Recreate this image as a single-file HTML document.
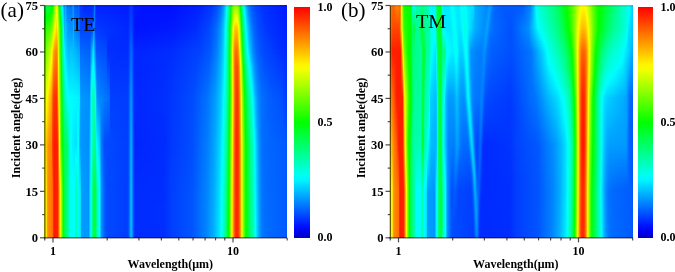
<!DOCTYPE html>
<html><head><meta charset="utf-8"><style>
html,body{margin:0;padding:0;background:#fff;}
body{width:675px;height:272px;position:relative;overflow:hidden;}
.fld{position:absolute;overflow:hidden;}
.fld div{position:absolute;left:0;width:100%;}
.cb{position:absolute;background:linear-gradient(180deg,#ff0000 0.0%,#ff1900 2.5%,#ff3100 5.0%,#ff4a00 7.5%,#ff6200 10.0%,#ff7b00 12.5%,#ff9300 15.0%,#ffac00 17.5%,#ffc400 20.0%,#ffdd00 22.5%,#fff500 25.0%,#efff00 27.5%,#d4ff00 30.0%,#baff00 32.5%,#9fff00 35.0%,#85ff00 37.5%,#6aff00 40.0%,#50ff00 42.5%,#35ff00 45.0%,#1bff00 47.5%,#00ff00 50.0%,#00ff1b 52.5%,#00ff35 55.0%,#00ff50 57.5%,#00ff6a 60.0%,#00ff85 62.5%,#00ff9f 65.0%,#00ffba 67.5%,#00ffd5 70.0%,#00ffef 72.5%,#00f4ff 75.0%,#00d7ff 77.5%,#00bbff 80.0%,#009fff 82.5%,#0082ff 85.0%,#0066ff 87.5%,#004aff 90.0%,#002dff 92.5%,#0011ff 95.0%,#0000ec 97.5%,#0000be 100.0%);}
svg{position:absolute;left:0;top:0;will-change:transform;}
.ax{stroke:#000;stroke-width:1.3;stroke-opacity:0.62;}
.tk{stroke:#000;stroke-width:1.2;stroke-opacity:0.7;}
.tl{font-family:"Liberation Serif",serif;font-weight:bold;font-size:12px;fill:#000;}
.yl{font-size:12.6px;}
.at{font-family:"Liberation Serif",serif;font-weight:bold;font-size:12px;fill:#000;}
.pl{font-family:"Liberation Serif",serif;font-size:21px;fill:#000;}
.tt{font-family:"Liberation Serif",serif;font-size:19px;fill:#000;}
</style></head><body>
<div class="fld" style="left:44.10px;top:5.1px;width:242.90px;height:232.7px"><div style="top:0.0px;height:2.9px;background:linear-gradient(90deg,#00ff46 0.16%,#00ff32 1.71%,#00ff22 3.15%,#00ff01 3.66%,#06ff00 3.77%,#3dff00 3.97%,#5aff00 4.08%,#aeff00 4.69%,#e8ff00 5.00%,#f5ff00 5.31%,#ebff00 5.41%,#d7ff00 5.52%,#1aff00 6.13%,#07ff00 6.24%,#00ff0b 6.34%,#00ff7a 6.96%,#00ffe3 7.37%,#00fdff 7.58%,#00beff 7.99%,#0097ff 8.40%,#0092ff 8.50%,#00b6ff 8.91%,#00b5ff 9.02%,#0083ff 9.32%,#0079ff 9.43%,#006dff 11.38%,#00a3ff 12.00%,#008cff 12.21%,#0062ff 12.52%,#0056ff 13.96%,#0077ff 14.37%,#0043ff 14.68%,#0036ff 15.40%,#0029ff 16.74%,#002cff 20.34%,#0074ff 20.75%,#007eff 20.85%,#0023ff 21.37%,#001bff 34.64%,#0039ff 35.88%,#002eff 36.39%,#0019ff 37.11%,#0012ff 41.23%,#000fff 51.63%,#0021ff 64.08%,#0036ff 69.02%,#0051ff 71.39%,#0076ff 72.93%,#00a1ff 73.96%,#00d1ff 74.68%,#00ffff 75.20%,#00ffb9 75.81%,#00ff51 76.53%,#01ff00 77.05%,#4cff00 77.56%,#77ff00 77.97%,#90ff00 78.39%,#99ff00 78.90%,#95ff00 79.42%,#7fff00 79.83%,#51ff00 80.24%,#00ff03 80.75%,#00ff94 81.58%,#00ffde 82.09%,#00fcff 82.40%,#00c1ff 83.02%,#0094ff 83.74%,#006cff 84.77%,#004eff 86.31%,#0035ff 89.19%,#0021ff 96.71%,#0019ff 100.00%)"></div><div style="top:2.4px;height:2.5px;background:linear-gradient(90deg,#00ff3d 0.16%,#00ff28 1.71%,#00ff18 3.05%,#00ff01 3.46%,#15ff00 3.77%,#65ff00 4.08%,#b6ff00 4.69%,#edff00 5.00%,#f9ff00 5.31%,#efff00 5.41%,#dcff00 5.52%,#23ff00 6.13%,#00ff01 6.34%,#00ff6f 6.96%,#00ffd5 7.37%,#00fff7 7.58%,#00f5ff 7.68%,#00c3ff 7.99%,#009aff 8.40%,#0096ff 8.50%,#00b7ff 8.91%,#00b7ff 9.02%,#0087ff 9.32%,#007dff 9.43%,#0071ff 11.38%,#009bff 11.90%,#00a4ff 12.00%,#009eff 12.10%,#0065ff 12.52%,#0059ff 13.96%,#0076ff 14.37%,#0046ff 14.68%,#003aff 15.19%,#002cff 16.74%,#002eff 20.03%,#0034ff 20.34%,#0067ff 20.65%,#0075ff 20.75%,#007dff 20.85%,#0025ff 21.37%,#001bff 34.54%,#002cff 35.26%,#003bff 35.88%,#002fff 36.39%,#0019ff 37.11%,#0013ff 40.51%,#0010ff 51.73%,#0021ff 63.77%,#0038ff 68.92%,#0054ff 71.39%,#0079ff 72.93%,#00a5ff 73.96%,#00d5ff 74.68%,#00faff 75.09%,#00fff0 75.30%,#00ffa6 75.92%,#00ff39 76.64%,#00ff06 76.95%,#1bff00 77.15%,#65ff00 77.67%,#8dff00 78.08%,#a3ff00 78.49%,#a9ff00 79.11%,#a1ff00 79.52%,#8eff00 79.83%,#6dff00 80.14%,#2eff00 80.55%,#09ff00 80.75%,#00ff0a 80.86%,#00ff8b 81.58%,#00ffd6 82.09%,#00fffa 82.40%,#00eeff 82.61%,#00b8ff 83.22%,#008aff 84.05%,#0065ff 85.18%,#0048ff 86.93%,#0031ff 90.22%,#001aff 100.00%)"></div><div style="top:4.4px;height:2.5px;background:linear-gradient(90deg,#00ff33 0.16%,#00ff1e 1.71%,#00ff10 2.84%,#00ff08 3.15%,#00ff01 3.25%,#25ff00 3.77%,#70ff00 4.08%,#beff00 4.69%,#f1ff00 5.00%,#fdff00 5.31%,#f3ff00 5.41%,#e1ff00 5.52%,#8aff00 5.83%,#2cff00 6.13%,#08ff00 6.34%,#00ff0a 6.44%,#00ff64 6.96%,#00ffc8 7.37%,#00feff 7.68%,#00c9ff 7.99%,#009dff 8.40%,#0099ff 8.50%,#00b9ff 8.91%,#00b8ff 9.02%,#008bff 9.32%,#0082ff 9.43%,#0074ff 11.38%,#0092ff 11.79%,#00a5ff 12.00%,#00a0ff 12.10%,#0068ff 12.52%,#005cff 13.96%,#0075ff 14.37%,#0049ff 14.68%,#003cff 15.09%,#002eff 16.74%,#002eff 19.93%,#003cff 20.34%,#0060ff 20.54%,#0076ff 20.75%,#007bff 20.85%,#0036ff 21.26%,#0027ff 21.37%,#001dff 34.54%,#002dff 35.26%,#003dff 35.88%,#0030ff 36.39%,#0019ff 37.11%,#0013ff 40.00%,#0011ff 51.73%,#0022ff 63.57%,#0039ff 68.81%,#0056ff 71.28%,#007dff 72.93%,#00a9ff 73.96%,#00d9ff 74.68%,#00ffff 75.09%,#00ffbb 75.71%,#00ff63 76.33%,#03ff00 76.95%,#63ff00 77.56%,#92ff00 77.97%,#aeff00 78.39%,#b8ff00 78.90%,#b4ff00 79.42%,#a5ff00 79.72%,#88ff00 80.03%,#4cff00 80.44%,#02ff00 80.86%,#00ff92 81.68%,#00ffdb 82.19%,#00fffe 82.50%,#00bfff 83.22%,#008fff 84.05%,#0068ff 85.18%,#004aff 86.93%,#0033ff 90.12%,#001aff 100.00%)"></div><div style="top:6.4px;height:2.5px;background:linear-gradient(90deg,#00ff2a 0.16%,#00ff13 1.81%,#00ff07 2.74%,#06ff00 3.15%,#34ff00 3.77%,#7bff00 4.08%,#c6ff00 4.69%,#f6ff00 5.00%,#fffd00 5.21%,#fffd00 5.31%,#f7ff00 5.41%,#e6ff00 5.52%,#b1ff00 5.72%,#35ff00 6.13%,#00ff00 6.44%,#00ff59 6.96%,#00ffba 7.37%,#00fff8 7.68%,#00f0ff 7.78%,#00cfff 7.99%,#00a1ff 8.40%,#009dff 8.50%,#00baff 8.91%,#00baff 9.02%,#008fff 9.32%,#0086ff 9.43%,#007eff 10.05%,#0077ff 11.38%,#0089ff 11.69%,#00a7ff 12.00%,#00a3ff 12.10%,#006bff 12.52%,#005eff 13.96%,#0074ff 14.37%,#004cff 14.68%,#003dff 15.09%,#0030ff 16.84%,#0030ff 19.93%,#0044ff 20.34%,#0068ff 20.54%,#0077ff 20.75%,#007aff 20.85%,#0043ff 21.16%,#0029ff 21.37%,#001eff 34.54%,#002fff 35.26%,#003eff 35.78%,#0039ff 36.19%,#001bff 37.01%,#0014ff 38.25%,#0012ff 51.73%,#0023ff 63.36%,#003bff 68.71%,#0057ff 71.18%,#007dff 72.83%,#00a7ff 73.86%,#00deff 74.68%,#00f9ff 74.99%,#00fff1 75.20%,#00ffa9 75.81%,#00ff4c 76.43%,#00ff06 76.84%,#1dff00 77.05%,#6fff00 77.56%,#a0ff00 77.97%,#bcff00 78.39%,#c7ff00 78.90%,#c3ff00 79.42%,#b4ff00 79.72%,#96ff00 80.03%,#59ff00 80.44%,#0eff00 80.86%,#00ff06 80.96%,#00ff89 81.68%,#00ffd3 82.19%,#00fcff 82.61%,#00c5ff 83.22%,#0094ff 84.05%,#006bff 85.18%,#004dff 86.83%,#0036ff 89.71%,#001bff 100.00%)"></div><div style="top:8.4px;height:2.5px;background:linear-gradient(90deg,#00ff21 0.16%,#00ff09 1.81%,#00ff00 2.63%,#1aff00 3.25%,#43ff00 3.77%,#85ff00 4.08%,#dcff00 4.80%,#faff00 5.00%,#fff900 5.21%,#fbff00 5.41%,#ebff00 5.52%,#baff00 5.72%,#3fff00 6.13%,#0aff00 6.44%,#00ff08 6.55%,#00ff4e 6.96%,#00ffef 7.68%,#00f7ff 7.78%,#00d4ff 7.99%,#00a4ff 8.40%,#00a1ff 8.50%,#00bbff 8.91%,#00bbff 9.02%,#0093ff 9.32%,#008aff 9.43%,#0082ff 9.84%,#007aff 11.38%,#0089ff 11.69%,#00a8ff 12.00%,#00a6ff 12.10%,#006eff 12.52%,#0061ff 13.96%,#0074ff 14.37%,#004eff 14.68%,#003eff 14.99%,#0033ff 16.84%,#0033ff 19.93%,#004cff 20.34%,#006fff 20.54%,#0079ff 20.75%,#0079ff 20.85%,#0042ff 21.16%,#002bff 21.37%,#001fff 34.54%,#0030ff 35.26%,#0040ff 35.78%,#003aff 36.19%,#001bff 37.01%,#0014ff 38.25%,#0013ff 51.93%,#0024ff 63.15%,#003cff 68.61%,#005aff 71.18%,#0080ff 72.83%,#00abff 73.86%,#00daff 74.58%,#00feff 74.99%,#00ffca 75.50%,#00ff77 76.12%,#02ff00 76.84%,#7aff00 77.56%,#adff00 77.97%,#cbff00 78.39%,#d6ff00 78.90%,#d2ff00 79.42%,#c2ff00 79.72%,#a4ff00 80.03%,#66ff00 80.44%,#05ff00 80.96%,#00ff23 81.17%,#00ff90 81.78%,#00ffd8 82.30%,#00fffa 82.61%,#00efff 82.81%,#00b6ff 83.53%,#0087ff 84.46%,#0062ff 85.69%,#0045ff 87.65%,#002fff 91.56%,#001cff 100.00%)"></div><div style="top:10.4px;height:2.5px;background:linear-gradient(90deg,#00ff18 0.16%,#00ff01 1.71%,#0fff00 2.74%,#28ff00 3.25%,#52ff00 3.77%,#90ff00 4.08%,#cbff00 4.59%,#ffff00 5.00%,#fff400 5.21%,#fff500 5.31%,#ffff00 5.41%,#f0ff00 5.52%,#c2ff00 5.72%,#48ff00 6.13%,#02ff00 6.55%,#00ff43 6.96%,#00ffce 7.58%,#00feff 7.78%,#00daff 7.99%,#00a7ff 8.40%,#00a5ff 8.50%,#00bdff 8.91%,#00bdff 9.02%,#008eff 9.43%,#0086ff 9.74%,#007dff 11.38%,#008aff 11.69%,#00a9ff 12.00%,#00a9ff 12.10%,#0071ff 12.52%,#0063ff 13.96%,#0073ff 14.37%,#0051ff 14.68%,#003fff 14.99%,#0035ff 17.04%,#0035ff 19.93%,#0054ff 20.34%,#0077ff 20.54%,#0077ff 20.85%,#0040ff 21.16%,#002dff 21.37%,#0020ff 34.54%,#0032ff 35.26%,#0041ff 35.78%,#003bff 36.19%,#001aff 37.01%,#0014ff 38.14%,#0013ff 52.04%,#0025ff 63.05%,#003eff 68.51%,#005bff 71.08%,#0084ff 72.83%,#00afff 73.86%,#00deff 74.58%,#00fffc 74.99%,#00ffb9 75.61%,#00ff60 76.22%,#00ff08 76.74%,#0aff00 76.84%,#86ff00 77.56%,#baff00 77.97%,#d9ff00 78.39%,#e5ff00 78.90%,#e1ff00 79.42%,#d1ff00 79.72%,#b2ff00 80.03%,#74ff00 80.44%,#11ff00 80.96%,#00ff04 81.06%,#00ff77 81.68%,#00ffc3 82.19%,#00fffe 82.71%,#00c3ff 83.43%,#0094ff 84.25%,#006cff 85.38%,#004eff 87.03%,#0036ff 90.02%,#001cff 100.00%)"></div><div style="top:12.4px;height:2.5px;background:linear-gradient(90deg,#00ff0f 0.16%,#02ff00 1.09%,#15ff00 2.63%,#35ff00 3.25%,#61ff00 3.77%,#9bff00 4.08%,#c9ff00 4.49%,#f7ff00 4.90%,#fffb00 5.00%,#fff000 5.21%,#fff200 5.31%,#fffb00 5.41%,#f5ff00 5.52%,#caff00 5.72%,#51ff00 6.13%,#0cff00 6.55%,#00ff05 6.65%,#00ff38 6.96%,#00ffa9 7.47%,#00fffa 7.78%,#00dfff 7.99%,#00abff 8.40%,#00a9ff 8.50%,#00beff 8.91%,#00bfff 9.02%,#0093ff 9.43%,#0089ff 9.74%,#0080ff 11.38%,#008bff 11.69%,#00aaff 12.00%,#00acff 12.10%,#0074ff 12.52%,#0066ff 13.96%,#0072ff 14.37%,#0061ff 14.57%,#004cff 14.78%,#0040ff 14.99%,#0038ff 17.15%,#0038ff 19.93%,#005cff 20.34%,#007eff 20.54%,#0076ff 20.85%,#003fff 21.16%,#002fff 21.37%,#0021ff 34.54%,#0033ff 35.26%,#0043ff 35.78%,#003dff 36.19%,#001dff 36.91%,#0014ff 37.73%,#0014ff 52.14%,#0026ff 62.84%,#003fff 68.40%,#005eff 71.08%,#0087ff 72.83%,#00b2ff 73.86%,#00e2ff 74.58%,#00fdff 74.89%,#00ffcd 75.40%,#00ff7b 76.02%,#00ff00 76.74%,#91ff00 77.56%,#c7ff00 77.97%,#e8ff00 78.39%,#f4ff00 78.80%,#f0ff00 79.42%,#e0ff00 79.72%,#c1ff00 80.03%,#81ff00 80.44%,#07ff00 81.06%,#00ff0e 81.17%,#00ff7f 81.78%,#00ffc9 82.30%,#00fff7 82.71%,#00fdff 82.81%,#00c2ff 83.53%,#0090ff 84.46%,#0068ff 85.69%,#0049ff 87.55%,#0033ff 91.05%,#001dff 100.00%)"></div><div style="top:14.4px;height:2.5px;background:linear-gradient(90deg,#00ff06 0.16%,#07ff00 0.78%,#20ff00 2.63%,#4aff00 3.36%,#70ff00 3.77%,#a6ff00 4.08%,#c9ff00 4.38%,#fcff00 4.90%,#ffeb00 5.21%,#ffee00 5.31%,#faff00 5.52%,#d2ff00 5.72%,#5aff00 6.13%,#06ff00 6.65%,#00ff1c 6.85%,#00ff43 7.06%,#00ff9d 7.47%,#00fff4 7.78%,#00f5ff 7.88%,#00aeff 8.40%,#00b2ff 8.60%,#00c0ff 9.02%,#0097ff 9.43%,#008dff 9.63%,#0085ff 11.49%,#008bff 11.69%,#00abff 12.00%,#00afff 12.10%,#0076ff 12.52%,#0068ff 13.96%,#0071ff 14.37%,#0063ff 14.57%,#004fff 14.78%,#0041ff 14.99%,#003aff 17.56%,#003aff 19.93%,#0064ff 20.34%,#0086ff 20.54%,#0074ff 20.85%,#003eff 21.16%,#0031ff 21.37%,#0022ff 34.54%,#0035ff 35.26%,#0045ff 35.78%,#003eff 36.19%,#001dff 36.91%,#0013ff 37.73%,#0015ff 52.35%,#0027ff 62.74%,#0041ff 68.40%,#005fff 70.98%,#0088ff 72.73%,#00b1ff 73.75%,#00e6ff 74.58%,#00fffd 74.89%,#00ffbc 75.50%,#00ff65 76.12%,#00ff0c 76.64%,#07ff00 76.74%,#8bff00 77.46%,#c8ff00 77.87%,#f0ff00 78.28%,#ffff00 78.59%,#fffb00 79.21%,#fbff00 79.52%,#e6ff00 79.83%,#c1ff00 80.14%,#7aff00 80.55%,#00ff03 81.17%,#00ff76 81.78%,#00ffc1 82.30%,#00fffa 82.81%,#00f0ff 83.02%,#00baff 83.74%,#008cff 84.66%,#0063ff 86.00%,#0047ff 87.86%,#0031ff 91.66%,#001dff 100.00%)"></div><div style="top:16.4px;height:2.5px;background:linear-gradient(90deg,#03ff00 0.16%,#20ff00 1.91%,#2aff00 2.63%,#60ff00 3.46%,#7fff00 3.77%,#bdff00 4.18%,#f7ff00 4.80%,#fffc00 4.90%,#ffe700 5.21%,#fff300 5.41%,#ffff00 5.52%,#daff00 5.72%,#63ff00 6.13%,#00ff01 6.75%,#00ff22 6.96%,#00ff77 7.37%,#00ffb0 7.58%,#00ffee 7.78%,#00faff 7.88%,#00b1ff 8.40%,#00b9ff 8.71%,#00c2ff 9.02%,#009bff 9.43%,#0090ff 9.63%,#0088ff 11.49%,#008cff 11.69%,#00acff 12.00%,#00b2ff 12.10%,#0079ff 12.52%,#006cff 14.06%,#0071ff 14.37%,#0065ff 14.57%,#0049ff 14.88%,#0042ff 14.99%,#003dff 18.48%,#003dff 19.93%,#006cff 20.34%,#008dff 20.54%,#0073ff 20.85%,#003dff 21.16%,#0033ff 21.37%,#0023ff 34.54%,#0036ff 35.26%,#0047ff 35.78%,#003fff 36.19%,#001dff 36.91%,#0013ff 37.73%,#0017ff 52.55%,#0028ff 62.64%,#0043ff 68.30%,#0062ff 70.98%,#008bff 72.73%,#00b4ff 73.75%,#00eaff 74.58%,#00fcff 74.78%,#00ffe6 75.09%,#00ff9d 75.71%,#00ff3d 76.33%,#00ff05 76.64%,#22ff00 76.84%,#a7ff00 77.56%,#e1ff00 77.97%,#feff00 78.28%,#ffef00 78.69%,#ffee00 79.31%,#feff00 79.72%,#ddff00 80.03%,#9bff00 80.44%,#08ff00 81.17%,#00ff0d 81.27%,#00ff6d 81.78%,#00ffb9 82.30%,#00fffd 82.91%,#00c0ff 83.74%,#0090ff 84.66%,#0068ff 85.90%,#004bff 87.65%,#0035ff 91.05%,#001eff 100.00%)"></div><div style="top:18.4px;height:2.5px;background:linear-gradient(90deg,#0dff00 0.16%,#29ff00 1.81%,#34ff00 2.63%,#6dff00 3.46%,#9dff00 3.87%,#d4ff00 4.28%,#feff00 4.80%,#ffe200 5.21%,#fff000 5.41%,#fffa00 5.52%,#f6ff00 5.62%,#e2ff00 5.72%,#6cff00 6.13%,#0aff00 6.75%,#00ff07 6.85%,#00ff40 7.16%,#00ff6a 7.37%,#00ffa6 7.58%,#00ffe8 7.78%,#00fffe 7.88%,#00b4ff 8.40%,#00c3ff 9.02%,#0099ff 9.53%,#0092ff 9.74%,#008bff 11.59%,#008cff 11.69%,#00b5ff 12.10%,#007cff 12.52%,#006fff 14.16%,#0070ff 14.37%,#0068ff 14.57%,#0043ff 14.99%,#003fff 19.93%,#0084ff 20.44%,#0095ff 20.54%,#0072ff 20.85%,#003cff 21.16%,#0034ff 21.47%,#0024ff 34.54%,#0038ff 35.26%,#0048ff 35.78%,#0040ff 36.19%,#001dff 36.91%,#0013ff 37.63%,#0017ff 52.66%,#0029ff 62.54%,#0045ff 68.30%,#0065ff 70.98%,#008eff 72.73%,#00b8ff 73.75%,#00e6ff 74.48%,#00fffe 74.78%,#00ffc0 75.40%,#00ff7b 75.92%,#02ff00 76.64%,#b2ff00 77.56%,#eeff00 77.97%,#faff00 78.08%,#fff300 78.28%,#ffe100 78.69%,#ffe000 79.31%,#fff300 79.72%,#fffb00 79.83%,#f8ff00 79.93%,#ccff00 80.24%,#6aff00 80.75%,#00ff03 81.27%,#00ff64 81.78%,#00ffb2 82.30%,#00fff7 82.91%,#00feff 83.02%,#00c5ff 83.74%,#0094ff 84.66%,#006bff 85.90%,#004cff 87.65%,#0036ff 90.94%,#001fff 100.00%)"></div><div style="top:20.4px;height:2.5px;background:linear-gradient(90deg,#16ff00 0.16%,#30ff00 1.61%,#3fff00 2.63%,#7bff00 3.46%,#b8ff00 3.97%,#deff00 4.28%,#fdff00 4.69%,#ffde00 5.21%,#fff600 5.52%,#fdff00 5.62%,#eaff00 5.72%,#75ff00 6.13%,#04ff00 6.85%,#00ff0c 6.96%,#00ff5c 7.37%,#00ff79 7.47%,#00ffe2 7.78%,#00fff9 7.88%,#00f6ff 7.99%,#00b8ff 8.40%,#00c5ff 9.02%,#0096ff 9.63%,#008dff 11.69%,#00b8ff 12.10%,#007fff 12.52%,#006cff 14.47%,#006aff 14.57%,#0043ff 14.99%,#0042ff 19.93%,#009cff 20.54%,#005eff 20.96%,#003aff 21.16%,#0035ff 22.50%,#0025ff 34.54%,#0039ff 35.26%,#004aff 35.78%,#0042ff 36.19%,#001dff 36.91%,#0013ff 37.63%,#0019ff 52.86%,#002aff 62.43%,#0046ff 68.20%,#0066ff 70.87%,#0092ff 72.73%,#00bbff 73.75%,#00eaff 74.48%,#00fbff 74.68%,#00fff1 74.89%,#00ffaf 75.50%,#00ff66 76.02%,#00ff0b 76.53%,#08ff00 76.64%,#bdff00 77.56%,#fbff00 77.97%,#ffe600 78.28%,#ffd300 78.69%,#ffd200 79.31%,#ffde00 79.62%,#fff800 79.93%,#f9ff00 80.03%,#b5ff00 80.44%,#08ff00 81.27%,#00ff0d 81.37%,#00ff6c 81.89%,#00ffb7 82.40%,#00fffa 83.02%,#00f2ff 83.22%,#00b8ff 84.05%,#0088ff 85.08%,#0062ff 86.41%,#0047ff 88.37%,#0031ff 92.69%,#001fff 100.00%)"></div><div style="top:22.4px;height:2.5px;background:linear-gradient(90deg,#1fff00 0.16%,#38ff00 1.50%,#49ff00 2.63%,#89ff00 3.46%,#e9ff00 4.28%,#feff00 4.59%,#ffd900 5.21%,#fffa00 5.62%,#f3ff00 5.72%,#7fff00 6.13%,#00ff01 6.96%,#00ff4f 7.37%,#00ff6d 7.47%,#00ffdb 7.78%,#00fff3 7.88%,#00fbff 7.99%,#00bbff 8.40%,#00c6ff 9.02%,#0099ff 9.63%,#008eff 11.69%,#00bbff 12.10%,#0082ff 12.52%,#006cff 14.57%,#0044ff 14.99%,#0044ff 19.93%,#00a4ff 20.54%,#0039ff 21.16%,#0026ff 34.54%,#003bff 35.26%,#004cff 35.78%,#0047ff 36.08%,#001dff 36.91%,#0013ff 37.63%,#001aff 53.17%,#002bff 62.33%,#0048ff 68.20%,#0069ff 70.87%,#0095ff 72.73%,#00bfff 73.75%,#00eeff 74.48%,#00ffff 74.68%,#00ffc3 75.30%,#00ff80 75.81%,#00ff2b 76.33%,#00ff05 76.53%,#24ff00 76.74%,#c7ff00 77.56%,#faff00 77.87%,#ffec00 78.08%,#ffcc00 78.49%,#ffc300 78.90%,#ffc700 79.42%,#ffd700 79.72%,#fff700 80.03%,#f9ff00 80.14%,#adff00 80.55%,#12ff00 81.27%,#00ff03 81.37%,#00ff64 81.89%,#00ffb0 82.40%,#00fff3 83.02%,#00fffc 83.12%,#00bdff 84.05%,#008cff 85.08%,#0064ff 86.41%,#0049ff 88.27%,#0033ff 92.28%,#0020ff 100.00%)"></div><div style="top:24.4px;height:2.5px;background:linear-gradient(90deg,#26ff00 0.16%,#55ff00 2.63%,#95ff00 3.46%,#f4ff00 4.28%,#fffc00 4.49%,#ffd200 5.21%,#ffea00 5.52%,#fff400 5.62%,#f9ff00 5.72%,#82ff00 6.13%,#01ff00 6.96%,#00ff4d 7.37%,#00ff6b 7.47%,#00ffd8 7.78%,#00ffef 7.88%,#00fffe 7.99%,#00c0ff 8.40%,#00c7ff 9.02%,#009cff 9.63%,#0092ff 11.69%,#00bbff 12.10%,#0087ff 12.52%,#0070ff 14.57%,#0047ff 14.99%,#0049ff 19.21%,#004fff 19.93%,#00a8ff 20.54%,#003fff 21.16%,#0035ff 24.87%,#0026ff 34.44%,#0034ff 35.06%,#004eff 35.78%,#004aff 36.08%,#001eff 36.91%,#0014ff 37.63%,#001bff 53.17%,#002dff 62.43%,#0049ff 68.20%,#006bff 70.87%,#0097ff 72.73%,#00c1ff 73.75%,#00efff 74.48%,#00fffe 74.68%,#00ffc2 75.30%,#00ff7f 75.81%,#00ff29 76.33%,#00ff03 76.53%,#cdff00 77.56%,#fffe00 77.87%,#ffd200 78.28%,#ffbe00 78.69%,#ffbc00 79.31%,#ffc800 79.62%,#ffe200 79.93%,#fffd00 80.14%,#dfff00 80.34%,#5dff00 80.96%,#04ff00 81.37%,#00ff39 81.68%,#00ff8e 82.19%,#00ffcf 82.71%,#00fdff 83.22%,#00c1ff 84.05%,#008fff 85.08%,#0066ff 86.41%,#004aff 88.27%,#0034ff 92.18%,#0020ff 100.00%)"></div><div style="top:26.4px;height:2.5px;background:linear-gradient(90deg,#2cff00 0.16%,#60ff00 2.63%,#a1ff00 3.46%,#f5ff00 4.18%,#fffe00 4.28%,#ffcb00 5.21%,#ffd700 5.41%,#ffee00 5.62%,#feff00 5.72%,#85ff00 6.13%,#02ff00 6.96%,#00ff4e 7.37%,#00ff8e 7.58%,#00ffd4 7.78%,#00ffeb 7.88%,#00fff9 7.99%,#00f5ff 8.09%,#00c6ff 8.40%,#00c8ff 9.02%,#00a0ff 9.63%,#0096ff 11.69%,#00bcff 12.10%,#008cff 12.52%,#0075ff 14.57%,#004bff 14.99%,#004bff 19.00%,#005aff 19.93%,#00a0ff 20.44%,#00abff 20.54%,#0045ff 21.16%,#003dff 21.78%,#0033ff 25.90%,#0026ff 34.44%,#0035ff 35.06%,#0051ff 35.78%,#004cff 36.08%,#0020ff 36.91%,#0015ff 37.63%,#001dff 53.07%,#002fff 62.64%,#004bff 68.20%,#006cff 70.87%,#0099ff 72.73%,#00c2ff 73.75%,#00f1ff 74.48%,#00fffd 74.68%,#00ffc1 75.30%,#00ff7d 75.81%,#00ff28 76.33%,#00ff01 76.53%,#d1ff00 77.56%,#f5ff00 77.77%,#fff900 77.87%,#ffd500 78.18%,#ffbe00 78.49%,#ffb300 78.90%,#ffb700 79.42%,#ffc700 79.72%,#ffe700 80.03%,#f9ff00 80.24%,#a9ff00 80.65%,#0bff00 81.37%,#00ff0a 81.47%,#00ff68 81.99%,#00ffb2 82.50%,#00fff3 83.12%,#00f9ff 83.33%,#00bfff 84.15%,#008aff 85.28%,#0064ff 86.62%,#0049ff 88.58%,#0033ff 93.00%,#0021ff 100.00%)"></div><div style="top:28.4px;height:2.5px;background:linear-gradient(90deg,#32ff00 0.16%,#6bff00 2.63%,#a3ff00 3.36%,#f6ff00 4.08%,#fffe00 4.18%,#ffe200 4.59%,#ffc300 5.21%,#ffce00 5.41%,#ffe700 5.62%,#fffa00 5.72%,#c6ff00 5.93%,#88ff00 6.13%,#03ff00 6.96%,#00ff4e 7.37%,#00ff8d 7.58%,#00ffd1 7.78%,#00ffe6 7.88%,#00faff 8.09%,#00ccff 8.40%,#00c9ff 9.02%,#00a4ff 9.63%,#009bff 11.69%,#00bcff 12.10%,#0091ff 12.52%,#007aff 14.57%,#004eff 14.99%,#004eff 19.00%,#0066ff 19.93%,#009dff 20.34%,#00afff 20.54%,#004bff 21.16%,#003fff 21.68%,#0036ff 25.79%,#0030ff 26.51%,#0027ff 34.44%,#0036ff 35.06%,#0053ff 35.78%,#004fff 36.08%,#0022ff 36.91%,#0017ff 37.53%,#001eff 52.86%,#0031ff 62.74%,#004cff 68.20%,#006eff 70.87%,#009aff 72.73%,#00c4ff 73.75%,#00f2ff 74.48%,#00fffb 74.68%,#00ffbf 75.30%,#00ff7c 75.81%,#00ff26 76.33%,#01ff00 76.53%,#d6ff00 77.56%,#faff00 77.77%,#ffe600 77.97%,#ffc500 78.28%,#ffb000 78.69%,#ffad00 79.31%,#ffb900 79.62%,#ffd300 79.93%,#fffc00 80.24%,#dcff00 80.44%,#12ff00 81.37%,#00ff03 81.47%,#00ff62 81.99%,#00ffad 82.50%,#00ffee 83.12%,#00feff 83.33%,#00c3ff 84.15%,#008dff 85.28%,#0066ff 86.62%,#004bff 88.47%,#0035ff 92.59%,#0021ff 100.00%)"></div><div style="top:30.4px;height:2.5px;background:linear-gradient(90deg,#39ff00 0.16%,#77ff00 2.63%,#aeff00 3.36%,#f8ff00 3.97%,#fffc00 4.08%,#ffe200 4.38%,#ffbc00 5.21%,#ffc500 5.41%,#ffe100 5.62%,#fff500 5.72%,#ebff00 5.83%,#8aff00 6.13%,#03ff00 6.96%,#00ff4f 7.37%,#00ff8c 7.58%,#00ffce 7.78%,#00fff0 7.99%,#00ffff 8.09%,#00d2ff 8.40%,#00caff 9.02%,#00a8ff 9.63%,#00a3ff 10.97%,#00a0ff 11.69%,#00bcff 12.10%,#0096ff 12.52%,#007fff 14.57%,#0052ff 14.99%,#004eff 18.90%,#0071ff 19.93%,#00a6ff 20.34%,#00b3ff 20.54%,#0052ff 21.16%,#0042ff 21.68%,#0037ff 25.79%,#0030ff 26.31%,#0027ff 34.44%,#0037ff 35.06%,#0053ff 35.67%,#0054ff 35.98%,#0040ff 36.39%,#0024ff 36.91%,#0019ff 37.53%,#0020ff 52.76%,#0033ff 62.84%,#004eff 68.30%,#0071ff 70.98%,#00a2ff 72.93%,#00cbff 73.86%,#00fbff 74.58%,#00ffe9 74.89%,#00ffa5 75.50%,#00ff5b 76.02%,#03ff00 76.53%,#daff00 77.56%,#ffff00 77.77%,#ffc900 78.18%,#ffb100 78.49%,#ffa500 78.90%,#ffa800 79.42%,#ffb800 79.72%,#ffd700 80.03%,#fff500 80.24%,#f8ff00 80.34%,#8cff00 80.86%,#04ff00 81.47%,#00ff5c 81.99%,#00ffa7 82.50%,#00ffea 83.12%,#00fffc 83.33%,#00ceff 84.05%,#0099ff 85.08%,#006dff 86.41%,#0051ff 88.06%,#003aff 91.46%,#0022ff 100.00%)"></div><div style="top:32.4px;height:2.5px;background:linear-gradient(90deg,#3fff00 0.16%,#7eff00 2.53%,#9fff00 3.05%,#b9ff00 3.36%,#fbff00 3.87%,#ffe700 4.18%,#ffcd00 4.59%,#ffb400 5.21%,#ffbc00 5.41%,#ffdb00 5.62%,#fff000 5.72%,#f0ff00 5.83%,#8dff00 6.13%,#04ff00 6.96%,#00ff24 7.16%,#00ff4f 7.37%,#00ffab 7.68%,#00ffcb 7.78%,#00ffec 7.99%,#00fffa 8.09%,#00e7ff 8.30%,#00d8ff 8.40%,#00c6ff 9.12%,#00abff 9.63%,#00a6ff 10.46%,#00a4ff 11.69%,#00bdff 12.10%,#009aff 12.52%,#0084ff 14.57%,#0055ff 14.99%,#0050ff 18.90%,#007dff 19.93%,#00afff 20.34%,#00b6ff 20.54%,#0058ff 21.16%,#0045ff 21.57%,#0039ff 25.79%,#002fff 26.20%,#0028ff 34.44%,#0038ff 35.06%,#0056ff 35.67%,#0057ff 35.98%,#0043ff 36.39%,#0025ff 36.91%,#001aff 37.53%,#0021ff 52.76%,#0035ff 63.05%,#004fff 68.30%,#0073ff 70.98%,#00a4ff 72.93%,#00ccff 73.86%,#00fdff 74.58%,#00ffd4 75.09%,#00ff97 75.61%,#00ff48 76.12%,#00ff10 76.43%,#05ff00 76.53%,#f2ff00 77.67%,#fffa00 77.77%,#ffc300 78.18%,#ffaa00 78.49%,#ff9e00 78.90%,#ffa100 79.42%,#ffb000 79.72%,#ffcf00 80.03%,#fffe00 80.34%,#abff00 80.75%,#0bff00 81.47%,#00ff0a 81.58%,#00ff67 82.09%,#00ffaf 82.61%,#00ffee 83.22%,#00ffff 83.43%,#00c5ff 84.25%,#0090ff 85.38%,#0068ff 86.72%,#004dff 88.58%,#0037ff 92.80%,#0022ff 100.00%)"></div><div style="top:34.4px;height:2.5px;background:linear-gradient(90deg,#46ff00 0.16%,#7dff00 2.22%,#94ff00 2.74%,#b8ff00 3.25%,#faff00 3.77%,#ffee00 3.97%,#ffc700 4.49%,#ffad00 5.21%,#ffb300 5.41%,#ffd500 5.62%,#ffeb00 5.72%,#f5ff00 5.83%,#90ff00 6.13%,#18ff00 6.85%,#05ff00 6.96%,#00ff24 7.16%,#00ff4f 7.37%,#00ffc7 7.78%,#00fff5 8.09%,#00fbff 8.19%,#00deff 8.40%,#00c3ff 9.22%,#00aeff 9.74%,#00aaff 10.46%,#00a9ff 11.69%,#00bdff 12.10%,#009fff 12.52%,#0089ff 14.57%,#0058ff 14.99%,#0053ff 18.90%,#0084ff 19.82%,#0088ff 19.93%,#00b7ff 20.34%,#00baff 20.54%,#005eff 21.16%,#0047ff 21.57%,#003eff 25.69%,#002fff 26.20%,#0028ff 34.44%,#0035ff 34.95%,#0058ff 35.67%,#005aff 35.98%,#0045ff 36.39%,#0027ff 36.91%,#001cff 37.53%,#0023ff 52.66%,#0037ff 63.26%,#0050ff 68.30%,#0074ff 70.98%,#00a5ff 72.93%,#00cdff 73.86%,#00feff 74.58%,#00ffd3 75.09%,#00ff96 75.61%,#00ff47 76.12%,#00ff0e 76.43%,#06ff00 76.53%,#f6ff00 77.67%,#fff600 77.77%,#ffbd00 78.18%,#ffa400 78.49%,#ff9700 78.90%,#ff9900 79.42%,#ffa900 79.72%,#ffc800 80.03%,#fff600 80.34%,#f5ff00 80.44%,#12ff00 81.47%,#00ff04 81.58%,#00ff61 82.09%,#00ffaa 82.61%,#00ffea 83.22%,#00fffb 83.43%,#00e4ff 83.84%,#00a9ff 84.87%,#007aff 86.11%,#005aff 87.55%,#0043ff 90.12%,#002dff 97.12%,#0023ff 100.00%)"></div><div style="top:36.4px;height:2.5px;background:linear-gradient(90deg,#4cff00 0.16%,#70ff00 1.50%,#94ff00 2.53%,#c3ff00 3.25%,#f9ff00 3.66%,#fff800 3.77%,#ffe200 3.97%,#ffbc00 4.49%,#ffa500 5.21%,#ffaa00 5.41%,#ffcf00 5.62%,#faff00 5.83%,#93ff00 6.13%,#19ff00 6.85%,#06ff00 6.96%,#00ff24 7.16%,#00ff50 7.37%,#00ffc4 7.78%,#00fffe 8.19%,#00e3ff 8.40%,#00b1ff 9.74%,#00adff 10.35%,#00aeff 11.59%,#00b1ff 11.79%,#00bdff 12.10%,#00a4ff 12.52%,#008dff 14.57%,#005cff 14.99%,#0055ff 18.90%,#008fff 19.82%,#0094ff 19.93%,#00c0ff 20.34%,#00bdff 20.54%,#0065ff 21.16%,#0049ff 21.57%,#0040ff 25.69%,#002fff 26.10%,#0029ff 34.44%,#0036ff 34.95%,#005aff 35.67%,#005cff 35.98%,#0047ff 36.39%,#0029ff 36.91%,#001dff 37.53%,#0024ff 52.66%,#003aff 63.46%,#0052ff 68.40%,#0076ff 70.98%,#00a7ff 72.93%,#00cfff 73.86%,#00ffff 74.58%,#00ffc7 75.20%,#00ff87 75.71%,#00ff33 76.22%,#00ff0d 76.43%,#08ff00 76.53%,#fbff00 77.67%,#ffd100 77.97%,#ffad00 78.28%,#ff9800 78.59%,#ff8f00 79.00%,#ff9500 79.52%,#ffa900 79.83%,#ffce00 80.14%,#fdff00 80.44%,#03ff00 81.58%,#00ff6c 82.19%,#00ffb1 82.71%,#00ffee 83.33%,#00ffff 83.53%,#00c1ff 84.46%,#008aff 85.69%,#0065ff 87.03%,#004cff 88.99%,#0036ff 93.72%,#0023ff 100.00%)"></div><div style="top:38.4px;height:2.5px;background:linear-gradient(90deg,#52ff00 0.16%,#6bff00 1.09%,#9aff00 2.43%,#c6ff00 3.15%,#cdff00 3.25%,#f7ff00 3.56%,#fff900 3.66%,#ffde00 3.87%,#ffb100 4.49%,#ff9e00 5.21%,#ffa100 5.41%,#ffc800 5.62%,#ffe000 5.72%,#ffff00 5.83%,#95ff00 6.13%,#1bff00 6.85%,#07ff00 6.96%,#00ff0e 7.06%,#00ff50 7.37%,#00ffc1 7.78%,#00fff9 8.19%,#00f8ff 8.30%,#00e9ff 8.40%,#00b5ff 9.74%,#00b0ff 10.25%,#00b3ff 11.59%,#00bbff 12.00%,#00beff 12.10%,#00a9ff 12.52%,#0092ff 14.57%,#005fff 14.99%,#0058ff 18.90%,#009aff 19.82%,#00aaff 20.03%,#00c8ff 20.34%,#00c1ff 20.54%,#006bff 21.16%,#004cff 21.57%,#0042ff 25.69%,#002fff 26.10%,#0029ff 34.44%,#0037ff 34.95%,#005cff 35.67%,#005fff 35.98%,#004aff 36.39%,#002bff 36.91%,#001fff 37.53%,#0026ff 52.55%,#003cff 63.67%,#0053ff 68.40%,#0077ff 70.98%,#00acff 73.03%,#00d6ff 73.96%,#00fffe 74.58%,#00ffc6 75.20%,#00ff86 75.71%,#00ff32 76.22%,#00ff0b 76.43%,#09ff00 76.53%,#ffff00 77.67%,#ffbe00 78.08%,#ff9e00 78.39%,#ff8d00 78.69%,#ff8800 79.21%,#ff9300 79.62%,#ffac00 79.93%,#ffd500 80.24%,#fff900 80.44%,#f0ff00 80.55%,#0aff00 81.58%,#00ff0b 81.68%,#00ff66 82.19%,#00ffac 82.71%,#00ffea 83.33%,#00fcff 83.64%,#00c0ff 84.56%,#0089ff 85.80%,#0065ff 87.13%,#004bff 89.19%,#0036ff 94.24%,#0024ff 100.00%)"></div><div style="top:40.4px;height:2.5px;background:linear-gradient(90deg,#59ff00 0.16%,#6eff00 0.99%,#a5ff00 2.43%,#d8ff00 3.25%,#fffb00 3.56%,#ffd200 3.87%,#ffa600 4.49%,#ff9700 5.31%,#ff9800 5.41%,#ffc200 5.62%,#ffdb00 5.72%,#fffa00 5.83%,#bcff00 6.03%,#98ff00 6.13%,#1cff00 6.85%,#08ff00 6.96%,#00ff0e 7.06%,#00ff6b 7.47%,#00ffbd 7.78%,#00fdff 8.30%,#00efff 8.40%,#00c8ff 9.22%,#00b5ff 9.94%,#00b8ff 11.49%,#00baff 11.90%,#00beff 12.10%,#00adff 12.62%,#0097ff 14.57%,#0063ff 14.99%,#005aff 18.90%,#00a5ff 19.82%,#00c8ff 20.23%,#00d1ff 20.34%,#00c4ff 20.54%,#0071ff 21.16%,#004eff 21.57%,#0044ff 25.69%,#002eff 26.10%,#002aff 34.44%,#0038ff 34.95%,#005fff 35.67%,#0061ff 35.98%,#004cff 36.39%,#002dff 36.91%,#0020ff 37.53%,#0027ff 52.55%,#003eff 63.98%,#0055ff 68.40%,#0079ff 70.98%,#00aeff 73.03%,#00d7ff 73.96%,#00fffd 74.58%,#00ffc5 75.20%,#00ff85 75.71%,#00ff31 76.22%,#00ff0a 76.43%,#0bff00 76.53%,#eeff00 77.56%,#fffb00 77.67%,#ffb900 78.08%,#ff9800 78.39%,#ff8600 78.69%,#ff8000 79.21%,#ff8b00 79.62%,#ffa400 79.93%,#ffcd00 80.24%,#fff100 80.44%,#f9ff00 80.55%,#11ff00 81.58%,#00ff04 81.68%,#00ff60 82.19%,#00ffa7 82.71%,#00ffe5 83.33%,#00fffe 83.64%,#00beff 84.66%,#0088ff 85.90%,#0065ff 87.24%,#004cff 89.30%,#0036ff 94.44%,#0025ff 99.79%,#0025ff 100.00%)"></div><div style="top:42.4px;height:2.5px;background:linear-gradient(90deg,#5fff00 0.16%,#71ff00 0.89%,#aaff00 2.33%,#e2ff00 3.25%,#fffe00 3.46%,#ffc600 3.87%,#ff9c00 4.49%,#ff8f00 5.31%,#ff8f00 5.41%,#ffbc00 5.62%,#fff500 5.83%,#e5ff00 5.93%,#9bff00 6.13%,#1dff00 6.85%,#08ff00 6.96%,#00ff0d 7.06%,#00ff6b 7.47%,#00ffba 7.78%,#00fffc 8.30%,#00e3ff 8.71%,#00cdff 9.12%,#00b6ff 10.05%,#00bdff 11.49%,#00bcff 12.21%,#00afff 12.82%,#009cff 14.57%,#0066ff 14.99%,#005cff 18.90%,#00b0ff 19.82%,#00daff 20.34%,#00c8ff 20.54%,#0078ff 21.16%,#0051ff 21.57%,#0046ff 25.69%,#002eff 26.10%,#002aff 34.44%,#0038ff 34.95%,#0061ff 35.67%,#0064ff 35.98%,#004eff 36.39%,#002eff 36.91%,#0022ff 37.53%,#0029ff 52.55%,#0040ff 64.18%,#0057ff 68.51%,#007cff 71.08%,#00b3ff 73.14%,#00deff 74.06%,#00fffc 74.58%,#00ffc4 75.20%,#00ff84 75.71%,#00ff30 76.22%,#00ff09 76.43%,#0cff00 76.53%,#f2ff00 77.56%,#fff700 77.67%,#ffb300 78.08%,#ff9100 78.39%,#ff7f00 78.69%,#ff7900 79.21%,#ff8400 79.62%,#ff9c00 79.93%,#ffc600 80.24%,#fffd00 80.55%,#8bff00 81.06%,#02ff00 81.68%,#00ff6a 82.30%,#00ffae 82.81%,#00ffea 83.43%,#00fdff 83.74%,#00c1ff 84.66%,#008bff 85.90%,#0066ff 87.24%,#004dff 89.30%,#0037ff 94.44%,#0028ff 99.38%,#0025ff 100.00%)"></div><div style="top:44.4px;height:2.5px;background:linear-gradient(90deg,#66ff00 0.16%,#78ff00 0.89%,#b4ff00 2.33%,#edff00 3.25%,#fcff00 3.36%,#ffb900 3.87%,#ff9100 4.49%,#ff8600 5.41%,#ffb600 5.62%,#fff000 5.83%,#e9ff00 5.93%,#9eff00 6.13%,#34ff00 6.75%,#09ff00 6.96%,#00ff0c 7.06%,#00ff6b 7.47%,#00ffb7 7.78%,#00fff6 8.30%,#00fbff 8.40%,#00d1ff 9.02%,#00baff 10.15%,#00c1ff 11.49%,#00b9ff 12.41%,#00a1ff 14.57%,#0069ff 14.99%,#005fff 18.90%,#00b4ff 19.72%,#00e2ff 20.34%,#0073ff 21.26%,#0053ff 21.57%,#0049ff 25.69%,#002eff 26.10%,#002bff 34.44%,#0039ff 34.95%,#0063ff 35.67%,#0066ff 35.98%,#0051ff 36.39%,#0030ff 36.91%,#0023ff 37.53%,#002bff 52.45%,#0043ff 64.49%,#0058ff 68.51%,#007eff 71.08%,#00b4ff 73.14%,#00e0ff 74.06%,#00fcff 74.48%,#00ffea 74.78%,#00ffab 75.40%,#00ff64 75.92%,#00ff07 76.43%,#0dff00 76.53%,#f6ff00 77.56%,#fff300 77.67%,#ffae00 78.08%,#ff8b00 78.39%,#ff7800 78.69%,#ff7200 79.21%,#ff7c00 79.62%,#ff9400 79.93%,#ffbe00 80.24%,#fff500 80.55%,#f3ff00 80.65%,#1eff00 81.58%,#09ff00 81.68%,#00ff0c 81.78%,#00ff65 82.30%,#00ffa9 82.81%,#00ffe5 83.43%,#00fffd 83.74%,#00baff 84.87%,#0086ff 86.11%,#0064ff 87.44%,#004cff 89.60%,#0036ff 95.27%,#0027ff 99.69%,#0026ff 100.00%)"></div><div style="top:46.4px;height:2.5px;background:linear-gradient(90deg,#6cff00 0.16%,#7eff00 0.89%,#bdff00 2.33%,#f6ff00 3.25%,#fff900 3.36%,#ffaf00 3.87%,#ff8800 4.49%,#ff7f00 5.41%,#ffb000 5.62%,#ffec00 5.83%,#edff00 5.93%,#a0ff00 6.13%,#36ff00 6.75%,#0aff00 6.96%,#00ff0b 7.06%,#00ffb3 7.78%,#00fffe 8.40%,#00d3ff 9.02%,#00bdff 10.15%,#00c6ff 11.38%,#00a5ff 14.57%,#006dff 14.99%,#0061ff 18.90%,#00bdff 19.72%,#00eaff 20.34%,#0084ff 21.16%,#0056ff 21.57%,#004bff 25.69%,#002fff 26.10%,#002cff 34.44%,#003aff 34.95%,#0065ff 35.67%,#0069ff 35.98%,#0053ff 36.39%,#0032ff 36.91%,#0025ff 37.42%,#002bff 52.14%,#0044ff 64.49%,#0059ff 68.51%,#0080ff 71.08%,#00b6ff 73.14%,#00e1ff 74.06%,#00fdff 74.48%,#00ffd7 74.99%,#00ff9e 75.50%,#00ff52 76.02%,#00ff07 76.43%,#0eff00 76.53%,#caff00 77.36%,#f9ff00 77.56%,#fff000 77.67%,#ffaa00 78.08%,#ff8600 78.39%,#ff7200 78.69%,#ff6b00 79.21%,#ff7500 79.62%,#ff8d00 79.93%,#ffb600 80.24%,#fbff00 80.65%,#26ff00 81.58%,#00ff05 81.78%,#00ff5f 82.30%,#00ffa3 82.81%,#00ffe0 83.43%,#00feff 83.84%,#00bfff 84.87%,#0089ff 86.11%,#0066ff 87.44%,#004eff 89.50%,#0039ff 94.85%,#002bff 99.07%,#0026ff 100.00%)"></div><div style="top:48.4px;height:2.5px;background:linear-gradient(90deg,#70ff00 0.16%,#83ff00 0.89%,#c2ff00 2.33%,#fbff00 3.25%,#ffaa00 3.87%,#ff8400 4.49%,#ff7c00 5.41%,#ffae00 5.62%,#ffea00 5.83%,#f0ff00 5.93%,#a4ff00 6.13%,#38ff00 6.75%,#0cff00 6.96%,#00ff09 7.06%,#00ffaf 7.78%,#00fffa 8.40%,#00f5ff 8.60%,#00d7ff 9.02%,#00c0ff 10.15%,#00c9ff 11.38%,#00a9ff 14.57%,#006fff 14.99%,#0063ff 18.90%,#00c2ff 19.72%,#00eeff 20.34%,#0067ff 21.47%,#005bff 21.57%,#004cff 25.69%,#0031ff 26.10%,#002cff 34.44%,#003bff 34.95%,#0067ff 35.67%,#006aff 35.98%,#0054ff 36.39%,#0032ff 36.91%,#0025ff 37.42%,#002bff 51.83%,#0044ff 64.08%,#005aff 68.40%,#0082ff 71.08%,#00b7ff 73.14%,#00e3ff 74.06%,#00feff 74.48%,#00ffcc 75.09%,#00ff90 75.61%,#00ff41 76.12%,#00ff07 76.43%,#0eff00 76.53%,#b1ff00 77.25%,#f8ff00 77.56%,#fff100 77.67%,#ffa900 78.08%,#ff8400 78.39%,#ff6f00 78.69%,#ff6700 79.11%,#ff6c00 79.52%,#ff7e00 79.83%,#ffa000 80.14%,#ffe600 80.55%,#fffb00 80.65%,#d4ff00 80.86%,#2eff00 81.58%,#04ff00 81.78%,#00ff35 82.09%,#00ff82 82.61%,#00ffc6 83.22%,#00feff 83.94%,#00bfff 84.97%,#008aff 86.21%,#0067ff 87.55%,#004fff 89.60%,#0039ff 95.06%,#002cff 98.97%,#0027ff 100.00%)"></div><div style="top:50.4px;height:2.5px;background:linear-gradient(90deg,#75ff00 0.16%,#88ff00 0.89%,#c8ff00 2.33%,#fffd00 3.25%,#ffa500 3.87%,#ff8100 4.49%,#ff7900 5.41%,#ffab00 5.62%,#ffe700 5.83%,#f3ff00 5.93%,#a7ff00 6.13%,#3aff00 6.75%,#0eff00 6.96%,#00ff07 7.06%,#00ffaa 7.78%,#00fff6 8.40%,#00faff 8.60%,#00dbff 9.02%,#00c2ff 10.05%,#00caff 11.49%,#00acff 14.57%,#0072ff 14.99%,#0065ff 18.90%,#00b0ff 19.51%,#00ceff 19.82%,#00f2ff 20.34%,#005fff 21.57%,#0058ff 22.40%,#004eff 25.69%,#0034ff 26.10%,#002eff 29.29%,#002dff 34.44%,#003cff 34.95%,#0069ff 35.67%,#006cff 35.98%,#0055ff 36.39%,#0033ff 36.91%,#0026ff 37.42%,#002cff 51.63%,#0044ff 63.77%,#005cff 68.40%,#0083ff 71.08%,#00b9ff 73.14%,#00e4ff 74.06%,#00fffe 74.48%,#00ffca 75.09%,#00ff8f 75.61%,#00ff41 76.12%,#00ff07 76.43%,#0dff00 76.53%,#b0ff00 77.25%,#f8ff00 77.56%,#fff100 77.67%,#ffa800 78.08%,#ff8100 78.39%,#ff6b00 78.69%,#ff6200 79.11%,#ff6700 79.52%,#ff7800 79.83%,#ff9a00 80.14%,#ffdf00 80.55%,#fff400 80.65%,#f4ff00 80.75%,#37ff00 81.58%,#0dff00 81.78%,#00ff07 81.89%,#00ff5d 82.40%,#00ff9f 82.91%,#00ffe2 83.64%,#00ffff 84.05%,#00bbff 85.18%,#0086ff 86.41%,#0065ff 87.75%,#004eff 89.91%,#0039ff 95.88%,#002aff 99.59%,#0028ff 100.00%)"></div><div style="top:52.4px;height:2.5px;background:linear-gradient(90deg,#79ff00 0.16%,#8dff00 0.89%,#cdff00 2.33%,#fffe00 3.15%,#fff800 3.25%,#ffa000 3.87%,#ff7d00 4.49%,#ff7700 5.41%,#ffa900 5.62%,#ffe500 5.83%,#f6ff00 5.93%,#aaff00 6.13%,#26ff00 6.85%,#00ff05 7.06%,#00ffa6 7.78%,#00fff2 8.40%,#00feff 8.60%,#00dfff 9.02%,#00c5ff 10.05%,#00ccff 11.49%,#00b0ff 14.57%,#0074ff 14.99%,#0067ff 18.90%,#00abff 19.41%,#00d4ff 19.82%,#00f5ff 20.34%,#007dff 21.37%,#0063ff 21.57%,#005cff 21.98%,#0050ff 25.69%,#0037ff 26.10%,#0033ff 27.13%,#002dff 30.94%,#002eff 34.44%,#003eff 34.95%,#006bff 35.67%,#006eff 35.98%,#005eff 36.29%,#0033ff 36.91%,#0026ff 37.42%,#002cff 51.42%,#0044ff 63.46%,#005cff 68.30%,#0083ff 70.98%,#00b7ff 73.03%,#00e0ff 73.96%,#00fffd 74.48%,#00ffc9 75.09%,#00ff8e 75.61%,#00ff41 76.12%,#00ff08 76.43%,#0dff00 76.53%,#97ff00 77.15%,#f7ff00 77.56%,#fff100 77.67%,#ffa700 78.08%,#ff7f00 78.39%,#ff6800 78.69%,#ff5e00 79.11%,#ff6200 79.52%,#ff7200 79.83%,#ff9400 80.14%,#ffd800 80.55%,#fcff00 80.75%,#3fff00 81.58%,#01ff00 81.89%,#00ff55 82.40%,#00ff97 82.91%,#00ffda 83.64%,#00ffff 84.15%,#00b6ff 85.38%,#0083ff 86.62%,#0063ff 88.06%,#004cff 90.53%,#0030ff 98.66%,#0029ff 100.00%)"></div><div style="top:54.4px;height:2.5px;background:linear-gradient(90deg,#7eff00 0.16%,#92ff00 0.89%,#d3ff00 2.33%,#ffff00 3.05%,#fff300 3.25%,#ff9c00 3.87%,#ff7900 4.49%,#ff7400 5.41%,#ffa600 5.62%,#ffe200 5.83%,#f9ff00 5.93%,#adff00 6.13%,#28ff00 6.85%,#00ff03 7.06%,#00ffa1 7.78%,#00ffee 8.40%,#00fffc 8.60%,#00e0ff 9.12%,#00c8ff 10.05%,#00cfff 11.49%,#00b3ff 14.57%,#0077ff 14.99%,#0069ff 18.90%,#00a5ff 19.31%,#00d9ff 19.82%,#00f9ff 20.34%,#00c1ff 20.85%,#0067ff 21.57%,#005fff 21.88%,#0052ff 25.69%,#003aff 26.10%,#0037ff 27.03%,#0030ff 27.54%,#002fff 34.44%,#003fff 34.95%,#006dff 35.67%,#0070ff 35.98%,#0060ff 36.29%,#0034ff 36.91%,#0026ff 37.42%,#002cff 51.21%,#0044ff 63.15%,#005dff 68.20%,#0083ff 70.87%,#00b6ff 72.93%,#00e2ff 73.96%,#00fffb 74.48%,#00ffc8 75.09%,#00ff8e 75.61%,#00ff40 76.12%,#00ff08 76.43%,#0cff00 76.53%,#96ff00 77.15%,#f6ff00 77.56%,#fff200 77.67%,#ffa600 78.08%,#ff7d00 78.39%,#ff6400 78.69%,#ff5900 79.11%,#ff5d00 79.52%,#ff6d00 79.83%,#ff8e00 80.14%,#ffd100 80.55%,#fffa00 80.75%,#d5ff00 80.96%,#32ff00 81.68%,#0aff00 81.89%,#00ff09 81.99%,#00ff5c 82.50%,#00ffa5 83.12%,#00ffe3 83.84%,#00ffff 84.25%,#00b7ff 85.49%,#0083ff 86.72%,#0063ff 88.16%,#004dff 90.63%,#0032ff 98.56%,#002aff 100.00%)"></div><div style="top:56.4px;height:2.5px;background:linear-gradient(90deg,#83ff00 0.16%,#97ff00 0.89%,#d8ff00 2.33%,#feff00 2.94%,#ffee00 3.25%,#ffa300 3.77%,#ff9700 3.87%,#ff7500 4.49%,#ff6f00 5.31%,#ff7100 5.41%,#ffbf00 5.72%,#fbff00 5.93%,#b0ff00 6.13%,#2aff00 6.85%,#00ff01 7.06%,#00ff9c 7.78%,#00ffdf 8.30%,#00fff8 8.60%,#00feff 8.71%,#00e7ff 9.02%,#00cbff 10.05%,#00d1ff 11.49%,#00b7ff 14.57%,#007aff 14.99%,#0074ff 15.91%,#006bff 18.90%,#00aaff 19.31%,#00deff 19.82%,#00fdff 20.34%,#00c7ff 20.85%,#006cff 21.57%,#0062ff 21.78%,#0054ff 25.69%,#003dff 26.10%,#0039ff 27.03%,#0031ff 27.44%,#0030ff 34.44%,#0040ff 34.95%,#006fff 35.67%,#0072ff 35.98%,#0061ff 36.29%,#0034ff 36.91%,#0026ff 37.42%,#002cff 51.11%,#0044ff 62.95%,#005fff 68.20%,#0085ff 70.87%,#00b7ff 72.93%,#00e3ff 73.96%,#00fdff 74.37%,#00ffda 74.89%,#00ff9a 75.50%,#00ff51 76.02%,#00ff08 76.43%,#0cff00 76.53%,#95ff00 77.15%,#f6ff00 77.56%,#fff200 77.67%,#ffa500 78.08%,#ff7b00 78.39%,#ff6100 78.69%,#ff5500 79.11%,#ff5800 79.52%,#ff6700 79.83%,#ff8700 80.14%,#ffb700 80.44%,#fff300 80.75%,#f5ff00 80.86%,#3bff00 81.68%,#00ff01 81.99%,#00ff53 82.50%,#00ff9d 83.12%,#00ffe3 83.94%,#00ffff 84.36%,#00b2ff 85.69%,#0084ff 86.83%,#0064ff 88.27%,#004eff 90.84%,#0034ff 98.46%,#002bff 100.00%)"></div><div style="top:58.4px;height:2.5px;background:linear-gradient(90deg,#87ff00 0.16%,#9dff00 0.89%,#deff00 2.33%,#fdff00 2.84%,#ffe900 3.25%,#ff9d00 3.77%,#ff8c00 3.97%,#ff7100 4.49%,#ff6b00 5.31%,#ff6f00 5.41%,#ffbd00 5.72%,#feff00 5.93%,#b4ff00 6.13%,#2cff00 6.85%,#02ff00 7.06%,#00ff6b 7.58%,#00ff98 7.78%,#00ffdb 8.30%,#00fffc 8.71%,#00e8ff 9.12%,#00ceff 10.05%,#00d4ff 11.49%,#00baff 14.57%,#007cff 14.99%,#0077ff 15.29%,#006dff 18.90%,#00b0ff 19.31%,#00e3ff 19.82%,#00fffd 20.34%,#00dbff 20.75%,#0070ff 21.57%,#0064ff 21.78%,#0056ff 25.69%,#0040ff 26.10%,#003bff 27.03%,#0032ff 27.44%,#0030ff 34.44%,#0041ff 34.95%,#0070ff 35.67%,#0074ff 35.98%,#0063ff 36.29%,#0035ff 36.91%,#0026ff 37.42%,#002cff 50.91%,#0045ff 62.74%,#0060ff 68.09%,#0087ff 70.87%,#00b6ff 72.83%,#00e0ff 73.86%,#00ffff 74.37%,#00ffc6 75.09%,#00ff8c 75.61%,#00ff40 76.12%,#00ff09 76.43%,#0cff00 76.53%,#94ff00 77.15%,#f5ff00 77.56%,#fff300 77.67%,#ffa500 78.08%,#ff7900 78.39%,#ff5e00 78.69%,#ff5100 79.11%,#ff5600 79.62%,#ff6b00 79.93%,#ff9000 80.24%,#ffd700 80.65%,#fdff00 80.86%,#43ff00 81.68%,#07ff00 81.99%,#00ff0b 82.09%,#00ff59 82.61%,#00ff9f 83.22%,#00ffe3 84.05%,#00fffe 84.46%,#00b2ff 85.80%,#0084ff 86.93%,#0064ff 88.37%,#004fff 90.94%,#0036ff 98.35%,#002cff 100.00%)"></div><div style="top:60.4px;height:2.5px;background:linear-gradient(90deg,#8cff00 0.16%,#a2ff00 0.89%,#e3ff00 2.33%,#fdff00 2.74%,#ffe400 3.25%,#ff9800 3.77%,#ff8700 3.97%,#ff6d00 4.49%,#ff6800 5.31%,#ff6c00 5.41%,#ffbb00 5.72%,#fffd00 5.93%,#b7ff00 6.13%,#2dff00 6.85%,#04ff00 7.06%,#00ff25 7.27%,#00ff93 7.78%,#00ffd7 8.30%,#00ffff 8.81%,#00ecff 9.12%,#00d1ff 10.05%,#00d6ff 11.49%,#00bdff 14.57%,#007fff 14.99%,#007aff 15.19%,#006fff 18.90%,#00b5ff 19.31%,#00e8ff 19.82%,#00fffe 20.23%,#00fff9 20.34%,#00fcff 20.44%,#00e1ff 20.75%,#0074ff 21.57%,#0067ff 21.78%,#0057ff 25.69%,#0043ff 26.10%,#003dff 27.03%,#0033ff 27.44%,#0031ff 34.44%,#0042ff 34.95%,#0072ff 35.67%,#0075ff 35.98%,#0064ff 36.29%,#003bff 36.81%,#0028ff 37.32%,#0026ff 41.03%,#002dff 51.21%,#0045ff 62.54%,#0062ff 68.09%,#0089ff 70.87%,#00b8ff 72.83%,#00e1ff 73.86%,#00fffe 74.37%,#00ffc5 75.09%,#00ff7e 75.71%,#00ff2e 76.22%,#00ff09 76.43%,#0bff00 76.53%,#93ff00 77.15%,#f4ff00 77.56%,#fff300 77.67%,#ffa400 78.08%,#ff7700 78.39%,#ff5b00 78.69%,#ff4c00 79.11%,#ff5100 79.62%,#ff6500 79.93%,#ff8900 80.24%,#ffd000 80.65%,#fffa00 80.86%,#d5ff00 81.06%,#4cff00 81.68%,#10ff00 81.99%,#00ff03 82.09%,#00ff51 82.61%,#00ff98 83.22%,#00ffdc 84.05%,#00fffe 84.56%,#00adff 86.00%,#0081ff 87.13%,#0063ff 88.58%,#004eff 91.46%,#0038ff 98.25%,#002dff 100.00%)"></div><div style="top:62.4px;height:2.5px;background:linear-gradient(90deg,#90ff00 0.16%,#abff00 0.99%,#e9ff00 2.33%,#fffc00 2.74%,#ffdf00 3.25%,#ff9300 3.77%,#ff8200 3.97%,#ff6a00 4.49%,#ff6400 5.31%,#ff6900 5.41%,#ffb800 5.72%,#fffa00 5.93%,#baff00 6.13%,#2fff00 6.85%,#06ff00 7.06%,#00ff0e 7.16%,#00ff8f 7.78%,#00ffc9 8.19%,#00ffe5 8.50%,#00fcff 8.91%,#00e8ff 9.32%,#00d3ff 10.05%,#00d8ff 11.59%,#00c1ff 14.57%,#0082ff 14.99%,#007cff 15.19%,#0071ff 18.90%,#00baff 19.31%,#00edff 19.82%,#00ffff 20.13%,#00fff6 20.34%,#00fffe 20.44%,#00e7ff 20.75%,#0087ff 21.47%,#0078ff 21.57%,#0069ff 21.78%,#0059ff 25.69%,#0046ff 26.10%,#0044ff 26.92%,#0033ff 27.34%,#0032ff 34.44%,#0043ff 34.95%,#0074ff 35.67%,#0077ff 35.98%,#0066ff 36.29%,#003cff 36.81%,#002aff 37.22%,#0025ff 38.35%,#002dff 51.01%,#0045ff 62.43%,#0063ff 67.99%,#0089ff 70.77%,#00b6ff 72.73%,#00deff 73.75%,#00fffc 74.37%,#00ffc3 75.09%,#00ff7d 75.71%,#00ff2e 76.22%,#00ff09 76.43%,#0bff00 76.53%,#92ff00 77.15%,#f3ff00 77.56%,#fff400 77.67%,#ffa400 78.08%,#ff7600 78.39%,#ff5900 78.69%,#ff4b00 79.00%,#ff4b00 79.52%,#ff5900 79.83%,#ff7700 80.14%,#ffa500 80.44%,#fff500 80.86%,#f3ff00 80.96%,#52ff00 81.68%,#04ff00 82.09%,#00ff3d 82.50%,#00ff87 83.12%,#00ffce 83.94%,#00fffe 84.66%,#00acff 86.11%,#0084ff 87.13%,#0067ff 88.47%,#0051ff 91.05%,#0039ff 98.15%,#002dff 100.00%)"></div><div style="top:64.4px;height:2.5px;background:linear-gradient(90deg,#95ff00 0.16%,#b0ff00 0.99%,#f4ff00 2.43%,#fffd00 2.63%,#ffda00 3.25%,#ff8d00 3.77%,#ff7e00 3.97%,#ff6600 4.49%,#ff6100 5.31%,#ff6700 5.41%,#ffb600 5.72%,#fff800 5.93%,#e2ff00 6.03%,#bdff00 6.13%,#31ff00 6.85%,#08ff00 7.06%,#00ff0b 7.16%,#00ff8a 7.78%,#00ffc5 8.19%,#00ffe2 8.50%,#00fffe 8.91%,#00e9ff 9.43%,#00d6ff 10.05%,#00daff 11.59%,#00c4ff 14.57%,#0084ff 14.99%,#007eff 15.19%,#0073ff 18.90%,#00c0ff 19.31%,#00f2ff 19.82%,#00ffff 20.03%,#00fff2 20.34%,#00fdff 20.54%,#00edff 20.75%,#009bff 21.37%,#007dff 21.57%,#006cff 21.78%,#005bff 25.69%,#0049ff 26.10%,#0046ff 26.92%,#0034ff 27.34%,#0033ff 34.44%,#0044ff 34.95%,#0076ff 35.67%,#0079ff 35.98%,#0067ff 36.29%,#003cff 36.81%,#002bff 37.22%,#0025ff 38.35%,#002eff 50.91%,#0046ff 62.33%,#0063ff 67.89%,#0089ff 70.67%,#00b7ff 72.73%,#00dfff 73.75%,#00fcff 74.27%,#00ffdd 74.78%,#00ffa2 75.40%,#00ff5f 75.92%,#00ff09 76.43%,#0bff00 76.53%,#91ff00 77.15%,#f3ff00 77.56%,#fff400 77.67%,#ffa400 78.08%,#ff7600 78.39%,#ff5800 78.69%,#ff4a00 79.00%,#ff4a00 79.52%,#ff5700 79.83%,#ff7500 80.14%,#ffa300 80.44%,#fff100 80.86%,#f7ff00 80.96%,#57ff00 81.68%,#09ff00 82.09%,#00ff08 82.19%,#00ff53 82.71%,#00ff95 83.33%,#00ffde 84.25%,#00feff 84.77%,#00b0ff 86.11%,#0086ff 87.13%,#0068ff 88.47%,#0053ff 90.94%,#003bff 98.15%,#002eff 100.00%)"></div><div style="top:66.4px;height:2.5px;background:linear-gradient(90deg,#99ff00 0.16%,#b5ff00 0.99%,#faff00 2.43%,#fff800 2.63%,#ffd500 3.25%,#ff9400 3.66%,#ff7e00 3.87%,#ff6200 4.49%,#ff5d00 5.31%,#ff6400 5.41%,#ffb300 5.72%,#fff500 5.93%,#e5ff00 6.03%,#c0ff00 6.13%,#33ff00 6.85%,#0aff00 7.06%,#00ff09 7.16%,#00ff86 7.78%,#00ffc2 8.19%,#00ffe5 8.60%,#00fcff 9.02%,#00d9ff 10.05%,#00dcff 11.59%,#00c8ff 14.57%,#0087ff 14.99%,#0080ff 15.09%,#0075ff 18.90%,#00c5ff 19.31%,#00f8ff 19.82%,#00fffe 19.93%,#00ffee 20.34%,#00fbff 20.65%,#00f3ff 20.75%,#00afff 21.26%,#0081ff 21.57%,#006eff 21.78%,#005dff 25.69%,#004cff 26.10%,#0049ff 26.92%,#0035ff 27.34%,#0034ff 34.44%,#0040ff 34.85%,#0078ff 35.67%,#007bff 35.98%,#0069ff 36.29%,#003dff 36.81%,#002bff 37.22%,#0025ff 38.35%,#002eff 50.80%,#0046ff 62.23%,#0065ff 67.89%,#008aff 70.67%,#00b6ff 72.62%,#00dbff 73.65%,#00feff 74.27%,#00ffd4 74.89%,#00ff95 75.50%,#00ff4f 76.02%,#00ff09 76.43%,#0bff00 76.53%,#91ff00 77.15%,#f2ff00 77.56%,#fff500 77.67%,#ffa500 78.08%,#ff7600 78.39%,#ff5800 78.69%,#ff4900 79.00%,#ff4800 79.52%,#ff5500 79.83%,#ff7300 80.14%,#ffa000 80.44%,#ffee00 80.86%,#fbff00 80.96%,#5bff00 81.68%,#0eff00 82.09%,#00ff03 82.19%,#00ff4d 82.71%,#00ff90 83.33%,#00ffd8 84.25%,#00fdff 84.87%,#00afff 86.21%,#0086ff 87.24%,#0068ff 88.58%,#0053ff 91.15%,#003dff 98.04%,#002fff 100.00%)"></div><div style="top:68.4px;height:2.5px;background:linear-gradient(90deg,#9eff00 0.16%,#baff00 0.99%,#ffff00 2.43%,#ffd000 3.25%,#ff8f00 3.66%,#ff7900 3.87%,#ff5e00 4.49%,#ff5a00 5.31%,#ff6100 5.41%,#ffb100 5.72%,#fff200 5.93%,#e8ff00 6.03%,#c4ff00 6.13%,#35ff00 6.85%,#0cff00 7.06%,#00ff07 7.16%,#00ff81 7.78%,#00ffbe 8.19%,#00ffe1 8.60%,#00fffe 9.02%,#00dcff 10.05%,#00deff 11.69%,#00cbff 14.57%,#0089ff 14.99%,#0082ff 15.09%,#0077ff 18.90%,#00cbff 19.31%,#00fdff 19.82%,#00ffeb 20.34%,#00fffe 20.65%,#00faff 20.75%,#00b5ff 21.26%,#0085ff 21.57%,#0071ff 21.78%,#005fff 25.69%,#004eff 26.20%,#004cff 26.92%,#0036ff 27.34%,#0035ff 34.44%,#0041ff 34.85%,#007aff 35.67%,#007dff 35.98%,#006aff 36.29%,#003dff 36.81%,#002bff 37.22%,#0025ff 38.25%,#002eff 50.70%,#0047ff 62.12%,#0066ff 67.79%,#008aff 70.56%,#00b7ff 72.62%,#00ddff 73.65%,#00ffff 74.27%,#00ffca 74.99%,#00ff88 75.61%,#00ff3e 76.12%,#00ff08 76.43%,#0bff00 76.53%,#91ff00 77.15%,#f1ff00 77.56%,#fff600 77.67%,#ffa500 78.08%,#ff7600 78.39%,#ff5700 78.69%,#ff4800 79.00%,#ff4700 79.52%,#ff5400 79.83%,#ff7000 80.14%,#ff9d00 80.44%,#feff00 80.96%,#60ff00 81.68%,#02ff00 82.19%,#00ff55 82.81%,#00ff9c 83.53%,#00ffee 84.66%,#00fcff 84.97%,#00aeff 86.31%,#0085ff 87.34%,#0068ff 88.68%,#0054ff 91.35%,#003eff 98.04%,#0030ff 100.00%)"></div><div style="top:70.4px;height:2.5px;background:linear-gradient(90deg,#a3ff00 0.16%,#c4ff00 1.09%,#ffff00 2.33%,#ffca00 3.25%,#ff8900 3.66%,#ff7400 3.87%,#ff5a00 4.49%,#ff5600 5.31%,#ff5f00 5.41%,#ffae00 5.72%,#fff000 5.93%,#ebff00 6.03%,#c7ff00 6.13%,#0eff00 7.06%,#00ff04 7.16%,#00ff7d 7.78%,#00ffbb 8.19%,#00ffdd 8.60%,#00ffff 9.12%,#00dfff 10.05%,#00e1ff 11.69%,#00cfff 14.57%,#008cff 14.99%,#0084ff 15.09%,#0079ff 18.90%,#00d0ff 19.31%,#00f9ff 19.72%,#00fff4 19.93%,#00ffe7 20.34%,#00fffe 20.75%,#00baff 21.26%,#0089ff 21.57%,#0073ff 21.78%,#0061ff 25.69%,#0051ff 26.20%,#004fff 26.92%,#0037ff 27.34%,#0034ff 34.34%,#0042ff 34.85%,#007cff 35.67%,#007fff 35.98%,#006bff 36.29%,#003eff 36.81%,#002bff 37.22%,#0025ff 38.25%,#002eff 50.60%,#0047ff 62.02%,#0066ff 67.68%,#008aff 70.46%,#00b6ff 72.52%,#00deff 73.65%,#00fffe 74.27%,#00ffc9 74.99%,#00ff87 75.61%,#00ff3e 76.12%,#00ff08 76.43%,#0bff00 76.53%,#90ff00 77.15%,#f1ff00 77.56%,#fff600 77.67%,#ffa600 78.08%,#ff7600 78.39%,#ff5700 78.69%,#ff4700 79.00%,#ff4500 79.52%,#ff5200 79.83%,#ff6e00 80.14%,#ff9a00 80.44%,#fffc00 80.96%,#50ff00 81.78%,#06ff00 82.19%,#00ff0a 82.30%,#00ff4f 82.81%,#00ff97 83.53%,#00fff0 84.77%,#00fbff 85.08%,#00acff 86.41%,#0081ff 87.55%,#0066ff 88.99%,#0051ff 92.38%,#0040ff 97.94%,#0031ff 100.00%)"></div><div style="top:72.4px;height:2.5px;background:linear-gradient(90deg,#a7ff00 0.16%,#c9ff00 1.09%,#feff00 2.22%,#ffc500 3.25%,#ff8300 3.66%,#ff6f00 3.87%,#ff5700 4.49%,#ff5300 5.31%,#ff5c00 5.41%,#ffac00 5.72%,#ffed00 5.93%,#eeff00 6.03%,#caff00 6.13%,#11ff00 7.06%,#00ff02 7.16%,#00ff78 7.78%,#00ffb7 8.19%,#00ffe0 8.71%,#00fffb 9.12%,#00f0ff 9.63%,#00e2ff 10.15%,#00e3ff 11.79%,#00d2ff 14.57%,#008fff 14.99%,#0086ff 15.09%,#007bff 18.90%,#00d5ff 19.31%,#00feff 19.72%,#00ffef 19.93%,#00ffe3 20.34%,#00fff9 20.75%,#00f8ff 20.85%,#00c0ff 21.26%,#008eff 21.57%,#0076ff 21.78%,#005fff 25.79%,#0054ff 26.20%,#0051ff 26.92%,#0037ff 27.34%,#0035ff 34.34%,#0043ff 34.85%,#007dff 35.67%,#0081ff 35.98%,#006dff 36.29%,#003eff 36.81%,#002cff 37.22%,#0026ff 38.25%,#002eff 50.49%,#0048ff 61.92%,#0068ff 67.68%,#008cff 70.46%,#00b7ff 72.52%,#00e0ff 73.65%,#00fffc 74.27%,#00ffc7 74.99%,#00ff86 75.61%,#00ff3d 76.12%,#00ff08 76.43%,#0cff00 76.53%,#90ff00 77.15%,#f0ff00 77.56%,#fff700 77.67%,#ffa600 78.08%,#ff7600 78.39%,#ff5600 78.69%,#ff4600 79.00%,#ff4400 79.52%,#ff5000 79.83%,#ff6c00 80.14%,#ff9800 80.44%,#fff900 80.96%,#efff00 81.06%,#55ff00 81.78%,#0bff00 82.19%,#00ff05 82.30%,#00ff4a 82.81%,#00ff91 83.53%,#00ffea 84.77%,#00fffe 85.08%,#00abff 86.52%,#0081ff 87.65%,#0066ff 89.09%,#0051ff 92.69%,#0041ff 97.94%,#0032ff 100.00%)"></div><div style="top:74.4px;height:2.5px;background:linear-gradient(90deg,#acff00 0.16%,#d3ff00 1.19%,#feff00 2.12%,#ffc000 3.25%,#ff7e00 3.66%,#ff6b00 3.87%,#ff5300 4.49%,#ff5000 5.31%,#ff5900 5.41%,#ffa900 5.72%,#ffea00 5.93%,#f1ff00 6.03%,#cdff00 6.13%,#13ff00 7.06%,#01ff00 7.16%,#00ff84 7.88%,#00ffb4 8.19%,#00ffeb 8.91%,#00fffd 9.22%,#00e5ff 10.05%,#00e4ff 11.90%,#00d5ff 14.57%,#0091ff 14.99%,#0088ff 15.09%,#007dff 18.90%,#00dbff 19.31%,#00f9ff 19.62%,#00fff3 19.82%,#00ffe8 20.03%,#00ffe0 20.34%,#00fff3 20.75%,#00feff 20.85%,#00c5ff 21.26%,#0092ff 21.57%,#0078ff 21.78%,#0061ff 25.79%,#0057ff 26.20%,#0054ff 26.92%,#0038ff 27.34%,#0036ff 34.34%,#0044ff 34.85%,#007fff 35.67%,#0082ff 35.98%,#006eff 36.29%,#003fff 36.81%,#002cff 37.22%,#0026ff 38.25%,#002fff 50.49%,#0048ff 61.82%,#0069ff 67.58%,#008cff 70.36%,#00b9ff 72.52%,#00e1ff 73.65%,#00fdff 74.17%,#00ffd8 74.78%,#00ff9d 75.40%,#00ff5c 75.92%,#00ff08 76.43%,#0cff00 76.53%,#8fff00 77.15%,#efff00 77.56%,#fff800 77.67%,#ffa700 78.08%,#ff7600 78.39%,#ff5600 78.69%,#ff4500 79.00%,#ff4200 79.52%,#ff4e00 79.83%,#ff6a00 80.14%,#ff9500 80.44%,#fff500 80.96%,#f3ff00 81.06%,#59ff00 81.78%,#00ff00 82.30%,#00ff45 82.81%,#00ff8c 83.53%,#00ffeb 84.87%,#00ffff 85.18%,#00aeff 86.52%,#0083ff 87.65%,#0068ff 89.09%,#0052ff 92.59%,#0043ff 97.84%,#0032ff 100.00%)"></div><div style="top:76.4px;height:2.5px;background:linear-gradient(90deg,#b0ff00 0.16%,#d8ff00 1.19%,#ffff00 2.02%,#ffbb00 3.25%,#ff7800 3.66%,#ff6600 3.87%,#ff5100 4.38%,#ff4c00 5.31%,#ff5700 5.41%,#ffa700 5.72%,#ffe800 5.93%,#f4ff00 6.03%,#d1ff00 6.13%,#27ff00 6.96%,#03ff00 7.16%,#00ff5a 7.68%,#00ff90 7.99%,#00ffb0 8.19%,#00ffef 9.02%,#00fffd 9.32%,#00e8ff 10.05%,#00e6ff 12.00%,#00d9ff 14.57%,#0094ff 14.99%,#008aff 15.09%,#007fff 18.90%,#00e0ff 19.31%,#00feff 19.62%,#00ffe6 19.93%,#00ffdc 20.34%,#00ffed 20.75%,#00fffa 20.85%,#00e9ff 21.06%,#00b9ff 21.37%,#0088ff 21.68%,#007bff 21.78%,#0063ff 25.79%,#005aff 26.31%,#0057ff 26.92%,#0039ff 27.34%,#0036ff 34.34%,#0045ff 34.85%,#0081ff 35.67%,#0084ff 35.98%,#0070ff 36.29%,#0040ff 36.81%,#002cff 37.22%,#0026ff 38.25%,#002fff 50.39%,#0049ff 61.82%,#006aff 67.58%,#008dff 70.36%,#00baff 72.52%,#00e3ff 73.65%,#00feff 74.17%,#00ffce 74.89%,#00ff91 75.50%,#00ff4c 76.02%,#00ff07 76.43%,#0cff00 76.53%,#77ff00 77.05%,#efff00 77.56%,#fff800 77.67%,#ff9500 78.18%,#ff6900 78.49%,#ff4e00 78.80%,#ff4000 79.21%,#ff4300 79.62%,#ff5400 79.93%,#ff7400 80.24%,#ffb600 80.65%,#fff200 80.96%,#f6ff00 81.06%,#5eff00 81.78%,#05ff00 82.30%,#00ff19 82.50%,#00ff61 83.12%,#00ffa7 83.94%,#00fdff 85.28%,#00adff 86.62%,#0082ff 87.75%,#0068ff 89.19%,#0052ff 93.00%,#0044ff 97.84%,#0033ff 100.00%)"></div><div style="top:78.4px;height:2.5px;background:linear-gradient(90deg,#b5ff00 0.16%,#e1ff00 1.30%,#ffff00 1.91%,#ffb600 3.25%,#ff7300 3.66%,#ff6100 3.87%,#ff4d00 4.38%,#ff4900 5.31%,#ff5400 5.41%,#ffa400 5.72%,#ffe500 5.93%,#f7ff00 6.03%,#d4ff00 6.13%,#28ff00 6.96%,#05ff00 7.16%,#00ff1f 7.37%,#00ff7b 7.88%,#00ffad 8.19%,#00fff1 9.12%,#00fdff 9.53%,#00ebff 10.05%,#00e8ff 12.21%,#00dcff 14.57%,#0096ff 14.99%,#008cff 15.09%,#0081ff 18.90%,#00e5ff 19.31%,#00fffb 19.62%,#00ffe1 19.93%,#00ffd8 20.34%,#00ffe7 20.75%,#00fdff 20.96%,#00e2ff 21.16%,#008cff 21.68%,#007dff 21.78%,#0065ff 25.79%,#005cff 26.31%,#0059ff 26.92%,#003aff 27.34%,#0037ff 34.34%,#0046ff 34.85%,#0083ff 35.67%,#0086ff 35.98%,#0071ff 36.29%,#0040ff 36.81%,#002cff 37.22%,#0026ff 38.14%,#002fff 50.29%,#0049ff 61.71%,#006bff 67.48%,#008fff 70.36%,#00bbff 72.52%,#00e4ff 73.65%,#00ffff 74.17%,#00ffcd 74.89%,#00ff90 75.50%,#00ff4c 76.02%,#00ff07 76.43%,#0cff00 76.53%,#77ff00 77.05%,#eeff00 77.56%,#fff900 77.67%,#ff9600 78.18%,#ff6900 78.49%,#ff4d00 78.80%,#ff3f00 79.21%,#ff4200 79.62%,#ff5200 79.93%,#ff7200 80.24%,#ffb300 80.65%,#ffef00 80.96%,#faff00 81.06%,#62ff00 81.78%,#09ff00 82.30%,#00ff06 82.40%,#00ff47 82.91%,#00ff89 83.64%,#00fffb 85.28%,#00daff 85.90%,#00a2ff 86.93%,#007dff 88.06%,#0065ff 89.60%,#0050ff 94.13%,#0046ff 97.84%,#0034ff 100.00%)"></div><div style="top:80.4px;height:2.5px;background:linear-gradient(90deg,#b9ff00 0.16%,#ebff00 1.40%,#ffff00 1.81%,#ffc900 2.84%,#ffb100 3.25%,#ff6d00 3.66%,#ff5c00 3.87%,#ff4900 4.38%,#ff4500 5.31%,#ff5100 5.41%,#ffa200 5.72%,#ffe200 5.93%,#faff00 6.03%,#d7ff00 6.13%,#2aff00 6.96%,#08ff00 7.16%,#00ff0a 7.27%,#00ff98 8.09%,#00ffa9 8.19%,#00fff3 9.22%,#00fdff 9.63%,#00eeff 10.05%,#00e9ff 12.52%,#00e0ff 14.57%,#0099ff 14.99%,#008eff 15.09%,#0083ff 18.90%,#00ebff 19.31%,#00ffff 19.51%,#00ffdc 19.93%,#00ffd5 20.34%,#00ffe1 20.75%,#00fffb 20.96%,#00e8ff 21.16%,#008fff 21.68%,#0080ff 21.78%,#0067ff 25.79%,#005fff 26.41%,#005cff 26.92%,#003aff 27.34%,#0038ff 34.34%,#0047ff 34.85%,#0085ff 35.67%,#0088ff 35.98%,#0073ff 36.29%,#0041ff 36.81%,#002dff 37.22%,#0026ff 38.14%,#002fff 50.29%,#0049ff 61.61%,#006dff 67.48%,#0091ff 70.36%,#00bdff 72.52%,#00e5ff 73.65%,#00fffd 74.17%,#00ffcc 74.89%,#00ff8f 75.50%,#00ff4b 76.02%,#00ff07 76.43%,#0cff00 76.53%,#77ff00 77.05%,#edff00 77.56%,#fffa00 77.67%,#ff9600 78.18%,#ff6900 78.49%,#ff4c00 78.80%,#ff3f00 79.11%,#ff4000 79.62%,#ff5000 79.93%,#ff7000 80.24%,#ffb000 80.65%,#feff00 81.06%,#66ff00 81.78%,#0eff00 82.30%,#00ff01 82.40%,#00ff42 82.91%,#00ff84 83.64%,#00fffd 85.38%,#00afff 86.72%,#0084ff 87.86%,#006aff 89.30%,#0054ff 93.21%,#0047ff 97.84%,#0035ff 100.00%)"></div><div style="top:82.4px;height:2.5px;background:linear-gradient(90deg,#beff00 0.16%,#f0ff00 1.40%,#fffe00 1.71%,#ffc900 2.74%,#ffac00 3.25%,#ff6700 3.66%,#ff5700 3.87%,#ff4500 4.38%,#ff4200 5.31%,#ff4e00 5.41%,#ff9f00 5.72%,#feff00 6.03%,#daff00 6.13%,#2cff00 6.96%,#0aff00 7.16%,#00ff07 7.27%,#00ffa6 8.19%,#00fff0 9.22%,#00fcff 9.74%,#00f1ff 10.15%,#00e8ff 13.34%,#00e3ff 14.57%,#009cff 14.99%,#0090ff 15.09%,#0084ff 18.90%,#00f0ff 19.31%,#00fffa 19.51%,#00ffd7 19.93%,#00ffd1 20.34%,#00ffdb 20.75%,#00fbff 21.06%,#00dbff 21.26%,#0082ff 21.78%,#0067ff 25.90%,#005fff 26.92%,#003bff 27.34%,#0039ff 34.34%,#0048ff 34.85%,#0087ff 35.67%,#008aff 35.98%,#0074ff 36.29%,#0041ff 36.81%,#002dff 37.22%,#0026ff 38.14%,#002fff 50.29%,#004aff 61.61%,#006dff 67.37%,#0091ff 70.26%,#00beff 72.52%,#00e7ff 73.65%,#00fffc 74.17%,#00ffca 74.89%,#00ff8e 75.50%,#00ff4a 76.02%,#00ff07 76.43%,#0cff00 76.53%,#76ff00 77.05%,#edff00 77.56%,#fffa00 77.67%,#ff9600 78.18%,#ff6900 78.49%,#ff4c00 78.80%,#ff3e00 79.11%,#ff3f00 79.62%,#ff4e00 79.93%,#ff6e00 80.24%,#ffae00 80.65%,#fffd00 81.06%,#57ff00 81.89%,#03ff00 82.40%,#00ff52 83.12%,#00ff96 83.94%,#00ffff 85.49%,#00b2ff 86.72%,#0089ff 87.75%,#006eff 89.09%,#0059ff 92.28%,#0048ff 97.84%,#0036ff 100.00%)"></div><div style="top:84.4px;height:2.5px;background:linear-gradient(90deg,#c3ff00 0.16%,#fffe00 1.61%,#ffca00 2.63%,#ffa700 3.25%,#ff6200 3.66%,#ff5200 3.87%,#ff4100 4.38%,#ff3e00 5.31%,#ff4c00 5.41%,#ff9d00 5.72%,#fffe00 6.03%,#ddff00 6.13%,#2eff00 6.96%,#00ff04 7.27%,#00ffa2 8.19%,#00ffec 9.22%,#00fcff 9.84%,#00f4ff 10.15%,#00e7ff 14.57%,#009eff 14.99%,#0092ff 15.09%,#0086ff 18.90%,#00f6ff 19.31%,#00ffff 19.41%,#00ffd2 19.93%,#00ffcf 20.44%,#00ffd6 20.75%,#00fffd 21.06%,#00f4ff 21.16%,#0084ff 21.78%,#006aff 25.90%,#0062ff 26.92%,#003cff 27.34%,#003aff 34.34%,#0049ff 34.85%,#0089ff 35.67%,#008cff 35.98%,#0076ff 36.29%,#0042ff 36.81%,#002dff 37.22%,#0027ff 38.14%,#002fff 50.19%,#004aff 61.51%,#006fff 67.37%,#0094ff 70.36%,#00c0ff 72.52%,#00e8ff 73.65%,#00feff 74.06%,#00ffd1 74.78%,#00ff99 75.40%,#00ff59 75.92%,#00ff06 76.43%,#0cff00 76.53%,#76ff00 77.05%,#ecff00 77.56%,#fffb00 77.67%,#ff9700 78.18%,#ff6900 78.49%,#ff4b00 78.80%,#ff3d00 79.11%,#ff3d00 79.62%,#ff4d00 79.93%,#ff6b00 80.24%,#ffab00 80.65%,#fffa00 81.06%,#d8ff00 81.27%,#5cff00 81.89%,#08ff00 82.40%,#00ff06 82.50%,#00ff4d 83.12%,#00ff98 84.05%,#00feff 85.59%,#00b6ff 86.72%,#008cff 87.75%,#0071ff 88.99%,#005dff 91.66%,#004aff 97.84%,#0037ff 100.00%)"></div><div style="top:86.4px;height:2.5px;background:linear-gradient(90deg,#c7ff00 0.16%,#fffe00 1.50%,#ffc500 2.63%,#ffa200 3.25%,#ff5c00 3.66%,#ff4d00 3.87%,#ff3d00 4.38%,#ff3b00 5.31%,#ff4900 5.41%,#ff9a00 5.72%,#fffb00 6.03%,#e1ff00 6.13%,#30ff00 6.96%,#00ff02 7.27%,#00ff9f 8.19%,#00ffe9 9.22%,#00ffff 9.84%,#00f7ff 10.15%,#00eaff 14.57%,#00a1ff 14.99%,#0094ff 15.09%,#0088ff 18.90%,#00fbff 19.31%,#00ffe8 19.62%,#00ffcd 19.93%,#00ffcb 20.44%,#00ffd0 20.75%,#00fff7 21.06%,#00faff 21.16%,#0087ff 21.78%,#006bff 26.00%,#0064ff 26.92%,#003dff 27.34%,#003aff 34.34%,#0045ff 34.75%,#0069ff 35.26%,#008aff 35.67%,#008fff 35.88%,#0081ff 36.19%,#0043ff 36.81%,#002eff 37.22%,#0027ff 38.14%,#0030ff 50.19%,#004bff 61.51%,#0070ff 67.37%,#0096ff 70.36%,#00c1ff 72.52%,#00eaff 73.65%,#00ffff 74.06%,#00ffc8 74.89%,#00ff8c 75.50%,#00ff49 76.02%,#00ff06 76.43%,#0dff00 76.53%,#76ff00 77.05%,#ebff00 77.56%,#fffb00 77.67%,#ff9700 78.18%,#ff6900 78.49%,#ff4b00 78.80%,#ff3c00 79.11%,#ff3c00 79.62%,#ff4b00 79.93%,#ff6900 80.24%,#ffa800 80.65%,#fff600 81.06%,#f2ff00 81.17%,#73ff00 81.78%,#1cff00 82.30%,#00ff02 82.50%,#00ff48 83.12%,#00ff92 84.05%,#00fffb 85.59%,#00e0ff 86.11%,#00abff 87.03%,#0085ff 88.06%,#006cff 89.50%,#0057ff 93.62%,#004cff 97.74%,#0038ff 100.00%)"></div><div style="top:88.4px;height:2.5px;background:linear-gradient(90deg,#ccff00 0.16%,#fffe00 1.40%,#ffc000 2.63%,#ff9d00 3.25%,#ff5700 3.66%,#ff4800 3.87%,#ff3900 4.38%,#ff3700 5.31%,#ff4600 5.41%,#ff9800 5.72%,#fff800 6.03%,#e4ff00 6.13%,#32ff00 6.96%,#01ff00 7.27%,#00ff66 7.88%,#00ff9b 8.19%,#00ffe5 9.22%,#00feff 9.94%,#00f9ff 10.35%,#00edff 14.57%,#00a3ff 14.99%,#0096ff 15.09%,#008aff 18.90%,#00fffe 19.31%,#00ffc8 19.93%,#00ffc9 20.65%,#00ffca 20.75%,#00ffff 21.16%,#0089ff 21.78%,#0067ff 26.92%,#003eff 27.34%,#003bff 34.34%,#0046ff 34.75%,#006bff 35.26%,#008cff 35.67%,#0091ff 35.88%,#0082ff 36.19%,#0043ff 36.81%,#002eff 37.22%,#0027ff 38.04%,#0030ff 50.08%,#004bff 61.40%,#0071ff 67.27%,#0096ff 70.26%,#00c2ff 72.52%,#00ebff 73.65%,#00fffe 74.06%,#00ffc7 74.89%,#00ff8b 75.50%,#00ff49 76.02%,#00ff06 76.43%,#0dff00 76.53%,#75ff00 77.05%,#fffc00 77.67%,#ff9800 78.18%,#ff6900 78.49%,#ff4a00 78.80%,#ff3b00 79.11%,#ff3a00 79.62%,#ff4900 79.93%,#ff6700 80.24%,#ffa500 80.65%,#fff300 81.06%,#f6ff00 81.17%,#77ff00 81.78%,#20ff00 82.30%,#03ff00 82.50%,#00ff4c 83.22%,#00ff9b 84.25%,#00fffd 85.69%,#00b3ff 86.93%,#008aff 87.96%,#0070ff 89.30%,#005bff 92.90%,#004dff 97.74%,#0038ff 100.00%)"></div><div style="top:90.4px;height:2.5px;background:linear-gradient(90deg,#d0ff00 0.16%,#fffe00 1.30%,#ffbb00 2.63%,#ff9800 3.25%,#ff5100 3.66%,#ff4300 3.87%,#ff3500 4.38%,#ff3400 5.31%,#ff4400 5.41%,#ff9500 5.72%,#fff500 6.03%,#e7ff00 6.13%,#34ff00 6.96%,#04ff00 7.27%,#00ff2c 7.58%,#00ff98 8.19%,#00ffe2 9.22%,#00fdff 10.05%,#00f1ff 14.57%,#00a6ff 14.99%,#0098ff 15.09%,#008cff 18.90%,#00e7ff 19.21%,#00fff9 19.31%,#00ffc3 19.93%,#00ffc4 20.75%,#00fff9 21.16%,#00f1ff 21.26%,#008cff 21.78%,#006aff 26.92%,#003eff 27.34%,#003cff 34.34%,#0047ff 34.75%,#006cff 35.26%,#008eff 35.67%,#0093ff 35.88%,#0084ff 36.19%,#0044ff 36.81%,#002eff 37.22%,#0027ff 38.04%,#0030ff 50.08%,#004cff 61.40%,#0073ff 67.27%,#0099ff 70.36%,#00c4ff 72.52%,#00edff 73.65%,#00fffc 74.06%,#00ffc6 74.89%,#00ff8a 75.50%,#00ff48 76.02%,#00ff06 76.43%,#0dff00 76.53%,#75ff00 77.05%,#fffd00 77.67%,#ff9800 78.18%,#ff6900 78.49%,#ff4a00 78.80%,#ff3a00 79.11%,#ff3900 79.62%,#ff4700 79.93%,#ff6500 80.24%,#ffa300 80.65%,#fff000 81.06%,#f9ff00 81.17%,#7bff00 81.78%,#24ff00 82.30%,#07ff00 82.50%,#00ff06 82.61%,#00ff47 83.22%,#00ff96 84.25%,#00ffff 85.80%,#00bcff 86.83%,#0090ff 87.86%,#0074ff 89.09%,#0060ff 91.87%,#004eff 97.74%,#0039ff 100.00%)"></div><div style="top:92.4px;height:2.5px;background:linear-gradient(90deg,#d5ff00 0.16%,#fffd00 1.19%,#ffbc00 2.53%,#ff9300 3.25%,#ff4b00 3.66%,#ff3f00 3.87%,#ff3100 4.38%,#ff3100 5.31%,#ff4100 5.41%,#ff9300 5.72%,#fff200 6.03%,#eaff00 6.13%,#36ff00 6.96%,#07ff00 7.27%,#00ff09 7.37%,#00ff4b 7.78%,#00ff94 8.19%,#00ffdf 9.22%,#00fffe 10.05%,#00f4ff 14.57%,#0099ff 15.09%,#008eff 18.90%,#00ecff 19.21%,#00fff4 19.31%,#00ffbf 19.93%,#00ffbf 20.75%,#00fff4 21.16%,#00f6ff 21.26%,#008eff 21.78%,#006cff 26.92%,#003fff 27.34%,#003dff 34.34%,#0048ff 34.75%,#006eff 35.26%,#0090ff 35.67%,#0095ff 35.88%,#008eff 36.08%,#0064ff 36.50%,#003dff 36.91%,#002cff 37.32%,#0028ff 38.86%,#0030ff 50.08%,#004dff 61.40%,#0074ff 67.27%,#009bff 70.36%,#00c5ff 72.52%,#00eeff 73.65%,#00feff 73.96%,#00ffd4 74.68%,#00ff95 75.40%,#00ff56 75.92%,#00ff05 76.43%,#20ff00 76.64%,#a2ff00 77.25%,#fffd00 77.67%,#ff9800 78.18%,#ff6900 78.49%,#ff4900 78.80%,#ff3900 79.11%,#ff3800 79.62%,#ff4600 79.93%,#ff6300 80.24%,#ffa000 80.65%,#fdff00 81.17%,#7fff00 81.78%,#29ff00 82.30%,#00ff01 82.61%,#00ff43 83.22%,#00ff90 84.25%,#00fdff 85.90%,#00baff 86.93%,#008fff 87.96%,#0074ff 89.19%,#0060ff 92.18%,#0050ff 97.74%,#003aff 100.00%)"></div><div style="top:94.4px;height:2.5px;background:linear-gradient(90deg,#d7ff00 0.16%,#ffff00 1.09%,#ffb400 2.63%,#ff9100 3.25%,#ff4a00 3.66%,#ff3e00 3.87%,#ff3000 4.38%,#ff3000 5.31%,#ff4000 5.41%,#ff8f00 5.72%,#ffee00 6.03%,#efff00 6.13%,#37ff00 6.96%,#07ff00 7.27%,#00ff08 7.37%,#00ff5a 7.88%,#00ff90 8.19%,#00ffd9 9.22%,#00fffc 10.15%,#00f2ff 14.57%,#00a8ff 14.99%,#0099ff 15.09%,#0091ff 18.90%,#00ebff 19.21%,#00fff5 19.31%,#00ffbf 19.93%,#00ffbd 20.75%,#00ffef 21.16%,#00fbff 21.26%,#0093ff 21.78%,#006bff 26.82%,#006bff 26.92%,#003fff 27.34%,#003dff 34.34%,#0048ff 34.75%,#006eff 35.26%,#0091ff 35.67%,#0096ff 35.88%,#008eff 36.08%,#0064ff 36.50%,#003dff 36.91%,#002cff 37.32%,#0027ff 38.86%,#0030ff 50.08%,#004cff 61.30%,#0074ff 67.17%,#009aff 70.26%,#00c6ff 72.52%,#00efff 73.65%,#00ffff 73.96%,#00ffcb 74.78%,#00ff93 75.40%,#00ff54 75.92%,#00ff03 76.43%,#22ff00 76.64%,#a4ff00 77.25%,#fffc00 77.67%,#ff9700 78.18%,#ff6800 78.49%,#ff4800 78.80%,#ff3800 79.11%,#ff3700 79.62%,#ff4500 79.93%,#ff6200 80.24%,#ff9f00 80.65%,#feff00 81.17%,#81ff00 81.78%,#2bff00 82.30%,#01ff00 82.61%,#00ff40 83.22%,#00ff8e 84.25%,#00ffff 85.90%,#00bcff 86.93%,#0090ff 87.96%,#0075ff 89.19%,#0061ff 91.97%,#0050ff 97.74%,#003bff 100.00%)"></div><div style="top:96.4px;height:2.5px;background:linear-gradient(90deg,#d9ff00 0.16%,#fffc00 1.09%,#ffad00 2.74%,#ff9000 3.25%,#ff4900 3.66%,#ff3d00 3.87%,#ff2f00 4.38%,#ff2f00 5.31%,#ff3e00 5.41%,#ff8c00 5.72%,#ffea00 6.03%,#f3ff00 6.13%,#39ff00 6.96%,#08ff00 7.27%,#00ff07 7.37%,#00ff57 7.88%,#00ff8c 8.19%,#00ffcd 9.12%,#00fff9 10.15%,#00fbff 11.49%,#00f7ff 13.75%,#00f0ff 14.57%,#00a7ff 14.99%,#0099ff 15.09%,#0091ff 18.69%,#0093ff 18.90%,#00ebff 19.21%,#00fff6 19.31%,#00ffbf 19.93%,#00ffba 20.65%,#00ffba 20.75%,#00ffea 21.16%,#00ffff 21.26%,#0098ff 21.78%,#0074ff 25.17%,#0069ff 26.92%,#0040ff 27.34%,#003dff 34.34%,#0048ff 34.75%,#0065ff 35.16%,#0092ff 35.67%,#0097ff 35.88%,#008fff 36.08%,#0065ff 36.50%,#003dff 36.91%,#002cff 37.32%,#0027ff 38.86%,#0030ff 49.98%,#0041ff 57.39%,#004fff 61.71%,#0076ff 67.37%,#009cff 70.36%,#00c7ff 72.52%,#00f0ff 73.65%,#00fffe 73.96%,#00ffca 74.78%,#00ff92 75.40%,#00ff53 75.92%,#00ff02 76.43%,#4dff00 76.84%,#edff00 77.56%,#fffa00 77.67%,#ff9600 78.18%,#ff6700 78.49%,#ff4800 78.80%,#ff3800 79.11%,#ff3600 79.62%,#ff4400 79.93%,#ff6100 80.24%,#ff9e00 80.65%,#fffe00 81.17%,#70ff00 81.89%,#1eff00 82.40%,#03ff00 82.61%,#00ff50 83.43%,#00fffd 85.90%,#00b8ff 87.03%,#008dff 88.06%,#0073ff 89.30%,#0060ff 92.28%,#0051ff 97.74%,#003cff 100.00%)"></div><div style="top:98.4px;height:2.5px;background:linear-gradient(90deg,#daff00 0.16%,#fffe00 0.99%,#ff9500 3.15%,#ff8e00 3.25%,#ff4700 3.66%,#ff3c00 3.87%,#ff2e00 4.38%,#ff2f00 5.31%,#ff3d00 5.41%,#ff8800 5.72%,#ffe600 6.03%,#f7ff00 6.13%,#3aff00 6.96%,#08ff00 7.27%,#00ff06 7.37%,#00ff54 7.88%,#00ff88 8.19%,#00ffb5 8.81%,#00ffd0 9.32%,#00ffeb 9.94%,#00fff9 10.25%,#00faff 11.79%,#00f6ff 13.65%,#00f5ff 14.37%,#00eeff 14.57%,#00a7ff 14.99%,#0099ff 15.09%,#0091ff 18.59%,#0095ff 18.90%,#00ebff 19.21%,#00fff8 19.31%,#00ffbf 19.93%,#00ffb9 20.34%,#00ffb8 20.75%,#00ffe6 21.16%,#00fffb 21.26%,#00d7ff 21.47%,#009cff 21.78%,#0089ff 23.22%,#0074ff 24.87%,#0068ff 26.92%,#0040ff 27.34%,#003dff 34.34%,#0048ff 34.75%,#0065ff 35.16%,#0092ff 35.67%,#0098ff 35.88%,#0090ff 36.08%,#0065ff 36.50%,#003dff 36.91%,#002cff 37.32%,#0027ff 38.76%,#0030ff 49.98%,#003fff 56.36%,#004eff 61.51%,#0075ff 67.27%,#009dff 70.36%,#00c8ff 72.52%,#00f1ff 73.65%,#00fffd 73.96%,#00ffc9 74.78%,#00ff90 75.40%,#00ff51 75.92%,#00ff00 76.43%,#64ff00 76.95%,#eeff00 77.56%,#fff900 77.67%,#ff9500 78.18%,#ff6600 78.49%,#ff4700 78.80%,#ff3700 79.11%,#ff3600 79.62%,#ff4300 79.93%,#ff6000 80.24%,#ff9d00 80.65%,#fffc00 81.17%,#72ff00 81.89%,#20ff00 82.40%,#05ff00 82.61%,#00ff13 82.81%,#00ff56 83.53%,#00fdff 86.00%,#00baff 87.03%,#008eff 88.06%,#0073ff 89.30%,#0061ff 92.18%,#0051ff 97.84%,#003dff 100.00%)"></div><div style="top:100.4px;height:2.5px;background:linear-gradient(90deg,#dcff00 0.16%,#f7ff00 0.78%,#fffb00 0.99%,#ff9400 3.15%,#ff8c00 3.25%,#ff4600 3.66%,#ff3a00 3.87%,#ff2d00 4.38%,#ff2e00 5.31%,#ff3b00 5.41%,#ff8500 5.72%,#fbff00 6.13%,#3cff00 6.96%,#09ff00 7.27%,#00ff05 7.37%,#00ff51 7.88%,#00ff84 8.19%,#00ffab 8.71%,#00ffca 9.32%,#00ffde 9.84%,#00fff3 10.15%,#00fffb 10.56%,#00f8ff 12.10%,#00f5ff 13.54%,#00f8ff 14.06%,#00f0ff 14.47%,#00ecff 14.57%,#00b6ff 14.88%,#0099ff 15.09%,#0091ff 18.59%,#0097ff 18.90%,#00ebff 19.21%,#00fff9 19.31%,#00ffcb 19.82%,#00ffc0 19.93%,#00ffb7 20.23%,#00ffb6 20.75%,#00ffe1 21.16%,#00fff6 21.26%,#00f1ff 21.37%,#00c4ff 21.57%,#00a1ff 21.78%,#008fff 23.01%,#007dff 23.94%,#006cff 25.90%,#0066ff 26.92%,#0040ff 27.34%,#003dff 34.34%,#0048ff 34.75%,#0065ff 35.16%,#0093ff 35.67%,#0099ff 35.88%,#0091ff 36.08%,#0066ff 36.50%,#003dff 36.91%,#002bff 37.32%,#0027ff 38.76%,#0030ff 49.98%,#003eff 55.74%,#004dff 61.40%,#0076ff 67.27%,#009dff 70.36%,#00c9ff 72.52%,#00f2ff 73.65%,#00fffc 73.96%,#00ffc7 74.78%,#00ff8f 75.40%,#00ff4f 75.92%,#02ff00 76.43%,#66ff00 76.95%,#f0ff00 77.56%,#fff700 77.67%,#ff9400 78.18%,#ff6600 78.49%,#ff4600 78.80%,#ff3600 79.11%,#ff3500 79.62%,#ff4300 79.93%,#ff5f00 80.24%,#ff9b00 80.65%,#fffb00 81.17%,#c3ff00 81.47%,#62ff00 81.99%,#14ff00 82.50%,#00ff05 82.71%,#00ff43 83.33%,#00ffa9 84.77%,#00ffff 86.00%,#00bcff 87.03%,#008fff 88.06%,#0075ff 89.19%,#0063ff 91.66%,#0052ff 97.84%,#003eff 100.00%)"></div><div style="top:102.4px;height:2.5px;background:linear-gradient(90deg,#deff00 0.16%,#f3ff00 0.68%,#fffe00 0.89%,#ffc400 2.12%,#ff9300 3.15%,#ff8b00 3.25%,#ff4500 3.66%,#ff3600 3.97%,#ff2c00 4.38%,#ff2d00 5.31%,#ff3a00 5.41%,#ff6600 5.62%,#ffbe00 5.93%,#fffe00 6.13%,#3dff00 6.96%,#0aff00 7.27%,#00ff04 7.37%,#00ff4e 7.88%,#00ff80 8.19%,#00ffa8 8.71%,#00ffc4 9.32%,#00ffd8 9.84%,#00fff6 10.25%,#00fbff 11.38%,#00f3ff 13.44%,#00f9ff 14.06%,#00efff 14.47%,#00eaff 14.57%,#00c3ff 14.78%,#0099ff 15.09%,#0092ff 18.59%,#009aff 18.90%,#00eaff 19.21%,#00fffa 19.31%,#00ffcc 19.82%,#00ffc0 19.93%,#00ffb5 20.13%,#00ffb4 20.75%,#00ffdd 21.16%,#00fff2 21.26%,#00f5ff 21.37%,#00c7ff 21.57%,#00a5ff 21.78%,#0092ff 23.01%,#007dff 23.84%,#006cff 25.48%,#0064ff 26.92%,#0041ff 27.34%,#003dff 34.34%,#0048ff 34.75%,#0066ff 35.16%,#0094ff 35.67%,#009aff 35.88%,#0092ff 36.08%,#0066ff 36.50%,#003dff 36.91%,#002bff 37.32%,#0027ff 38.76%,#0030ff 49.98%,#003dff 55.23%,#004dff 61.30%,#0076ff 67.27%,#009eff 70.36%,#00c9ff 72.52%,#00f4ff 73.65%,#00fffb 73.96%,#00ffc6 74.78%,#00ff8d 75.40%,#00ff4e 75.92%,#04ff00 76.43%,#68ff00 76.95%,#f1ff00 77.56%,#fff600 77.67%,#ff9300 78.18%,#ff6500 78.49%,#ff4500 78.80%,#ff3600 79.11%,#ff3400 79.62%,#ff4200 79.93%,#ff5f00 80.24%,#ff9a00 80.65%,#fff900 81.17%,#f0ff00 81.27%,#76ff00 81.89%,#25ff00 82.40%,#00ff03 82.71%,#00ff40 83.33%,#00ffa7 84.77%,#00fffc 86.00%,#00b2ff 87.24%,#0089ff 88.27%,#0071ff 89.50%,#0060ff 92.69%,#0052ff 97.84%,#003fff 100.00%)"></div><div style="top:104.4px;height:2.5px;background:linear-gradient(90deg,#e0ff00 0.16%,#f5ff00 0.68%,#fffc00 0.89%,#ffcd00 1.81%,#ff9200 3.15%,#ff8900 3.25%,#ff5200 3.56%,#ff4300 3.66%,#ff3500 3.97%,#ff2b00 4.38%,#ff2c00 5.31%,#ff3900 5.41%,#ff6300 5.62%,#ffba00 5.93%,#fffb00 6.13%,#b8ff00 6.44%,#3fff00 6.96%,#0aff00 7.27%,#00ff03 7.37%,#00ff5b 7.99%,#00ff7c 8.19%,#00ff9f 8.60%,#00ffbe 9.32%,#00ffd2 9.84%,#00fff4 10.25%,#00fbff 11.38%,#00f2ff 13.44%,#00faff 14.06%,#00f5ff 14.37%,#00e8ff 14.57%,#00c1ff 14.78%,#0099ff 15.09%,#008fff 18.48%,#009cff 18.90%,#00eaff 19.21%,#00fffb 19.31%,#00ffda 19.72%,#00ffc0 19.93%,#00ffb4 20.13%,#00ffb2 20.75%,#00ffd8 21.16%,#00f9ff 21.37%,#00cbff 21.57%,#00aaff 21.78%,#0098ff 22.91%,#007eff 23.73%,#006bff 25.28%,#0063ff 26.92%,#0041ff 27.34%,#003dff 34.34%,#0049ff 34.75%,#0066ff 35.16%,#0095ff 35.67%,#009aff 35.88%,#0093ff 36.08%,#0067ff 36.50%,#003dff 36.91%,#002bff 37.32%,#0027ff 38.66%,#002fff 49.98%,#003cff 54.92%,#004dff 61.30%,#0077ff 67.27%,#009dff 70.26%,#00c7ff 72.42%,#00f0ff 73.55%,#00ffff 73.86%,#00ffcc 74.68%,#00ff96 75.30%,#00ff4c 75.92%,#00ff0c 76.33%,#05ff00 76.43%,#69ff00 76.95%,#f3ff00 77.56%,#fff500 77.67%,#ff9200 78.18%,#ff6400 78.49%,#ff4500 78.80%,#ff3500 79.11%,#ff3400 79.62%,#ff4100 79.93%,#ff5e00 80.24%,#ff9900 80.65%,#fff800 81.17%,#f2ff00 81.27%,#78ff00 81.89%,#27ff00 82.40%,#00ff01 82.71%,#00ff3e 83.33%,#00ffa4 84.77%,#00fdff 86.11%,#00baff 87.13%,#008dff 88.16%,#0074ff 89.30%,#0063ff 91.77%,#0052ff 97.94%,#0040ff 100.00%)"></div><div style="top:106.4px;height:2.5px;background:linear-gradient(90deg,#e2ff00 0.16%,#f7ff00 0.68%,#fffa00 0.89%,#ffd800 1.50%,#ff9100 3.15%,#ff8800 3.25%,#ff5000 3.56%,#ff3b00 3.77%,#ff2900 4.28%,#ff2c00 5.31%,#ff3700 5.41%,#ff5f00 5.62%,#ffd600 6.03%,#fff700 6.13%,#eeff00 6.24%,#58ff00 6.85%,#2eff00 7.06%,#0bff00 7.27%,#00ff02 7.37%,#00ff57 7.99%,#00ff78 8.19%,#00ff9c 8.60%,#00ffb8 9.32%,#00ffcc 9.84%,#00fff2 10.25%,#00fbff 11.38%,#00f2ff 13.44%,#00fcff 13.96%,#00f5ff 14.37%,#00e6ff 14.57%,#00beff 14.78%,#0099ff 15.09%,#008fff 18.48%,#009eff 18.90%,#00eaff 19.21%,#00fffc 19.31%,#00ffdb 19.72%,#00ffc0 19.93%,#00ffb2 20.13%,#00ffb0 20.75%,#00ffd4 21.16%,#00fdff 21.37%,#00ceff 21.57%,#00aeff 21.78%,#009aff 22.91%,#007dff 23.73%,#006aff 25.17%,#0061ff 26.92%,#0041ff 27.34%,#003dff 34.34%,#0049ff 34.75%,#0066ff 35.16%,#0096ff 35.67%,#009bff 35.88%,#0094ff 36.08%,#0067ff 36.50%,#003dff 36.91%,#002bff 37.32%,#0027ff 38.66%,#002fff 49.88%,#003bff 54.30%,#004cff 61.20%,#0077ff 67.27%,#009dff 70.26%,#00c8ff 72.42%,#00f1ff 73.55%,#00fffe 73.86%,#00ffcb 74.68%,#00ff95 75.30%,#00ff4a 75.92%,#00ff0b 76.33%,#07ff00 76.43%,#6bff00 76.95%,#f5ff00 77.56%,#fff300 77.67%,#ff9100 78.18%,#ff6300 78.49%,#ff4400 78.80%,#ff3400 79.11%,#ff3300 79.62%,#ff4100 79.93%,#ff5d00 80.24%,#ff9800 80.65%,#fff600 81.17%,#f3ff00 81.27%,#7aff00 81.89%,#29ff00 82.40%,#01ff00 82.71%,#00ff44 83.43%,#00ffff 86.11%,#00bbff 87.13%,#008eff 88.16%,#0074ff 89.30%,#0063ff 91.66%,#0053ff 97.94%,#0041ff 100.00%)"></div><div style="top:108.4px;height:2.5px;background:linear-gradient(90deg,#e3ff00 0.16%,#f9ff00 0.68%,#fffe00 0.78%,#ffde00 1.30%,#ff9000 3.15%,#ff8600 3.25%,#ff4e00 3.56%,#ff3a00 3.77%,#ff2800 4.28%,#ff2b00 5.31%,#ff3600 5.41%,#ff5c00 5.62%,#ffd200 6.03%,#fff300 6.13%,#f1ff00 6.24%,#59ff00 6.85%,#2fff00 7.06%,#0bff00 7.27%,#00ff01 7.37%,#00ff54 7.99%,#00ff75 8.19%,#00ff99 8.60%,#00ffb2 9.32%,#00ffc6 9.84%,#00fff0 10.25%,#00fbff 11.38%,#00f1ff 13.44%,#00fdff 13.96%,#00f4ff 14.37%,#00e4ff 14.57%,#00bcff 14.78%,#0099ff 15.09%,#008fff 18.48%,#00a1ff 18.90%,#00fffe 19.31%,#00ffdd 19.72%,#00ffc1 19.93%,#00ffb0 20.13%,#00ffae 20.75%,#00ffcf 21.16%,#00fffd 21.37%,#00d1ff 21.57%,#00b3ff 21.78%,#009dff 22.91%,#007dff 23.73%,#0068ff 25.17%,#005fff 26.92%,#0042ff 27.34%,#003dff 34.34%,#0049ff 34.75%,#0067ff 35.16%,#0097ff 35.67%,#009cff 35.88%,#0095ff 36.08%,#0068ff 36.50%,#003dff 36.91%,#002bff 37.32%,#0026ff 38.66%,#002fff 49.88%,#003bff 54.10%,#004dff 61.20%,#0077ff 67.27%,#009eff 70.26%,#00c9ff 72.42%,#00f2ff 73.55%,#00fffd 73.86%,#00ffca 74.68%,#00ff93 75.30%,#00ff49 75.92%,#00ff09 76.33%,#09ff00 76.43%,#6dff00 76.95%,#f6ff00 77.56%,#fff200 77.67%,#ff8f00 78.18%,#ff6200 78.49%,#ff4300 78.80%,#ff3400 79.11%,#ff3300 79.62%,#ff4000 79.93%,#ff5c00 80.24%,#ff9700 80.65%,#fff500 81.17%,#f5ff00 81.27%,#7cff00 81.89%,#2bff00 82.40%,#04ff00 82.71%,#00ff3a 83.33%,#00ff99 84.66%,#00fffc 86.11%,#00b2ff 87.34%,#0088ff 88.37%,#0070ff 89.60%,#0061ff 92.59%,#0053ff 98.04%,#0042ff 100.00%)"></div><div style="top:110.4px;height:2.5px;background:linear-gradient(90deg,#e5ff00 0.16%,#f3ff00 0.58%,#fffc00 0.78%,#ffdb00 1.30%,#ffa000 2.74%,#ff8f00 3.15%,#ff8400 3.25%,#ff4c00 3.56%,#ff3900 3.77%,#ff2700 4.28%,#ff2a00 5.31%,#ff3400 5.41%,#ff5800 5.62%,#ffce00 6.03%,#ffef00 6.13%,#f5ff00 6.24%,#5bff00 6.85%,#1eff00 7.16%,#00ff01 7.37%,#00ff50 7.99%,#00ff71 8.19%,#00ff96 8.60%,#00ffac 9.32%,#00ffc0 9.84%,#00ffee 10.25%,#00fdff 11.28%,#00edff 13.34%,#00feff 13.96%,#00f4ff 14.37%,#00e3ff 14.57%,#00baff 14.78%,#0099ff 15.09%,#008fff 18.48%,#00a3ff 18.90%,#00ffff 19.31%,#00ffde 19.72%,#00ffc1 19.93%,#00ffae 20.13%,#00ffac 20.75%,#00ffca 21.16%,#00fff9 21.37%,#00edff 21.47%,#00d4ff 21.57%,#00b7ff 21.78%,#00a0ff 22.91%,#007cff 23.73%,#0067ff 25.07%,#005eff 26.92%,#0042ff 27.34%,#003dff 34.34%,#0049ff 34.75%,#0067ff 35.16%,#0097ff 35.67%,#009dff 35.88%,#0095ff 36.08%,#0075ff 36.39%,#0046ff 36.81%,#002eff 37.22%,#0026ff 37.94%,#002fff 49.88%,#003bff 53.89%,#004dff 61.20%,#0078ff 67.27%,#009eff 70.26%,#00caff 72.42%,#00f3ff 73.55%,#00fffc 73.86%,#00ffc8 74.68%,#00ff92 75.30%,#00ff47 75.92%,#00ff07 76.33%,#0bff00 76.43%,#6fff00 76.95%,#f8ff00 77.56%,#fff000 77.67%,#ff8e00 78.18%,#ff6100 78.49%,#ff4200 78.80%,#ff3300 79.11%,#ff3200 79.62%,#ff3f00 79.93%,#ff5b00 80.24%,#ff9500 80.65%,#fff300 81.17%,#f7ff00 81.27%,#7eff00 81.89%,#2dff00 82.40%,#06ff00 82.71%,#00ff11 82.91%,#00ff50 83.64%,#00fdff 86.21%,#00b9ff 87.24%,#008cff 88.27%,#0073ff 89.40%,#0063ff 91.77%,#0053ff 98.15%,#0044ff 100.00%)"></div><div style="top:112.4px;height:2.5px;background:linear-gradient(90deg,#e7ff00 0.16%,#f5ff00 0.58%,#fffa00 0.78%,#ffd800 1.30%,#ffb500 2.12%,#ff8e00 3.15%,#ff8300 3.25%,#ff4a00 3.56%,#ff3700 3.77%,#ff2600 4.28%,#ff2900 5.31%,#ff3300 5.41%,#ff5500 5.62%,#ffcb00 6.03%,#ffeb00 6.13%,#f9ff00 6.24%,#5dff00 6.85%,#1eff00 7.16%,#00ff00 7.37%,#00ff4d 7.99%,#00ff6d 8.19%,#00ff93 8.60%,#00ffac 9.53%,#00ffba 9.84%,#00ffed 10.25%,#00fdff 11.28%,#00ecff 13.34%,#00ffff 13.96%,#00f4ff 14.37%,#00e1ff 14.57%,#00b8ff 14.78%,#0099ff 15.09%,#008fff 18.48%,#00a5ff 18.90%,#00feff 19.31%,#00ffe0 19.72%,#00ffc1 19.93%,#00ffac 20.13%,#00ffaa 20.75%,#00ffc6 21.16%,#00fff5 21.37%,#00f0ff 21.47%,#00d7ff 21.57%,#00bcff 21.78%,#00a3ff 22.91%,#007cff 23.73%,#0065ff 25.07%,#005cff 26.92%,#0042ff 27.34%,#003dff 34.34%,#0049ff 34.75%,#0068ff 35.16%,#0098ff 35.67%,#009eff 35.88%,#0096ff 36.08%,#0076ff 36.39%,#0046ff 36.81%,#002eff 37.22%,#0026ff 37.94%,#002eff 49.88%,#003aff 53.79%,#004dff 61.20%,#0078ff 67.27%,#009fff 70.26%,#00cbff 72.42%,#00f4ff 73.55%,#00feff 73.75%,#00ffcf 74.58%,#00ff90 75.30%,#00ff45 75.92%,#00ff05 76.33%,#0cff00 76.43%,#71ff00 76.95%,#f9ff00 77.56%,#ffda00 77.77%,#ff8d00 78.18%,#ff6000 78.49%,#ff4200 78.80%,#ff3300 79.11%,#ff3100 79.62%,#ff3e00 79.93%,#ff5a00 80.24%,#ff9400 80.65%,#fff100 81.17%,#f9ff00 81.27%,#81ff00 81.89%,#2fff00 82.40%,#08ff00 82.71%,#00ff04 82.81%,#00ff46 83.53%,#00fffe 86.21%,#00b6ff 87.34%,#0089ff 88.37%,#0072ff 89.50%,#0063ff 91.97%,#0053ff 98.25%,#0045ff 100.00%)"></div><div style="top:114.4px;height:2.5px;background:linear-gradient(90deg,#e9ff00 0.16%,#f7ff00 0.58%,#ffff00 0.68%,#ffd400 1.30%,#ffb200 2.12%,#ff8d00 3.15%,#ff8100 3.25%,#ff4800 3.56%,#ff3600 3.77%,#ff2500 4.28%,#ff2900 5.31%,#ff4000 5.52%,#ff5100 5.62%,#ffc700 6.03%,#ffe700 6.13%,#fdff00 6.24%,#5eff00 6.85%,#1fff00 7.16%,#0dff00 7.27%,#01ff00 7.37%,#00ff4a 7.99%,#00ff69 8.19%,#00ff90 8.60%,#00ffa6 9.53%,#00ffb4 9.84%,#00ffeb 10.25%,#00fdff 11.28%,#00ebff 13.34%,#00fffe 13.96%,#00f4ff 14.37%,#00dfff 14.57%,#00b5ff 14.78%,#0099ff 15.09%,#008fff 18.48%,#00a7ff 18.90%,#00fdff 19.31%,#00ffe1 19.72%,#00ffc1 19.93%,#00ffaa 20.13%,#00ffa7 20.75%,#00ffc1 21.16%,#00fff1 21.37%,#00f4ff 21.47%,#00daff 21.57%,#00c1ff 21.78%,#00abff 22.81%,#007dff 23.63%,#0063ff 25.07%,#005bff 26.92%,#0043ff 27.34%,#003dff 34.34%,#0049ff 34.75%,#0068ff 35.16%,#0099ff 35.67%,#009fff 35.88%,#0097ff 36.08%,#0077ff 36.39%,#0046ff 36.81%,#002eff 37.22%,#0026ff 37.94%,#002eff 49.88%,#003aff 53.68%,#004dff 61.20%,#0079ff 67.27%,#00a0ff 70.26%,#00ccff 72.42%,#00f5ff 73.55%,#00fffe 73.75%,#00ffc6 74.68%,#00ff8f 75.30%,#00ff44 75.92%,#00ff04 76.33%,#21ff00 76.53%,#9fff00 77.15%,#fbff00 77.56%,#ffb100 77.97%,#ff6d00 78.39%,#ff4900 78.69%,#ff3500 79.00%,#ff2f00 79.42%,#ff3800 79.83%,#ff4e00 80.14%,#ff8300 80.55%,#fff000 81.17%,#faff00 81.27%,#83ff00 81.89%,#31ff00 82.40%,#00ff02 82.81%,#00ff44 83.53%,#00fffc 86.21%,#00acff 87.55%,#0084ff 88.58%,#006eff 89.81%,#0061ff 93.00%,#0054ff 98.35%,#0046ff 100.00%)"></div><div style="top:116.4px;height:2.5px;background:linear-gradient(90deg,#ebff00 0.16%,#fffe00 0.68%,#ffd100 1.30%,#ffb200 2.02%,#ff8c00 3.15%,#ff8000 3.25%,#ff4600 3.56%,#ff3500 3.77%,#ff2400 4.28%,#ff2800 5.31%,#ff3e00 5.52%,#ff4e00 5.62%,#ffa200 5.93%,#ffe300 6.13%,#fffe00 6.24%,#77ff00 6.75%,#34ff00 7.06%,#0eff00 7.27%,#02ff00 7.37%,#00ff39 7.88%,#00ff65 8.19%,#00ff8d 8.60%,#00ffa0 9.53%,#00ffae 9.84%,#00ffe9 10.25%,#00fdff 11.28%,#00f0ff 12.52%,#00eaff 13.34%,#00fffd 13.96%,#00f4ff 14.37%,#00ddff 14.57%,#00b3ff 14.78%,#0099ff 15.09%,#008fff 18.48%,#00aaff 18.90%,#00fbff 19.31%,#00ffe3 19.72%,#00ffb5 20.03%,#00ffa9 20.13%,#00ffa5 20.75%,#00ffbd 21.16%,#00ffee 21.37%,#00f7ff 21.47%,#00ddff 21.57%,#00c5ff 21.78%,#00aeff 22.81%,#007dff 23.63%,#0061ff 24.97%,#0059ff 26.92%,#0043ff 27.34%,#003dff 34.34%,#0049ff 34.75%,#0068ff 35.16%,#009aff 35.67%,#00a0ff 35.88%,#0098ff 36.08%,#0077ff 36.39%,#0046ff 36.81%,#0032ff 37.11%,#0027ff 37.63%,#002eff 49.77%,#003aff 53.48%,#004cff 61.10%,#0079ff 67.27%,#00a0ff 70.26%,#00cdff 72.42%,#00f6ff 73.55%,#00fff8 73.86%,#00ffc5 74.68%,#00ff8d 75.30%,#00ff42 75.92%,#00ff02 76.33%,#4aff00 76.74%,#fdff00 77.56%,#ff8b00 78.18%,#ff5e00 78.49%,#ff4000 78.80%,#ff3100 79.11%,#ff3000 79.62%,#ff3d00 79.93%,#ff5800 80.24%,#ff9200 80.65%,#fcff00 81.27%,#85ff00 81.89%,#33ff00 82.40%,#00ff00 82.81%,#00ff41 83.53%,#00fdff 86.31%,#00b3ff 87.44%,#0088ff 88.47%,#0071ff 89.60%,#0063ff 92.07%,#0054ff 98.46%,#0047ff 100.00%)"></div><div style="top:118.4px;height:2.5px;background:linear-gradient(90deg,#edff00 0.16%,#fffc00 0.68%,#ffd200 1.19%,#ffaf00 2.02%,#ff8b00 3.15%,#ff7e00 3.25%,#ff4400 3.56%,#ff3400 3.77%,#ff2300 4.28%,#ff2700 5.31%,#ff3b00 5.52%,#ff4a00 5.62%,#ff9e00 5.93%,#ffdf00 6.13%,#fffa00 6.24%,#ccff00 6.44%,#61ff00 6.85%,#0eff00 7.27%,#03ff00 7.37%,#00ff2a 7.78%,#00ff6b 8.30%,#00ff8a 8.60%,#00ff99 9.53%,#00ffa8 9.84%,#00ffe7 10.25%,#00fdff 11.28%,#00f3ff 12.10%,#00e9ff 13.34%,#00fffd 13.96%,#00f4ff 14.37%,#00dbff 14.57%,#00b1ff 14.78%,#0099ff 15.09%,#008fff 18.48%,#00acff 18.90%,#00e8ff 19.21%,#00faff 19.31%,#00fff4 19.51%,#00ffe4 19.72%,#00ffb4 20.03%,#00ffa7 20.13%,#00ffa3 20.75%,#00ffb8 21.16%,#00fbff 21.47%,#00e0ff 21.57%,#00caff 21.78%,#00b2ff 22.81%,#007cff 23.63%,#005fff 24.97%,#0057ff 26.92%,#0043ff 27.34%,#003dff 34.34%,#004aff 34.75%,#0069ff 35.16%,#009bff 35.67%,#00a1ff 35.88%,#0099ff 36.08%,#0078ff 36.39%,#0046ff 36.81%,#0032ff 37.11%,#0027ff 37.63%,#002eff 49.77%,#003aff 53.38%,#004dff 61.10%,#007aff 67.27%,#00a1ff 70.26%,#00ceff 72.42%,#00f8ff 73.55%,#00fff7 73.86%,#00ffc3 74.68%,#00ff8c 75.30%,#00ff40 75.92%,#00ff00 76.33%,#61ff00 76.84%,#feff00 77.56%,#ff8a00 78.18%,#ff5e00 78.49%,#ff4000 78.80%,#ff3100 79.11%,#ff2f00 79.62%,#ff3c00 79.93%,#ff5700 80.24%,#ff9100 80.65%,#feff00 81.27%,#86ff00 81.89%,#35ff00 82.40%,#02ff00 82.81%,#00ff47 83.64%,#00fffe 86.31%,#00b5ff 87.44%,#0088ff 88.47%,#0071ff 89.60%,#0064ff 91.97%,#0054ff 98.66%,#0048ff 100.00%)"></div><div style="top:120.4px;height:2.5px;background:linear-gradient(90deg,#eeff00 0.16%,#fbff00 0.58%,#ffd700 1.09%,#ffc100 1.50%,#ffac00 2.02%,#ff8900 3.15%,#ff7c00 3.25%,#ff4200 3.56%,#ff3300 3.77%,#ff2200 4.28%,#ff2700 5.31%,#ff3900 5.52%,#ff4700 5.62%,#ff9a00 5.93%,#fff700 6.24%,#eaff00 6.34%,#7bff00 6.75%,#22ff00 7.16%,#0fff00 7.27%,#04ff00 7.37%,#00ff1c 7.68%,#00ff4e 8.09%,#00ff72 8.40%,#00ff86 8.60%,#00ff8e 9.43%,#00ffa2 9.84%,#00ffe5 10.25%,#00fdff 11.28%,#00f3ff 12.00%,#00e8ff 13.34%,#00fffc 13.96%,#00f4ff 14.37%,#00d9ff 14.57%,#00aeff 14.78%,#0099ff 15.09%,#008fff 18.48%,#00aeff 18.90%,#00e8ff 19.21%,#00f9ff 19.31%,#00fffd 19.41%,#00ffe6 19.72%,#00ffb3 20.03%,#00ffa5 20.13%,#00ffa1 20.75%,#00ffb4 21.16%,#00feff 21.47%,#00e3ff 21.57%,#00ceff 21.78%,#00b5ff 22.81%,#007cff 23.63%,#005dff 24.97%,#0056ff 26.92%,#0043ff 27.34%,#003dff 34.34%,#004aff 34.75%,#0069ff 35.16%,#009cff 35.67%,#00a2ff 35.88%,#009aff 36.08%,#0079ff 36.39%,#0046ff 36.81%,#0031ff 37.11%,#0026ff 37.63%,#002eff 49.77%,#003aff 53.27%,#004dff 61.10%,#007aff 67.27%,#00a1ff 70.26%,#00ceff 72.42%,#00f9ff 73.55%,#00fffb 73.75%,#00ffc2 74.68%,#00ff8a 75.30%,#00ff3f 75.92%,#02ff00 76.33%,#62ff00 76.84%,#fffe00 77.56%,#ff9a00 78.08%,#ff5d00 78.49%,#ff3f00 78.80%,#ff3000 79.11%,#ff2f00 79.62%,#ff3b00 79.93%,#ff5600 80.24%,#ff8f00 80.65%,#ffff00 81.27%,#77ff00 81.99%,#2aff00 82.50%,#05ff00 82.81%,#00ff11 83.02%,#00ff53 83.84%,#00fffc 86.31%,#00b1ff 87.55%,#0086ff 88.58%,#006fff 89.81%,#0063ff 92.49%,#0054ff 98.97%,#0049ff 100.00%)"></div><div style="top:122.4px;height:2.5px;background:linear-gradient(90deg,#f0ff00 0.16%,#fdff00 0.58%,#ffcc00 1.19%,#ffac00 1.91%,#ff8800 3.15%,#ff7b00 3.25%,#ff4000 3.56%,#ff2f00 3.87%,#ff2100 4.28%,#ff2600 5.31%,#ff3600 5.52%,#ff4400 5.62%,#ff9600 5.93%,#fff400 6.24%,#eeff00 6.34%,#7cff00 6.75%,#22ff00 7.16%,#0fff00 7.27%,#00ff05 7.47%,#00ff4a 8.09%,#00ff79 8.50%,#00ff83 8.60%,#00ff88 9.43%,#00ff9b 9.84%,#00ffe3 10.25%,#00fdff 11.28%,#00f3ff 11.90%,#00e7ff 13.34%,#00ffff 13.85%,#00fffb 13.96%,#00f4ff 14.37%,#00d7ff 14.57%,#00acff 14.78%,#0099ff 15.09%,#008fff 18.48%,#00b1ff 18.90%,#00e8ff 19.21%,#00f7ff 19.31%,#00fffe 19.41%,#00ffe7 19.72%,#00ffb3 20.03%,#00ffa3 20.13%,#00ff9f 20.75%,#00ffaf 21.16%,#00fffc 21.47%,#00e6ff 21.57%,#00d3ff 21.78%,#00b8ff 22.81%,#007bff 23.63%,#005bff 24.97%,#0054ff 26.92%,#0044ff 27.34%,#003dff 34.34%,#004aff 34.75%,#0069ff 35.16%,#009cff 35.67%,#00a3ff 35.88%,#009bff 36.08%,#0079ff 36.39%,#0047ff 36.81%,#0031ff 37.11%,#0026ff 37.63%,#002dff 49.77%,#003aff 53.17%,#004dff 61.10%,#007bff 67.27%,#00a2ff 70.26%,#00cfff 72.42%,#00faff 73.55%,#00fffa 73.75%,#00ffc0 74.68%,#00ff89 75.30%,#00ff3d 75.92%,#03ff00 76.33%,#64ff00 76.84%,#fffd00 77.56%,#ff9900 78.08%,#ff5c00 78.49%,#ff3e00 78.80%,#ff2f00 79.11%,#ff2e00 79.62%,#ff3b00 79.93%,#ff5600 80.24%,#ff8e00 80.65%,#fffd00 81.27%,#79ff00 81.99%,#2cff00 82.50%,#07ff00 82.81%,#00ff04 82.91%,#00ff43 83.64%,#00fdff 86.41%,#00b3ff 87.55%,#0087ff 88.58%,#006fff 89.81%,#0064ff 92.38%,#0055ff 98.97%,#004aff 100.00%)"></div><div style="top:124.4px;height:2.5px;background:linear-gradient(90deg,#f2ff00 0.16%,#ffff00 0.58%,#ffc800 1.19%,#ffa900 1.91%,#ff8700 3.15%,#ff7900 3.25%,#ff3e00 3.56%,#ff2e00 3.87%,#ff2000 4.28%,#ff2500 5.31%,#ff3400 5.52%,#ff4000 5.62%,#ff9200 5.93%,#fff000 6.24%,#f1ff00 6.34%,#7eff00 6.75%,#23ff00 7.16%,#10ff00 7.27%,#00ff04 7.47%,#00ff38 7.99%,#00ff60 8.30%,#00ff80 8.60%,#00ff82 9.43%,#00ff95 9.84%,#00ffe1 10.25%,#00fdff 11.28%,#00f4ff 11.79%,#00e5ff 13.34%,#00ffff 13.85%,#00fffa 13.96%,#00f4ff 14.37%,#00d5ff 14.57%,#00aaff 14.78%,#0099ff 15.09%,#008fff 18.48%,#00b3ff 18.90%,#00e7ff 19.21%,#00f6ff 19.31%,#00feff 19.41%,#00ffe9 19.72%,#00ffa1 20.13%,#00ff9d 20.75%,#00ffaa 21.16%,#00fff9 21.47%,#00e9ff 21.57%,#00d7ff 21.78%,#00bbff 22.81%,#007bff 23.63%,#0059ff 24.97%,#0053ff 26.92%,#0044ff 27.44%,#003eff 34.34%,#004aff 34.75%,#006aff 35.16%,#009dff 35.67%,#00a4ff 35.88%,#009bff 36.08%,#007aff 36.39%,#0047ff 36.81%,#0031ff 37.11%,#0026ff 37.63%,#002dff 49.77%,#003aff 53.17%,#004dff 61.10%,#007bff 67.27%,#00a3ff 70.26%,#00d0ff 72.42%,#00fffe 73.65%,#00ffc7 74.58%,#00ff87 75.30%,#00ff3b 75.92%,#00ff0c 76.22%,#05ff00 76.33%,#66ff00 76.84%,#ecff00 77.46%,#fffb00 77.56%,#ff9800 78.08%,#ff5b00 78.49%,#ff3d00 78.80%,#ff2d00 79.21%,#ff3000 79.72%,#ff4100 80.03%,#ff6100 80.34%,#ff9e00 80.75%,#fffb00 81.27%,#9fff00 81.78%,#4aff00 82.30%,#09ff00 82.81%,#00ff02 82.91%,#00ff40 83.64%,#00ffef 86.21%,#00fffe 86.41%,#00afff 87.65%,#0084ff 88.68%,#006eff 89.91%,#0064ff 92.49%,#0055ff 99.07%,#004bff 100.00%)"></div><div style="top:126.4px;height:2.5px;background:linear-gradient(90deg,#f4ff00 0.16%,#fffe00 0.58%,#ffc500 1.19%,#ffa500 1.91%,#ff8600 3.15%,#ff7800 3.25%,#ff3c00 3.56%,#ff2900 3.97%,#ff1f00 4.38%,#ff2400 5.31%,#ff3100 5.52%,#ff3d00 5.62%,#ff8e00 5.93%,#ffed00 6.24%,#f4ff00 6.34%,#80ff00 6.75%,#24ff00 7.16%,#11ff00 7.27%,#00ff03 7.47%,#00ff35 7.99%,#00ff67 8.40%,#00ff7d 8.60%,#00ff7c 9.43%,#00ff8f 9.84%,#00ffe0 10.25%,#00fdff 11.28%,#00f4ff 11.69%,#00e4ff 13.34%,#00fffe 13.85%,#00fff9 13.96%,#00f9ff 14.27%,#00f4ff 14.37%,#00d3ff 14.57%,#00a8ff 14.78%,#0099ff 15.09%,#008fff 18.48%,#00b5ff 18.90%,#00e7ff 19.21%,#00fdff 19.41%,#00ffea 19.72%,#00ff9f 20.13%,#00ff9b 20.75%,#00ffa6 21.16%,#00fff6 21.47%,#00edff 21.57%,#00dcff 21.78%,#00beff 22.81%,#007bff 23.63%,#0057ff 24.97%,#004eff 27.03%,#0044ff 27.44%,#003eff 34.34%,#004aff 34.75%,#006aff 35.16%,#009eff 35.67%,#00a5ff 35.88%,#009cff 36.08%,#007aff 36.39%,#0047ff 36.81%,#0031ff 37.11%,#0026ff 37.63%,#002dff 49.77%,#0039ff 53.07%,#004dff 61.10%,#007bff 67.27%,#00a3ff 70.26%,#00d1ff 72.42%,#00fffd 73.65%,#00ffc6 74.58%,#00ff86 75.30%,#00ff3a 75.92%,#00ff0a 76.22%,#07ff00 76.33%,#68ff00 76.84%,#eeff00 77.46%,#fffa00 77.56%,#ff9700 78.08%,#ff5a00 78.49%,#ff3d00 78.80%,#ff2c00 79.21%,#ff2f00 79.72%,#ff4000 80.03%,#ff6000 80.34%,#ff9d00 80.75%,#fffa00 81.27%,#dcff00 81.47%,#6cff00 82.09%,#23ff00 82.61%,#00ff00 82.91%,#00ff3e 83.64%,#00ffed 86.21%,#00fbff 86.52%,#00b1ff 87.65%,#0085ff 88.68%,#006eff 89.91%,#0064ff 92.49%,#0055ff 99.18%,#004cff 100.00%)"></div><div style="top:128.4px;height:2.5px;background:linear-gradient(90deg,#f6ff00 0.16%,#fffc00 0.58%,#ffc200 1.19%,#ffa200 1.91%,#ff8500 3.15%,#ff6100 3.36%,#ff3a00 3.56%,#ff2100 4.18%,#ff1f00 4.49%,#ff2400 5.31%,#ff2f00 5.52%,#ff3900 5.62%,#ff8a00 5.93%,#ffe900 6.24%,#f7ff00 6.34%,#82ff00 6.75%,#11ff00 7.27%,#00ff01 7.47%,#00ff31 7.99%,#00ff6f 8.50%,#00ff7a 8.60%,#00ff75 9.43%,#00ff89 9.84%,#00ffde 10.25%,#00fdff 11.28%,#00f4ff 11.69%,#00e3ff 13.34%,#00fffe 13.85%,#00fff8 13.96%,#00f9ff 14.27%,#00f4ff 14.37%,#00bbff 14.68%,#00a5ff 14.78%,#0098ff 15.19%,#008fff 18.48%,#00b7ff 18.90%,#00e7ff 19.21%,#00fbff 19.41%,#00ffec 19.72%,#00ff9e 20.13%,#00ff9b 20.85%,#00ffa1 21.16%,#00fff2 21.47%,#00f0ff 21.57%,#00ddff 21.88%,#00c2ff 22.81%,#007aff 23.63%,#0055ff 24.97%,#004dff 27.03%,#0045ff 27.44%,#003eff 34.34%,#004aff 34.75%,#006aff 35.16%,#009fff 35.67%,#00a5ff 35.88%,#009dff 36.08%,#007bff 36.39%,#0047ff 36.81%,#0031ff 37.11%,#0026ff 37.63%,#002dff 49.77%,#0039ff 52.96%,#004dff 61.10%,#007cff 67.27%,#00a4ff 70.26%,#00d2ff 72.42%,#00fffc 73.65%,#00ffc4 74.58%,#00ff84 75.30%,#00ff38 75.92%,#00ff09 76.22%,#09ff00 76.33%,#6aff00 76.84%,#efff00 77.46%,#fff800 77.56%,#ff9600 78.08%,#ff5900 78.49%,#ff3c00 78.80%,#ff2b00 79.21%,#ff2f00 79.72%,#ff4000 80.03%,#ff5f00 80.34%,#ff9c00 80.75%,#fff800 81.27%,#f2ff00 81.37%,#7fff00 81.99%,#32ff00 82.50%,#02ff00 82.91%,#00ff4b 83.84%,#00ffdb 86.00%,#00feff 86.52%,#00b3ff 87.65%,#0086ff 88.68%,#006eff 89.91%,#0065ff 92.38%,#0056ff 99.18%,#004dff 100.00%)"></div><div style="top:130.4px;height:2.5px;background:linear-gradient(90deg,#f8ff00 0.16%,#fffb00 0.58%,#ffbe00 1.19%,#ff9f00 1.91%,#ff8400 3.15%,#ff5f00 3.36%,#ff3800 3.56%,#ff1d00 4.28%,#ff2600 5.41%,#ff3600 5.62%,#ff8600 5.93%,#ffe600 6.24%,#fbff00 6.34%,#83ff00 6.75%,#12ff00 7.27%,#00ff00 7.47%,#00ff2e 7.99%,#00ff77 8.60%,#00ff6f 9.43%,#00ff83 9.84%,#00ffdc 10.25%,#00fdff 11.28%,#00f3ff 11.69%,#00e2ff 13.34%,#00fffd 13.85%,#00fff7 13.96%,#00f9ff 14.27%,#00f4ff 14.37%,#00b9ff 14.68%,#00a3ff 14.78%,#0098ff 15.19%,#008fff 18.48%,#00baff 18.90%,#00dbff 19.10%,#00faff 19.41%,#00fff5 19.62%,#00ffed 19.72%,#00ff9c 20.13%,#00ff98 20.85%,#00ff9d 21.16%,#00ffef 21.47%,#00f3ff 21.57%,#00e2ff 21.88%,#00c5ff 22.81%,#007aff 23.63%,#0053ff 24.97%,#004cff 27.03%,#0045ff 27.54%,#003eff 34.34%,#004aff 34.75%,#0060ff 35.06%,#00a0ff 35.67%,#00a6ff 35.88%,#009eff 36.08%,#007cff 36.39%,#0047ff 36.81%,#0031ff 37.11%,#0026ff 37.63%,#002dff 49.77%,#0039ff 52.96%,#004dff 61.10%,#007cff 67.27%,#00a5ff 70.26%,#00d3ff 72.42%,#00feff 73.55%,#00ffd1 74.37%,#00ff98 75.09%,#00ff52 75.71%,#00ff07 76.22%,#0aff00 76.33%,#81ff00 76.95%,#f1ff00 77.46%,#fff700 77.56%,#ff9500 78.08%,#ff5800 78.49%,#ff3b00 78.80%,#ff2b00 79.21%,#ff2e00 79.72%,#ff3f00 80.03%,#ff5e00 80.34%,#ff9a00 80.75%,#fff700 81.27%,#f4ff00 81.37%,#81ff00 81.99%,#34ff00 82.50%,#04ff00 82.91%,#00ff19 83.22%,#00ff64 84.25%,#00ffd8 86.00%,#00fffe 86.52%,#00afff 87.75%,#0086ff 88.68%,#006eff 89.91%,#0065ff 92.28%,#0056ff 99.28%,#004eff 100.00%)"></div><div style="top:132.4px;height:2.5px;background:linear-gradient(90deg,#f9ff00 0.16%,#fffa00 0.58%,#ffbb00 1.19%,#ff9c00 1.91%,#ff8300 3.15%,#ff5e00 3.36%,#ff3600 3.56%,#ff1c00 4.28%,#ff2500 5.41%,#ff3200 5.62%,#ff8200 5.93%,#feff00 6.34%,#85ff00 6.75%,#12ff00 7.27%,#01ff00 7.47%,#00ff2a 7.99%,#00ff74 8.60%,#00ff69 9.43%,#00ff7d 9.84%,#00ffda 10.25%,#00fdff 11.28%,#00f3ff 11.69%,#00e1ff 13.34%,#00fffd 13.85%,#00fff7 13.96%,#00f9ff 14.27%,#00f4ff 14.37%,#00a1ff 14.78%,#0098ff 15.29%,#008eff 18.48%,#00bcff 18.90%,#00dbff 19.10%,#00f9ff 19.41%,#00fffe 19.51%,#00ffef 19.72%,#00ff9a 20.13%,#00ff96 20.96%,#00ff98 21.16%,#00ffec 21.47%,#00f6ff 21.57%,#00e3ff 21.98%,#00c8ff 22.81%,#0079ff 23.63%,#0051ff 24.97%,#0049ff 27.13%,#003cff 33.61%,#003fff 34.44%,#0050ff 34.85%,#0076ff 35.26%,#00a1ff 35.67%,#00a7ff 35.88%,#009fff 36.08%,#007cff 36.39%,#0047ff 36.81%,#0031ff 37.11%,#0026ff 37.63%,#002cff 49.67%,#0039ff 52.86%,#004dff 60.99%,#007dff 67.27%,#00a3ff 70.15%,#00d4ff 72.42%,#00ffff 73.55%,#00ffc9 74.48%,#00ff8c 75.20%,#00ff43 75.81%,#00ff05 76.22%,#1eff00 76.43%,#98ff00 77.05%,#f3ff00 77.46%,#fff600 77.56%,#ff9400 78.08%,#ff5700 78.49%,#ff3a00 78.80%,#ff2a00 79.21%,#ff2d00 79.72%,#ff3e00 80.03%,#ff5d00 80.34%,#ff9900 80.75%,#fff500 81.27%,#f5ff00 81.37%,#83ff00 81.99%,#36ff00 82.50%,#06ff00 82.91%,#00ff04 83.02%,#00ff46 83.84%,#00ffd6 86.00%,#00fffb 86.52%,#00e5ff 86.93%,#00a6ff 87.96%,#0081ff 88.88%,#006dff 90.12%,#0065ff 92.69%,#0057ff 99.28%,#004fff 100.00%)"></div><div style="top:134.4px;height:2.5px;background:linear-gradient(90deg,#fbff00 0.16%,#fff800 0.58%,#ffb800 1.19%,#ff9800 1.91%,#ff8200 3.15%,#ff5c00 3.36%,#ff3400 3.56%,#ff1b00 4.28%,#ff2400 5.41%,#ff2f00 5.62%,#ff7e00 5.93%,#fffd00 6.34%,#87ff00 6.75%,#13ff00 7.27%,#03ff00 7.47%,#00ff27 7.99%,#00ff71 8.60%,#00ff62 9.43%,#00ff77 9.84%,#00ffd8 10.25%,#00fdff 11.28%,#00f4ff 11.59%,#00e0ff 13.34%,#00fffc 13.85%,#00fff6 13.96%,#00ffff 14.16%,#00f4ff 14.37%,#009fff 14.78%,#0097ff 15.50%,#008eff 18.48%,#00cdff 19.00%,#00e6ff 19.21%,#00ffff 19.51%,#00fff0 19.72%,#00ff98 20.13%,#00ff93 21.06%,#00ff93 21.16%,#00ffe8 21.47%,#00f9ff 21.57%,#00d6ff 22.50%,#00cbff 22.81%,#0079ff 23.63%,#004fff 24.87%,#0047ff 27.23%,#003eff 34.34%,#004bff 34.75%,#0061ff 35.06%,#00a1ff 35.67%,#00a8ff 35.88%,#00a0ff 36.08%,#007dff 36.39%,#0047ff 36.81%,#0031ff 37.11%,#0025ff 37.63%,#002cff 49.67%,#0039ff 52.86%,#004dff 60.99%,#007dff 67.27%,#00a4ff 70.15%,#00d5ff 72.42%,#00fffe 73.55%,#00ffc8 74.48%,#00ff8b 75.20%,#00ff41 75.81%,#00ff03 76.22%,#33ff00 76.53%,#b0ff00 77.15%,#f4ff00 77.46%,#fff400 77.56%,#ff9200 78.08%,#ff5600 78.49%,#ff3a00 78.80%,#ff2900 79.21%,#ff2d00 79.72%,#ff3d00 80.03%,#ff6900 80.44%,#ffbb00 80.96%,#fff300 81.27%,#f7ff00 81.37%,#85ff00 81.99%,#38ff00 82.50%,#08ff00 82.91%,#00ff02 83.02%,#00ff44 83.84%,#00ffd3 86.00%,#00feff 86.62%,#00b2ff 87.75%,#0088ff 88.68%,#0070ff 89.81%,#0066ff 91.87%,#005aff 99.18%,#0050ff 100.00%)"></div><div style="top:136.4px;height:2.5px;background:linear-gradient(90deg,#fdff00 0.16%,#fff700 0.58%,#ffb400 1.19%,#ff9500 1.91%,#ff8100 3.15%,#ff3200 3.56%,#ff1900 4.28%,#ff2400 5.52%,#ff2b00 5.62%,#ff7a00 5.93%,#fffa00 6.34%,#c6ff00 6.55%,#88ff00 6.75%,#13ff00 7.27%,#00ff04 7.58%,#00ff24 7.99%,#00ff6e 8.60%,#00ff5c 9.43%,#00ff71 9.84%,#00ffd6 10.25%,#00feff 11.28%,#00f3ff 11.59%,#00dfff 13.34%,#00fffc 13.85%,#00fff5 13.96%,#00ffff 14.16%,#00f4ff 14.37%,#009cff 14.78%,#008eff 18.48%,#00ddff 19.10%,#00feff 19.51%,#00fff2 19.72%,#00ff96 20.13%,#00ff8f 21.16%,#00fcff 21.57%,#00cfff 22.81%,#0078ff 23.63%,#004dff 24.87%,#003dff 34.23%,#0046ff 34.64%,#0061ff 35.06%,#00a2ff 35.67%,#00a9ff 35.88%,#00a1ff 36.08%,#007eff 36.39%,#0048ff 36.81%,#0031ff 37.11%,#0025ff 37.63%,#002cff 49.67%,#0039ff 52.76%,#004dff 60.99%,#007eff 67.27%,#00a4ff 70.15%,#00d5ff 72.42%,#00fffc 73.55%,#00ffc6 74.48%,#00ff89 75.20%,#00ff40 75.81%,#00ff02 76.22%,#48ff00 76.64%,#dfff00 77.36%,#f6ff00 77.46%,#fff300 77.56%,#ff9100 78.08%,#ff5600 78.49%,#ff3900 78.80%,#ff2900 79.21%,#ff2c00 79.72%,#ff3d00 80.03%,#ff6800 80.44%,#ffba00 80.96%,#fff200 81.27%,#f9ff00 81.37%,#87ff00 81.99%,#3aff00 82.50%,#00ff00 83.02%,#00ff42 83.84%,#00ffd0 86.00%,#00fffd 86.62%,#00aeff 87.86%,#0086ff 88.78%,#006eff 90.02%,#0066ff 92.28%,#005bff 99.18%,#0051ff 100.00%)"></div><div style="top:138.4px;height:2.5px;background:linear-gradient(90deg,#ffff00 0.16%,#fff500 0.58%,#ffb100 1.19%,#ff9200 1.91%,#ff8000 3.15%,#ff3000 3.56%,#ff1800 4.28%,#ff2200 5.52%,#ff2800 5.62%,#ff7600 5.93%,#fff700 6.34%,#e8ff00 6.44%,#8aff00 6.75%,#14ff00 7.27%,#00ff02 7.58%,#00ff20 7.99%,#00ff6a 8.60%,#00ff56 9.43%,#00ff6b 9.84%,#00ffd4 10.25%,#00feff 11.28%,#00f3ff 11.59%,#00deff 13.34%,#00fcff 13.75%,#00fff4 13.96%,#00ffff 14.16%,#00f4ff 14.37%,#009aff 14.78%,#008eff 18.48%,#00deff 19.10%,#00fcff 19.51%,#00fff3 19.72%,#00ff94 20.13%,#00ff8a 21.16%,#00ffff 21.57%,#00d2ff 22.81%,#0078ff 23.63%,#004bff 24.87%,#003eff 34.34%,#004bff 34.75%,#0061ff 35.06%,#00a3ff 35.67%,#00aaff 35.88%,#00a2ff 36.08%,#007eff 36.39%,#0048ff 36.81%,#0031ff 37.11%,#0025ff 37.63%,#002cff 49.67%,#0039ff 52.76%,#004dff 60.99%,#007eff 67.27%,#00a5ff 70.15%,#00d3ff 72.31%,#00feff 73.45%,#00ffd3 74.27%,#00ff9b 74.99%,#00ff59 75.61%,#00ff11 76.12%,#00ff00 76.22%,#5eff00 76.74%,#f7ff00 77.46%,#fff100 77.56%,#ff9000 78.08%,#ff5500 78.49%,#ff3800 78.80%,#ff2800 79.21%,#ff2b00 79.72%,#ff3c00 80.03%,#ff6700 80.44%,#ffb900 80.96%,#fff000 81.27%,#fbff00 81.37%,#89ff00 81.99%,#3cff00 82.50%,#02ff00 83.02%,#00ff47 83.94%,#00ffc6 85.90%,#00fcff 86.72%,#00b0ff 87.86%,#0087ff 88.78%,#0070ff 89.91%,#0066ff 91.97%,#005cff 99.18%,#0052ff 100.00%)"></div><div style="top:140.4px;height:2.5px;background:linear-gradient(90deg,#ffff00 0.16%,#fff500 0.58%,#ffb100 1.19%,#ff9200 1.81%,#ff7f00 3.15%,#ff3200 3.56%,#ff1800 4.28%,#ff2100 5.52%,#ff2700 5.62%,#ff7400 5.93%,#fff400 6.34%,#ecff00 6.44%,#8eff00 6.75%,#18ff00 7.27%,#01ff00 7.58%,#00ff1e 7.99%,#00ff69 8.60%,#00ff56 9.43%,#00ff6b 9.84%,#00ffd3 10.25%,#00feff 11.28%,#00f4ff 11.59%,#00e1ff 13.34%,#00feff 13.75%,#00fff4 13.96%,#00ffff 14.16%,#00f4ff 14.37%,#009cff 14.78%,#008fff 18.48%,#00deff 19.10%,#00fcff 19.51%,#00fff2 19.72%,#00ff92 20.13%,#00ff87 21.16%,#00fffa 21.57%,#00faff 21.78%,#00d4ff 22.81%,#0079ff 23.63%,#004bff 24.87%,#003eff 34.34%,#004bff 34.75%,#0061ff 35.06%,#00a4ff 35.67%,#00abff 35.88%,#00a2ff 36.08%,#007fff 36.39%,#0048ff 36.81%,#0031ff 37.11%,#0025ff 37.63%,#002cff 49.67%,#0039ff 52.76%,#004dff 60.99%,#007eff 67.27%,#00a6ff 70.15%,#00d4ff 72.31%,#00ffff 73.45%,#00ffcb 74.37%,#00ff91 75.09%,#00ff4b 75.71%,#01ff00 76.22%,#5fff00 76.74%,#f8ff00 77.46%,#fff000 77.56%,#ff8f00 78.08%,#ff5400 78.49%,#ff3800 78.80%,#ff2800 79.21%,#ff2b00 79.72%,#ff3c00 80.03%,#ff6700 80.44%,#ffb800 80.96%,#fbff00 81.37%,#89ff00 81.99%,#3dff00 82.50%,#03ff00 83.02%,#00ff4d 84.05%,#00ffc5 85.90%,#00fdff 86.72%,#00b1ff 87.86%,#0087ff 88.78%,#0070ff 89.91%,#0066ff 91.87%,#005cff 99.18%,#0052ff 100.00%)"></div><div style="top:142.4px;height:2.5px;background:linear-gradient(90deg,#ffff00 0.16%,#fff500 0.58%,#ffb200 1.19%,#ff9200 1.81%,#ff7f00 3.15%,#ff3400 3.56%,#ff1800 4.28%,#ff2100 5.52%,#ff2700 5.62%,#ff7300 5.93%,#fff100 6.34%,#efff00 6.44%,#93ff00 6.75%,#1dff00 7.27%,#04ff00 7.58%,#00ff1d 7.99%,#00ff69 8.60%,#00ff58 9.43%,#00ff6d 9.84%,#00ffd2 10.25%,#00feff 11.28%,#00f4ff 11.59%,#00eaff 12.72%,#00e6ff 13.34%,#00fffd 13.75%,#00fff4 13.96%,#00ffff 14.16%,#00f4ff 14.37%,#00a0ff 14.78%,#0096ff 16.01%,#008fff 18.48%,#00dfff 19.10%,#00fdff 19.51%,#00fff0 19.72%,#00ff8f 20.13%,#00ff83 21.16%,#00fff4 21.57%,#00fcff 21.78%,#00d7ff 22.81%,#007aff 23.63%,#004cff 24.87%,#003dff 34.23%,#0046ff 34.64%,#0062ff 35.06%,#00a4ff 35.67%,#00abff 35.88%,#00a3ff 36.08%,#007fff 36.39%,#0048ff 36.81%,#0032ff 37.11%,#0026ff 37.63%,#002cff 49.67%,#0039ff 52.66%,#004eff 60.99%,#007fff 67.27%,#00a6ff 70.15%,#00d5ff 72.31%,#00ffff 73.45%,#00ffca 74.37%,#00ff90 75.09%,#00ff4a 75.71%,#03ff00 76.22%,#60ff00 76.74%,#f9ff00 77.46%,#ffdb00 77.67%,#ff7e00 78.18%,#ff4900 78.59%,#ff3200 78.90%,#ff2700 79.31%,#ff2b00 79.72%,#ff3c00 80.03%,#ff6700 80.44%,#ffb800 80.96%,#fbff00 81.37%,#8aff00 81.99%,#3dff00 82.50%,#03ff00 83.02%,#00ff4d 84.05%,#00ffc5 85.90%,#00feff 86.72%,#00b1ff 87.86%,#0088ff 88.78%,#0070ff 89.91%,#0066ff 91.87%,#005cff 99.18%,#0052ff 100.00%)"></div><div style="top:144.4px;height:2.5px;background:linear-gradient(90deg,#ffff00 0.16%,#fff500 0.58%,#ffb300 1.19%,#ff9200 1.81%,#ff7f00 3.15%,#ff3600 3.56%,#ff1800 4.28%,#ff2100 5.52%,#ff2700 5.62%,#ff7200 5.93%,#ffee00 6.34%,#f3ff00 6.44%,#98ff00 6.75%,#21ff00 7.27%,#00ff02 7.68%,#00ff1b 7.99%,#00ff69 8.60%,#00ff5a 9.43%,#00ff6f 9.84%,#00ffd1 10.25%,#00fff3 10.97%,#00ffff 11.28%,#00f5ff 11.59%,#00ecff 12.62%,#00edff 13.13%,#00ebff 13.34%,#00ffff 13.65%,#00fff4 13.96%,#00ffff 14.16%,#00f5ff 14.37%,#00a4ff 14.78%,#0098ff 15.60%,#008fff 18.48%,#00e0ff 19.10%,#00feff 19.51%,#00ffed 19.72%,#00ff8c 20.13%,#00ff80 21.16%,#00ffcf 21.47%,#00ffee 21.57%,#00ffff 21.78%,#00d9ff 22.81%,#00aaff 23.22%,#007bff 23.63%,#004dff 24.97%,#003dff 34.23%,#0046ff 34.64%,#0062ff 35.06%,#00a5ff 35.67%,#00acff 35.88%,#00a3ff 36.08%,#0080ff 36.39%,#0049ff 36.81%,#0032ff 37.11%,#0026ff 37.63%,#002cff 49.67%,#003aff 52.66%,#004eff 60.99%,#007fff 67.27%,#00a7ff 70.15%,#00d5ff 72.31%,#00fffe 73.45%,#00ffc9 74.37%,#00ff8f 75.09%,#00ff48 75.71%,#04ff00 76.22%,#76ff00 76.84%,#faff00 77.46%,#ffda00 77.67%,#ff7e00 78.18%,#ff4900 78.59%,#ff3100 78.90%,#ff2700 79.31%,#ff2b00 79.72%,#ff3b00 80.03%,#ff6700 80.44%,#ffb800 80.96%,#fcff00 81.37%,#8aff00 81.99%,#3dff00 82.50%,#03ff00 83.02%,#00ff4c 84.05%,#00ffc4 85.90%,#00feff 86.72%,#00b2ff 87.86%,#0088ff 88.78%,#0070ff 89.91%,#0067ff 91.87%,#005cff 99.18%,#0052ff 100.00%)"></div><div style="top:146.4px;height:2.5px;background:linear-gradient(90deg,#ffff00 0.16%,#fff500 0.58%,#ffc000 1.09%,#ffac00 1.30%,#ff9100 1.81%,#ff7e00 3.15%,#ff3800 3.56%,#ff2300 3.97%,#ff1800 4.28%,#ff2100 5.52%,#ff2600 5.62%,#ff7100 5.93%,#ffeb00 6.34%,#f6ff00 6.44%,#9dff00 6.75%,#26ff00 7.27%,#01ff00 7.68%,#00ff19 7.99%,#00ff68 8.60%,#00ff5c 9.43%,#00ff71 9.84%,#00ffd1 10.25%,#00fff0 10.87%,#00ffff 11.28%,#00f5ff 11.69%,#00eeff 12.62%,#00f3ff 13.03%,#00f0ff 13.34%,#00fffb 13.65%,#00fff4 13.96%,#00ffff 14.16%,#00f5ff 14.37%,#00a7ff 14.78%,#009fff 15.19%,#0098ff 15.60%,#008fff 18.48%,#00d5ff 19.00%,#00e9ff 19.21%,#00feff 19.51%,#00ffeb 19.72%,#00ff8a 20.13%,#00ff7d 21.16%,#00ffad 21.37%,#00ffe9 21.57%,#00fffd 21.78%,#00dbff 22.81%,#00b9ff 23.12%,#0086ff 23.53%,#007cff 23.63%,#004eff 24.97%,#003cff 34.13%,#0046ff 34.64%,#0062ff 35.06%,#00a5ff 35.67%,#00acff 35.88%,#00a4ff 36.08%,#0080ff 36.39%,#0049ff 36.81%,#0032ff 37.11%,#0026ff 37.63%,#002cff 49.67%,#003aff 52.66%,#004eff 60.99%,#007eff 67.17%,#00a7ff 70.15%,#00d6ff 72.31%,#00fffd 73.45%,#00ffc8 74.37%,#00ff8e 75.09%,#00ff47 75.71%,#00ff0c 76.12%,#05ff00 76.22%,#77ff00 76.84%,#fbff00 77.46%,#ffa000 77.97%,#ff6000 78.39%,#ff3f00 78.69%,#ff2d00 79.00%,#ff2700 79.52%,#ff3400 79.93%,#ff4e00 80.24%,#ff8400 80.65%,#fcff00 81.37%,#8aff00 81.99%,#3eff00 82.50%,#03ff00 83.02%,#00ff4c 84.05%,#00ffc3 85.90%,#00ffff 86.72%,#00b2ff 87.86%,#0088ff 88.78%,#0070ff 89.91%,#0067ff 91.87%,#005cff 99.18%,#0052ff 100.00%)"></div><div style="top:148.4px;height:2.5px;background:linear-gradient(90deg,#ffff00 0.16%,#fff500 0.58%,#ffc100 1.09%,#ffac00 1.30%,#ff9100 1.81%,#ff7e00 3.15%,#ff3a00 3.56%,#ff2700 3.87%,#ff1800 4.28%,#ff2100 5.52%,#ff2600 5.62%,#ff6f00 5.93%,#ffe800 6.34%,#faff00 6.44%,#a2ff00 6.75%,#2aff00 7.27%,#03ff00 7.68%,#00ff18 7.99%,#00ff68 8.60%,#00ff5e 9.43%,#00ff73 9.84%,#00ffd0 10.25%,#00ffec 10.77%,#00fcff 11.38%,#00edff 12.52%,#00f9ff 12.93%,#00f5ff 13.34%,#00fffd 13.54%,#00fff5 13.85%,#00fff4 13.96%,#00ffff 14.16%,#00f5ff 14.37%,#00abff 14.78%,#00a5ff 15.09%,#0099ff 15.50%,#008fff 18.48%,#00d7ff 19.00%,#00f1ff 19.31%,#00ffff 19.51%,#00ffe9 19.72%,#00ff87 20.13%,#00ff79 21.16%,#00ffa6 21.37%,#00ffe3 21.57%,#00fffb 21.78%,#00f0ff 22.29%,#00ddff 22.81%,#00bcff 23.12%,#0091ff 23.43%,#007dff 23.63%,#004eff 24.97%,#0047ff 27.13%,#003eff 34.34%,#004bff 34.75%,#0062ff 35.06%,#00a5ff 35.67%,#00adff 35.88%,#00a4ff 36.08%,#0081ff 36.39%,#0049ff 36.81%,#0033ff 37.11%,#0026ff 37.63%,#002cff 49.67%,#003aff 52.66%,#004eff 60.99%,#007fff 67.17%,#00a8ff 70.15%,#00d7ff 72.31%,#00fffc 73.45%,#00ffc7 74.37%,#00ff8d 75.09%,#00ff46 75.71%,#00ff0b 76.12%,#06ff00 76.22%,#78ff00 76.84%,#fcff00 77.46%,#ff8d00 78.08%,#ff5300 78.49%,#ff3700 78.80%,#ff2800 79.21%,#ff2b00 79.72%,#ff3b00 80.03%,#ff6600 80.44%,#ffb700 80.96%,#fcff00 81.37%,#8bff00 81.99%,#3eff00 82.50%,#04ff00 83.02%,#00ff30 83.64%,#00ffca 86.00%,#00fffe 86.72%,#00b3ff 87.86%,#0089ff 88.78%,#0071ff 89.91%,#0067ff 91.87%,#005cff 99.18%,#0052ff 100.00%)"></div><div style="top:150.4px;height:2.5px;background:linear-gradient(90deg,#ffff00 0.16%,#fff500 0.58%,#ffd000 0.99%,#ffb500 1.19%,#ff9f00 1.50%,#ff8f00 1.91%,#ff7e00 3.15%,#ff3c00 3.56%,#ff2800 3.87%,#ff1800 4.28%,#ff2100 5.52%,#ff2600 5.62%,#ff6e00 5.93%,#ffe500 6.34%,#fdff00 6.44%,#a7ff00 6.75%,#2fff00 7.27%,#06ff00 7.68%,#00ff0d 7.88%,#00ff2f 8.19%,#00ff67 8.60%,#00ff60 9.43%,#00ff74 9.84%,#00ffcf 10.25%,#00ffed 10.77%,#00fcff 11.38%,#00eeff 12.52%,#00feff 12.93%,#00faff 13.34%,#00fff9 13.54%,#00fff3 13.75%,#00fff4 13.96%,#00ffff 14.16%,#00f5ff 14.37%,#00afff 14.78%,#00a8ff 15.09%,#009aff 15.40%,#0090ff 18.48%,#00cdff 18.90%,#00eaff 19.21%,#00fffe 19.51%,#00ffe6 19.72%,#00ff84 20.13%,#00ff76 21.16%,#00ffa0 21.37%,#00ffde 21.57%,#00fff9 21.78%,#00faff 22.09%,#00e0ff 22.81%,#00cdff 23.01%,#0091ff 23.43%,#007eff 23.63%,#004fff 24.97%,#0048ff 26.31%,#003eff 34.34%,#004bff 34.75%,#0062ff 35.06%,#00a6ff 35.67%,#00adff 35.88%,#00a5ff 36.08%,#0081ff 36.39%,#004aff 36.81%,#0033ff 37.11%,#0027ff 37.63%,#002dff 49.67%,#003aff 52.55%,#004fff 60.99%,#007fff 67.17%,#00a6ff 70.05%,#00d7ff 72.31%,#00feff 73.34%,#00ffd4 74.17%,#00ff9f 74.89%,#00ff5f 75.50%,#00ff19 76.02%,#00ff09 76.12%,#07ff00 76.22%,#79ff00 76.84%,#fdff00 77.46%,#ff8d00 78.08%,#ff5300 78.49%,#ff3700 78.80%,#ff2800 79.21%,#ff2b00 79.72%,#ff3b00 80.03%,#ff6600 80.44%,#ffb700 80.96%,#fdff00 81.37%,#8bff00 81.99%,#3eff00 82.50%,#04ff00 83.02%,#00ff20 83.43%,#00ff78 84.77%,#00ffd8 86.21%,#00fffe 86.72%,#00aeff 87.96%,#0086ff 88.88%,#006eff 90.12%,#0067ff 92.38%,#005cff 99.18%,#0052ff 100.00%)"></div><div style="top:152.4px;height:2.5px;background:linear-gradient(90deg,#ffff00 0.16%,#fff500 0.58%,#ffd200 0.99%,#ffb600 1.19%,#ff9f00 1.50%,#ff8f00 1.91%,#ff7e00 3.15%,#ff5100 3.46%,#ff3e00 3.56%,#ff2800 3.87%,#ff1800 4.28%,#ff2100 5.52%,#ff2600 5.62%,#ff6d00 5.93%,#fffd00 6.44%,#acff00 6.75%,#34ff00 7.27%,#00ff02 7.78%,#00ff21 8.09%,#00ff67 8.60%,#00ff62 9.43%,#00ff76 9.84%,#00ffce 10.25%,#00ffed 10.77%,#00fdff 11.38%,#00efff 12.52%,#00fffc 12.93%,#00ffff 13.34%,#00fff0 13.65%,#00fff4 13.96%,#00feff 14.16%,#00f5ff 14.37%,#00b2ff 14.78%,#00b0ff 14.99%,#009aff 15.40%,#0090ff 18.48%,#00ceff 18.90%,#00ebff 19.21%,#00fffe 19.51%,#00ffe4 19.72%,#00ff81 20.13%,#00ff72 21.16%,#00ff9a 21.37%,#00ffd8 21.57%,#00fff7 21.78%,#00fcff 22.09%,#00e2ff 22.81%,#00d0ff 23.01%,#0092ff 23.43%,#007fff 23.63%,#0050ff 24.97%,#0049ff 26.00%,#003eff 34.34%,#004bff 34.75%,#0062ff 35.06%,#00a6ff 35.67%,#00aeff 35.88%,#00a5ff 36.08%,#0081ff 36.39%,#004aff 36.81%,#0033ff 37.11%,#0027ff 37.63%,#002dff 49.67%,#003bff 52.55%,#004fff 60.99%,#0080ff 67.17%,#00a7ff 70.05%,#00d8ff 72.31%,#00feff 73.34%,#00ffd3 74.17%,#00ff9e 74.89%,#00ff5e 75.50%,#00ff18 76.02%,#00ff08 76.12%,#08ff00 76.22%,#7bff00 76.84%,#feff00 77.46%,#ff8c00 78.08%,#ff5300 78.49%,#ff3700 78.80%,#ff2700 79.21%,#ff2b00 79.72%,#ff3b00 80.03%,#ff6600 80.44%,#ffb700 80.96%,#fdff00 81.37%,#8bff00 81.99%,#3eff00 82.50%,#04ff00 83.02%,#00ff18 83.33%,#00ff6c 84.56%,#00ffc1 85.90%,#00fffd 86.72%,#00aeff 87.96%,#0086ff 88.88%,#006fff 90.12%,#0067ff 92.28%,#005cff 99.18%,#0052ff 100.00%)"></div><div style="top:154.4px;height:2.5px;background:linear-gradient(90deg,#ffff00 0.16%,#fff500 0.58%,#ffd300 0.99%,#ffad00 1.30%,#ff9e00 1.50%,#ff8e00 1.91%,#ff7d00 3.15%,#ff5300 3.46%,#ff4000 3.56%,#ff2800 3.87%,#ff1800 4.28%,#ff2100 5.52%,#ff2500 5.62%,#ff6c00 5.93%,#fffa00 6.44%,#ccff00 6.65%,#4dff00 7.16%,#38ff00 7.27%,#00ff00 7.78%,#00ff20 8.09%,#00ff66 8.60%,#00ff64 9.43%,#00ff78 9.84%,#00ffcd 10.25%,#00ffeb 10.66%,#00fdff 11.38%,#00f0ff 12.52%,#00fffd 12.82%,#00fff8 12.93%,#00fffb 13.34%,#00ffed 13.65%,#00fff4 13.96%,#00feff 14.16%,#00f5ff 14.37%,#00b6ff 14.78%,#00b4ff 14.99%,#009aff 15.40%,#0090ff 18.48%,#00d0ff 18.90%,#00ecff 19.21%,#00fffd 19.51%,#00ffe2 19.72%,#00ff7f 20.13%,#00ff6f 21.16%,#00ff94 21.37%,#00ffb0 21.47%,#00ffd2 21.57%,#00fff5 21.78%,#00fbff 22.19%,#00e4ff 22.81%,#00d3ff 23.01%,#0092ff 23.43%,#0081ff 23.63%,#0051ff 24.97%,#0049ff 25.90%,#003eff 34.34%,#004bff 34.75%,#0063ff 35.06%,#009eff 35.57%,#00acff 35.78%,#00acff 35.98%,#009cff 36.19%,#004bff 36.81%,#0033ff 37.11%,#0027ff 37.63%,#002dff 49.67%,#003bff 52.55%,#004fff 60.99%,#0080ff 67.17%,#00a7ff 70.05%,#00d9ff 72.31%,#00ffff 73.34%,#00ffcc 74.27%,#00ff93 74.99%,#00ff50 75.61%,#00ff07 76.12%,#0aff00 76.22%,#7cff00 76.84%,#ffff00 77.46%,#ff8c00 78.08%,#ff5200 78.49%,#ff3700 78.80%,#ff2700 79.21%,#ff2b00 79.72%,#ff3b00 80.03%,#ff6600 80.44%,#ffb600 80.96%,#fdff00 81.37%,#8cff00 81.99%,#3fff00 82.50%,#04ff00 83.02%,#00ff17 83.33%,#00ff65 84.46%,#00ffc1 85.90%,#00fffc 86.72%,#00a9ff 88.06%,#0086ff 88.88%,#006fff 90.12%,#0067ff 92.28%,#005cff 99.18%,#0052ff 100.00%)"></div><div style="top:156.4px;height:2.5px;background:linear-gradient(90deg,#ffff00 0.16%,#fff500 0.58%,#ffd500 0.99%,#ffad00 1.30%,#ff9e00 1.50%,#ff8e00 1.91%,#ff7d00 3.15%,#ff5600 3.46%,#ff4200 3.56%,#ff2e00 3.77%,#ff1800 4.28%,#ff2500 5.62%,#ff5200 5.83%,#fff700 6.44%,#ecff00 6.55%,#9eff00 6.85%,#3dff00 7.27%,#02ff00 7.78%,#00ff1e 8.09%,#00ff66 8.60%,#00ff66 9.43%,#00ff7a 9.84%,#00ffcc 10.25%,#00ffeb 10.66%,#00feff 11.38%,#00f1ff 12.52%,#00feff 12.72%,#00fff3 12.93%,#00fff6 13.34%,#00ffe9 13.65%,#00feff 14.16%,#00f5ff 14.37%,#00b9ff 14.78%,#00b7ff 14.99%,#009bff 15.40%,#0090ff 18.48%,#00d2ff 18.90%,#00edff 19.21%,#00fffd 19.51%,#00ffe0 19.72%,#00ff7c 20.13%,#00ff6c 21.16%,#00ff8e 21.37%,#00ffaa 21.47%,#00ffcd 21.57%,#00fff3 21.78%,#00fdff 22.19%,#00e7ff 22.81%,#00d6ff 23.01%,#0093ff 23.43%,#0082ff 23.63%,#0052ff 24.97%,#0049ff 25.79%,#003eff 34.34%,#004bff 34.75%,#0063ff 35.06%,#009fff 35.57%,#00adff 35.78%,#00acff 35.98%,#009dff 36.19%,#004bff 36.81%,#0034ff 37.11%,#0027ff 37.63%,#002cff 49.57%,#003bff 52.55%,#0050ff 60.99%,#0080ff 67.17%,#00a8ff 70.05%,#00d9ff 72.31%,#00fffe 73.34%,#00ffcb 74.27%,#00ff92 74.99%,#00ff4f 75.61%,#00ff06 76.12%,#0bff00 76.22%,#7dff00 76.84%,#fffe00 77.46%,#ff8b00 78.08%,#ff5200 78.49%,#ff3700 78.80%,#ff2700 79.21%,#ff2b00 79.72%,#ff3b00 80.03%,#ff6600 80.44%,#ffb600 80.96%,#feff00 81.37%,#8cff00 81.99%,#3fff00 82.50%,#05ff00 83.02%,#00ff0e 83.22%,#00ff51 84.15%,#00ffc0 85.90%,#00fffc 86.72%,#00aaff 88.06%,#0087ff 88.88%,#0070ff 90.02%,#0067ff 92.07%,#005cff 99.18%,#0052ff 100.00%)"></div><div style="top:158.4px;height:2.5px;background:linear-gradient(90deg,#ffff00 0.16%,#fff500 0.58%,#ffd600 0.99%,#ffad00 1.30%,#ffa200 1.40%,#ff8d00 1.91%,#ff7d00 3.15%,#ff5800 3.46%,#ff4400 3.56%,#ff2e00 3.77%,#ff1800 4.28%,#ff2500 5.62%,#ff5100 5.83%,#fff400 6.44%,#f0ff00 6.55%,#70ff00 7.06%,#41ff00 7.27%,#04ff00 7.78%,#00ff10 7.99%,#00ff65 8.60%,#00ff68 9.43%,#00ff7c 9.84%,#00ffcb 10.25%,#00ffec 10.66%,#00fcff 11.49%,#00f2ff 12.52%,#00fffd 12.72%,#00ffef 12.93%,#00fff1 13.34%,#00ffe5 13.65%,#00feff 14.16%,#00f5ff 14.37%,#00bdff 14.78%,#00bbff 14.99%,#009bff 15.40%,#0091ff 18.48%,#00d3ff 18.90%,#00eeff 19.21%,#00fffc 19.51%,#00ffdd 19.72%,#00ff79 20.13%,#00ff68 21.16%,#00ff88 21.37%,#00ffa3 21.47%,#00ffc7 21.57%,#00fff0 21.78%,#00fcff 22.29%,#00e9ff 22.81%,#00d9ff 23.01%,#0093ff 23.43%,#007fff 23.73%,#0053ff 24.97%,#0049ff 25.79%,#003eff 34.34%,#004bff 34.75%,#0063ff 35.06%,#009fff 35.57%,#00adff 35.78%,#00adff 35.98%,#009dff 36.19%,#004bff 36.81%,#0034ff 37.11%,#0028ff 37.63%,#002dff 49.57%,#003bff 52.45%,#0050ff 60.99%,#0081ff 67.17%,#00a8ff 70.05%,#00daff 72.31%,#00fffd 73.34%,#00ffca 74.27%,#00ff91 74.99%,#00ff4e 75.61%,#00ff05 76.12%,#1dff00 76.33%,#93ff00 76.95%,#fffd00 77.46%,#ff8b00 78.08%,#ff5200 78.49%,#ff3600 78.80%,#ff2700 79.21%,#ff2b00 79.72%,#ff3b00 80.03%,#ff6600 80.44%,#ffb600 80.96%,#feff00 81.37%,#8cff00 81.99%,#3fff00 82.50%,#05ff00 83.02%,#00ff0e 83.22%,#00ff51 84.15%,#00ffc0 85.90%,#00fffb 86.72%,#00e5ff 87.13%,#00a5ff 88.16%,#0084ff 88.99%,#006eff 90.22%,#0067ff 92.59%,#005cff 99.18%,#0052ff 100.00%)"></div><div style="top:160.4px;height:2.5px;background:linear-gradient(90deg,#ffff00 0.16%,#fff500 0.58%,#ffd800 0.99%,#ffae00 1.30%,#ffa200 1.40%,#ff8d00 1.91%,#ff7c00 3.15%,#ff5a00 3.46%,#ff4600 3.56%,#ff2f00 3.77%,#ff1800 4.28%,#ff2500 5.62%,#ff3700 5.72%,#ff8400 6.03%,#fff000 6.44%,#f4ff00 6.55%,#5bff00 7.16%,#46ff00 7.27%,#06ff00 7.78%,#00ff04 7.88%,#00ff37 8.30%,#00ff65 8.60%,#00ff6a 9.43%,#00ff7e 9.84%,#00ffca 10.25%,#00ffec 10.66%,#00fcff 11.49%,#00f3ff 12.52%,#00fffa 12.72%,#00ffea 12.93%,#00ffed 13.34%,#00ffe2 13.65%,#00fffc 14.06%,#00f6ff 14.37%,#00c1ff 14.78%,#00beff 14.99%,#009bff 15.40%,#0091ff 18.48%,#00d5ff 18.90%,#00efff 19.21%,#00fffb 19.51%,#00ffdb 19.72%,#00ff76 20.13%,#00ff65 21.16%,#00ff82 21.37%,#00ff9d 21.47%,#00ffc1 21.57%,#00ffee 21.78%,#00feff 22.29%,#00ebff 22.81%,#00dbff 23.01%,#0094ff 23.43%,#0080ff 23.73%,#0054ff 24.97%,#004aff 25.69%,#003eff 34.34%,#004bff 34.75%,#0063ff 35.06%,#009fff 35.57%,#00aeff 35.78%,#00adff 35.98%,#009eff 36.19%,#004cff 36.81%,#0034ff 37.11%,#0028ff 37.63%,#002dff 49.57%,#003bff 52.45%,#0050ff 60.99%,#0081ff 67.17%,#00a8ff 70.05%,#00daff 72.31%,#00fffd 73.34%,#00ffc9 74.27%,#00ff90 74.99%,#00ff4d 75.61%,#00ff04 76.12%,#1eff00 76.33%,#94ff00 76.95%,#fffc00 77.46%,#ff8a00 78.08%,#ff5100 78.49%,#ff3600 78.80%,#ff2700 79.21%,#ff2b00 79.72%,#ff3b00 80.03%,#ff6600 80.44%,#ffb600 80.96%,#feff00 81.37%,#8dff00 81.99%,#40ff00 82.50%,#05ff00 83.02%,#00ff0e 83.22%,#00ff51 84.15%,#00ffbf 85.90%,#00fcff 86.83%,#00b0ff 87.96%,#0088ff 88.88%,#0070ff 90.02%,#0067ff 92.07%,#005cff 99.18%,#0052ff 100.00%)"></div><div style="top:162.4px;height:2.5px;background:linear-gradient(90deg,#ffff00 0.16%,#fff500 0.58%,#ffd900 0.99%,#ffae00 1.30%,#ffa100 1.40%,#ff8c00 1.91%,#ff7c00 3.15%,#ff5c00 3.46%,#ff4800 3.56%,#ff2f00 3.77%,#ff1800 4.28%,#ff2400 5.62%,#ff3600 5.72%,#ff8200 6.03%,#ffed00 6.44%,#f8ff00 6.55%,#60ff00 7.16%,#4bff00 7.27%,#08ff00 7.78%,#00ff02 7.88%,#00ff36 8.30%,#00ff64 8.60%,#00ff6c 9.43%,#00ff7f 9.84%,#00ffc9 10.25%,#00ffed 10.66%,#00fdff 11.49%,#00f4ff 12.52%,#00fdff 12.62%,#00ffe6 12.93%,#00ffe8 13.34%,#00ffde 13.65%,#00fffd 14.06%,#00f6ff 14.37%,#00c4ff 14.78%,#00c2ff 14.99%,#009cff 15.40%,#0091ff 18.48%,#00d6ff 18.90%,#00f6ff 19.31%,#00fffb 19.51%,#00ffd9 19.72%,#00ff74 20.13%,#00ff61 21.16%,#00ff7b 21.37%,#00ff97 21.47%,#00ffbc 21.57%,#00ffec 21.78%,#00fcff 22.40%,#00e6ff 22.91%,#00deff 23.01%,#0094ff 23.43%,#0081ff 23.73%,#0052ff 25.07%,#004aff 25.69%,#003eff 34.34%,#004cff 34.75%,#0063ff 35.06%,#00a0ff 35.57%,#00aeff 35.78%,#00aeff 35.98%,#009eff 36.19%,#004cff 36.81%,#0035ff 37.11%,#0028ff 37.63%,#002dff 49.57%,#003cff 52.45%,#0050ff 60.99%,#0081ff 67.17%,#00a9ff 70.05%,#00dbff 72.31%,#00fffc 73.34%,#00ffc8 74.27%,#00ff8f 74.99%,#00ff4c 75.61%,#00ff02 76.12%,#44ff00 76.53%,#d6ff00 77.25%,#fffc00 77.46%,#ff8a00 78.08%,#ff5100 78.49%,#ff3600 78.80%,#ff2700 79.21%,#ff2b00 79.72%,#ff4300 80.14%,#ff7300 80.55%,#ffda00 81.17%,#ffff00 81.37%,#8dff00 81.99%,#40ff00 82.50%,#05ff00 83.02%,#00ff0e 83.22%,#00ff50 84.15%,#00ffbe 85.90%,#00fdff 86.83%,#00b1ff 87.96%,#0088ff 88.88%,#0071ff 90.02%,#0067ff 92.07%,#005cff 99.18%,#0052ff 100.00%)"></div><div style="top:164.4px;height:2.5px;background:linear-gradient(90deg,#ffff00 0.16%,#fff500 0.58%,#ffdb00 0.99%,#ffa100 1.40%,#ff8c00 1.91%,#ff7c00 3.15%,#ff5e00 3.46%,#ff4a00 3.56%,#ff3000 3.77%,#ff1800 4.28%,#ff2400 5.62%,#ff3500 5.72%,#ff9b00 6.13%,#ffea00 6.44%,#fcff00 6.55%,#65ff00 7.16%,#4fff00 7.27%,#00ff00 7.88%,#00ff35 8.30%,#00ff64 8.60%,#00ff6e 9.43%,#00ff81 9.84%,#00ffc8 10.25%,#00ffee 10.66%,#00fdff 11.59%,#00f5ff 12.52%,#00ffff 12.62%,#00ffe2 12.93%,#00ffe1 13.44%,#00ffda 13.65%,#00fffd 14.06%,#00f6ff 14.37%,#00c8ff 14.78%,#00c5ff 14.99%,#009cff 15.40%,#0091ff 18.48%,#00d8ff 18.90%,#00f7ff 19.31%,#00fffa 19.51%,#00ffd6 19.72%,#00ff71 20.13%,#00ff5e 21.16%,#00ff75 21.37%,#00ff91 21.47%,#00ffb6 21.57%,#00ffea 21.78%,#00ffff 22.40%,#00e8ff 22.91%,#00e1ff 23.01%,#0095ff 23.43%,#0082ff 23.73%,#0053ff 25.07%,#004aff 25.69%,#003eff 34.34%,#004cff 34.75%,#0063ff 35.06%,#00a0ff 35.57%,#00afff 35.78%,#00aeff 35.98%,#009fff 36.19%,#004cff 36.81%,#0035ff 37.11%,#0028ff 37.63%,#002dff 49.57%,#003cff 52.45%,#0051ff 60.99%,#0082ff 67.17%,#00a9ff 70.05%,#00dcff 72.31%,#00feff 73.24%,#00ffce 74.17%,#00ff98 74.89%,#00ff57 75.50%,#00ff01 76.12%,#59ff00 76.64%,#eeff00 77.36%,#fffb00 77.46%,#ff8900 78.08%,#ff5100 78.49%,#ff3600 78.80%,#ff2700 79.21%,#ff2b00 79.72%,#ff4300 80.14%,#ff7300 80.55%,#ffda00 81.17%,#ffff00 81.37%,#8dff00 81.99%,#40ff00 82.50%,#05ff00 83.02%,#00ff0e 83.22%,#00ff50 84.15%,#00ffbe 85.90%,#00fdff 86.83%,#00b1ff 87.96%,#0088ff 88.88%,#0071ff 90.02%,#0067ff 91.97%,#005cff 99.18%,#0052ff 100.00%)"></div><div style="top:166.4px;height:2.5px;background:linear-gradient(90deg,#ffff00 0.16%,#ffef00 0.68%,#ffdc00 0.99%,#ffa100 1.40%,#ff8c00 1.91%,#ff7c00 3.15%,#ff6100 3.46%,#ff3e00 3.66%,#ff3000 3.77%,#ff1800 4.28%,#ff2400 5.62%,#ff3400 5.72%,#ffb400 6.24%,#fffe00 6.55%,#54ff00 7.27%,#02ff00 7.88%,#00ff23 8.19%,#00ff63 8.60%,#00ff75 9.53%,#00ff83 9.84%,#00ffc7 10.25%,#00ffee 10.66%,#00feff 11.59%,#00f6ff 12.52%,#00fffd 12.62%,#00ffdd 12.93%,#00ffdc 13.44%,#00ffd7 13.65%,#00fffd 14.06%,#00f6ff 14.37%,#00ccff 14.78%,#00c8ff 14.99%,#009cff 15.40%,#0092ff 18.48%,#00daff 18.90%,#00feff 19.41%,#00fff9 19.51%,#00ffd4 19.72%,#00ff6e 20.13%,#00ff5b 21.16%,#00ff6f 21.37%,#00ff8a 21.47%,#00ffb0 21.57%,#00ffe8 21.78%,#00fdff 22.50%,#00ebff 22.91%,#00e4ff 23.01%,#0095ff 23.43%,#0083ff 23.73%,#0054ff 25.07%,#004aff 25.69%,#003eff 34.34%,#004cff 34.75%,#0064ff 35.06%,#00a1ff 35.57%,#00afff 35.78%,#00afff 35.98%,#009fff 36.19%,#004dff 36.81%,#0035ff 37.11%,#0029ff 37.63%,#002dff 49.57%,#003cff 52.45%,#0051ff 60.99%,#0082ff 67.17%,#00aaff 70.05%,#00dcff 72.31%,#00ffff 73.24%,#00ffcd 74.17%,#00ff97 74.89%,#00ff56 75.50%,#00ff00 76.12%,#5aff00 76.64%,#eeff00 77.36%,#fffa00 77.46%,#ff8900 78.08%,#ff5100 78.49%,#ff3600 78.80%,#ff2700 79.21%,#ff2b00 79.72%,#ff4300 80.14%,#ff7300 80.55%,#ffd900 81.17%,#ffff00 81.37%,#8eff00 81.99%,#40ff00 82.50%,#06ff00 83.02%,#00ff0d 83.22%,#00ff50 84.15%,#00ffbd 85.90%,#00feff 86.83%,#00b2ff 87.96%,#0089ff 88.88%,#0071ff 90.02%,#0067ff 91.97%,#005cff 99.18%,#0052ff 100.00%)"></div><div style="top:168.4px;height:2.5px;background:linear-gradient(90deg,#ffff00 0.16%,#ffef00 0.68%,#ffde00 0.99%,#ffa000 1.40%,#ff8b00 1.91%,#ff7b00 3.15%,#ff6300 3.46%,#ff4000 3.66%,#ff3100 3.77%,#ff1800 4.28%,#ff2400 5.62%,#ff3300 5.72%,#fffa00 6.55%,#d2ff00 6.75%,#58ff00 7.27%,#0fff00 7.78%,#03ff00 7.88%,#00ff15 8.09%,#00ff63 8.60%,#00ff77 9.53%,#00ff85 9.84%,#00ffc6 10.25%,#00ffef 10.66%,#00feff 11.69%,#00f7ff 12.52%,#00fffb 12.62%,#00ffd9 12.93%,#00ffd8 13.44%,#00ffd3 13.65%,#00fffd 14.06%,#00f6ff 14.37%,#00cfff 14.78%,#00ccff 14.99%,#009dff 15.40%,#0092ff 18.48%,#00dbff 18.90%,#00ffff 19.41%,#00fff9 19.51%,#00ffd2 19.72%,#00ff6b 20.13%,#00ff57 21.16%,#00ff69 21.37%,#00ff84 21.47%,#00ffab 21.57%,#00ffe6 21.78%,#00fcff 22.60%,#00e7ff 23.01%,#0096ff 23.43%,#0081ff 23.84%,#0055ff 25.07%,#004aff 25.59%,#003eff 34.34%,#004cff 34.75%,#0064ff 35.06%,#00a1ff 35.57%,#00b0ff 35.78%,#00b0ff 35.98%,#00a0ff 36.19%,#004dff 36.81%,#0035ff 37.11%,#0029ff 37.63%,#002dff 49.57%,#003cff 52.45%,#0051ff 60.99%,#0083ff 67.17%,#00aaff 70.05%,#00ddff 72.31%,#00fffe 73.24%,#00ffcc 74.17%,#00ff96 74.89%,#00ff55 75.50%,#01ff00 76.12%,#6fff00 76.74%,#efff00 77.36%,#fff900 77.46%,#ff8800 78.08%,#ff5000 78.49%,#ff3600 78.80%,#ff2700 79.21%,#ff2b00 79.72%,#ff4300 80.14%,#ff7300 80.55%,#ffd900 81.17%,#fffe00 81.37%,#7dff00 82.09%,#34ff00 82.61%,#06ff00 83.02%,#00ff0d 83.22%,#00ff50 84.15%,#00ffbd 85.90%,#00ffff 86.83%,#00b2ff 87.96%,#0089ff 88.88%,#0071ff 90.02%,#0068ff 91.97%,#005cff 99.18%,#0053ff 100.00%)"></div><div style="top:170.4px;height:2.5px;background:linear-gradient(90deg,#ffff00 0.16%,#fff000 0.68%,#ffe000 0.99%,#ffa000 1.40%,#ff8b00 1.91%,#ff7b00 3.15%,#ff6500 3.46%,#ff4100 3.66%,#ff3100 3.77%,#ff1800 4.28%,#ff2300 5.62%,#ff3200 5.72%,#fff700 6.55%,#f0ff00 6.65%,#5dff00 7.27%,#11ff00 7.78%,#05ff00 7.88%,#00ff06 7.99%,#00ff31 8.30%,#00ff63 8.60%,#00ff79 9.53%,#00ff87 9.84%,#00ffc6 10.25%,#00ffef 10.66%,#00ffff 11.69%,#00f8ff 12.52%,#00fff9 12.62%,#00ffd5 12.93%,#00ffd4 13.44%,#00ffcf 13.65%,#00fffe 14.06%,#00f6ff 14.37%,#00d3ff 14.78%,#00cfff 14.99%,#009dff 15.40%,#0092ff 18.48%,#00ddff 18.90%,#00fffe 19.41%,#00fff8 19.51%,#00ffd0 19.72%,#00ff69 20.13%,#00ff54 21.16%,#00ff63 21.37%,#00ff7e 21.47%,#00ffa5 21.57%,#00ffe4 21.78%,#00feff 22.60%,#00eaff 23.01%,#0096ff 23.43%,#007eff 23.94%,#0052ff 25.17%,#004aff 25.59%,#003eff 34.34%,#004cff 34.75%,#0064ff 35.06%,#00a1ff 35.57%,#00b0ff 35.78%,#00b0ff 35.98%,#00a0ff 36.19%,#004dff 36.81%,#0036ff 37.11%,#0029ff 37.63%,#002dff 49.57%,#003dff 52.45%,#0052ff 60.99%,#0082ff 67.06%,#00a9ff 69.95%,#00deff 72.31%,#00fffd 73.24%,#00ffcc 74.17%,#00ff95 74.89%,#00ff54 75.50%,#02ff00 76.12%,#70ff00 76.74%,#f0ff00 77.36%,#fff800 77.46%,#ff8800 78.08%,#ff5000 78.49%,#ff3500 78.80%,#ff2700 79.21%,#ff2b00 79.72%,#ff4300 80.14%,#ff7300 80.55%,#ffd900 81.17%,#fffe00 81.37%,#7dff00 82.09%,#34ff00 82.61%,#06ff00 83.02%,#00ff04 83.12%,#00ff42 83.94%,#00ffbc 85.90%,#00ffff 86.83%,#00b3ff 87.96%,#0089ff 88.88%,#0071ff 90.02%,#0068ff 91.97%,#005dff 99.18%,#0053ff 100.00%)"></div><div style="top:172.4px;height:2.5px;background:linear-gradient(90deg,#ffff00 0.16%,#fff000 0.68%,#ffe100 0.99%,#ff9f00 1.40%,#ff8a00 1.91%,#ff7b00 3.15%,#ff6700 3.46%,#ff3200 3.77%,#ff1800 4.28%,#ff2300 5.62%,#ff3100 5.72%,#fff300 6.55%,#f4ff00 6.65%,#62ff00 7.27%,#13ff00 7.78%,#00ff05 7.99%,#00ff2f 8.30%,#00ff62 8.60%,#00ff7b 9.53%,#00ff89 9.84%,#00ffc5 10.25%,#00fff0 10.66%,#00ffff 11.79%,#00f9ff 12.52%,#00fff8 12.62%,#00ffd0 12.93%,#00ffd0 13.44%,#00ffcc 13.65%,#00fff5 13.96%,#00fffe 14.06%,#00f6ff 14.37%,#00d6ff 14.78%,#00d3ff 14.99%,#009dff 15.40%,#0092ff 18.48%,#00dfff 18.90%,#00fffd 19.41%,#00fff8 19.51%,#00ffcd 19.72%,#00ff66 20.13%,#00ff50 21.16%,#00ff5d 21.37%,#00ff77 21.47%,#00ff9f 21.57%,#00ffe1 21.78%,#00fdff 22.70%,#00edff 23.01%,#0097ff 23.43%,#0077ff 24.15%,#004dff 25.38%,#003dff 34.23%,#0046ff 34.64%,#005aff 34.95%,#00abff 35.67%,#00b3ff 35.88%,#00aaff 36.08%,#0086ff 36.39%,#004eff 36.81%,#0036ff 37.11%,#0029ff 37.63%,#002eff 49.57%,#003dff 52.35%,#0052ff 60.99%,#0082ff 67.06%,#00a9ff 69.95%,#00deff 72.31%,#00fffd 73.24%,#00ffcb 74.17%,#00ff94 74.89%,#00ff53 75.50%,#03ff00 76.12%,#71ff00 76.74%,#f1ff00 77.36%,#fff700 77.46%,#ff8700 78.08%,#ff5000 78.49%,#ff3500 78.80%,#ff2700 79.21%,#ff2b00 79.72%,#ff4300 80.14%,#ff7300 80.55%,#ffd900 81.17%,#fffe00 81.37%,#7eff00 82.09%,#34ff00 82.61%,#06ff00 83.02%,#00ff03 83.12%,#00ff42 83.94%,#00ffbb 85.90%,#00fffe 86.83%,#00aeff 88.06%,#008aff 88.88%,#0072ff 90.02%,#0068ff 91.97%,#005dff 99.18%,#0053ff 100.00%)"></div><div style="top:174.4px;height:2.5px;background:linear-gradient(90deg,#ffff00 0.16%,#ffec00 0.78%,#ffe300 0.99%,#ff9f00 1.40%,#ff8a00 1.91%,#ff7b00 3.15%,#ff6900 3.46%,#ff3200 3.77%,#ff1800 4.28%,#ff2300 5.62%,#ff3000 5.72%,#ffef00 6.55%,#f9ff00 6.65%,#96ff00 7.06%,#66ff00 7.27%,#15ff00 7.78%,#00ff03 7.99%,#00ff2e 8.30%,#00ff62 8.60%,#00ff81 9.63%,#00ff8a 9.84%,#00ffcf 10.35%,#00fff1 10.66%,#00ffff 11.90%,#00faff 12.52%,#00ffe8 12.72%,#00ffcc 12.93%,#00ffca 13.54%,#00ffc8 13.65%,#00fff5 13.96%,#00fffe 14.06%,#00f6ff 14.37%,#00daff 14.78%,#00d6ff 14.99%,#009eff 15.40%,#0093ff 18.48%,#00e0ff 18.90%,#00fffd 19.41%,#00fff7 19.51%,#00ffb1 19.82%,#00ff63 20.13%,#00ff4d 21.16%,#00ff57 21.37%,#00ff71 21.47%,#00ffbd 21.68%,#00ffdf 21.78%,#00ffff 22.70%,#00f0ff 23.01%,#0097ff 23.43%,#0061ff 24.76%,#004aff 25.59%,#003eff 34.34%,#004cff 34.75%,#0064ff 35.06%,#00a2ff 35.57%,#00b1ff 35.78%,#00b1ff 35.98%,#00a1ff 36.19%,#004eff 36.81%,#0036ff 37.11%,#002aff 37.63%,#002eff 49.57%,#003dff 52.35%,#0052ff 60.99%,#0083ff 67.06%,#00aaff 69.95%,#00dfff 72.31%,#00fffc 73.24%,#00ffca 74.17%,#00ff93 74.89%,#00ff52 75.50%,#00ff0c 76.02%,#04ff00 76.12%,#72ff00 76.74%,#f2ff00 77.36%,#fff700 77.46%,#ff8700 78.08%,#ff4f00 78.49%,#ff3500 78.80%,#ff2700 79.21%,#ff2a00 79.72%,#ff4300 80.14%,#ff7300 80.55%,#ffd800 81.17%,#fffd00 81.37%,#7eff00 82.09%,#34ff00 82.61%,#07ff00 83.02%,#00ff03 83.12%,#00ff42 83.94%,#00ffbb 85.90%,#00fffd 86.83%,#00aeff 88.06%,#008aff 88.88%,#0072ff 90.02%,#0068ff 91.97%,#005dff 99.18%,#0053ff 100.00%)"></div><div style="top:176.4px;height:2.5px;background:linear-gradient(90deg,#ffff00 0.16%,#ffe800 0.89%,#ffe400 0.99%,#ff9e00 1.40%,#ff8a00 1.91%,#ff7600 3.25%,#ff6c00 3.46%,#ff3300 3.77%,#ff1800 4.28%,#ff2300 5.62%,#ff2f00 5.72%,#ffec00 6.55%,#fdff00 6.65%,#b5ff00 6.96%,#6bff00 7.27%,#17ff00 7.78%,#00ff01 7.99%,#00ff2d 8.30%,#00ff61 8.60%,#00ff83 9.63%,#00ff8c 9.84%,#00ffda 10.46%,#00fff1 10.66%,#00feff 12.10%,#00fbff 12.52%,#00ffd6 12.82%,#00ffc7 12.93%,#00ffc4 13.65%,#00fff5 13.96%,#00ffff 14.06%,#00f0ff 14.47%,#00deff 14.78%,#00daff 14.99%,#009eff 15.40%,#0093ff 18.48%,#00e2ff 18.90%,#00fffc 19.41%,#00fff6 19.51%,#00ffaf 19.82%,#00ff60 20.13%,#00ff4a 21.16%,#00ff51 21.37%,#00ff6b 21.47%,#00ffb9 21.68%,#00ffdd 21.78%,#00fdff 22.81%,#00f3ff 23.01%,#0098ff 23.43%,#0051ff 25.28%,#004aff 25.59%,#003eff 34.34%,#004cff 34.75%,#0064ff 35.06%,#00a3ff 35.57%,#00b2ff 35.78%,#00b2ff 35.98%,#00a2ff 36.19%,#004eff 36.81%,#0037ff 37.11%,#002aff 37.63%,#002eff 49.57%,#003dff 52.35%,#0053ff 60.99%,#0083ff 67.06%,#00aaff 69.95%,#00e0ff 72.31%,#00feff 73.14%,#00ffd0 74.06%,#00ff92 74.89%,#00ff51 75.50%,#00ff0b 76.02%,#06ff00 76.12%,#74ff00 76.74%,#f3ff00 77.36%,#fff600 77.46%,#ff8600 78.08%,#ff4f00 78.49%,#ff3500 78.80%,#ff2700 79.21%,#ff2a00 79.72%,#ff4300 80.14%,#ff7200 80.55%,#ffd800 81.17%,#fffd00 81.37%,#7eff00 82.09%,#35ff00 82.61%,#07ff00 83.02%,#00ff03 83.12%,#00ff42 83.94%,#00ffba 85.90%,#00fffd 86.83%,#00afff 88.06%,#008aff 88.88%,#0072ff 90.02%,#0068ff 91.97%,#005dff 99.18%,#0053ff 100.00%)"></div><div style="top:178.4px;height:2.5px;background:linear-gradient(90deg,#ffff00 0.16%,#ffe600 0.99%,#ff9e00 1.40%,#ff8900 1.91%,#ff7600 3.25%,#ff6e00 3.46%,#ff3300 3.77%,#ff1800 4.28%,#ff2200 5.62%,#ff2e00 5.72%,#ffe800 6.55%,#fffd00 6.65%,#d4ff00 6.85%,#85ff00 7.16%,#5eff00 7.37%,#19ff00 7.78%,#00ff00 7.99%,#00ff1a 8.19%,#00ff61 8.60%,#00ff89 9.74%,#00ff8e 9.84%,#00fff2 10.66%,#00fdff 12.31%,#00fcff 12.52%,#00ffc3 12.93%,#00ffc1 13.65%,#00fff5 13.96%,#00ffff 14.06%,#00f1ff 14.47%,#00dfff 14.88%,#00ddff 14.99%,#009eff 15.40%,#0093ff 18.48%,#00e3ff 18.90%,#00fdff 19.31%,#00fff6 19.51%,#00ff78 20.03%,#00ff5e 20.13%,#00ff46 21.16%,#00ff4a 21.37%,#00ff64 21.47%,#00ffdb 21.78%,#00fffe 22.81%,#00f6ff 23.01%,#0098ff 23.43%,#004aff 25.48%,#003dff 34.23%,#0047ff 34.64%,#005bff 34.95%,#00acff 35.67%,#00b4ff 35.88%,#00acff 36.08%,#0087ff 36.39%,#004fff 36.81%,#0037ff 37.11%,#002aff 37.63%,#002eff 49.57%,#003eff 52.35%,#0053ff 60.99%,#0083ff 67.06%,#00abff 69.95%,#00e0ff 72.31%,#00ffff 73.14%,#00ffcf 74.06%,#00ff91 74.89%,#00ff50 75.50%,#00ff09 76.02%,#07ff00 76.12%,#75ff00 76.74%,#f4ff00 77.36%,#fff500 77.46%,#ff8600 78.08%,#ff4f00 78.49%,#ff3500 78.80%,#ff2700 79.21%,#ff2a00 79.72%,#ff4300 80.14%,#ff7200 80.55%,#ffd800 81.17%,#fffd00 81.37%,#7fff00 82.09%,#35ff00 82.61%,#07ff00 83.02%,#00ff03 83.12%,#00ff41 83.94%,#00ffba 85.90%,#00fffc 86.83%,#00aaff 88.16%,#0088ff 88.99%,#0070ff 90.22%,#0068ff 92.38%,#005dff 99.18%,#0053ff 100.00%)"></div><div style="top:180.4px;height:2.5px;background:linear-gradient(90deg,#ffff00 0.16%,#ffe700 0.99%,#ff9e00 1.40%,#ff8900 1.91%,#ff7700 3.25%,#ff7000 3.46%,#ff3400 3.77%,#ff1800 4.28%,#ff2200 5.62%,#ff2d00 5.72%,#ffe400 6.55%,#fff900 6.65%,#efff00 6.75%,#74ff00 7.27%,#1bff00 7.78%,#02ff00 7.99%,#00ff18 8.19%,#00ff60 8.60%,#00ff90 9.84%,#00fff2 10.66%,#00fdff 12.52%,#00ffbf 12.93%,#00ffbd 13.65%,#00fff5 13.96%,#00ffff 14.06%,#00e9ff 14.68%,#00e1ff 14.99%,#009eff 15.40%,#0093ff 18.48%,#00e5ff 18.90%,#00feff 19.31%,#00fff5 19.51%,#00ff5b 20.13%,#00ff44 21.26%,#00ff44 21.37%,#00ff5e 21.47%,#00ffd9 21.78%,#00fdff 22.91%,#00f9ff 23.01%,#0099ff 23.43%,#004aff 25.48%,#003dff 34.23%,#0047ff 34.64%,#005bff 34.95%,#00adff 35.67%,#00b5ff 35.88%,#00acff 36.08%,#0088ff 36.39%,#004fff 36.81%,#0037ff 37.11%,#002aff 37.63%,#002eff 49.57%,#003eff 52.35%,#0053ff 60.99%,#0084ff 67.06%,#00abff 69.95%,#00deff 72.21%,#00fffe 73.14%,#00ffce 74.06%,#00ff90 74.89%,#00ff4f 75.50%,#00ff08 76.02%,#08ff00 76.12%,#76ff00 76.74%,#f5ff00 77.36%,#fff400 77.46%,#ff8500 78.08%,#ff4f00 78.49%,#ff3500 78.80%,#ff2600 79.21%,#ff2a00 79.72%,#ff4300 80.14%,#ff7200 80.55%,#ffd800 81.17%,#fffd00 81.37%,#7fff00 82.09%,#35ff00 82.61%,#07ff00 83.02%,#00ff03 83.12%,#00ff41 83.94%,#00ffb9 85.90%,#00fffb 86.83%,#00d6ff 87.44%,#009bff 88.47%,#007dff 89.40%,#006cff 90.74%,#005dff 99.18%,#0053ff 100.00%)"></div><div style="top:182.4px;height:2.5px;background:linear-gradient(90deg,#ffff00 0.16%,#ffe900 0.99%,#ff9d00 1.40%,#ff8800 1.91%,#ff7200 3.46%,#ff3400 3.77%,#ff1800 4.28%,#ff2200 5.62%,#ff2c00 5.72%,#ffe100 6.55%,#fff500 6.65%,#f4ff00 6.75%,#79ff00 7.27%,#1dff00 7.78%,#03ff00 7.99%,#00ff17 8.19%,#00ff60 8.60%,#00ff92 9.84%,#00fff3 10.66%,#00feff 12.52%,#00ffba 12.93%,#00ffb9 13.65%,#00fff5 13.96%,#00ffff 14.06%,#00e4ff 14.99%,#009fff 15.40%,#0094ff 18.48%,#00e7ff 18.90%,#00ffff 19.31%,#00fff5 19.51%,#00ff58 20.13%,#00ff3f 21.26%,#00ff3e 21.37%,#00ff58 21.47%,#00ffd7 21.78%,#00fffe 22.91%,#00fcff 23.01%,#0099ff 23.43%,#004bff 25.48%,#003dff 34.23%,#0047ff 34.64%,#005bff 34.95%,#00adff 35.67%,#00b5ff 35.88%,#00adff 36.08%,#0088ff 36.39%,#0050ff 36.81%,#0037ff 37.11%,#002bff 37.63%,#002eff 49.57%,#003eff 52.35%,#0053ff 60.99%,#0084ff 67.06%,#00acff 69.95%,#00dfff 72.21%,#00fffe 73.14%,#00ffcd 74.06%,#00ff8f 74.89%,#00ff4e 75.50%,#00ff07 76.02%,#09ff00 76.12%,#77ff00 76.74%,#f6ff00 77.36%,#fff300 77.46%,#ff8500 78.08%,#ff4e00 78.49%,#ff3400 78.80%,#ff2600 79.21%,#ff2a00 79.72%,#ff4300 80.14%,#ff7200 80.55%,#ffd700 81.17%,#fffc00 81.37%,#7fff00 82.09%,#36ff00 82.61%,#08ff00 83.02%,#00ff02 83.12%,#00ff41 83.94%,#00ffb9 85.90%,#00fcff 86.93%,#00b0ff 88.06%,#008cff 88.88%,#0073ff 90.02%,#0068ff 91.97%,#005dff 99.18%,#0053ff 100.00%)"></div><div style="top:184.4px;height:2.5px;background:linear-gradient(90deg,#ffff00 0.16%,#ffea00 0.99%,#ff9d00 1.40%,#ff8800 1.91%,#ff7400 3.46%,#ff3500 3.77%,#ff1800 4.28%,#ff2200 5.62%,#ff2b00 5.72%,#ffdd00 6.55%,#f9ff00 6.75%,#aeff00 7.06%,#7dff00 7.27%,#1fff00 7.78%,#05ff00 7.99%,#00ff15 8.19%,#00ff5f 8.60%,#00ff94 9.84%,#00ffd9 10.46%,#00fff4 10.66%,#00ffff 12.52%,#00ffb6 12.93%,#00ffb6 13.65%,#00ffde 13.85%,#00fff5 13.96%,#00feff 14.06%,#00e8ff 14.99%,#009fff 15.40%,#0094ff 18.48%,#00e8ff 18.90%,#00ffff 19.31%,#00fff4 19.51%,#00ff55 20.13%,#00ff38 21.37%,#00ff52 21.47%,#00ffd5 21.78%,#00ffff 23.01%,#009aff 23.43%,#004bff 25.48%,#003dff 34.23%,#0047ff 34.64%,#005bff 34.95%,#00aeff 35.67%,#00b6ff 35.88%,#00adff 36.08%,#0089ff 36.39%,#0050ff 36.81%,#0038ff 37.11%,#002bff 37.63%,#002eff 49.57%,#003eff 52.35%,#0054ff 60.99%,#0084ff 67.06%,#00acff 69.95%,#00dfff 72.21%,#00fffd 73.14%,#00ffcc 74.06%,#00ff8e 74.89%,#00ff4d 75.50%,#00ff06 76.02%,#0aff00 76.12%,#78ff00 76.74%,#f7ff00 77.36%,#fff300 77.46%,#ff8400 78.08%,#ff4e00 78.49%,#ff3400 78.80%,#ff2600 79.21%,#ff2a00 79.72%,#ff4300 80.14%,#ff7200 80.55%,#ffc500 81.06%,#fffc00 81.37%,#6fff00 82.19%,#29ff00 82.71%,#00ff02 83.12%,#00ff41 83.94%,#00ffb8 85.90%,#00fcff 86.93%,#00b1ff 88.06%,#008cff 88.88%,#0073ff 90.02%,#0068ff 91.87%,#005dff 99.18%,#0053ff 100.00%)"></div><div style="top:186.4px;height:2.5px;background:linear-gradient(90deg,#ffff00 0.16%,#ffeb00 0.99%,#ff9d00 1.40%,#ff8800 1.91%,#ff7500 3.46%,#ff3500 3.77%,#ff1800 4.28%,#ff2200 5.62%,#ff2b00 5.72%,#ffdb00 6.55%,#fbff00 6.75%,#b0ff00 7.06%,#7fff00 7.27%,#20ff00 7.78%,#06ff00 7.99%,#00ff15 8.19%,#00ff5f 8.60%,#00ff94 9.84%,#00ffcc 10.35%,#00fff4 10.66%,#00fffe 12.52%,#00ffb4 12.93%,#00ffb4 13.65%,#00ffde 13.85%,#00fff5 13.96%,#00feff 14.06%,#00e9ff 14.99%,#009fff 15.40%,#0094ff 18.48%,#00e9ff 18.90%,#00fffe 19.31%,#00fff4 19.51%,#00ff54 20.13%,#00ff35 21.37%,#00ff4f 21.47%,#00ffd4 21.78%,#00fffe 23.01%,#009aff 23.43%,#004bff 25.48%,#003dff 34.23%,#0047ff 34.64%,#005bff 34.95%,#00aeff 35.67%,#00b6ff 35.88%,#00aeff 36.08%,#0089ff 36.39%,#0050ff 36.81%,#0038ff 37.11%,#002bff 37.63%,#002eff 49.57%,#003fff 52.35%,#0054ff 60.99%,#0085ff 67.06%,#00adff 69.95%,#00e0ff 72.21%,#00fffc 73.14%,#00ffcc 74.06%,#00ff8d 74.89%,#00ff4c 75.50%,#00ff05 76.02%,#1cff00 76.22%,#8dff00 76.84%,#f8ff00 77.36%,#fff200 77.46%,#ff8400 78.08%,#ff4e00 78.49%,#ff3400 78.80%,#ff2600 79.21%,#ff2a00 79.72%,#ff4300 80.14%,#ff7200 80.55%,#ffc500 81.06%,#fffc00 81.37%,#70ff00 82.19%,#2aff00 82.71%,#00ff02 83.12%,#00ff3a 83.84%,#00ffb7 85.90%,#00fdff 86.93%,#00b1ff 88.06%,#008cff 88.88%,#0073ff 90.02%,#0068ff 91.87%,#005dff 99.18%,#0053ff 100.00%)"></div><div style="top:188.4px;height:2.5px;background:linear-gradient(90deg,#ffff00 0.16%,#ffeb00 0.99%,#ff9d00 1.40%,#ff8800 1.91%,#ff7500 3.46%,#ff3500 3.77%,#ff1800 4.28%,#ff2200 5.62%,#ff2b00 5.72%,#ffdb00 6.55%,#fbff00 6.75%,#b0ff00 7.06%,#7fff00 7.27%,#20ff00 7.78%,#06ff00 7.99%,#00ff15 8.19%,#00ff5f 8.60%,#00ff94 9.84%,#00ffcc 10.35%,#00fff4 10.66%,#00fffe 12.52%,#00ffb4 12.93%,#00ffb4 13.65%,#00ffde 13.85%,#00fff5 13.96%,#00feff 14.06%,#00e9ff 14.99%,#009fff 15.40%,#0094ff 18.48%,#00e9ff 18.90%,#00fffe 19.31%,#00fff4 19.51%,#00ff54 20.13%,#00ff35 21.37%,#00ff4f 21.47%,#00ffd4 21.78%,#00fffe 23.01%,#009aff 23.43%,#004bff 25.48%,#003dff 34.23%,#0047ff 34.64%,#005bff 34.95%,#00aeff 35.67%,#00b7ff 35.88%,#00aeff 36.08%,#0089ff 36.39%,#0050ff 36.81%,#0038ff 37.11%,#002bff 37.63%,#002eff 49.57%,#003fff 52.35%,#0054ff 60.99%,#0085ff 67.06%,#00adff 69.95%,#00e0ff 72.21%,#00fffc 73.14%,#00ffcb 74.06%,#00ff8c 74.89%,#00ff4b 75.50%,#00ff04 76.02%,#1dff00 76.22%,#8eff00 76.84%,#f9ff00 77.36%,#fff100 77.46%,#ff8300 78.08%,#ff4e00 78.49%,#ff3400 78.80%,#ff2600 79.21%,#ff2a00 79.72%,#ff4300 80.14%,#ff7200 80.55%,#ffc400 81.06%,#fffb00 81.37%,#91ff00 81.99%,#44ff00 82.50%,#08ff00 83.02%,#00ff02 83.12%,#00ff3a 83.84%,#00ffb7 85.90%,#00feff 86.93%,#00b2ff 88.06%,#008dff 88.88%,#0073ff 90.02%,#0069ff 91.87%,#005dff 99.18%,#0053ff 100.00%)"></div><div style="top:190.4px;height:2.5px;background:linear-gradient(90deg,#ffff00 0.16%,#ffeb00 0.99%,#ff9d00 1.40%,#ff8800 1.91%,#ff7500 3.46%,#ff3500 3.77%,#ff1800 4.28%,#ff2200 5.62%,#ff2b00 5.72%,#ffdb00 6.55%,#fbff00 6.75%,#b0ff00 7.06%,#7fff00 7.27%,#20ff00 7.78%,#06ff00 7.99%,#00ff15 8.19%,#00ff5f 8.60%,#00ff94 9.84%,#00ffcc 10.35%,#00fff4 10.66%,#00fffe 12.52%,#00ffb4 12.93%,#00ffb4 13.65%,#00ffde 13.85%,#00fff5 13.96%,#00feff 14.06%,#00e9ff 14.99%,#009fff 15.40%,#0094ff 18.48%,#00e9ff 18.90%,#00fffe 19.31%,#00fff4 19.51%,#00ff54 20.13%,#00ff35 21.37%,#00ff4f 21.47%,#00ffd4 21.78%,#00fffe 23.01%,#009aff 23.43%,#004bff 25.48%,#003dff 34.23%,#0047ff 34.64%,#005bff 34.95%,#00afff 35.67%,#00b7ff 35.88%,#00afff 36.08%,#008aff 36.39%,#0050ff 36.81%,#0038ff 37.11%,#002bff 37.63%,#002eff 49.57%,#003fff 52.35%,#0054ff 60.99%,#0085ff 67.06%,#00adff 69.95%,#00e0ff 72.21%,#00feff 73.03%,#00ffd1 73.96%,#00ff95 74.78%,#00ff56 75.40%,#00ff03 76.02%,#2fff00 76.33%,#a4ff00 76.95%,#f9ff00 77.36%,#ffdd00 77.56%,#ff8300 78.08%,#ff4d00 78.49%,#ff2f00 78.90%,#ff2600 79.31%,#ff2a00 79.72%,#ff4300 80.14%,#ff7200 80.55%,#ffc400 81.06%,#fffb00 81.37%,#b6ff00 81.78%,#61ff00 82.30%,#1eff00 82.81%,#00ff01 83.12%,#00ff39 83.84%,#00ffb6 85.90%,#00feff 86.93%,#00b3ff 88.06%,#008dff 88.88%,#0073ff 90.02%,#0069ff 91.87%,#005dff 99.18%,#0053ff 100.00%)"></div><div style="top:192.4px;height:2.5px;background:linear-gradient(90deg,#ffff00 0.16%,#ffeb00 0.99%,#ff9d00 1.40%,#ff8800 1.91%,#ff7500 3.46%,#ff3500 3.77%,#ff1800 4.28%,#ff2200 5.62%,#ff2b00 5.72%,#ffdb00 6.55%,#fbff00 6.75%,#b0ff00 7.06%,#7fff00 7.27%,#20ff00 7.78%,#06ff00 7.99%,#00ff15 8.19%,#00ff5f 8.60%,#00ff94 9.84%,#00ffcc 10.35%,#00fff4 10.66%,#00fffe 12.52%,#00ffb4 12.93%,#00ffb4 13.65%,#00ffde 13.85%,#00fff5 13.96%,#00feff 14.06%,#00e9ff 14.99%,#009fff 15.40%,#0094ff 18.48%,#00e9ff 18.90%,#00fffe 19.31%,#00fff4 19.51%,#00ff54 20.13%,#00ff35 21.37%,#00ff4f 21.47%,#00ffd4 21.78%,#00fffe 23.01%,#009aff 23.43%,#004bff 25.48%,#003dff 34.23%,#0047ff 34.64%,#005bff 34.95%,#00afff 35.67%,#00b7ff 35.88%,#00afff 36.08%,#008aff 36.39%,#0050ff 36.81%,#0038ff 37.11%,#002bff 37.63%,#002eff 49.57%,#003fff 52.35%,#0054ff 60.99%,#0084ff 66.96%,#00abff 69.84%,#00e1ff 72.21%,#00ffff 73.03%,#00ffd0 73.96%,#00ff94 74.78%,#00ff55 75.40%,#00ff02 76.02%,#42ff00 76.43%,#cfff00 77.15%,#faff00 77.36%,#ffdc00 77.56%,#ff8300 78.08%,#ff4d00 78.49%,#ff2f00 78.90%,#ff2600 79.31%,#ff2a00 79.72%,#ff4300 80.14%,#ff7100 80.55%,#ffc400 81.06%,#fffb00 81.37%,#c9ff00 81.68%,#61ff00 82.30%,#1eff00 82.81%,#00ff01 83.12%,#00ff39 83.84%,#00ffb6 85.90%,#00ffff 86.93%,#00b3ff 88.06%,#008dff 88.88%,#0074ff 90.02%,#0069ff 91.87%,#005dff 99.18%,#0053ff 100.00%)"></div><div style="top:194.4px;height:2.5px;background:linear-gradient(90deg,#ffff00 0.16%,#ffeb00 0.99%,#ff9d00 1.40%,#ff8800 1.91%,#ff7500 3.46%,#ff3500 3.77%,#ff1800 4.28%,#ff2200 5.62%,#ff2b00 5.72%,#ffdb00 6.55%,#fbff00 6.75%,#b0ff00 7.06%,#7fff00 7.27%,#20ff00 7.78%,#06ff00 7.99%,#00ff15 8.19%,#00ff5f 8.60%,#00ff94 9.84%,#00ffcc 10.35%,#00fff4 10.66%,#00fffe 12.52%,#00ffb4 12.93%,#00ffb4 13.65%,#00ffde 13.85%,#00fff5 13.96%,#00feff 14.06%,#00e9ff 14.99%,#009fff 15.40%,#0094ff 18.48%,#00e9ff 18.90%,#00fffe 19.31%,#00fff4 19.51%,#00ff54 20.13%,#00ff35 21.37%,#00ff4f 21.47%,#00ffd4 21.78%,#00fffe 23.01%,#009aff 23.43%,#004bff 25.48%,#003dff 34.23%,#0047ff 34.64%,#005bff 34.95%,#00afff 35.67%,#00b8ff 35.88%,#00afff 36.08%,#008aff 36.39%,#0051ff 36.81%,#0038ff 37.11%,#002bff 37.63%,#002eff 49.57%,#003fff 52.35%,#0054ff 60.99%,#0084ff 66.96%,#00acff 69.84%,#00e1ff 72.21%,#00ffff 73.03%,#00ffd0 73.96%,#00ff93 74.78%,#00ff55 75.40%,#00ff01 76.02%,#56ff00 76.53%,#fbff00 77.36%,#ffc900 77.67%,#ff7300 78.18%,#ff4300 78.59%,#ff2b00 79.00%,#ff2600 79.52%,#ff3400 79.93%,#ff5700 80.34%,#ff9000 80.75%,#fffb00 81.37%,#c9ff00 81.68%,#61ff00 82.30%,#1fff00 82.81%,#00ff01 83.12%,#00ff39 83.84%,#00ffb5 85.90%,#00fffe 86.93%,#00b4ff 88.06%,#008eff 88.88%,#0074ff 90.02%,#0069ff 91.87%,#005dff 99.18%,#0053ff 100.00%)"></div><div style="top:196.4px;height:2.5px;background:linear-gradient(90deg,#ffff00 0.16%,#ffeb00 0.99%,#ff9d00 1.40%,#ff8800 1.91%,#ff7500 3.46%,#ff3500 3.77%,#ff1800 4.28%,#ff2200 5.62%,#ff2b00 5.72%,#ffdb00 6.55%,#fbff00 6.75%,#b0ff00 7.06%,#7fff00 7.27%,#20ff00 7.78%,#06ff00 7.99%,#00ff15 8.19%,#00ff5f 8.60%,#00ff94 9.84%,#00ffcc 10.35%,#00fff4 10.66%,#00fffe 12.52%,#00ffb4 12.93%,#00ffb4 13.65%,#00ffde 13.85%,#00fff5 13.96%,#00feff 14.06%,#00e9ff 14.99%,#009fff 15.40%,#0094ff 18.48%,#00e9ff 18.90%,#00fffe 19.31%,#00fff4 19.51%,#00ff54 20.13%,#00ff35 21.37%,#00ff4f 21.47%,#00ffd4 21.78%,#00fffe 23.01%,#009aff 23.43%,#004bff 25.48%,#003dff 34.23%,#0047ff 34.64%,#005cff 34.95%,#00b0ff 35.67%,#00b8ff 35.88%,#00b0ff 36.08%,#008aff 36.39%,#0051ff 36.81%,#0038ff 37.11%,#002bff 37.63%,#002eff 49.57%,#003fff 52.35%,#0054ff 60.99%,#0084ff 66.96%,#00acff 69.84%,#00e2ff 72.21%,#00fffe 73.03%,#00ffcf 73.96%,#00ff93 74.78%,#00ff54 75.40%,#00ff00 76.02%,#6aff00 76.64%,#fcff00 77.36%,#ff8200 78.08%,#ff4d00 78.49%,#ff2f00 78.90%,#ff2600 79.31%,#ff2a00 79.72%,#ff4300 80.14%,#ff7100 80.55%,#ffc400 81.06%,#fffa00 81.37%,#dcff00 81.58%,#71ff00 82.19%,#2bff00 82.71%,#00ff01 83.12%,#00ff39 83.84%,#00ffb4 85.90%,#00fffe 86.93%,#00aeff 88.16%,#008bff 88.99%,#0073ff 90.12%,#0069ff 92.07%,#005dff 99.18%,#0053ff 100.00%)"></div><div style="top:198.4px;height:2.5px;background:linear-gradient(90deg,#ffff00 0.16%,#ffeb00 0.99%,#ff9d00 1.40%,#ff8800 1.91%,#ff7500 3.46%,#ff3500 3.77%,#ff1800 4.28%,#ff2100 5.62%,#ff2b00 5.72%,#ffdb00 6.55%,#fbff00 6.75%,#b0ff00 7.06%,#7fff00 7.27%,#20ff00 7.78%,#06ff00 7.99%,#00ff15 8.19%,#00ff5f 8.60%,#00ff94 9.84%,#00ffcc 10.35%,#00fff4 10.66%,#00fffe 12.52%,#00ffb4 12.93%,#00ffb4 13.65%,#00ffde 13.85%,#00fff5 13.96%,#00feff 14.06%,#00e9ff 14.99%,#009fff 15.40%,#0094ff 18.48%,#00e9ff 18.90%,#00fffe 19.31%,#00fff4 19.51%,#00ff54 20.13%,#00ff35 21.37%,#00ff4f 21.47%,#00ffd4 21.78%,#00fffe 23.01%,#009aff 23.43%,#004bff 25.48%,#003dff 34.23%,#0047ff 34.64%,#005cff 34.95%,#00b0ff 35.67%,#00b8ff 35.88%,#00b0ff 36.08%,#008bff 36.39%,#0051ff 36.81%,#0038ff 37.11%,#002bff 37.63%,#002fff 49.57%,#003fff 52.35%,#0054ff 60.99%,#0084ff 66.96%,#00acff 69.84%,#00e2ff 72.21%,#00fffe 73.03%,#00ffce 73.96%,#00ff92 74.78%,#00ff53 75.40%,#01ff00 76.02%,#6bff00 76.64%,#fcff00 77.36%,#ff8200 78.08%,#ff4d00 78.49%,#ff2f00 78.90%,#ff2600 79.31%,#ff2b00 79.72%,#ff4300 80.14%,#ff7100 80.55%,#ffc300 81.06%,#fffa00 81.37%,#ddff00 81.58%,#71ff00 82.19%,#2bff00 82.71%,#00ff01 83.12%,#00ff39 83.84%,#00ffb4 85.90%,#00fffd 86.93%,#00afff 88.16%,#008bff 88.99%,#0073ff 90.12%,#0069ff 92.07%,#005dff 99.18%,#0053ff 100.00%)"></div><div style="top:200.4px;height:2.5px;background:linear-gradient(90deg,#ffff00 0.16%,#ffeb00 0.99%,#ff9d00 1.40%,#ff8800 1.91%,#ff7500 3.46%,#ff3500 3.77%,#ff1800 4.28%,#ff2100 5.62%,#ff2b00 5.72%,#ffdb00 6.55%,#fbff00 6.75%,#b0ff00 7.06%,#7fff00 7.27%,#20ff00 7.78%,#06ff00 7.99%,#00ff15 8.19%,#00ff5f 8.60%,#00ff94 9.84%,#00ffcc 10.35%,#00fff4 10.66%,#00fffe 12.52%,#00ffb4 12.93%,#00ffb4 13.65%,#00ffde 13.85%,#00fff5 13.96%,#00feff 14.06%,#00e9ff 14.99%,#009fff 15.40%,#0094ff 18.48%,#00e9ff 18.90%,#00fffe 19.31%,#00fff4 19.51%,#00ff54 20.13%,#00ff35 21.37%,#00ff4f 21.47%,#00ffd4 21.78%,#00fffe 23.01%,#009aff 23.43%,#004bff 25.48%,#003dff 34.23%,#0047ff 34.64%,#005cff 34.95%,#00b0ff 35.67%,#00b9ff 35.88%,#00b0ff 36.08%,#008bff 36.39%,#0051ff 36.81%,#0038ff 37.11%,#002bff 37.63%,#002fff 49.57%,#003fff 52.35%,#0054ff 60.99%,#0085ff 66.96%,#00acff 69.84%,#00e2ff 72.21%,#00fffd 73.03%,#00ffce 73.96%,#00ff91 74.78%,#00ff52 75.40%,#02ff00 76.02%,#6cff00 76.64%,#fdff00 77.36%,#ff8100 78.08%,#ff4d00 78.49%,#ff2f00 78.90%,#ff2600 79.31%,#ff2b00 79.72%,#ff4300 80.14%,#ff7100 80.55%,#ffc300 81.06%,#fffa00 81.37%,#ddff00 81.58%,#72ff00 82.19%,#2bff00 82.71%,#00ff01 83.12%,#00ff39 83.84%,#00ffb3 85.90%,#00fffc 86.93%,#00aaff 88.27%,#0088ff 89.09%,#0071ff 90.33%,#0069ff 92.49%,#005dff 99.18%,#0053ff 100.00%)"></div><div style="top:202.4px;height:2.5px;background:linear-gradient(90deg,#ffff00 0.16%,#ffeb00 0.99%,#ff9d00 1.40%,#ff8800 1.91%,#ff7500 3.46%,#ff3500 3.77%,#ff1800 4.28%,#ff2100 5.62%,#ff2b00 5.72%,#ffdb00 6.55%,#fbff00 6.75%,#b0ff00 7.06%,#7fff00 7.27%,#20ff00 7.78%,#06ff00 7.99%,#00ff15 8.19%,#00ff5f 8.60%,#00ff94 9.84%,#00ffcc 10.35%,#00fff4 10.66%,#00fffe 12.52%,#00ffb4 12.93%,#00ffb4 13.65%,#00ffde 13.85%,#00fff5 13.96%,#00feff 14.06%,#00e9ff 14.99%,#009fff 15.40%,#0094ff 18.48%,#00e9ff 18.90%,#00fffe 19.31%,#00fff4 19.51%,#00ff54 20.13%,#00ff35 21.37%,#00ff4f 21.47%,#00ffd4 21.78%,#00fffe 23.01%,#009aff 23.43%,#004bff 25.48%,#003dff 34.23%,#0047ff 34.64%,#005cff 34.95%,#00b1ff 35.67%,#00b9ff 35.88%,#00b1ff 36.08%,#008bff 36.39%,#0051ff 36.81%,#0038ff 37.11%,#002bff 37.63%,#002fff 49.57%,#003fff 52.35%,#0054ff 60.99%,#0085ff 66.96%,#00adff 69.84%,#00e3ff 72.21%,#00fffd 73.03%,#00ffcd 73.96%,#00ff90 74.78%,#00ff51 75.40%,#03ff00 76.02%,#6dff00 76.64%,#feff00 77.36%,#ff9100 77.97%,#ff5800 78.39%,#ff3400 78.80%,#ff2700 79.21%,#ff2b00 79.72%,#ff4300 80.14%,#ff7100 80.55%,#ffc300 81.06%,#fffa00 81.37%,#ddff00 81.58%,#72ff00 82.19%,#2bff00 82.71%,#00ff00 83.12%,#00ff38 83.84%,#00ffb3 85.90%,#00fffc 86.93%,#00c2ff 87.86%,#0093ff 88.78%,#0076ff 89.91%,#0069ff 91.66%,#005dff 99.18%,#0053ff 100.00%)"></div><div style="top:204.4px;height:2.5px;background:linear-gradient(90deg,#ffff00 0.16%,#ffeb00 0.99%,#ff9d00 1.40%,#ff8800 1.91%,#ff7500 3.46%,#ff3500 3.77%,#ff1800 4.28%,#ff2100 5.62%,#ff2b00 5.72%,#ffdb00 6.55%,#fbff00 6.75%,#b0ff00 7.06%,#7fff00 7.27%,#20ff00 7.78%,#06ff00 7.99%,#00ff15 8.19%,#00ff5f 8.60%,#00ff94 9.84%,#00ffcc 10.35%,#00fff4 10.66%,#00fffe 12.52%,#00ffb4 12.93%,#00ffb4 13.65%,#00ffde 13.85%,#00fff5 13.96%,#00feff 14.06%,#00e9ff 14.99%,#009fff 15.40%,#0094ff 18.48%,#00e9ff 18.90%,#00fffe 19.31%,#00fff4 19.51%,#00ff54 20.13%,#00ff35 21.37%,#00ff4f 21.47%,#00ffd4 21.78%,#00fffe 23.01%,#009aff 23.43%,#004bff 25.48%,#003dff 34.23%,#0047ff 34.64%,#005cff 34.95%,#00b1ff 35.67%,#00baff 35.88%,#00b1ff 36.08%,#008bff 36.39%,#0051ff 36.81%,#0038ff 37.11%,#002bff 37.63%,#002fff 49.57%,#003fff 52.35%,#0054ff 60.89%,#0084ff 66.86%,#00adff 69.84%,#00e3ff 72.21%,#00fffc 73.03%,#00ffcd 73.96%,#00ff90 74.78%,#00ff50 75.40%,#03ff00 76.02%,#6eff00 76.64%,#ffff00 77.36%,#ff9100 77.97%,#ff5700 78.39%,#ff3400 78.80%,#ff2700 79.21%,#ff2b00 79.72%,#ff4300 80.14%,#ff7100 80.55%,#ffc300 81.06%,#fffa00 81.37%,#deff00 81.58%,#72ff00 82.19%,#2bff00 82.71%,#00ff00 83.12%,#00ff38 83.84%,#00ffb2 85.90%,#00fffb 86.93%,#00ecff 87.24%,#00abff 88.27%,#0089ff 89.09%,#0071ff 90.33%,#0069ff 92.49%,#005dff 99.18%,#0053ff 100.00%)"></div><div style="top:206.4px;height:2.5px;background:linear-gradient(90deg,#ffff00 0.16%,#ffeb00 0.99%,#ff9d00 1.40%,#ff8800 1.91%,#ff7500 3.46%,#ff3500 3.77%,#ff1800 4.28%,#ff2100 5.62%,#ff2b00 5.72%,#ffdb00 6.55%,#fbff00 6.75%,#b0ff00 7.06%,#7fff00 7.27%,#20ff00 7.78%,#06ff00 7.99%,#00ff15 8.19%,#00ff5f 8.60%,#00ff94 9.84%,#00ffcc 10.35%,#00fff4 10.66%,#00fffe 12.52%,#00ffb4 12.93%,#00ffb4 13.65%,#00ffde 13.85%,#00fff5 13.96%,#00feff 14.06%,#00e9ff 14.99%,#009fff 15.40%,#0094ff 18.48%,#00e9ff 18.90%,#00fffe 19.31%,#00fff4 19.51%,#00ff54 20.13%,#00ff35 21.37%,#00ff4f 21.47%,#00ffd4 21.78%,#00fffe 23.01%,#009aff 23.43%,#004bff 25.48%,#003dff 34.23%,#0047ff 34.64%,#005cff 34.95%,#00b2ff 35.67%,#00baff 35.88%,#00b1ff 36.08%,#008cff 36.39%,#0051ff 36.81%,#0038ff 37.11%,#002bff 37.63%,#002fff 49.57%,#003fff 52.35%,#0054ff 60.89%,#0084ff 66.86%,#00adff 69.84%,#00e4ff 72.21%,#00fffc 73.03%,#00ffcc 73.96%,#00ff8f 74.78%,#00ff4f 75.40%,#00ff0b 75.92%,#04ff00 76.02%,#6fff00 76.64%,#ffff00 77.36%,#ff9000 77.97%,#ff5700 78.39%,#ff3400 78.80%,#ff2700 79.21%,#ff2b00 79.72%,#ff4300 80.14%,#ff7100 80.55%,#ffc300 81.06%,#fff900 81.37%,#deff00 81.58%,#72ff00 82.19%,#2cff00 82.71%,#00ff00 83.12%,#00ff38 83.84%,#00ffb2 85.90%,#00fcff 87.03%,#00b1ff 88.16%,#008dff 88.99%,#0074ff 90.12%,#0069ff 92.07%,#005dff 99.18%,#0053ff 100.00%)"></div><div style="top:208.4px;height:2.5px;background:linear-gradient(90deg,#ffff00 0.16%,#ffeb00 0.99%,#ff9d00 1.40%,#ff8800 1.91%,#ff7500 3.46%,#ff3500 3.77%,#ff1800 4.28%,#ff2100 5.62%,#ff2b00 5.72%,#ffdb00 6.55%,#fbff00 6.75%,#b0ff00 7.06%,#7fff00 7.27%,#20ff00 7.78%,#06ff00 7.99%,#00ff15 8.19%,#00ff5f 8.60%,#00ff94 9.84%,#00ffcc 10.35%,#00fff4 10.66%,#00fffe 12.52%,#00ffb4 12.93%,#00ffb4 13.65%,#00ffde 13.85%,#00fff5 13.96%,#00feff 14.06%,#00e9ff 14.99%,#009fff 15.40%,#0094ff 18.48%,#00e9ff 18.90%,#00fffe 19.31%,#00fff4 19.51%,#00ff54 20.13%,#00ff35 21.37%,#00ff4f 21.47%,#00ffd4 21.78%,#00fffe 23.01%,#009aff 23.43%,#004bff 25.48%,#003dff 34.23%,#0047ff 34.64%,#005cff 34.95%,#00b2ff 35.67%,#00baff 35.88%,#00b2ff 36.08%,#008cff 36.39%,#0051ff 36.81%,#0038ff 37.11%,#002bff 37.63%,#002fff 49.57%,#003fff 52.35%,#0054ff 60.89%,#0084ff 66.86%,#00adff 69.84%,#00e4ff 72.21%,#00feff 72.93%,#00ffd2 73.86%,#00ff8e 74.78%,#00ff4f 75.40%,#00ff0a 75.92%,#05ff00 76.02%,#6fff00 76.64%,#fffe00 77.36%,#ff9000 77.97%,#ff5700 78.39%,#ff3400 78.80%,#ff2700 79.21%,#ff2b00 79.72%,#ff4300 80.14%,#ff7100 80.55%,#ffc200 81.06%,#fff900 81.37%,#f2ff00 81.47%,#83ff00 82.09%,#39ff00 82.61%,#00ff00 83.12%,#00ff38 83.84%,#00ffb1 85.90%,#00fdff 87.03%,#00b2ff 88.16%,#008dff 88.99%,#0074ff 90.12%,#0069ff 91.97%,#005dff 99.18%,#0053ff 100.00%)"></div><div style="top:210.4px;height:2.5px;background:linear-gradient(90deg,#ffff00 0.16%,#ffeb00 0.99%,#ff9d00 1.40%,#ff8800 1.91%,#ff7500 3.46%,#ff3500 3.77%,#ff1800 4.28%,#ff2100 5.62%,#ff2b00 5.72%,#ffdb00 6.55%,#fbff00 6.75%,#b0ff00 7.06%,#7fff00 7.27%,#20ff00 7.78%,#06ff00 7.99%,#00ff15 8.19%,#00ff5f 8.60%,#00ff94 9.84%,#00ffcc 10.35%,#00fff4 10.66%,#00fffe 12.52%,#00ffb4 12.93%,#00ffb4 13.65%,#00ffde 13.85%,#00fff5 13.96%,#00feff 14.06%,#00e9ff 14.99%,#009fff 15.40%,#0094ff 18.48%,#00e9ff 18.90%,#00fffe 19.31%,#00fff4 19.51%,#00ff54 20.13%,#00ff35 21.37%,#00ff4f 21.47%,#00ffd4 21.78%,#00fffe 23.01%,#009aff 23.43%,#004bff 25.48%,#003dff 34.23%,#0047ff 34.64%,#005cff 34.95%,#00b2ff 35.67%,#00bbff 35.88%,#00b2ff 36.08%,#008cff 36.39%,#0051ff 36.81%,#0038ff 37.11%,#002bff 37.63%,#002fff 49.57%,#003fff 52.35%,#0054ff 60.89%,#0084ff 66.86%,#00aeff 69.84%,#00e5ff 72.21%,#00ffff 72.93%,#00ffd1 73.86%,#00ff8d 74.78%,#00ff4e 75.40%,#00ff09 75.92%,#06ff00 76.02%,#70ff00 76.64%,#fffd00 77.36%,#ff8f00 77.97%,#ff5700 78.39%,#ff3400 78.80%,#ff2700 79.21%,#ff2b00 79.72%,#ff4300 80.14%,#ff7100 80.55%,#ffc200 81.06%,#fff900 81.37%,#f2ff00 81.47%,#83ff00 82.09%,#39ff00 82.61%,#00ff00 83.12%,#00ff38 83.84%,#00ffb0 85.90%,#00feff 87.03%,#00b2ff 88.16%,#008dff 88.99%,#0074ff 90.12%,#0069ff 91.97%,#005dff 99.18%,#0053ff 100.00%)"></div><div style="top:212.4px;height:2.5px;background:linear-gradient(90deg,#ffff00 0.16%,#ffeb00 0.99%,#ff9d00 1.40%,#ff8800 1.91%,#ff7500 3.46%,#ff3500 3.77%,#ff1800 4.28%,#ff2100 5.62%,#ff2b00 5.72%,#ffdb00 6.55%,#fbff00 6.75%,#b0ff00 7.06%,#7fff00 7.27%,#20ff00 7.78%,#06ff00 7.99%,#00ff15 8.19%,#00ff5f 8.60%,#00ff94 9.84%,#00ffcc 10.35%,#00fff4 10.66%,#00fffe 12.52%,#00ffb4 12.93%,#00ffb4 13.65%,#00ffde 13.85%,#00fff5 13.96%,#00feff 14.06%,#00e9ff 14.99%,#009fff 15.40%,#0094ff 18.48%,#00e9ff 18.90%,#00fffe 19.31%,#00fff4 19.51%,#00ff54 20.13%,#00ff35 21.37%,#00ff4f 21.47%,#00ffd4 21.78%,#00fffe 23.01%,#009aff 23.43%,#004bff 25.48%,#003dff 34.23%,#0047ff 34.64%,#005cff 34.95%,#00b3ff 35.67%,#00bbff 35.88%,#00b2ff 36.08%,#008cff 36.39%,#0052ff 36.81%,#0038ff 37.11%,#002bff 37.63%,#002fff 49.57%,#003fff 52.35%,#0054ff 60.89%,#0084ff 66.86%,#00aeff 69.84%,#00e5ff 72.21%,#00ffff 72.93%,#00ffd1 73.86%,#00ff8d 74.78%,#00ff4d 75.40%,#00ff08 75.92%,#07ff00 76.02%,#71ff00 76.64%,#fffd00 77.36%,#ff8f00 77.97%,#ff5700 78.39%,#ff3400 78.80%,#ff2700 79.21%,#ff2b00 79.72%,#ff4300 80.14%,#ff7100 80.55%,#ffc200 81.06%,#fff900 81.37%,#f2ff00 81.47%,#84ff00 82.09%,#39ff00 82.61%,#01ff00 83.12%,#00ff3e 83.94%,#00ffb0 85.90%,#00feff 87.03%,#00b3ff 88.16%,#008eff 88.99%,#0074ff 90.12%,#006aff 91.97%,#005dff 99.18%,#0053ff 100.00%)"></div><div style="top:214.4px;height:2.5px;background:linear-gradient(90deg,#ffff00 0.16%,#ffeb00 0.99%,#ff9d00 1.40%,#ff8800 1.91%,#ff7500 3.46%,#ff3500 3.77%,#ff1800 4.28%,#ff2100 5.62%,#ff2b00 5.72%,#ffdb00 6.55%,#fbff00 6.75%,#b0ff00 7.06%,#7fff00 7.27%,#20ff00 7.78%,#06ff00 7.99%,#00ff15 8.19%,#00ff5f 8.60%,#00ff94 9.84%,#00ffcc 10.35%,#00fff4 10.66%,#00fffe 12.52%,#00ffb4 12.93%,#00ffb4 13.65%,#00ffde 13.85%,#00fff5 13.96%,#00feff 14.06%,#00e9ff 14.99%,#009fff 15.40%,#0094ff 18.48%,#00e9ff 18.90%,#00fffe 19.31%,#00fff4 19.51%,#00ff54 20.13%,#00ff35 21.37%,#00ff4f 21.47%,#00ffd4 21.78%,#00fffe 23.01%,#009aff 23.43%,#004bff 25.48%,#003dff 34.23%,#0047ff 34.64%,#005cff 34.95%,#00b3ff 35.67%,#00bbff 35.88%,#00b3ff 36.08%,#008dff 36.39%,#0052ff 36.81%,#0039ff 37.11%,#002bff 37.63%,#002fff 49.57%,#003fff 52.35%,#0054ff 60.89%,#0084ff 66.86%,#00acff 69.74%,#00e5ff 72.21%,#00fffe 72.93%,#00ffd0 73.86%,#00ff8c 74.78%,#00ff4c 75.40%,#00ff07 75.92%,#08ff00 76.02%,#72ff00 76.64%,#fffc00 77.36%,#ff8f00 77.97%,#ff5700 78.39%,#ff3400 78.80%,#ff2700 79.21%,#ff2b00 79.72%,#ff4300 80.14%,#ff7100 80.55%,#ffc200 81.06%,#fff800 81.37%,#f2ff00 81.47%,#84ff00 82.09%,#39ff00 82.61%,#01ff00 83.12%,#00ff3e 83.94%,#00ffaf 85.90%,#00ffff 87.03%,#00b3ff 88.16%,#008eff 88.99%,#0074ff 90.12%,#006aff 91.97%,#005dff 99.18%,#0053ff 100.00%)"></div><div style="top:216.4px;height:2.5px;background:linear-gradient(90deg,#ffff00 0.16%,#ffeb00 0.99%,#ff9d00 1.40%,#ff8800 1.91%,#ff7500 3.46%,#ff3500 3.77%,#ff1800 4.28%,#ff2100 5.62%,#ff2b00 5.72%,#ffdb00 6.55%,#fbff00 6.75%,#b0ff00 7.06%,#7fff00 7.27%,#20ff00 7.78%,#06ff00 7.99%,#00ff15 8.19%,#00ff5f 8.60%,#00ff94 9.84%,#00ffcc 10.35%,#00fff4 10.66%,#00fffe 12.52%,#00ffb4 12.93%,#00ffb4 13.65%,#00ffde 13.85%,#00fff5 13.96%,#00feff 14.06%,#00e9ff 14.99%,#009fff 15.40%,#0094ff 18.48%,#00e9ff 18.90%,#00fffe 19.31%,#00fff4 19.51%,#00ff54 20.13%,#00ff35 21.37%,#00ff4f 21.47%,#00ffd4 21.78%,#00fffe 23.01%,#009aff 23.43%,#004bff 25.48%,#003dff 34.23%,#0047ff 34.64%,#005dff 34.95%,#00b3ff 35.67%,#00bcff 35.88%,#00b3ff 36.08%,#008dff 36.39%,#0052ff 36.81%,#0039ff 37.11%,#002bff 37.63%,#002fff 49.57%,#003fff 52.35%,#0054ff 60.89%,#0084ff 66.86%,#00acff 69.74%,#00e6ff 72.21%,#00fffe 72.93%,#00ffcf 73.86%,#00ff8b 74.78%,#00ff4b 75.40%,#00ff07 75.92%,#09ff00 76.02%,#73ff00 76.64%,#eeff00 77.25%,#fffb00 77.36%,#ff8e00 77.97%,#ff5600 78.39%,#ff3400 78.80%,#ff2700 79.21%,#ff2b00 79.72%,#ff4300 80.14%,#ff7100 80.55%,#ffc200 81.06%,#fff800 81.37%,#f3ff00 81.47%,#84ff00 82.09%,#3aff00 82.61%,#01ff00 83.12%,#00ff3e 83.94%,#00ffaf 85.90%,#00fffe 87.03%,#00b4ff 88.16%,#008eff 88.99%,#0075ff 90.12%,#006aff 91.97%,#005dff 99.18%,#0053ff 100.00%)"></div><div style="top:218.4px;height:2.5px;background:linear-gradient(90deg,#ffff00 0.16%,#ffeb00 0.99%,#ff9d00 1.40%,#ff8800 1.91%,#ff7500 3.46%,#ff3500 3.77%,#ff1800 4.28%,#ff2100 5.62%,#ff2b00 5.72%,#ffdb00 6.55%,#fbff00 6.75%,#b0ff00 7.06%,#7fff00 7.27%,#20ff00 7.78%,#06ff00 7.99%,#00ff15 8.19%,#00ff5f 8.60%,#00ff94 9.84%,#00ffcc 10.35%,#00fff4 10.66%,#00fffe 12.52%,#00ffb4 12.93%,#00ffb4 13.65%,#00ffde 13.85%,#00fff5 13.96%,#00feff 14.06%,#00e9ff 14.99%,#009fff 15.40%,#0094ff 18.48%,#00e9ff 18.90%,#00fffe 19.31%,#00fff4 19.51%,#00ff54 20.13%,#00ff35 21.37%,#00ff4f 21.47%,#00ffd4 21.78%,#00fffe 23.01%,#009aff 23.43%,#004bff 25.48%,#003dff 34.23%,#0047ff 34.64%,#005dff 34.95%,#00b4ff 35.67%,#00bcff 35.88%,#00b4ff 36.08%,#008dff 36.39%,#0052ff 36.81%,#0039ff 37.11%,#002cff 37.53%,#002eff 49.46%,#003fff 52.35%,#0054ff 60.89%,#0085ff 66.86%,#00adff 69.74%,#00e6ff 72.21%,#00fffd 72.93%,#00ffcf 73.86%,#00ff8a 74.78%,#00ff4a 75.40%,#00ff06 75.92%,#0aff00 76.02%,#74ff00 76.64%,#efff00 77.25%,#fffb00 77.36%,#ff8e00 77.97%,#ff5600 78.39%,#ff3400 78.80%,#ff2700 79.21%,#ff2b00 79.72%,#ff4300 80.14%,#ff7100 80.55%,#ffc100 81.06%,#fff800 81.37%,#f3ff00 81.47%,#84ff00 82.09%,#3aff00 82.61%,#01ff00 83.12%,#00ff3d 83.94%,#00ffae 85.90%,#00fffe 87.03%,#00afff 88.27%,#008cff 89.09%,#0074ff 90.22%,#006aff 92.18%,#005dff 99.18%,#0053ff 100.00%)"></div><div style="top:220.4px;height:2.5px;background:linear-gradient(90deg,#ffff00 0.16%,#ffeb00 0.99%,#ff9d00 1.40%,#ff8800 1.91%,#ff7500 3.46%,#ff3500 3.77%,#ff1800 4.28%,#ff2100 5.62%,#ff2b00 5.72%,#ffdb00 6.55%,#fbff00 6.75%,#b0ff00 7.06%,#7fff00 7.27%,#20ff00 7.78%,#06ff00 7.99%,#00ff15 8.19%,#00ff5f 8.60%,#00ff94 9.84%,#00ffcc 10.35%,#00fff4 10.66%,#00fffe 12.52%,#00ffb4 12.93%,#00ffb4 13.65%,#00ffde 13.85%,#00fff5 13.96%,#00feff 14.06%,#00e9ff 14.99%,#009fff 15.40%,#0094ff 18.48%,#00e9ff 18.90%,#00fffe 19.31%,#00fff4 19.51%,#00ff54 20.13%,#00ff35 21.37%,#00ff4f 21.47%,#00ffd4 21.78%,#00fffe 23.01%,#009aff 23.43%,#004bff 25.48%,#003dff 34.23%,#0047ff 34.64%,#005dff 34.95%,#00b4ff 35.67%,#00bdff 35.88%,#00b4ff 36.08%,#008dff 36.39%,#0052ff 36.81%,#0039ff 37.11%,#002cff 37.53%,#002eff 49.46%,#003fff 52.35%,#0054ff 60.89%,#0085ff 66.86%,#00adff 69.74%,#00e3ff 72.11%,#00fffd 72.93%,#00ffce 73.86%,#00ff8a 74.78%,#00ff49 75.40%,#00ff05 75.92%,#1bff00 76.12%,#89ff00 76.74%,#efff00 77.25%,#fffa00 77.36%,#ff8e00 77.97%,#ff5600 78.39%,#ff3400 78.80%,#ff2700 79.21%,#ff2b00 79.72%,#ff4300 80.14%,#ff7000 80.55%,#ffc100 81.06%,#fff800 81.37%,#f3ff00 81.47%,#85ff00 82.09%,#3aff00 82.61%,#01ff00 83.12%,#00ff3d 83.94%,#00ffae 85.90%,#00fffd 87.03%,#00afff 88.27%,#008cff 89.09%,#0074ff 90.22%,#006aff 92.18%,#005dff 99.18%,#0053ff 100.00%)"></div><div style="top:222.4px;height:2.5px;background:linear-gradient(90deg,#ffff00 0.16%,#ffeb00 0.99%,#ff9d00 1.40%,#ff8800 1.91%,#ff7500 3.46%,#ff3500 3.77%,#ff1800 4.28%,#ff2100 5.62%,#ff2b00 5.72%,#ffdb00 6.55%,#fbff00 6.75%,#b0ff00 7.06%,#7fff00 7.27%,#20ff00 7.78%,#06ff00 7.99%,#00ff15 8.19%,#00ff5f 8.60%,#00ff94 9.84%,#00ffcc 10.35%,#00fff4 10.66%,#00fffe 12.52%,#00ffb4 12.93%,#00ffb4 13.65%,#00ffde 13.85%,#00fff5 13.96%,#00feff 14.06%,#00e9ff 14.99%,#009fff 15.40%,#0094ff 18.48%,#00e9ff 18.90%,#00fffe 19.31%,#00fff4 19.51%,#00ff54 20.13%,#00ff35 21.37%,#00ff4f 21.47%,#00ffd4 21.78%,#00fffe 23.01%,#009aff 23.43%,#004bff 25.48%,#003dff 34.23%,#0047ff 34.64%,#005dff 34.95%,#00b4ff 35.67%,#00bdff 35.88%,#00b4ff 36.08%,#008eff 36.39%,#0052ff 36.81%,#0039ff 37.11%,#002cff 37.53%,#002eff 49.46%,#003fff 52.35%,#0054ff 60.89%,#0085ff 66.86%,#00adff 69.74%,#00e4ff 72.11%,#00fffc 72.93%,#00ffce 73.86%,#00ff89 74.78%,#00ff49 75.40%,#00ff04 75.92%,#1cff00 76.12%,#89ff00 76.74%,#f0ff00 77.25%,#fff900 77.36%,#ff8d00 77.97%,#ff5600 78.39%,#ff3300 78.80%,#ff2700 79.21%,#ff2b00 79.72%,#ff4300 80.14%,#ff7000 80.55%,#ffc100 81.06%,#fff700 81.37%,#f4ff00 81.47%,#85ff00 82.09%,#3aff00 82.61%,#01ff00 83.12%,#00ff3d 83.94%,#00ffad 85.90%,#00fffd 87.03%,#00aaff 88.37%,#0089ff 89.19%,#0072ff 90.43%,#006aff 92.69%,#005dff 99.18%,#0053ff 100.00%)"></div><div style="top:224.4px;height:2.5px;background:linear-gradient(90deg,#ffff00 0.16%,#ffeb00 0.99%,#ff9d00 1.40%,#ff8800 1.91%,#ff7500 3.46%,#ff3500 3.77%,#ff1800 4.28%,#ff2100 5.62%,#ff2b00 5.72%,#ffdb00 6.55%,#fbff00 6.75%,#b0ff00 7.06%,#7fff00 7.27%,#20ff00 7.78%,#06ff00 7.99%,#00ff15 8.19%,#00ff5f 8.60%,#00ff94 9.84%,#00ffcc 10.35%,#00fff4 10.66%,#00fffe 12.52%,#00ffb4 12.93%,#00ffb4 13.65%,#00ffde 13.85%,#00fff5 13.96%,#00feff 14.06%,#00e9ff 14.99%,#009fff 15.40%,#0094ff 18.48%,#00e9ff 18.90%,#00fffe 19.31%,#00fff4 19.51%,#00ff54 20.13%,#00ff35 21.37%,#00ff4f 21.47%,#00ffd4 21.78%,#00fffe 23.01%,#009aff 23.43%,#004bff 25.48%,#003dff 34.23%,#0048ff 34.64%,#005dff 34.95%,#00b5ff 35.67%,#00bdff 35.88%,#00b5ff 36.08%,#008eff 36.39%,#0052ff 36.81%,#0039ff 37.11%,#002cff 37.53%,#002eff 49.46%,#003fff 52.35%,#0054ff 60.89%,#0085ff 66.86%,#00adff 69.74%,#00e4ff 72.11%,#00fffc 72.93%,#00ffcd 73.86%,#00ff88 74.78%,#00ff48 75.40%,#00ff03 75.92%,#2eff00 76.22%,#b3ff00 76.95%,#f1ff00 77.25%,#fff900 77.36%,#ff8d00 77.97%,#ff5600 78.39%,#ff3300 78.80%,#ff2700 79.21%,#ff2b00 79.72%,#ff4300 80.14%,#ff7000 80.55%,#ffc100 81.06%,#fff700 81.37%,#f4ff00 81.47%,#85ff00 82.09%,#3aff00 82.61%,#02ff00 83.12%,#00ff3d 83.94%,#00ffad 85.90%,#00fffc 87.03%,#00abff 88.37%,#0089ff 89.19%,#0072ff 90.43%,#006aff 92.59%,#005dff 99.18%,#0053ff 100.00%)"></div><div style="top:226.4px;height:2.5px;background:linear-gradient(90deg,#ffff00 0.16%,#ffeb00 0.99%,#ff9d00 1.40%,#ff8800 1.91%,#ff7500 3.46%,#ff3500 3.77%,#ff1800 4.28%,#ff2100 5.62%,#ff2b00 5.72%,#ffdb00 6.55%,#fbff00 6.75%,#b0ff00 7.06%,#7fff00 7.27%,#20ff00 7.78%,#06ff00 7.99%,#00ff15 8.19%,#00ff5f 8.60%,#00ff94 9.84%,#00ffcc 10.35%,#00fff4 10.66%,#00fffe 12.52%,#00ffb4 12.93%,#00ffb4 13.65%,#00ffde 13.85%,#00fff5 13.96%,#00feff 14.06%,#00e9ff 14.99%,#009fff 15.40%,#0094ff 18.48%,#00e9ff 18.90%,#00fffe 19.31%,#00fff4 19.51%,#00ff54 20.13%,#00ff35 21.37%,#00ff4f 21.47%,#00ffd4 21.78%,#00fffe 23.01%,#009aff 23.43%,#004bff 25.48%,#003dff 34.23%,#0048ff 34.64%,#005dff 34.95%,#00b5ff 35.67%,#00beff 35.88%,#00b5ff 36.08%,#008eff 36.39%,#0052ff 36.81%,#0039ff 37.11%,#002cff 37.53%,#002eff 49.46%,#003fff 52.35%,#0054ff 60.89%,#0085ff 66.86%,#00adff 69.74%,#00e5ff 72.11%,#00ffff 72.83%,#00ffd3 73.75%,#00ff90 74.68%,#00ff53 75.30%,#00ff02 75.92%,#52ff00 76.43%,#f2ff00 77.25%,#fff800 77.36%,#ff8c00 77.97%,#ff5500 78.39%,#ff3300 78.80%,#ff2700 79.21%,#ff2b00 79.72%,#ff4300 80.14%,#ff7000 80.55%,#ffc100 81.06%,#fff700 81.37%,#f4ff00 81.47%,#86ff00 82.09%,#3bff00 82.61%,#02ff00 83.12%,#00ff3d 83.94%,#00ffac 85.90%,#00fffb 87.03%,#00deff 87.55%,#00a1ff 88.58%,#007fff 89.60%,#006dff 91.05%,#005dff 99.18%,#0053ff 100.00%)"></div><div style="top:228.4px;height:2.5px;background:linear-gradient(90deg,#ffff00 0.16%,#ffeb00 0.99%,#ff9d00 1.40%,#ff8800 1.91%,#ff7500 3.46%,#ff3500 3.77%,#ff1800 4.28%,#ff2100 5.62%,#ff2b00 5.72%,#ffdb00 6.55%,#fbff00 6.75%,#b0ff00 7.06%,#7fff00 7.27%,#20ff00 7.78%,#06ff00 7.99%,#00ff15 8.19%,#00ff5f 8.60%,#00ff94 9.84%,#00ffcc 10.35%,#00fff4 10.66%,#00fffe 12.52%,#00ffb4 12.93%,#00ffb4 13.65%,#00ffde 13.85%,#00fff5 13.96%,#00feff 14.06%,#00e9ff 14.99%,#009fff 15.40%,#0094ff 18.48%,#00e9ff 18.90%,#00fffe 19.31%,#00fff4 19.51%,#00ff54 20.13%,#00ff35 21.37%,#00ff4f 21.47%,#00ffd4 21.78%,#00fffe 23.01%,#009aff 23.43%,#004bff 25.48%,#003dff 34.23%,#0048ff 34.64%,#005dff 34.95%,#00b5ff 35.67%,#00beff 35.88%,#00b5ff 36.08%,#008fff 36.39%,#0053ff 36.81%,#0039ff 37.11%,#002cff 37.53%,#002eff 49.46%,#003fff 52.35%,#0054ff 60.89%,#0084ff 66.76%,#00aeff 69.74%,#00e5ff 72.11%,#00ffff 72.83%,#00ffcc 73.86%,#00ff87 74.78%,#00ff46 75.40%,#00ff01 75.92%,#53ff00 76.43%,#f2ff00 77.25%,#fff700 77.36%,#ff8c00 77.97%,#ff5500 78.39%,#ff3300 78.80%,#ff2700 79.21%,#ff2b00 79.72%,#ff4300 80.14%,#ff7000 80.55%,#ffc100 81.06%,#fff700 81.37%,#f4ff00 81.47%,#86ff00 82.09%,#3bff00 82.61%,#02ff00 83.12%,#00ff43 84.05%,#00ffac 85.90%,#00fcff 87.13%,#00b1ff 88.27%,#008dff 89.09%,#0075ff 90.22%,#006aff 92.18%,#005dff 99.18%,#0053ff 100.00%)"></div><div style="top:230.4px;height:2.5px;background:linear-gradient(90deg,#ffff00 0.16%,#ffeb00 0.99%,#ff9d00 1.40%,#ff8800 1.91%,#ff7500 3.46%,#ff3500 3.77%,#ff1800 4.28%,#ff2100 5.62%,#ff2b00 5.72%,#ffdb00 6.55%,#fbff00 6.75%,#b0ff00 7.06%,#7fff00 7.27%,#20ff00 7.78%,#06ff00 7.99%,#00ff15 8.19%,#00ff5f 8.60%,#00ff94 9.84%,#00ffcc 10.35%,#00fff4 10.66%,#00fffe 12.52%,#00ffb4 12.93%,#00ffb4 13.65%,#00ffde 13.85%,#00fff5 13.96%,#00feff 14.06%,#00e9ff 14.99%,#009fff 15.40%,#0094ff 18.48%,#00e9ff 18.90%,#00fffe 19.31%,#00fff4 19.51%,#00ff54 20.13%,#00ff35 21.37%,#00ff4f 21.47%,#00ffd4 21.78%,#00fffe 23.01%,#009aff 23.43%,#004bff 25.48%,#003dff 34.23%,#0048ff 34.64%,#005dff 34.95%,#00b6ff 35.67%,#00beff 35.88%,#00b6ff 36.08%,#008fff 36.39%,#0053ff 36.81%,#0039ff 37.11%,#002cff 37.53%,#002eff 49.46%,#003fff 52.35%,#0054ff 60.89%,#0084ff 66.76%,#00aeff 69.74%,#00e5ff 72.11%,#00ffff 72.83%,#00ffcb 73.86%,#00ff86 74.78%,#00ff45 75.40%,#00ff00 75.92%,#66ff00 76.53%,#f3ff00 77.25%,#fff700 77.36%,#ff8c00 77.97%,#ff5500 78.39%,#ff3300 78.80%,#ff2700 79.21%,#ff2b00 79.72%,#ff4300 80.14%,#ff7000 80.55%,#ffc000 81.06%,#fff600 81.37%,#f5ff00 81.47%,#86ff00 82.09%,#3bff00 82.61%,#02ff00 83.12%,#00ff43 84.05%,#00ffab 85.90%,#00fdff 87.13%,#00b2ff 88.27%,#008eff 89.09%,#0075ff 90.22%,#006aff 92.07%,#005dff 99.18%,#0053ff 100.00%)"></div><div style="top:232.4px;height:0.8px;background:linear-gradient(90deg,#ffff00 0.16%,#ffeb00 0.99%,#ff9d00 1.40%,#ff8800 1.91%,#ff7500 3.46%,#ff3500 3.77%,#ff1800 4.28%,#ff2100 5.62%,#ff2b00 5.72%,#ffdb00 6.55%,#fbff00 6.75%,#b0ff00 7.06%,#7fff00 7.27%,#20ff00 7.78%,#06ff00 7.99%,#00ff15 8.19%,#00ff5f 8.60%,#00ff94 9.84%,#00ffcc 10.35%,#00fff4 10.66%,#00fffe 12.52%,#00ffb4 12.93%,#00ffb4 13.65%,#00ffde 13.85%,#00fff5 13.96%,#00feff 14.06%,#00e9ff 14.99%,#009fff 15.40%,#0094ff 18.48%,#00e9ff 18.90%,#00fffe 19.31%,#00fff4 19.51%,#00ff54 20.13%,#00ff35 21.37%,#00ff4f 21.47%,#00ffd4 21.78%,#00fffe 23.01%,#009aff 23.43%,#004bff 25.48%,#003dff 34.23%,#0048ff 34.64%,#005dff 34.95%,#00b6ff 35.67%,#00bfff 35.88%,#00b6ff 36.08%,#008fff 36.39%,#0053ff 36.81%,#0039ff 37.11%,#002cff 37.53%,#002eff 49.46%,#003fff 52.35%,#0054ff 60.89%,#0084ff 66.76%,#00aeff 69.74%,#00e6ff 72.11%,#00fffe 72.83%,#00ffcb 73.86%,#00ff85 74.78%,#00ff45 75.40%,#00ff00 75.92%,#67ff00 76.53%,#f4ff00 77.25%,#fff600 77.36%,#ff8b00 77.97%,#ff5500 78.39%,#ff3300 78.80%,#ff2700 79.21%,#ff2b00 79.72%,#ff4300 80.14%,#ff7000 80.55%,#ffc000 81.06%,#fff600 81.37%,#f5ff00 81.47%,#86ff00 82.09%,#3bff00 82.61%,#02ff00 83.12%,#00ff43 84.05%,#00ffab 85.90%,#00fdff 87.13%,#00b2ff 88.27%,#008eff 89.09%,#0075ff 90.22%,#006aff 92.07%,#005dff 99.18%,#0053ff 100.00%)"></div></div>
<div class="fld" style="left:389.60px;top:5.1px;width:243.10px;height:232.7px"><div style="top:0.0px;height:2.9px;background:linear-gradient(90deg,#ff9100 0.16%,#ff7400 0.47%,#ff6000 1.40%,#ff7d00 2.33%,#ff8600 3.46%,#ff6a00 3.87%,#ff8000 4.28%,#ffda00 4.59%,#ffff00 4.80%,#eaff00 4.90%,#6bff00 5.31%,#18ff00 5.72%,#00ff02 8.09%,#00ff09 8.71%,#00ff0e 8.81%,#00ffc9 9.12%,#00ffd2 9.22%,#00ffec 10.25%,#00ffa8 10.66%,#00ff9c 12.52%,#00ff86 13.34%,#00ffb4 15.81%,#00fffd 16.53%,#00f7ff 16.63%,#00edff 18.28%,#00feff 18.38%,#00ffd2 18.69%,#00ff35 19.41%,#00ff20 20.96%,#00ff45 21.06%,#00ffa8 21.26%,#00ffd3 21.37%,#00ffff 21.78%,#00eaff 21.98%,#00ecff 24.35%,#00fffb 25.28%,#00fff5 25.79%,#00fdff 26.31%,#00eaff 27.13%,#00ecff 28.37%,#00fffd 29.39%,#00fff1 30.22%,#00feff 31.14%,#00e9ff 32.17%,#00e1ff 34.34%,#00b2ff 34.95%,#0094ff 38.55%,#0086ff 40.00%,#009dff 41.13%,#0092ff 41.64%,#006fff 42.47%,#0062ff 43.70%,#0059ff 46.48%,#005aff 54.61%,#0085ff 57.80%,#00ccff 59.35%,#00fcff 60.07%,#00ffde 60.68%,#00ff72 68.30%,#00ff2d 71.08%,#02ff00 72.52%,#35ff00 74.37%,#73ff00 75.81%,#e3ff00 77.97%,#fcff00 78.80%,#fffe00 79.93%,#f0ff00 80.65%,#c2ff00 81.68%,#50ff00 83.84%,#16ff00 85.38%,#00ff02 86.31%,#00ff55 90.33%,#00ffb8 95.16%,#00ffec 98.15%,#00fdff 98.66%,#00c8ff 99.90%,#00c7ff 100.00%)"></div><div style="top:2.4px;height:2.5px;background:linear-gradient(90deg,#ff8f00 0.16%,#ff7200 0.47%,#ff5e00 1.40%,#ff7800 2.33%,#ff8000 3.46%,#ff6600 3.87%,#ff8100 4.28%,#ffd800 4.59%,#fffd00 4.80%,#ecff00 4.90%,#6eff00 5.31%,#1cff00 5.72%,#04ff00 7.58%,#00ff09 8.71%,#00ff0e 8.81%,#00ffc4 9.12%,#00ffca 9.22%,#00ffc9 9.53%,#00ffe1 10.25%,#00ffa6 10.66%,#00ff9b 12.41%,#00ff8a 12.82%,#00ff7e 13.34%,#00ff95 14.06%,#00ffb2 15.81%,#00fff9 16.53%,#00fbff 16.63%,#00f1ff 17.76%,#00f0ff 18.28%,#00ffff 18.38%,#00ffd4 18.69%,#00ff35 19.41%,#00ff21 20.96%,#00ff46 21.06%,#00ffa5 21.26%,#00ffce 21.37%,#00fffd 21.78%,#00ecff 21.98%,#00ebff 24.35%,#00fffd 25.28%,#00fff4 25.79%,#00fcff 26.41%,#00eaff 27.13%,#00ebff 28.37%,#00fffc 29.50%,#00fff0 30.22%,#00fff9 30.94%,#00f9ff 31.35%,#00e7ff 32.38%,#00ddff 34.34%,#00b1ff 34.95%,#0093ff 38.55%,#0087ff 39.89%,#009eff 41.03%,#0092ff 41.54%,#006fff 42.36%,#0063ff 43.60%,#0059ff 46.58%,#005bff 54.10%,#0069ff 55.64%,#0088ff 57.80%,#00d3ff 59.45%,#00fffe 60.17%,#00ffe2 60.68%,#00ff73 68.40%,#00ff2d 71.18%,#02ff00 72.62%,#34ff00 74.37%,#74ff00 75.81%,#e8ff00 77.97%,#fffe00 78.69%,#fff600 79.62%,#fdff00 80.44%,#d8ff00 81.37%,#52ff00 83.84%,#19ff00 85.28%,#00ff01 86.21%,#00ff56 90.22%,#00ffb9 95.16%,#00ffe7 97.84%,#00feff 98.56%,#00c7ff 99.90%,#00c7ff 100.00%)"></div><div style="top:4.4px;height:2.5px;background:linear-gradient(90deg,#ff8c00 0.16%,#ff7000 0.47%,#ff5b00 1.40%,#ff7300 2.33%,#ff7a00 3.46%,#ff6300 3.87%,#ff8100 4.28%,#ffd500 4.59%,#fffb00 4.80%,#edff00 4.90%,#71ff00 5.31%,#21ff00 5.72%,#16ff00 6.13%,#00ff03 8.19%,#00ff09 8.71%,#00ff0e 8.81%,#00ffbf 9.12%,#00ffc2 9.22%,#00ffb8 9.43%,#00ffc9 10.05%,#00ffd5 10.25%,#00ffb2 10.56%,#00ffa5 10.66%,#00ff9d 12.31%,#00ff83 12.72%,#00ff79 13.44%,#00ff90 13.85%,#00ffaf 15.81%,#00ffdd 16.32%,#00ffff 16.63%,#00f7ff 17.04%,#00f3ff 18.28%,#00fffe 18.38%,#00ffd7 18.69%,#00ff35 19.41%,#00ff22 20.96%,#00ff46 21.06%,#00ffa1 21.26%,#00ffca 21.37%,#00fff1 21.68%,#00fffb 21.78%,#00eeff 21.98%,#00e9ff 22.60%,#00ecff 24.56%,#00fffc 25.38%,#00fff4 25.90%,#00fbff 26.51%,#00eaff 27.23%,#00ebff 28.47%,#00fffd 29.50%,#00ffef 30.32%,#00fffd 31.14%,#00e8ff 32.28%,#00daff 34.34%,#00b1ff 34.95%,#0091ff 38.66%,#0088ff 39.79%,#009fff 40.92%,#0092ff 41.44%,#0070ff 42.26%,#0063ff 43.60%,#0058ff 46.79%,#0059ff 51.52%,#0061ff 54.71%,#0087ff 57.70%,#00d3ff 59.45%,#00feff 60.17%,#00ffe5 60.68%,#00ff73 68.51%,#00ff2d 71.28%,#01ff00 72.73%,#37ff00 74.48%,#7aff00 75.92%,#edff00 77.97%,#fffd00 78.49%,#fff000 79.31%,#fff600 80.24%,#fdff00 80.65%,#cdff00 81.68%,#54ff00 83.84%,#19ff00 85.28%,#00ff01 86.21%,#00ff58 90.22%,#00ffb9 95.16%,#00ffe2 97.53%,#00ffff 98.46%,#00c6ff 100.00%)"></div><div style="top:6.4px;height:2.5px;background:linear-gradient(90deg,#ff8a00 0.16%,#ff6f00 0.47%,#ff5900 1.40%,#ff6e00 2.33%,#ff7400 3.46%,#ff6000 3.87%,#ff8200 4.28%,#ffd300 4.59%,#fff900 4.80%,#efff00 4.90%,#74ff00 5.31%,#25ff00 5.72%,#19ff00 6.03%,#00ff03 8.30%,#00ff09 8.71%,#00ff0e 8.81%,#00ffb9 9.12%,#00ffb9 9.22%,#00ffaa 9.43%,#00ffba 10.05%,#00ffc9 10.25%,#00ffbc 10.46%,#00ffa3 10.66%,#00ff9c 12.31%,#00ff7b 12.72%,#00ff71 13.44%,#00ff90 13.85%,#00ffad 15.81%,#00ffcd 16.22%,#00fffa 16.63%,#00faff 16.84%,#00f5ff 18.28%,#00fffd 18.38%,#00ffda 18.69%,#00ff35 19.41%,#00ff24 20.96%,#00ff47 21.06%,#00ff9e 21.26%,#00ffc5 21.37%,#00ffe4 21.57%,#00fff9 21.78%,#00f0ff 21.98%,#00e9ff 22.29%,#00ecff 24.66%,#00fffe 25.38%,#00fff4 25.90%,#00fdff 26.51%,#00eaff 27.23%,#00e9ff 28.37%,#00faff 29.29%,#00fff5 29.81%,#00ffee 30.42%,#00fdff 31.35%,#00e8ff 32.28%,#00d7ff 34.34%,#00b1ff 34.95%,#008fff 38.76%,#008aff 39.79%,#00a0ff 40.82%,#0096ff 41.23%,#0070ff 42.16%,#0064ff 43.50%,#0058ff 46.99%,#0058ff 50.80%,#0064ff 54.82%,#0087ff 57.49%,#009aff 58.11%,#00d3ff 59.45%,#00fffd 60.27%,#00ffe9 60.68%,#00ff76 68.51%,#00ff33 71.18%,#01ff00 72.83%,#3bff00 74.58%,#7bff00 75.92%,#f2ff00 77.97%,#ffff00 78.28%,#ffec00 79.11%,#ffed00 80.03%,#ffff00 80.75%,#ccff00 81.78%,#56ff00 83.84%,#19ff00 85.28%,#00ff02 86.21%,#00ff59 90.12%,#00ffb9 95.06%,#00ffe0 97.43%,#00fcff 98.46%,#00c6ff 100.00%)"></div><div style="top:8.4px;height:2.5px;background:linear-gradient(90deg,#ff8700 0.16%,#ff6d00 0.47%,#ff5600 1.40%,#ff6900 2.43%,#ff6e00 3.46%,#ff5c00 3.87%,#ff8200 4.28%,#ffd100 4.59%,#fff700 4.80%,#f1ff00 4.90%,#77ff00 5.31%,#2aff00 5.72%,#1dff00 5.93%,#00ff03 8.30%,#00ff0e 8.81%,#00ffb4 9.12%,#00ffb1 9.22%,#00ff9b 9.43%,#00ffab 10.05%,#00ffbe 10.25%,#00ffb7 10.46%,#00ffa1 10.66%,#00ff9b 12.31%,#00ff72 12.72%,#00ff6a 13.44%,#00ff7b 13.65%,#00ff8f 13.85%,#00ffab 15.81%,#00ffc7 16.22%,#00fff6 16.63%,#00fcff 16.84%,#00f8ff 18.28%,#00fffc 18.38%,#00ffdc 18.69%,#00ff35 19.41%,#00ff25 20.96%,#00ff47 21.06%,#00ffc0 21.37%,#00ffe2 21.57%,#00fcff 21.88%,#00edff 22.09%,#00e9ff 22.70%,#00ebff 24.66%,#00fffd 25.48%,#00fff4 26.00%,#00fcff 26.62%,#00eaff 27.34%,#00e9ff 28.47%,#00fcff 29.39%,#00ffed 30.42%,#00fff9 31.14%,#00f8ff 31.56%,#00e6ff 32.48%,#00d4ff 34.34%,#00b1ff 34.95%,#008aff 39.58%,#00a0ff 40.72%,#0097ff 41.13%,#0073ff 41.95%,#0067ff 42.98%,#0058ff 47.10%,#0056ff 50.39%,#0067ff 54.82%,#0087ff 57.39%,#0098ff 58.01%,#00d3ff 59.45%,#00feff 60.27%,#00ffeb 60.79%,#00ff76 68.61%,#00ff33 71.28%,#02ff00 72.93%,#3eff00 74.68%,#82ff00 76.02%,#f7ff00 77.97%,#fff900 78.28%,#ffe600 79.11%,#ffe700 80.03%,#fdff00 80.96%,#b1ff00 82.30%,#52ff00 83.94%,#16ff00 85.38%,#00ff00 86.11%,#00ff5a 90.02%,#00ffb8 94.96%,#00ffdd 97.32%,#00fdff 98.35%,#00c6ff 100.00%)"></div><div style="top:10.4px;height:2.5px;background:linear-gradient(90deg,#ff8500 0.16%,#ff6b00 0.47%,#ff5500 1.30%,#ff6400 2.53%,#ff6800 3.46%,#ff5900 3.87%,#ff8300 4.28%,#ffce00 4.59%,#fff500 4.80%,#f2ff00 4.90%,#79ff00 5.31%,#2eff00 5.72%,#1fff00 5.93%,#00ff03 8.30%,#00ff0e 8.81%,#00ffaf 9.12%,#00ffa9 9.22%,#00ff8d 9.43%,#00ff9c 10.05%,#00ffb2 10.25%,#00ffb2 10.46%,#00ff9f 10.66%,#00ff9a 12.31%,#00ff76 12.62%,#00ff69 12.72%,#00ff62 13.44%,#00ff69 13.54%,#00ff8e 13.85%,#00ffa9 15.81%,#00ffc2 16.22%,#00fff2 16.63%,#00ffff 16.84%,#00fbff 18.28%,#00ffea 18.59%,#00ffdf 18.69%,#00ff35 19.41%,#00ff26 20.96%,#00ff48 21.06%,#00ffbc 21.37%,#00ffe0 21.57%,#00feff 21.88%,#00eeff 22.09%,#00e9ff 22.40%,#00ecff 24.76%,#00fffc 25.59%,#00fff3 26.10%,#00ffff 26.62%,#00eaff 27.34%,#00e8ff 28.47%,#00faff 29.39%,#00fff4 29.91%,#00ffec 30.53%,#00fffb 31.25%,#00f0ff 31.86%,#00e3ff 32.89%,#00d0ff 34.34%,#00b1ff 34.95%,#008bff 39.48%,#00a1ff 40.61%,#0097ff 41.03%,#0074ff 41.85%,#0067ff 42.88%,#0057ff 47.51%,#0055ff 50.19%,#006bff 54.92%,#0087ff 57.29%,#009aff 58.01%,#00d8ff 59.55%,#00fffd 60.37%,#00ffec 60.89%,#00ff79 68.61%,#00ff3a 71.18%,#02ff00 73.03%,#3dff00 74.68%,#83ff00 76.02%,#fcff00 77.97%,#ffe300 78.90%,#ffdf00 79.83%,#fff000 80.65%,#fdff00 81.06%,#54ff00 83.94%,#15ff00 85.38%,#00ff01 86.11%,#00ff5c 90.02%,#00ffb7 94.85%,#00ffde 97.32%,#00fdff 98.25%,#00c6ff 100.00%)"></div><div style="top:12.4px;height:2.5px;background:linear-gradient(90deg,#ff8200 0.16%,#ff6a00 0.47%,#ff5200 1.30%,#ff6000 2.63%,#ff6200 3.46%,#ff5600 3.87%,#ff8300 4.28%,#ffcc00 4.59%,#fff300 4.80%,#f4ff00 4.90%,#7cff00 5.31%,#32ff00 5.72%,#21ff00 5.93%,#00ff02 8.30%,#00ff0e 8.81%,#00ffaa 9.12%,#00ffa1 9.22%,#00ff7e 9.43%,#00ff8d 10.05%,#00ffa7 10.25%,#00ffad 10.46%,#00ff9d 10.66%,#00ff99 12.31%,#00ff7f 12.52%,#00ff61 12.72%,#00ff5b 13.44%,#00ff63 13.54%,#00ff8e 13.85%,#00ffa7 15.81%,#00ffbc 16.22%,#00ffee 16.63%,#00fffe 16.84%,#00fdff 18.28%,#00ffe2 18.69%,#00ff35 19.41%,#00ff28 20.96%,#00ff6e 21.16%,#00ffb7 21.37%,#00ffdf 21.57%,#00ffff 21.88%,#00e9ff 22.19%,#00ebff 24.76%,#00fffe 25.59%,#00fff3 26.10%,#00feff 26.72%,#00eaff 27.44%,#00e8ff 28.57%,#00fcff 29.50%,#00ffeb 30.42%,#00fff2 31.04%,#00fbff 31.56%,#00e6ff 32.48%,#00d9ff 33.61%,#00cdff 34.34%,#00b0ff 34.95%,#008bff 39.28%,#0098ff 40.00%,#00a2ff 40.51%,#0098ff 40.92%,#0074ff 41.75%,#0068ff 42.77%,#0055ff 48.13%,#0055ff 50.19%,#006eff 55.02%,#0087ff 57.18%,#00a1ff 58.11%,#00dcff 59.65%,#00fffc 60.48%,#00ffea 61.20%,#00ff7c 68.61%,#00ff3d 71.18%,#03ff00 73.14%,#3cff00 74.68%,#84ff00 76.02%,#fcff00 77.87%,#ffdd00 78.90%,#ffd900 79.83%,#ffea00 80.65%,#feff00 81.17%,#5aff00 83.84%,#19ff00 85.28%,#00ff02 86.11%,#00ff5d 89.91%,#00ffb5 94.65%,#00ffdf 97.32%,#00fffe 98.04%,#00c6ff 100.00%)"></div><div style="top:14.4px;height:2.5px;background:linear-gradient(90deg,#ff8000 0.16%,#ff6800 0.47%,#ff4f00 1.30%,#ff5b00 2.84%,#ff5a00 3.56%,#ff5200 3.87%,#ff8400 4.28%,#ffdd00 4.69%,#fff000 4.80%,#f6ff00 4.90%,#7fff00 5.31%,#37ff00 5.72%,#23ff00 5.93%,#00ff02 8.30%,#00ff0d 8.81%,#00ffa4 9.12%,#00ff98 9.22%,#00ff70 9.43%,#00ff7e 10.05%,#00ff9b 10.25%,#00ffa8 10.46%,#00ff9c 10.66%,#00ff98 12.31%,#00ff7b 12.52%,#00ff58 12.72%,#00ff53 13.44%,#00ff5d 13.54%,#00ff80 13.75%,#00ff8d 13.85%,#00ffa4 15.81%,#00ffb7 16.22%,#00fff3 16.74%,#00fffc 16.84%,#00fffe 18.28%,#00ffe4 18.69%,#00ff35 19.41%,#00ff29 20.96%,#00ffb3 21.37%,#00ffdd 21.57%,#00fffd 21.88%,#00e9ff 22.19%,#00ebff 24.87%,#00fffd 25.69%,#00fff3 26.20%,#00fcff 26.82%,#00e9ff 27.54%,#00e8ff 28.67%,#00faff 29.50%,#00fff6 29.91%,#00ffea 30.53%,#00fff3 31.14%,#00fdff 31.56%,#00e7ff 32.38%,#00d9ff 33.51%,#00c5ff 34.44%,#00b0ff 34.95%,#008cff 39.17%,#0099ff 39.89%,#00a2ff 40.41%,#0099ff 40.82%,#0074ff 41.64%,#0068ff 42.67%,#0052ff 49.46%,#0072ff 55.13%,#0089ff 57.18%,#00a6ff 58.21%,#00e4ff 59.86%,#00ffff 60.48%,#00ffeb 61.40%,#00ff7d 68.71%,#00ff40 71.18%,#00ff00 73.14%,#3bff00 74.68%,#7eff00 75.92%,#fbff00 77.77%,#fff300 78.08%,#ffd700 78.90%,#ffd300 79.83%,#ffe500 80.65%,#feff00 81.27%,#61ff00 83.74%,#1dff00 85.18%,#00ff00 86.00%,#00ff5e 89.81%,#00ffb1 94.34%,#00ffdf 97.32%,#00fcff 98.04%,#00c6ff 100.00%)"></div><div style="top:16.4px;height:2.5px;background:linear-gradient(90deg,#ff7d00 0.16%,#ff6600 0.47%,#ff4d00 1.30%,#ff5600 3.36%,#ff4f00 3.87%,#ff8400 4.28%,#ffdb00 4.69%,#ffee00 4.80%,#f8ff00 4.90%,#82ff00 5.31%,#3bff00 5.72%,#25ff00 5.93%,#00ff02 8.30%,#00ff0d 8.81%,#00ff9f 9.12%,#00ff90 9.22%,#00ff62 9.43%,#00ff6f 10.05%,#00ff90 10.25%,#00ffa3 10.46%,#00ff9a 10.66%,#00ff97 12.31%,#00ff76 12.52%,#00ff4f 12.72%,#00ff4c 13.44%,#00ff56 13.54%,#00ff7e 13.75%,#00ff8c 13.85%,#00ffa6 15.91%,#00ffb1 16.22%,#00fff0 16.74%,#00fffa 16.84%,#00fffb 18.28%,#00ffe7 18.69%,#00ff35 19.41%,#00ff28 20.85%,#00ff2a 20.96%,#00ffae 21.37%,#00ffdb 21.57%,#00fffb 21.88%,#00e9ff 22.19%,#00ebff 24.97%,#00fffc 25.79%,#00fff3 26.31%,#00ffff 26.82%,#00eaff 27.54%,#00e7ff 28.57%,#00f5ff 29.39%,#00fffb 29.81%,#00ffe9 30.53%,#00fff1 31.14%,#00ffff 31.56%,#00e7ff 32.38%,#00daff 33.41%,#00c2ff 34.44%,#00b0ff 34.95%,#008cff 39.07%,#0099ff 39.79%,#00a3ff 40.30%,#0099ff 40.72%,#0075ff 41.54%,#0069ff 42.57%,#0051ff 49.67%,#0077ff 55.43%,#0089ff 57.08%,#00b3ff 58.52%,#00ffff 60.58%,#00ffe8 61.82%,#00ff7d 68.81%,#00ff41 71.28%,#02ff00 73.24%,#39ff00 74.68%,#7fff00 75.92%,#ffff00 77.77%,#ffda00 78.59%,#ffcd00 79.31%,#ffd100 80.14%,#ffec00 80.96%,#fdff00 81.37%,#63ff00 83.74%,#1cff00 85.18%,#00ff01 86.00%,#00ff5e 89.71%,#00ffa8 93.72%,#00ffe0 97.32%,#00feff 97.94%,#00dfff 98.97%,#00c6ff 100.00%)"></div><div style="top:18.4px;height:2.5px;background:linear-gradient(90deg,#ff7b00 0.16%,#ff6100 0.58%,#ff4a00 1.30%,#ff4f00 3.56%,#ff4c00 3.87%,#ff8500 4.28%,#ffec00 4.80%,#f9ff00 4.90%,#84ff00 5.31%,#3fff00 5.72%,#27ff00 5.93%,#00ff03 8.40%,#00ff0d 8.81%,#00ff9a 9.12%,#00ff88 9.22%,#00ff53 9.43%,#00ff60 10.05%,#00ff92 10.35%,#00ff9e 10.46%,#00ff98 10.77%,#00ff96 12.31%,#00ff87 12.41%,#00ff47 12.72%,#00ff44 13.44%,#00ff50 13.54%,#00ff7c 13.75%,#00ff8b 13.85%,#00ffa5 16.01%,#00ffac 16.22%,#00ffee 16.74%,#00fff8 16.84%,#00fff9 18.28%,#00ffea 18.69%,#00ff35 19.41%,#00ff28 20.85%,#00ff2c 20.96%,#00ffa9 21.37%,#00ffd9 21.57%,#00fff9 21.88%,#00f1ff 22.09%,#00e9ff 22.19%,#00eaff 24.97%,#00fffe 25.79%,#00fff3 26.31%,#00feff 26.92%,#00e9ff 27.65%,#00e7ff 28.67%,#00f6ff 29.50%,#00fff9 29.91%,#00ffe8 30.63%,#00fff2 31.25%,#00fdff 31.66%,#00e6ff 32.48%,#00dbff 33.31%,#00bbff 34.54%,#00aeff 35.16%,#008dff 38.97%,#009aff 39.69%,#00a3ff 40.20%,#0095ff 40.72%,#0075ff 41.44%,#0069ff 42.57%,#0051ff 49.77%,#007fff 56.05%,#008bff 57.08%,#00cfff 59.35%,#00ffff 60.68%,#00ffaa 66.24%,#00ff74 69.43%,#00ff34 71.80%,#00ff01 73.24%,#38ff00 74.68%,#7fff00 75.92%,#fdff00 77.67%,#ffd400 78.59%,#ffc700 79.31%,#ffcb00 80.14%,#ffe200 80.86%,#fffd00 81.37%,#adff00 82.61%,#53ff00 84.05%,#14ff00 85.38%,#00ff02 86.00%,#00ff61 89.71%,#00ffa3 93.31%,#00ffdc 97.22%,#00fffe 97.84%,#00eeff 98.25%,#00c6ff 100.00%)"></div><div style="top:20.4px;height:2.5px;background:linear-gradient(90deg,#ff7800 0.16%,#ff5f00 0.58%,#ff4700 1.19%,#ff4800 3.87%,#ff9800 4.38%,#ffea00 4.80%,#fbff00 4.90%,#87ff00 5.31%,#54ff00 5.62%,#29ff00 5.93%,#00ff03 8.40%,#00ff0d 8.81%,#00ff94 9.12%,#00ff80 9.22%,#00ff45 9.43%,#00ff51 10.05%,#00ff9a 10.46%,#00ff95 12.31%,#00ff84 12.41%,#00ff3e 12.72%,#00ff3d 13.44%,#00ff49 13.54%,#00ff7a 13.75%,#00ff8b 13.85%,#00ffa3 16.12%,#00ffa7 16.22%,#00fff6 16.84%,#00fff3 18.48%,#00ffed 18.69%,#00ff35 19.41%,#00ff29 20.85%,#00ff2d 20.96%,#00ffc0 21.47%,#00ffd7 21.57%,#00fcff 21.98%,#00e9ff 22.19%,#00eaff 25.07%,#00fffd 25.90%,#00fff2 26.41%,#00fdff 27.03%,#00e8ff 27.75%,#00e6ff 28.78%,#00f7ff 29.60%,#00fffb 29.91%,#00ffe8 30.63%,#00ffed 31.14%,#00ffff 31.66%,#00e6ff 32.48%,#00daff 33.31%,#00b0ff 34.95%,#008dff 38.86%,#009dff 39.69%,#00a3ff 40.20%,#0090ff 40.72%,#0073ff 41.44%,#0066ff 43.19%,#0051ff 49.77%,#008aff 56.98%,#00fffe 60.89%,#00ff7f 69.02%,#00ff42 71.49%,#01ff00 73.34%,#37ff00 74.68%,#78ff00 75.81%,#fffd00 77.67%,#ffd200 78.49%,#ffc200 79.21%,#ffc300 80.03%,#ffd800 80.75%,#fffe00 81.47%,#6bff00 83.64%,#25ff00 84.97%,#00ff00 85.90%,#00ff61 89.60%,#00ff9d 92.80%,#00ffdc 97.22%,#00fdff 97.84%,#00edff 98.15%,#00c5ff 100.00%)"></div><div style="top:22.4px;height:2.5px;background:linear-gradient(90deg,#ff7600 0.16%,#ff5d00 0.58%,#ff4500 1.19%,#ff4500 3.87%,#ff9700 4.38%,#fdff00 4.90%,#8aff00 5.31%,#67ff00 5.52%,#2bff00 5.93%,#00ff03 8.40%,#00ff0d 8.81%,#00ff8f 9.12%,#00ff77 9.22%,#00ff36 9.43%,#00ff43 10.05%,#00ff95 10.46%,#00ff94 12.31%,#00ff82 12.41%,#00ff35 12.72%,#00ff35 13.44%,#00ff43 13.54%,#00ff77 13.75%,#00ff8a 13.85%,#00ffa1 16.22%,#00fff4 16.84%,#00fff3 18.59%,#00ffef 18.69%,#00ff36 19.41%,#00ff2a 20.85%,#00ff2e 20.96%,#00ffd6 21.57%,#00feff 21.98%,#00e9ff 22.19%,#00e9ff 25.07%,#00fbff 25.79%,#00fff6 26.20%,#00fff5 26.72%,#00fbff 27.13%,#00e7ff 27.85%,#00e6ff 28.88%,#00f9ff 29.70%,#00fff5 30.12%,#00ffe6 30.73%,#00ffee 31.25%,#00fdff 31.76%,#00e5ff 32.59%,#00d9ff 33.31%,#00b0ff 34.85%,#008eff 38.76%,#009eff 39.58%,#00a3ff 40.10%,#008cff 40.72%,#0073ff 41.33%,#0067ff 43.19%,#0050ff 49.77%,#008fff 57.08%,#00fffe 60.99%,#00ff81 69.12%,#00ff45 71.49%,#00ff06 73.24%,#06ff00 73.55%,#3aff00 74.78%,#7fff00 75.92%,#feff00 77.56%,#ffcd00 78.49%,#ffbc00 79.21%,#ffbd00 80.03%,#ffd300 80.75%,#fdff00 81.58%,#73ff00 83.53%,#29ff00 84.87%,#00ff01 85.90%,#00ff62 89.50%,#00ff9a 92.49%,#00ffdc 97.22%,#00fffd 97.74%,#00e9ff 98.15%,#00c5ff 100.00%)"></div><div style="top:24.4px;height:2.5px;background:linear-gradient(90deg,#ff7400 0.16%,#ff5a00 0.58%,#ff4100 1.19%,#ff4100 3.87%,#ffa000 4.49%,#ffe000 4.80%,#fff900 4.90%,#ccff00 5.10%,#93ff00 5.31%,#5eff00 5.62%,#30ff00 5.93%,#00ff00 8.19%,#00ff0e 8.81%,#00ff89 9.12%,#00ff75 9.22%,#00ff3a 9.43%,#00ff46 10.05%,#00ff93 10.46%,#00ff94 12.31%,#00ff83 12.41%,#00ff3c 12.72%,#00ff39 13.24%,#00ff34 13.44%,#00ff41 13.54%,#00ff72 13.75%,#00ff83 13.85%,#00ff8b 14.47%,#00ff95 15.09%,#00ffa1 16.22%,#00fff4 16.84%,#00fff6 18.59%,#00fff3 18.69%,#00ff8e 19.10%,#00ff39 19.41%,#00ff33 19.72%,#00ff2a 20.85%,#00ff2e 20.96%,#00ffb7 21.47%,#00ffcf 21.57%,#00feff 22.09%,#00f5ff 22.19%,#00efff 23.01%,#00e9ff 24.76%,#00f2ff 25.59%,#00fffd 26.00%,#00fff2 26.51%,#00feff 27.13%,#00e7ff 27.85%,#00e5ff 28.88%,#00f3ff 29.60%,#00fffc 30.01%,#00ffe7 30.73%,#00ffee 31.25%,#00fcff 31.76%,#00e0ff 32.59%,#00d3ff 33.31%,#00adff 34.85%,#008dff 38.66%,#009dff 39.48%,#00a2ff 40.00%,#008bff 40.61%,#0071ff 41.33%,#0052ff 48.33%,#0051ff 49.88%,#008cff 57.08%,#00feff 61.30%,#00ff83 69.23%,#00ff47 71.59%,#00ff0b 73.24%,#01ff00 73.55%,#37ff00 74.78%,#7fff00 75.92%,#fbff00 77.46%,#ffee00 77.77%,#ffc600 78.49%,#ffb400 79.21%,#ffb600 80.03%,#ffcc00 80.75%,#fffc00 81.58%,#d3ff00 82.19%,#6cff00 83.64%,#22ff00 84.97%,#00ff01 85.80%,#00ff57 88.78%,#00ff92 91.66%,#00ffe1 97.22%,#00feff 97.74%,#00e7ff 98.15%,#00c3ff 100.00%)"></div><div style="top:26.4px;height:2.5px;background:linear-gradient(90deg,#ff7200 0.16%,#ff5700 0.58%,#ff3e00 1.19%,#ff3e00 3.87%,#ff9400 4.49%,#fff100 4.90%,#f2ff00 5.00%,#9dff00 5.31%,#65ff00 5.62%,#37ff00 5.93%,#08ff00 7.68%,#00ff04 8.40%,#00ff0e 8.81%,#00ff83 9.12%,#00ff73 9.22%,#00ff41 9.43%,#00ff4c 10.05%,#00ff92 10.46%,#00ff95 12.31%,#00ff85 12.41%,#00ff45 12.72%,#00ff45 13.13%,#00ff35 13.44%,#00ff40 13.54%,#00ff6c 13.75%,#00ff7c 13.85%,#00ff80 14.37%,#00ff92 14.68%,#00ffa2 16.22%,#00ffd8 16.63%,#00fff4 16.84%,#00fff9 18.59%,#00fff6 18.69%,#00ffb4 19.00%,#00ff3d 19.41%,#00ff35 19.51%,#00ff2b 20.85%,#00ff2e 20.96%,#00ff7a 21.26%,#00ffb2 21.47%,#00ffc8 21.57%,#00fffc 22.19%,#00fcff 22.91%,#00efff 23.32%,#00ecff 25.28%,#00ffff 26.00%,#00fff1 26.62%,#00fdff 27.23%,#00e6ff 27.95%,#00e3ff 28.98%,#00f3ff 29.70%,#00fffb 30.12%,#00ffe9 30.73%,#00ffee 31.25%,#00fffe 31.66%,#00deff 32.48%,#00bbff 34.03%,#00a8ff 34.95%,#008cff 38.55%,#009cff 39.38%,#00a1ff 39.89%,#008aff 40.51%,#0070ff 41.23%,#005dff 45.24%,#0050ff 49.77%,#008aff 57.08%,#00f7ff 61.30%,#00fffa 62.12%,#00ff82 69.43%,#00ff46 71.80%,#00ff00 73.65%,#33ff00 74.78%,#76ff00 75.81%,#ffff00 77.46%,#ffc900 78.28%,#ffb000 79.00%,#ffac00 79.83%,#ffbc00 80.55%,#ffe900 81.37%,#ffff00 81.68%,#78ff00 83.43%,#29ff00 84.77%,#00ff01 85.69%,#00ff31 87.24%,#00ff71 89.60%,#00ffa4 92.49%,#00ffe6 97.22%,#00fffd 97.63%,#00e5ff 98.15%,#00c1ff 100.00%)"></div><div style="top:28.4px;height:2.5px;background:linear-gradient(90deg,#ff7000 0.16%,#ff5400 0.58%,#ff3a00 1.19%,#ff3a00 3.87%,#ff8700 4.49%,#fbff00 5.00%,#a7ff00 5.31%,#59ff00 5.72%,#3dff00 5.93%,#09ff00 7.58%,#00ff04 8.30%,#00ff0f 8.81%,#00ff56 9.02%,#00ff7d 9.12%,#00ff71 9.22%,#00ff47 9.43%,#00ff52 10.05%,#00ff91 10.46%,#00ff95 12.31%,#00ff87 12.41%,#00ff4e 12.72%,#00ff4e 13.13%,#00ff35 13.44%,#00ff3f 13.54%,#00ff67 13.75%,#00ff75 13.85%,#00ff79 14.37%,#00ff92 14.68%,#00ffa2 16.22%,#00ffc8 16.53%,#00fff4 16.84%,#00fffa 18.69%,#00ffbf 19.00%,#00ff42 19.41%,#00ff36 19.51%,#00ff2b 20.85%,#00ff2e 20.96%,#00ff59 21.16%,#00ffad 21.47%,#00ffc0 21.57%,#00fff0 22.19%,#00fff3 22.81%,#00ffff 23.01%,#00f4ff 23.22%,#00ecff 25.17%,#00f9ff 25.90%,#00fff7 26.31%,#00fff2 26.82%,#00ffff 27.23%,#00e6ff 27.95%,#00e1ff 28.88%,#00ecff 29.60%,#00fffe 30.12%,#00ffea 30.73%,#00ffee 31.25%,#00ffff 31.66%,#00daff 32.48%,#00a5ff 34.85%,#008aff 38.45%,#00a0ff 39.69%,#0093ff 40.20%,#0072ff 41.03%,#0068ff 42.05%,#004fff 49.77%,#0087ff 57.08%,#00f2ff 61.40%,#00fffb 62.43%,#00ffba 66.34%,#00ff80 69.74%,#00ff48 71.90%,#03ff00 73.86%,#3bff00 74.99%,#84ff00 76.02%,#faff00 77.36%,#fff300 77.56%,#ffc200 78.28%,#ffaa00 78.90%,#ffa400 79.72%,#ffb100 80.44%,#ffd600 81.17%,#fffb00 81.68%,#f2ff00 81.89%,#77ff00 83.43%,#2bff00 84.66%,#00ff01 85.59%,#00ff35 87.13%,#00ff75 89.50%,#00ffa8 92.38%,#00ffeb 97.22%,#00fdff 97.63%,#00e3ff 98.15%,#00bfff 100.00%)"></div><div style="top:30.4px;height:2.5px;background:linear-gradient(90deg,#ff6f00 0.16%,#ff5200 0.58%,#ff3a00 1.09%,#ff3600 3.87%,#ff7b00 4.49%,#fffa00 5.00%,#cdff00 5.21%,#9aff00 5.41%,#5fff00 5.72%,#43ff00 5.93%,#09ff00 7.47%,#00ff05 8.30%,#00ff0f 8.81%,#00ff2c 8.91%,#00ff77 9.12%,#00ff6f 9.22%,#00ff4e 9.43%,#00ff58 10.05%,#00ff90 10.46%,#00ff95 12.31%,#00ff78 12.52%,#00ff57 12.72%,#00ff57 13.13%,#00ff35 13.44%,#00ff3e 13.54%,#00ff61 13.75%,#00ff6d 13.85%,#00ff72 14.37%,#00ff92 14.68%,#00ffa3 16.22%,#00ffb7 16.43%,#00fff4 16.84%,#00fffd 18.69%,#00ffca 19.00%,#00ff46 19.41%,#00ff37 19.51%,#00ff2e 20.96%,#00ff54 21.16%,#00ffa7 21.47%,#00ffb9 21.57%,#00ffe4 22.19%,#00ffe7 22.81%,#00ffff 23.12%,#00f7ff 23.22%,#00ecff 24.97%,#00f5ff 25.79%,#00fffc 26.20%,#00fff1 26.72%,#00feff 27.34%,#00e4ff 28.06%,#00dfff 28.98%,#00ecff 29.70%,#00fffe 30.22%,#00ffeb 30.84%,#00fff1 31.35%,#00ffff 31.66%,#00d6ff 32.48%,#00a3ff 34.75%,#0089ff 38.35%,#009fff 39.58%,#0092ff 40.10%,#0072ff 40.92%,#0068ff 41.85%,#004fff 49.77%,#0084ff 57.08%,#00ebff 61.40%,#00fffc 62.74%,#00ffc3 66.04%,#00ff87 69.64%,#00ff4d 71.90%,#02ff00 73.96%,#37ff00 74.99%,#83ff00 76.02%,#feff00 77.36%,#ffc200 78.18%,#ffa600 78.80%,#ff9c00 79.52%,#ffa400 80.24%,#ffbe00 80.86%,#ffff00 81.78%,#7eff00 83.33%,#2dff00 84.56%,#00ff01 85.49%,#00ff38 87.03%,#00ff79 89.40%,#00ffa9 92.07%,#00ffe6 96.60%,#00fff4 97.32%,#00ffff 97.53%,#00e0ff 98.15%,#00bdff 100.00%)"></div><div style="top:32.4px;height:2.5px;background:linear-gradient(90deg,#ff6d00 0.16%,#ff4f00 0.58%,#ff3600 1.09%,#ff3200 3.87%,#ff6e00 4.49%,#fff100 5.00%,#f3ff00 5.10%,#a3ff00 5.41%,#64ff00 5.72%,#49ff00 5.93%,#08ff00 7.47%,#00ff04 8.19%,#00ff10 8.81%,#00ff29 8.91%,#00ff70 9.12%,#00ff65 9.32%,#00ff54 9.43%,#00ff5e 10.05%,#00ff8f 10.46%,#00ff96 12.31%,#00ff7c 12.52%,#00ff60 12.72%,#00ff60 13.13%,#00ff40 13.34%,#00ff35 13.44%,#00ff3c 13.54%,#00ff5b 13.75%,#00ff66 13.85%,#00ff6a 14.37%,#00ff93 14.68%,#00ffa3 16.22%,#00ffb6 16.43%,#00fff4 16.84%,#00fdff 18.69%,#00ffd5 19.00%,#00ff4a 19.41%,#00ff38 19.51%,#00ff2e 20.96%,#00ff4f 21.16%,#00ffa2 21.47%,#00ffb1 21.57%,#00ffd7 22.19%,#00ffdc 22.81%,#00fffa 23.12%,#00faff 23.32%,#00eeff 24.87%,#00f1ff 25.69%,#00fffe 26.20%,#00fff0 26.82%,#00fcff 27.44%,#00e3ff 28.16%,#00deff 29.09%,#00ecff 29.81%,#00fffd 30.32%,#00ffec 30.94%,#00fff5 31.45%,#00ffff 31.66%,#00ceff 32.59%,#00a6ff 34.34%,#0097ff 35.78%,#0087ff 38.25%,#009eff 39.48%,#0091ff 40.00%,#0072ff 40.82%,#0067ff 41.85%,#004fff 49.77%,#0083ff 57.18%,#00e6ff 61.51%,#00fffc 63.05%,#00ffca 65.83%,#00ff8b 69.64%,#00ff52 71.90%,#00ff08 73.86%,#06ff00 74.17%,#41ff00 75.20%,#8aff00 76.12%,#fffd00 77.36%,#ffbc00 78.18%,#ff9e00 78.80%,#ff9400 79.52%,#ff9c00 80.24%,#ffb700 80.86%,#fffc00 81.78%,#74ff00 83.43%,#24ff00 84.66%,#00ff01 85.38%,#00ff3b 86.93%,#00ff7b 89.19%,#00ffa7 91.56%,#00ffe5 96.29%,#00fff9 97.32%,#00fbff 97.53%,#00deff 98.15%,#00baff 100.00%)"></div><div style="top:34.4px;height:2.5px;background:linear-gradient(90deg,#ff6b00 0.16%,#ff4c00 0.58%,#ff3200 1.09%,#ff2f00 3.87%,#ff6200 4.49%,#ffcf00 4.90%,#fcff00 5.10%,#acff00 5.41%,#6aff00 5.72%,#4fff00 5.93%,#07ff00 7.47%,#00ff05 8.19%,#00ff10 8.81%,#00ff26 8.91%,#00ff6a 9.12%,#00ff68 9.32%,#00ff5b 9.43%,#00ff63 10.05%,#00ff8e 10.46%,#00ff96 12.31%,#00ff69 12.72%,#00ff68 13.13%,#00ff42 13.34%,#00ff35 13.44%,#00ff3b 13.54%,#00ff5f 13.85%,#00ff63 14.37%,#00ff86 14.57%,#00ff93 14.68%,#00ffa4 16.22%,#00ffb4 16.43%,#00fff4 16.84%,#00fcff 18.28%,#00f9ff 18.69%,#00ffec 18.90%,#00ffe0 19.00%,#00ff4e 19.41%,#00ff39 19.51%,#00ff2d 20.96%,#00ff4a 21.16%,#00ff9d 21.47%,#00ffaa 21.57%,#00ffcb 22.19%,#00ffd0 22.81%,#00ffff 23.22%,#00f1ff 24.56%,#00f1ff 25.69%,#00fffc 26.31%,#00fff0 26.82%,#00fffb 27.34%,#00f5ff 27.65%,#00dfff 28.37%,#00ddff 29.29%,#00f0ff 30.01%,#00fffc 30.42%,#00ffed 30.94%,#00fff2 31.35%,#00ffff 31.66%,#00caff 32.59%,#00acff 33.72%,#0098ff 35.16%,#0086ff 38.14%,#009cff 39.38%,#008fff 39.89%,#0071ff 40.72%,#0066ff 41.75%,#004fff 49.77%,#0080ff 57.18%,#00b6ff 59.65%,#00e3ff 61.71%,#00fffd 63.26%,#00ffd0 65.73%,#00ff90 69.64%,#00ff5b 71.80%,#00ff22 73.34%,#00ff00 74.17%,#3dff00 75.20%,#88ff00 76.12%,#faff00 77.25%,#fff000 77.46%,#ffb600 78.18%,#ff9700 78.80%,#ff8c00 79.52%,#ff9500 80.24%,#ffb100 80.86%,#fff000 81.68%,#fcff00 81.89%,#83ff00 83.22%,#32ff00 84.36%,#00ff01 85.28%,#00ff3a 86.72%,#00ff7b 88.88%,#00ffa5 91.05%,#00ffe8 96.19%,#00fffe 97.32%,#00dcff 98.15%,#00b8ff 100.00%)"></div><div style="top:36.4px;height:2.5px;background:linear-gradient(90deg,#ff6a00 0.16%,#ff4900 0.58%,#ff3000 0.99%,#ff2b00 3.05%,#ff2b00 3.87%,#ff5500 4.49%,#ffad00 4.80%,#fff900 5.10%,#eaff00 5.21%,#9eff00 5.52%,#6fff00 5.72%,#56ff00 5.93%,#05ff00 7.47%,#00ff07 8.30%,#00ff11 8.81%,#00ff23 8.91%,#00ff64 9.12%,#00ff6c 9.32%,#00ff61 9.43%,#00ff69 10.05%,#00ff8d 10.46%,#00ff97 12.31%,#00ff72 12.72%,#00ff71 13.13%,#00ff44 13.34%,#00ff35 13.44%,#00ff45 13.65%,#00ff57 13.85%,#00ff5c 14.37%,#00ff85 14.57%,#00ff93 14.68%,#00ffa5 16.22%,#00ffb3 16.43%,#00fff4 16.84%,#00fcff 18.07%,#00f6ff 18.69%,#00fffe 18.79%,#00ffeb 19.00%,#00ff53 19.41%,#00ff3a 19.51%,#00ff2d 20.96%,#00ff46 21.16%,#00ff97 21.47%,#00ffa3 21.57%,#00ffbf 22.19%,#00ffc5 22.81%,#00fffb 23.22%,#00f3ff 24.45%,#00f0ff 25.69%,#00fffb 26.41%,#00fff0 26.92%,#00fcff 27.54%,#00e0ff 28.26%,#00daff 29.19%,#00e8ff 29.91%,#00fffc 30.53%,#00ffef 31.04%,#00fff6 31.45%,#00ffff 31.66%,#00c1ff 32.69%,#00a7ff 33.72%,#0094ff 35.26%,#0084ff 38.04%,#009aff 39.28%,#008eff 39.79%,#0070ff 40.61%,#0065ff 41.75%,#004fff 49.88%,#007fff 57.29%,#00b0ff 59.65%,#00e1ff 62.02%,#00fffd 63.57%,#00ffd4 65.73%,#00ff95 69.64%,#00ff61 71.80%,#00ff28 73.34%,#00ff00 74.27%,#38ff00 75.20%,#86ff00 76.12%,#fdff00 77.25%,#ffb000 78.18%,#ff9000 78.80%,#ff8500 79.42%,#ff8a00 80.14%,#ffa400 80.75%,#ffda00 81.47%,#ffff00 81.89%,#89ff00 83.12%,#35ff00 84.25%,#00ff00 85.18%,#00ff38 86.52%,#00ff7a 88.58%,#00ffa7 90.74%,#00ffea 96.09%,#00ffff 97.22%,#00daff 98.15%,#00b6ff 100.00%)"></div><div style="top:38.4px;height:2.5px;background:linear-gradient(90deg,#ff6800 0.16%,#ff4600 0.58%,#ff2c00 0.99%,#ff2700 3.87%,#ff4800 4.49%,#ffa500 4.80%,#fff000 5.10%,#f4ff00 5.21%,#8dff00 5.62%,#75ff00 5.72%,#5cff00 5.93%,#04ff00 7.47%,#00ff0c 8.50%,#00ff11 8.81%,#00ff20 8.91%,#00ff5e 9.12%,#00ff6f 9.32%,#00ff68 9.43%,#00ff6f 10.05%,#00ff8c 10.46%,#00ff97 12.31%,#00ff7b 12.72%,#00ff7a 13.13%,#00ff47 13.34%,#00ff35 13.44%,#00ff50 13.85%,#00ff54 14.37%,#00ff83 14.57%,#00ff94 14.68%,#00ffa5 16.22%,#00ffb1 16.43%,#00fff4 16.84%,#00fcff 17.87%,#00f2ff 18.69%,#00fffd 18.90%,#00fff6 19.00%,#00ff57 19.41%,#00ff3b 19.51%,#00ff2d 20.96%,#00ff41 21.16%,#00ff92 21.47%,#00ff9f 21.68%,#00ffb3 22.29%,#00ffb9 22.81%,#00fff7 23.22%,#00fbff 23.84%,#00f0ff 25.59%,#00fdff 26.31%,#00fff1 27.03%,#00ffff 27.54%,#00e1ff 28.26%,#00d7ff 29.09%,#00e1ff 29.81%,#00feff 30.53%,#00fff1 31.04%,#00fff6 31.45%,#00ffff 31.66%,#00bdff 32.69%,#00a6ff 33.41%,#0090ff 35.26%,#0082ff 37.94%,#0099ff 39.17%,#008dff 39.69%,#0070ff 40.51%,#0064ff 41.85%,#004fff 49.88%,#007dff 57.39%,#00c1ff 60.68%,#00fffe 63.77%,#00ffd9 65.62%,#00ff99 69.64%,#00ff67 71.80%,#00ff33 73.24%,#00ff01 74.37%,#3bff00 75.30%,#8eff00 76.22%,#ffff00 77.25%,#ffb100 78.08%,#ff8c00 78.69%,#ff7e00 79.31%,#ff8100 80.03%,#ff9800 80.65%,#ffcd00 81.37%,#fffd00 81.89%,#7fff00 83.22%,#31ff00 84.25%,#01ff00 85.08%,#00ff3a 86.41%,#00ff7e 88.47%,#00ffac 90.63%,#00ffe4 95.47%,#00fcff 97.12%,#00d6ff 98.25%,#00b4ff 100.00%)"></div><div style="top:40.4px;height:2.5px;background:linear-gradient(90deg,#ff6600 0.16%,#ff4300 0.58%,#ff2800 0.99%,#ff2300 3.87%,#ff3c00 4.49%,#ff9c00 4.80%,#feff00 5.21%,#7bff00 5.72%,#62ff00 5.93%,#06ff00 7.37%,#00ff03 7.88%,#00ff12 8.81%,#00ff1d 8.91%,#00ff58 9.12%,#00ff73 9.32%,#00ff6f 9.53%,#00ff75 10.05%,#00ff8b 10.46%,#00ff97 12.31%,#00ff83 12.72%,#00ff83 13.13%,#00ff49 13.34%,#00ff35 13.44%,#00ff49 13.85%,#00ff4d 14.37%,#00ff82 14.57%,#00ff94 14.68%,#00ffa6 16.22%,#00ffb0 16.43%,#00fff4 16.84%,#00fcff 17.76%,#00eeff 18.69%,#00fdff 19.00%,#00ff5b 19.41%,#00ff3c 19.51%,#00ff2d 20.96%,#00ff3c 21.16%,#00ff8d 21.47%,#00ff9a 21.78%,#00ffa7 22.29%,#00ffad 22.81%,#00fff4 23.22%,#00fcff 23.94%,#00f1ff 25.79%,#00fffc 26.51%,#00fff1 27.03%,#00fff8 27.44%,#00f7ff 27.75%,#00dcff 28.47%,#00d6ff 29.29%,#00e3ff 30.01%,#00feff 30.63%,#00fff2 31.14%,#00fffa 31.56%,#00f9ff 31.76%,#00baff 32.69%,#00a3ff 33.31%,#008dff 35.16%,#0080ff 37.83%,#0097ff 39.07%,#008bff 39.58%,#006fff 40.41%,#0063ff 41.85%,#004fff 49.88%,#007bff 57.60%,#00f1ff 63.36%,#00fffc 64.08%,#00ffde 65.62%,#00ff9c 69.74%,#00ff69 71.90%,#00ff31 73.45%,#00ff01 74.48%,#37ff00 75.30%,#81ff00 76.12%,#fffd00 77.25%,#ffac00 78.08%,#ff8a00 78.59%,#ff7700 79.21%,#ff7900 80.03%,#ff8b00 80.55%,#ffb700 81.17%,#fffb00 81.89%,#e2ff00 82.19%,#7cff00 83.22%,#2dff00 84.25%,#02ff00 84.97%,#00ff40 86.41%,#00ff7f 88.27%,#00ffaf 90.43%,#00ffe4 95.06%,#00fff5 96.19%,#00fdff 96.81%,#00e3ff 97.74%,#00bfff 99.28%,#00b1ff 100.00%)"></div><div style="top:42.4px;height:2.5px;background:linear-gradient(90deg,#ff6500 0.16%,#ff4000 0.58%,#ff2400 0.99%,#ff2200 3.97%,#ff2f00 4.49%,#ff9400 4.80%,#fff700 5.21%,#ebff00 5.31%,#80ff00 5.72%,#71ff00 5.83%,#05ff00 7.37%,#00ff04 7.88%,#00ff12 8.81%,#00ff1a 8.91%,#00ff51 9.12%,#00ff76 9.32%,#00ff7f 10.15%,#00ff8b 10.56%,#00ff96 12.41%,#00ff8d 12.82%,#00ff8c 13.13%,#00ff4b 13.34%,#00ff35 13.44%,#00ff42 13.96%,#00ff45 14.37%,#00ff80 14.57%,#00ff94 14.68%,#00ffa9 16.32%,#00ffaf 16.43%,#00fff4 16.84%,#00fcff 17.66%,#00eaff 18.69%,#00f2ff 19.00%,#00ffe2 19.10%,#00ff5f 19.41%,#00ff3d 19.51%,#00ff2d 20.96%,#00ff37 21.16%,#00ff87 21.47%,#00ff9b 22.29%,#00ffa2 22.81%,#00fff0 23.22%,#00fcff 24.04%,#00f1ff 25.90%,#00fffb 26.62%,#00fff1 27.13%,#00ffff 27.65%,#00deff 28.37%,#00d3ff 29.19%,#00dcff 29.91%,#00feff 30.73%,#00fff4 31.25%,#00ffff 31.66%,#00b1ff 32.79%,#009bff 33.41%,#0087ff 35.57%,#007eff 37.73%,#0095ff 38.97%,#0089ff 39.48%,#006eff 40.30%,#0062ff 41.85%,#004eff 49.88%,#007aff 57.80%,#00e4ff 63.05%,#00fffc 64.29%,#00ffe2 65.62%,#00ff9f 69.84%,#00ff6f 71.90%,#00ff3c 73.34%,#00ff07 74.48%,#05ff00 74.68%,#43ff00 75.50%,#95ff00 76.33%,#f7ff00 77.15%,#fffb00 77.25%,#ffa600 78.08%,#ff8300 78.59%,#ff7100 79.11%,#ff7000 79.93%,#ff7f00 80.44%,#ffa900 81.06%,#fff900 81.89%,#eeff00 82.09%,#82ff00 83.12%,#30ff00 84.15%,#02ff00 84.87%,#00ff45 86.41%,#00ff84 88.16%,#00ffb5 90.33%,#00ffe7 94.96%,#00fff5 95.99%,#00fcff 96.60%,#00c3ff 98.97%,#00afff 100.00%)"></div><div style="top:44.4px;height:2.5px;background:linear-gradient(90deg,#ff6300 0.16%,#ff3d00 0.58%,#ff2000 0.99%,#ff1f00 4.18%,#ff2300 4.49%,#ff8b00 4.80%,#ffee00 5.21%,#f5ff00 5.31%,#86ff00 5.72%,#77ff00 5.83%,#04ff00 7.37%,#00ff06 7.88%,#00ff17 8.91%,#00ff63 9.22%,#00ff79 9.32%,#00ff90 11.28%,#00ff97 12.52%,#00ff95 13.13%,#00ff4d 13.34%,#00ff35 13.44%,#00ff3e 14.37%,#00ff7e 14.57%,#00ff95 14.68%,#00ffa9 16.32%,#00ffad 16.43%,#00fff4 16.84%,#00faff 17.66%,#00e6ff 18.90%,#00e6ff 19.00%,#00ffeb 19.10%,#00ff64 19.41%,#00ff3e 19.51%,#00ff2d 21.06%,#00ff32 21.16%,#00ff82 21.47%,#00ff92 22.70%,#00ff96 22.81%,#00ffec 23.22%,#00fdff 24.15%,#00f1ff 25.90%,#00fffe 26.62%,#00fff2 27.13%,#00fff8 27.54%,#00f7ff 27.85%,#00d9ff 28.57%,#00d1ff 29.39%,#00deff 30.12%,#00feff 30.84%,#00fff7 31.35%,#00feff 31.66%,#00a7ff 32.89%,#0096ff 33.41%,#0083ff 35.67%,#007cff 37.63%,#0093ff 38.86%,#0087ff 39.38%,#006dff 40.20%,#0061ff 41.95%,#004eff 49.88%,#0078ff 57.90%,#00d9ff 62.84%,#00fffc 64.49%,#00ffe6 65.62%,#00ffa2 69.95%,#00ff73 72.00%,#00ff3a 73.55%,#00ff07 74.58%,#06ff00 74.78%,#47ff00 75.61%,#9eff00 76.43%,#f8ff00 77.15%,#fff900 77.25%,#ffa100 78.08%,#ff7c00 78.59%,#ff6a00 79.11%,#ff6800 79.93%,#ff7800 80.44%,#ff9b00 80.96%,#ffed00 81.78%,#faff00 81.99%,#89ff00 83.02%,#3aff00 83.94%,#03ff00 84.77%,#00ff2d 85.69%,#00ff7e 87.75%,#00ffb0 89.71%,#00ffcd 91.77%,#00fff4 95.78%,#00fcff 96.40%,#00aeff 99.90%,#00adff 100.00%)"></div><div style="top:46.4px;height:2.5px;background:linear-gradient(90deg,#ff6200 0.16%,#ff3c00 0.58%,#ff1e00 0.99%,#ff1a00 4.49%,#ff8400 4.80%,#ffff00 5.31%,#8cff00 5.72%,#7dff00 5.83%,#04ff00 7.37%,#00ff05 7.78%,#00ff15 8.91%,#00ff7b 9.32%,#00ff8a 10.56%,#00ff9d 13.03%,#00ff9a 13.13%,#00ff4f 13.34%,#00ff35 13.44%,#00ff36 14.27%,#00ff3a 14.37%,#00ff7e 14.57%,#00ff95 14.68%,#00ffad 16.43%,#00fff5 16.84%,#00fbff 17.56%,#00ddff 19.00%,#00fff3 19.10%,#00ff68 19.41%,#00ff41 19.51%,#00ff2c 21.06%,#00ff2f 21.16%,#00ff7f 21.47%,#00ff8b 22.70%,#00ff90 22.81%,#00ffeb 23.22%,#00fdff 24.15%,#00f0ff 26.00%,#00fffe 26.72%,#00fff3 27.23%,#00feff 27.75%,#00d8ff 28.57%,#00cfff 29.39%,#00daff 30.12%,#00feff 30.94%,#00fff8 31.35%,#00feff 31.66%,#00d2ff 32.28%,#00a4ff 32.89%,#0092ff 33.41%,#0081ff 35.47%,#007aff 37.53%,#0091ff 38.76%,#0086ff 39.28%,#006cff 40.10%,#0060ff 41.95%,#004eff 49.98%,#0074ff 57.90%,#00d1ff 62.74%,#00fffe 64.59%,#00ffe9 65.73%,#00ffa3 70.15%,#00ff75 72.11%,#00ff38 73.75%,#00ff00 74.78%,#42ff00 75.61%,#9bff00 76.43%,#f8ff00 77.15%,#fff800 77.25%,#ffa700 77.97%,#ff7c00 78.49%,#ff6500 79.00%,#ff6000 79.72%,#ff6a00 80.24%,#ff8600 80.75%,#ffbe00 81.37%,#fff700 81.89%,#fbff00 81.99%,#91ff00 82.91%,#3eff00 83.84%,#00ff01 84.77%,#00ff40 86.00%,#00ff88 87.86%,#00ffb8 89.81%,#00ffd8 92.38%,#00fff8 95.78%,#00faff 96.29%,#00abff 100.00%)"></div><div style="top:48.4px;height:2.5px;background:linear-gradient(90deg,#ff6400 0.16%,#ff3f00 0.58%,#ff2200 0.99%,#ff1a00 4.49%,#ff7f00 4.80%,#fff700 5.31%,#ebff00 5.41%,#95ff00 5.72%,#85ff00 5.83%,#09ff00 7.37%,#00ff03 7.78%,#00ff15 8.91%,#00ff7a 9.32%,#00ff8a 10.56%,#00ff9b 12.93%,#00ff96 13.13%,#00ff4e 13.34%,#00ff35 13.44%,#00ff3a 14.27%,#00ff3f 14.37%,#00ff80 14.57%,#00ff96 14.68%,#00ffac 16.32%,#00ffb1 16.43%,#00fff7 16.84%,#00fbff 17.46%,#00dcff 19.00%,#00fff6 19.10%,#00ff6e 19.41%,#00ff47 19.51%,#00ff32 20.54%,#00ff2e 21.06%,#00ff33 21.16%,#00ff82 21.47%,#00ff91 22.70%,#00ff97 22.81%,#00ffef 23.22%,#00fcff 23.94%,#00ecff 25.90%,#00f6ff 26.51%,#00fffb 26.92%,#00fff6 27.34%,#00fbff 27.75%,#00d6ff 28.57%,#00ccff 29.39%,#00d6ff 30.12%,#00ffff 31.04%,#00fffa 31.45%,#00ffff 31.66%,#00dcff 32.17%,#00a5ff 32.89%,#0092ff 33.41%,#0082ff 35.26%,#0079ff 37.53%,#0090ff 38.76%,#0080ff 39.38%,#0069ff 40.20%,#005dff 42.67%,#004dff 49.98%,#0074ff 57.90%,#00cfff 62.74%,#00fffc 64.80%,#00ffd7 67.27%,#00ff94 71.08%,#00ff65 72.73%,#00ff28 74.17%,#00ff03 74.78%,#13ff00 75.09%,#5eff00 75.92%,#c1ff00 76.74%,#f8ff00 77.15%,#fff900 77.25%,#ff9b00 78.08%,#ff7300 78.59%,#ff6000 79.11%,#ff5e00 79.93%,#ff7000 80.44%,#ff9500 80.96%,#ffec00 81.78%,#faff00 81.99%,#90ff00 82.91%,#3cff00 83.84%,#02ff00 84.66%,#00ff4e 86.21%,#00ff8e 87.86%,#00ffbd 89.81%,#00ffdf 92.69%,#00fffb 95.78%,#00f0ff 96.60%,#00a8ff 99.90%,#00a7ff 100.00%)"></div><div style="top:50.4px;height:2.5px;background:linear-gradient(90deg,#ff6600 0.16%,#ff3a00 0.68%,#ff2500 0.99%,#ff1900 3.87%,#ff1a00 4.49%,#ff7b00 4.80%,#ffd400 5.21%,#ffef00 5.31%,#f4ff00 5.41%,#9dff00 5.72%,#8dff00 5.83%,#0dff00 7.37%,#00ff01 7.78%,#00ff16 8.91%,#00ff79 9.32%,#00ff8a 10.46%,#00ff9b 12.82%,#00ff92 13.13%,#00ff4e 13.34%,#00ff36 13.44%,#00ff39 14.06%,#00ff44 14.37%,#00ff82 14.57%,#00ff97 14.68%,#00ffaf 16.32%,#00ffb4 16.43%,#00fffa 16.84%,#00f9ff 17.46%,#00daff 19.00%,#00fff9 19.10%,#00ff73 19.41%,#00ff4d 19.51%,#00ff36 20.23%,#00ff30 21.06%,#00ff36 21.16%,#00ff84 21.47%,#00ff98 22.70%,#00ff9e 22.81%,#00fff3 23.22%,#00fbff 23.84%,#00ebff 25.17%,#00e9ff 26.10%,#00fffc 27.03%,#00fffb 27.44%,#00f8ff 27.75%,#00d3ff 28.57%,#00c9ff 29.39%,#00d2ff 30.12%,#00fffe 31.14%,#00fffc 31.56%,#00fbff 31.76%,#00cdff 32.38%,#00a0ff 33.00%,#008eff 33.61%,#0078ff 37.32%,#0082ff 38.04%,#008fff 38.66%,#0086ff 39.17%,#006aff 40.00%,#005eff 41.75%,#004cff 49.88%,#0074ff 57.90%,#00ccff 62.74%,#00fffd 64.90%,#00ffad 70.05%,#00ff7e 72.11%,#00ff45 73.65%,#00ff15 74.58%,#00ff00 74.89%,#46ff00 75.71%,#a4ff00 76.53%,#f7ff00 77.15%,#fff900 77.25%,#ff9a00 78.08%,#ff7100 78.59%,#ff5c00 79.11%,#ff5a00 79.83%,#ff6800 80.34%,#ff8a00 80.86%,#ffd400 81.58%,#fff800 81.89%,#faff00 81.99%,#8eff00 82.91%,#3aff00 83.84%,#00ff00 84.66%,#00ff49 86.00%,#00ff90 87.75%,#00ffbd 89.60%,#00ffd9 91.66%,#00fdff 95.88%,#00a5ff 99.90%,#00a4ff 100.00%)"></div><div style="top:52.4px;height:2.5px;background:linear-gradient(90deg,#ff6700 0.16%,#ff3d00 0.68%,#ff2800 0.99%,#ff1a00 3.36%,#ff1a00 4.49%,#ff7600 4.80%,#ffcc00 5.21%,#fcff00 5.41%,#a6ff00 5.72%,#94ff00 5.83%,#12ff00 7.37%,#00ff00 7.78%,#00ff16 8.91%,#00ff77 9.32%,#00ff8a 10.35%,#00ff9d 12.72%,#00ff8e 13.13%,#00ff4d 13.34%,#00ff36 13.44%,#00ff37 13.96%,#00ff49 14.37%,#00ff84 14.57%,#00ff99 14.68%,#00ffb2 16.32%,#00ffb8 16.43%,#00ffee 16.74%,#00fffc 16.84%,#00ddff 18.79%,#00d9ff 19.00%,#00fffc 19.10%,#00ff79 19.41%,#00ff53 19.51%,#00ff37 20.23%,#00ff2e 20.96%,#00ff39 21.16%,#00ff87 21.47%,#00ff9e 22.70%,#00ffa4 22.81%,#00fff7 23.22%,#00fcff 23.63%,#00efff 24.25%,#00e4ff 26.00%,#00f5ff 26.72%,#00fffd 27.13%,#00faff 27.65%,#00d0ff 28.57%,#00c6ff 29.39%,#00ceff 30.12%,#00feff 31.14%,#00fffc 31.56%,#00f6ff 31.86%,#00a1ff 33.00%,#008eff 33.61%,#0078ff 37.22%,#0080ff 37.94%,#008eff 38.66%,#0083ff 39.17%,#0068ff 40.00%,#005cff 41.95%,#004bff 49.88%,#0075ff 58.01%,#00caff 62.74%,#00fffe 65.01%,#00ffb5 69.84%,#00ff85 72.00%,#00ff51 73.45%,#00ff1f 74.48%,#00ff03 74.89%,#14ff00 75.20%,#59ff00 75.92%,#beff00 76.74%,#f6ff00 77.15%,#fffa00 77.25%,#ff9800 78.08%,#ff6e00 78.59%,#ff5900 79.11%,#ff5600 79.83%,#ff6500 80.34%,#ff8800 80.86%,#ffd400 81.58%,#fff800 81.89%,#f9ff00 81.99%,#8dff00 82.91%,#38ff00 83.84%,#04ff00 84.56%,#00ff16 84.97%,#00ff5c 86.31%,#00ff98 87.86%,#00ffc4 89.71%,#00ffe5 92.49%,#00fcff 95.78%,#00a7ff 99.59%,#00a1ff 100.00%)"></div><div style="top:54.4px;height:2.5px;background:linear-gradient(90deg,#ff6900 0.16%,#ff4000 0.68%,#ff2c00 0.99%,#ff1a00 3.15%,#ff1a00 4.49%,#ff7200 4.80%,#ffc300 5.21%,#fffa00 5.41%,#cbff00 5.62%,#aeff00 5.72%,#9cff00 5.83%,#39ff00 6.96%,#0fff00 7.47%,#00ff00 7.88%,#00ff16 8.91%,#00ff76 9.32%,#00ff8a 10.25%,#00ff9e 12.72%,#00ff8a 13.13%,#00ff4c 13.34%,#00ff37 13.44%,#00ff37 13.96%,#00ff4d 14.37%,#00ff86 14.57%,#00ff9a 14.68%,#00ffb0 16.22%,#00ffbc 16.43%,#00fff1 16.74%,#00fffe 16.84%,#00d8ff 19.00%,#00ffff 19.10%,#00ff7f 19.41%,#00ff5a 19.51%,#00ff38 20.13%,#00ff2f 20.96%,#00ff3c 21.16%,#00ff8a 21.47%,#00ffa5 22.70%,#00ffab 22.81%,#00fffb 23.22%,#00f5ff 23.73%,#00eaff 24.35%,#00e1ff 26.00%,#00eeff 26.62%,#00ffff 27.23%,#00f7ff 27.65%,#00ceff 28.57%,#00c3ff 29.39%,#00caff 30.12%,#00e6ff 30.73%,#00ffff 31.25%,#00fffe 31.66%,#00f1ff 31.97%,#00a2ff 33.00%,#008dff 33.61%,#0078ff 37.01%,#007dff 37.83%,#008dff 38.66%,#0081ff 39.17%,#0067ff 40.00%,#005aff 42.26%,#004bff 49.88%,#0074ff 58.01%,#00c6ff 62.64%,#00fffd 65.21%,#00ffc1 69.33%,#00ff8f 71.80%,#00ff5e 73.24%,#00ff29 74.37%,#01ff00 74.99%,#40ff00 75.71%,#93ff00 76.43%,#f5ff00 77.15%,#fffa00 77.25%,#ff9700 78.08%,#ff6b00 78.59%,#ff5500 79.11%,#ff5300 79.83%,#ff6200 80.34%,#ff8700 80.86%,#ffd400 81.58%,#fff900 81.89%,#f9ff00 81.99%,#8bff00 82.91%,#36ff00 83.84%,#01ff00 84.56%,#00ff52 86.00%,#00ff97 87.65%,#00ffc1 89.30%,#00ffdc 91.15%,#00fdff 95.47%,#00cfff 97.63%,#00aaff 99.28%,#009eff 100.00%)"></div><div style="top:56.4px;height:2.5px;background:linear-gradient(90deg,#ff6b00 0.16%,#ff4300 0.68%,#ff2f00 0.99%,#ff1a00 2.94%,#ff1a00 4.49%,#ff6d00 4.80%,#ffbb00 5.21%,#fff200 5.41%,#f0ff00 5.52%,#b6ff00 5.72%,#98ff00 5.93%,#1aff00 7.37%,#01ff00 7.88%,#00ff11 8.81%,#00ff17 8.91%,#00ff75 9.32%,#00ff89 10.15%,#00ff9e 12.72%,#00ff86 13.13%,#00ff4b 13.34%,#00ff37 13.44%,#00ff38 13.96%,#00ff52 14.37%,#00ff88 14.57%,#00ff9b 14.68%,#00ffb2 16.22%,#00ffbf 16.43%,#00fff4 16.74%,#00fdff 16.84%,#00d6ff 19.00%,#00fbff 19.10%,#00ff84 19.41%,#00ff60 19.51%,#00ff39 20.13%,#00ff2f 20.96%,#00ff3f 21.16%,#00ff76 21.37%,#00ff8c 21.47%,#00ffac 22.70%,#00ffb2 22.81%,#00ffff 23.22%,#00e8ff 24.15%,#00ddff 26.00%,#00eaff 26.62%,#00fbff 27.23%,#00f5ff 27.65%,#00cbff 28.57%,#00c0ff 29.39%,#00c6ff 30.12%,#00e2ff 30.73%,#00fcff 31.25%,#00fdff 31.76%,#00e4ff 32.17%,#00a2ff 33.00%,#008dff 33.61%,#0078ff 36.81%,#007bff 37.73%,#008cff 38.55%,#0083ff 39.07%,#0067ff 39.89%,#005aff 41.75%,#004aff 49.88%,#0074ff 58.01%,#00c1ff 62.54%,#00ffff 65.31%,#00ffc5 69.33%,#00ff93 71.80%,#00ff62 73.24%,#00ff2d 74.37%,#00ff03 74.99%,#20ff00 75.40%,#6bff00 76.12%,#d7ff00 76.95%,#fffb00 77.25%,#ff9500 78.08%,#ff6900 78.59%,#ff5200 79.11%,#ff4f00 79.83%,#ff5f00 80.34%,#ff8500 80.86%,#ffd400 81.58%,#fff900 81.89%,#f8ff00 81.99%,#89ff00 82.91%,#34ff00 83.84%,#00ff01 84.56%,#00ff51 85.90%,#00ff99 87.55%,#00ffc2 89.09%,#00ffde 90.94%,#00fdff 95.06%,#00efff 96.09%,#00caff 97.74%,#00aaff 99.07%,#009bff 100.00%)"></div><div style="top:58.4px;height:2.5px;background:linear-gradient(90deg,#ff6c00 0.16%,#ff4600 0.68%,#ff3300 0.99%,#ff2100 2.22%,#ff1900 3.66%,#ff1a00 4.49%,#ff6900 4.80%,#ffb300 5.21%,#ffea00 5.41%,#f8ff00 5.52%,#bfff00 5.72%,#9fff00 5.93%,#31ff00 7.16%,#0bff00 7.68%,#01ff00 7.99%,#00ff11 8.81%,#00ff17 8.91%,#00ff73 9.32%,#00ff8a 10.15%,#00ff9f 12.72%,#00ff82 13.13%,#00ff4b 13.34%,#00ff38 13.44%,#00ff38 13.96%,#00ff57 14.37%,#00ff8a 14.57%,#00ff9c 14.68%,#00ffb4 16.22%,#00ffc3 16.43%,#00ffe9 16.63%,#00fbff 16.84%,#00d5ff 19.00%,#00f8ff 19.10%,#00ffdc 19.21%,#00ff8a 19.41%,#00ff66 19.51%,#00ff39 20.13%,#00ff30 20.96%,#00ff43 21.16%,#00ff7a 21.37%,#00ff8f 21.47%,#00ffb2 22.70%,#00ffb9 22.81%,#00fff3 23.12%,#00fbff 23.22%,#00e3ff 24.15%,#00d9ff 26.00%,#00e6ff 26.62%,#00f8ff 27.23%,#00f2ff 27.65%,#00c8ff 28.57%,#00bdff 29.39%,#00c3ff 30.12%,#00ddff 30.73%,#00feff 31.35%,#00feff 31.76%,#00e6ff 32.17%,#00a3ff 33.00%,#008fff 33.51%,#0081ff 35.06%,#0078ff 37.42%,#008cff 38.55%,#0080ff 39.07%,#0065ff 39.89%,#0059ff 42.05%,#0049ff 49.88%,#0073ff 58.01%,#00bdff 62.43%,#00feff 65.52%,#00ffcd 69.12%,#00ff99 71.70%,#00ff6b 73.14%,#00ff36 74.27%,#02ff00 75.09%,#45ff00 75.81%,#9cff00 76.53%,#fffc00 77.25%,#ff9400 78.08%,#ff6600 78.59%,#ff4f00 79.11%,#ff4c00 79.83%,#ff5d00 80.34%,#ff8300 80.86%,#ffe000 81.68%,#fffa00 81.89%,#eaff00 82.09%,#88ff00 82.91%,#32ff00 83.84%,#03ff00 84.46%,#00ff50 85.80%,#00ff97 87.34%,#00ffc1 88.78%,#00ffdf 90.74%,#00fdff 94.55%,#00efff 95.88%,#00cdff 97.53%,#00aaff 98.87%,#0098ff 100.00%)"></div><div style="top:60.4px;height:2.5px;background:linear-gradient(90deg,#ff6e00 0.16%,#ff4300 0.78%,#ff3600 0.99%,#ff2400 2.12%,#ff1a00 3.15%,#ff1a00 4.49%,#ff6400 4.80%,#ffaa00 5.21%,#fffd00 5.52%,#c7ff00 5.72%,#a5ff00 5.93%,#50ff00 6.85%,#14ff00 7.58%,#04ff00 7.88%,#00ff0a 8.50%,#00ff11 8.81%,#00ff18 8.91%,#00ff72 9.32%,#00ff8b 10.15%,#00ff9f 12.72%,#00ff7e 13.13%,#00ff4a 13.34%,#00ff38 13.44%,#00ff39 13.96%,#00ff5c 14.37%,#00ff8c 14.57%,#00ff9d 14.68%,#00ffb6 16.22%,#00ffc7 16.43%,#00ffed 16.63%,#00fffa 16.74%,#00f7ff 16.94%,#00d3ff 19.00%,#00f5ff 19.10%,#00ffe0 19.21%,#00ff90 19.41%,#00ff6c 19.51%,#00ff39 20.13%,#00ff30 20.96%,#00ff46 21.16%,#00ff7d 21.37%,#00ff92 21.47%,#00ffb9 22.70%,#00ffc0 22.81%,#00fff8 23.12%,#00f7ff 23.22%,#00dfff 24.15%,#00d5ff 26.00%,#00e2ff 26.62%,#00f5ff 27.23%,#00efff 27.65%,#00c6ff 28.57%,#00bbff 29.39%,#00c2ff 30.22%,#00dfff 30.84%,#00fbff 31.35%,#00feff 31.76%,#00e8ff 32.17%,#00a4ff 33.00%,#008fff 33.51%,#0082ff 34.85%,#0078ff 37.42%,#008bff 38.55%,#007eff 39.07%,#0063ff 39.89%,#0057ff 42.36%,#0048ff 49.77%,#0073ff 58.01%,#00b9ff 62.33%,#00faff 65.52%,#00fff7 66.55%,#00ffbb 70.36%,#00ff8c 72.31%,#00ff55 73.75%,#00ff21 74.68%,#00ff02 75.09%,#37ff00 75.71%,#8cff00 76.43%,#fffc00 77.25%,#ff9300 78.08%,#ff6400 78.59%,#ff4b00 79.11%,#ff4800 79.83%,#ff5a00 80.34%,#ff8200 80.86%,#ffe100 81.68%,#fffa00 81.89%,#e9ff00 82.09%,#86ff00 82.91%,#30ff00 83.84%,#01ff00 84.46%,#00ff5a 85.90%,#00ff9c 87.34%,#00ffc6 88.78%,#00ffe3 90.74%,#00fdff 94.13%,#00ecff 95.88%,#00caff 97.53%,#00a9ff 98.76%,#0094ff 100.00%)"></div><div style="top:62.4px;height:2.5px;background:linear-gradient(90deg,#ff7000 0.16%,#ff3f00 0.89%,#ff3800 1.09%,#ff2500 2.12%,#ff1900 3.05%,#ff1a00 4.49%,#ff6000 4.80%,#ffa200 5.21%,#fff500 5.52%,#edff00 5.62%,#d0ff00 5.72%,#acff00 5.93%,#5eff00 6.75%,#10ff00 7.68%,#06ff00 7.88%,#00ff09 8.50%,#00ff10 8.81%,#00ff18 8.91%,#00ff71 9.32%,#00ff8b 10.15%,#00ffa0 12.72%,#00ff7a 13.13%,#00ff49 13.34%,#00ff38 13.44%,#00ff39 13.96%,#00ff61 14.37%,#00ff8e 14.57%,#00ff9f 14.68%,#00ffb8 16.22%,#00ffca 16.43%,#00fff0 16.63%,#00fffd 16.74%,#00f6ff 16.84%,#00d2ff 19.00%,#00f2ff 19.10%,#00ffe4 19.21%,#00ff95 19.41%,#00ff73 19.51%,#00ff3a 20.13%,#00ff31 20.96%,#00ff49 21.16%,#00ff81 21.37%,#00ff94 21.47%,#00ffbf 22.70%,#00ffc7 22.81%,#00fffc 23.12%,#00f3ff 23.22%,#00dbff 24.15%,#00d1ff 26.00%,#00deff 26.62%,#00f1ff 27.23%,#00ecff 27.65%,#00c3ff 28.57%,#00b8ff 29.39%,#00beff 30.22%,#00dbff 30.84%,#00fdff 31.45%,#00feff 31.76%,#00eaff 32.17%,#00a6ff 33.00%,#0090ff 33.51%,#0082ff 34.75%,#0078ff 37.42%,#008aff 38.55%,#0077ff 39.17%,#0061ff 39.89%,#0054ff 42.88%,#0047ff 49.77%,#0073ff 58.01%,#00b3ff 62.12%,#00f6ff 65.52%,#00fffb 66.55%,#00ffc1 70.26%,#00ff91 72.31%,#00ff5a 73.75%,#00ff25 74.68%,#03ff00 75.20%,#4aff00 75.92%,#a6ff00 76.64%,#fffd00 77.25%,#ff9200 78.08%,#ff6100 78.59%,#ff4900 79.11%,#ff4400 79.72%,#ff5200 80.24%,#ff7700 80.75%,#ffc800 81.47%,#fffc00 81.89%,#83ff00 82.91%,#2dff00 83.84%,#00ff03 84.46%,#00ff5e 85.90%,#00ffa2 87.34%,#00ffc9 88.68%,#00ffe7 90.63%,#00fdff 93.62%,#00e8ff 95.88%,#00caff 97.43%,#00a6ff 98.66%,#0091ff 100.00%)"></div><div style="top:64.4px;height:2.5px;background:linear-gradient(90deg,#ff7100 0.16%,#ff4300 0.89%,#ff3a00 1.19%,#ff2a00 2.02%,#ff1e00 2.53%,#ff1900 3.87%,#ff1a00 4.49%,#ff5b00 4.80%,#ff9900 5.21%,#ffee00 5.52%,#f5ff00 5.62%,#d8ff00 5.72%,#b3ff00 5.93%,#6bff00 6.65%,#0aff00 7.78%,#00ff03 8.30%,#00ff10 8.81%,#00ff18 8.91%,#00ff6f 9.32%,#00ff8c 10.15%,#00ffa0 12.72%,#00ff76 13.13%,#00ff49 13.34%,#00ff39 13.44%,#00ff3a 13.96%,#00ff66 14.37%,#00ff91 14.57%,#00ffa0 14.68%,#00ffba 16.22%,#00ffce 16.43%,#00fff4 16.63%,#00feff 16.74%,#00f3ff 16.84%,#00d0ff 19.00%,#00eeff 19.10%,#00ffe8 19.21%,#00ff79 19.51%,#00ff3a 20.13%,#00ff32 20.96%,#00ff4c 21.16%,#00ff84 21.37%,#00ff97 21.47%,#00ffc1 22.60%,#00ffce 22.81%,#00fdff 23.12%,#00efff 23.22%,#00d6ff 24.15%,#00ceff 26.00%,#00dbff 26.62%,#00eeff 27.23%,#00e9ff 27.65%,#00c1ff 28.57%,#00b5ff 29.50%,#00baff 30.22%,#00d0ff 30.73%,#00faff 31.45%,#00feff 31.76%,#00f2ff 32.07%,#00a0ff 33.10%,#008bff 33.72%,#0077ff 36.81%,#007cff 37.73%,#0088ff 38.55%,#0074ff 39.17%,#005fff 39.89%,#0052ff 43.39%,#0046ff 49.77%,#0073ff 58.11%,#00adff 61.92%,#00f2ff 65.52%,#00fffb 66.86%,#00ffc2 70.46%,#00ff93 72.42%,#00ff5a 73.86%,#00ff23 74.78%,#00ff02 75.20%,#3bff00 75.81%,#95ff00 76.53%,#fffe00 77.25%,#ff9100 78.08%,#ff5f00 78.59%,#ff4600 79.11%,#ff4200 79.72%,#ff5100 80.24%,#ff7600 80.75%,#ffc900 81.47%,#fffd00 81.89%,#8bff00 82.81%,#3aff00 83.64%,#01ff00 84.36%,#00ff64 85.90%,#00ffa5 87.24%,#00ffcd 88.58%,#00ffeb 90.53%,#00fcff 93.10%,#00e4ff 95.88%,#00c7ff 97.43%,#00a2ff 98.66%,#008eff 100.00%)"></div><div style="top:66.4px;height:2.5px;background:linear-gradient(90deg,#ff7300 0.16%,#ff4000 0.99%,#ff2b00 2.02%,#ff1e00 2.53%,#ff1900 3.66%,#ff1a00 4.49%,#ff5700 4.80%,#ff9100 5.21%,#fdff00 5.62%,#e1ff00 5.72%,#baff00 5.93%,#70ff00 6.65%,#0bff00 7.78%,#00ff02 8.30%,#00ff10 8.81%,#00ff19 8.91%,#00ff6e 9.32%,#00ff8c 10.05%,#00ffa0 12.72%,#00ff72 13.13%,#00ff48 13.34%,#00ff39 13.44%,#00ff3b 13.96%,#00ff6b 14.37%,#00ff93 14.57%,#00ffa1 14.68%,#00ffbc 16.22%,#00ffd2 16.43%,#00fff8 16.63%,#00fbff 16.74%,#00f1ff 16.84%,#00cfff 19.00%,#00ebff 19.10%,#00ffec 19.21%,#00ff7f 19.51%,#00ff3a 20.13%,#00ff32 20.96%,#00ff50 21.16%,#00ff88 21.37%,#00ff9a 21.47%,#00ffc7 22.60%,#00ffd5 22.81%,#00fff7 23.01%,#00f8ff 23.12%,#00eaff 23.22%,#00d2ff 24.15%,#00cbff 26.10%,#00deff 26.82%,#00ebff 27.34%,#00e2ff 27.75%,#00beff 28.57%,#00b2ff 29.50%,#00b7ff 30.22%,#00ccff 30.73%,#00f8ff 31.45%,#00feff 31.76%,#00f4ff 32.07%,#00a1ff 33.10%,#008bff 33.72%,#0078ff 36.50%,#007aff 37.63%,#0088ff 38.45%,#007aff 38.97%,#0061ff 39.69%,#0055ff 41.44%,#0045ff 49.77%,#0073ff 58.11%,#00a5ff 61.61%,#00eeff 65.52%,#00fffc 67.06%,#00ffc4 70.56%,#00ff98 72.42%,#00ff5f 73.86%,#00ff27 74.78%,#03ff00 75.30%,#4fff00 76.02%,#b0ff00 76.74%,#ffff00 77.25%,#ff9000 78.08%,#ff5e00 78.59%,#ff4700 79.00%,#ff3f00 79.62%,#ff4a00 80.14%,#ff6c00 80.65%,#ffaf00 81.27%,#ffff00 81.89%,#94ff00 82.71%,#40ff00 83.53%,#05ff00 84.25%,#00ff0b 84.46%,#00ff6f 86.00%,#00ffab 87.24%,#00ffd3 88.58%,#00ffef 90.43%,#00fcff 92.59%,#00e1ff 95.88%,#00c4ff 97.43%,#009eff 98.66%,#008aff 100.00%)"></div><div style="top:68.4px;height:2.5px;background:linear-gradient(90deg,#ff7500 0.16%,#ff4400 0.99%,#ff2d00 2.02%,#ff1f00 2.53%,#ff1900 3.56%,#ff1a00 4.49%,#ff5200 4.80%,#ff8900 5.21%,#fff900 5.62%,#e9ff00 5.72%,#c1ff00 5.93%,#75ff00 6.65%,#0dff00 7.78%,#00ff04 8.40%,#00ff0f 8.81%,#00ff19 8.91%,#00ff5b 9.22%,#00ff6d 9.32%,#00ff8c 10.05%,#00ffa1 12.72%,#00ff6e 13.13%,#00ff47 13.34%,#00ff3a 13.44%,#00ff3b 13.96%,#00ff6f 14.37%,#00ff95 14.57%,#00ffa2 14.68%,#00ffbe 16.22%,#00ffd5 16.43%,#00fffc 16.63%,#00eeff 16.84%,#00ceff 19.00%,#00e8ff 19.10%,#00fff0 19.21%,#00ff85 19.51%,#00ff3b 20.13%,#00ff33 20.96%,#00ff53 21.16%,#00ff8b 21.37%,#00ff9c 21.47%,#00ffc7 22.50%,#00ffdb 22.81%,#00fffd 23.01%,#00e6ff 23.22%,#00ceff 24.15%,#00c7ff 26.10%,#00dbff 26.82%,#00e8ff 27.34%,#00e0ff 27.75%,#00bcff 28.57%,#00afff 29.50%,#00b3ff 30.22%,#00c8ff 30.73%,#00faff 31.56%,#00fcff 31.86%,#00efff 32.17%,#00a3ff 33.10%,#008dff 33.61%,#007fff 34.95%,#0078ff 37.22%,#0086ff 38.45%,#0077ff 38.97%,#005fff 39.69%,#0053ff 41.75%,#0045ff 49.77%,#0072ff 58.11%,#00a2ff 61.51%,#00eaff 65.52%,#00fffd 67.37%,#00ffc7 70.67%,#00ff9a 72.52%,#00ff65 73.86%,#00ff2c 74.78%,#00ff02 75.30%,#3fff00 75.92%,#9eff00 76.64%,#feff00 77.25%,#ff8f00 78.08%,#ff5c00 78.59%,#ff4500 79.00%,#ff3d00 79.62%,#ff4800 80.14%,#ff6b00 80.65%,#ffb000 81.27%,#fdff00 81.89%,#90ff00 82.71%,#3cff00 83.53%,#01ff00 84.25%,#00ff6f 85.90%,#00ffad 87.13%,#00ffd4 88.37%,#00fff2 90.22%,#00fbff 92.07%,#00dbff 95.99%,#00c5ff 97.32%,#009aff 98.66%,#0087ff 100.00%)"></div><div style="top:70.4px;height:2.5px;background:linear-gradient(90deg,#ff7600 0.16%,#ff4700 0.99%,#ff3200 1.91%,#ff2000 2.43%,#ff1900 3.36%,#ff1b00 4.49%,#ff4e00 4.80%,#ff8000 5.21%,#fff100 5.62%,#f1ff00 5.72%,#c8ff00 5.93%,#7aff00 6.65%,#23ff00 7.58%,#0fff00 7.78%,#00ff03 8.40%,#00ff0f 8.81%,#00ff1a 8.91%,#00ff5b 9.22%,#00ff6c 9.32%,#00ff8d 10.05%,#00ffa1 12.72%,#00ff6a 13.13%,#00ff47 13.34%,#00ff3a 13.44%,#00ff3c 13.96%,#00ff86 14.47%,#00ffa3 14.68%,#00ffc0 16.22%,#00ffd9 16.43%,#00feff 16.63%,#00ecff 16.84%,#00ccff 19.00%,#00e4ff 19.10%,#00fff4 19.21%,#00ff8c 19.51%,#00ff3b 20.13%,#00ff33 20.96%,#00ff56 21.16%,#00ff8f 21.37%,#00ff9f 21.47%,#00ffcd 22.50%,#00ffe2 22.81%,#00fbff 23.01%,#00e2ff 23.22%,#00c9ff 24.15%,#00c3ff 26.10%,#00d7ff 26.82%,#00e5ff 27.34%,#00ddff 27.75%,#00b6ff 28.67%,#00adff 29.70%,#00b2ff 30.32%,#00c9ff 30.84%,#00f7ff 31.56%,#00fcff 31.86%,#00f1ff 32.17%,#00a4ff 33.10%,#008dff 33.61%,#007fff 34.85%,#0077ff 37.11%,#0085ff 38.45%,#0070ff 39.07%,#005bff 39.79%,#004dff 44.11%,#0044ff 49.77%,#0072ff 58.21%,#009eff 61.40%,#00e5ff 65.42%,#00fffd 67.68%,#00ffca 70.77%,#00ffa0 72.52%,#00ff6a 73.86%,#00ff31 74.78%,#03ff00 75.40%,#54ff00 76.12%,#bbff00 76.84%,#fdff00 77.25%,#ff8e00 78.08%,#ff5a00 78.59%,#ff4300 79.00%,#ff3b00 79.52%,#ff4200 80.03%,#ff5900 80.44%,#ff8b00 80.96%,#fff600 81.78%,#faff00 81.89%,#8dff00 82.71%,#38ff00 83.53%,#04ff00 84.15%,#00ff13 84.46%,#00ff7a 86.00%,#00ffb3 87.13%,#00ffda 88.37%,#00fff7 90.22%,#00fbff 91.56%,#00d8ff 95.99%,#00c2ff 97.32%,#0098ff 98.56%,#0084ff 100.00%)"></div><div style="top:72.4px;height:2.5px;background:linear-gradient(90deg,#ff7800 0.16%,#ff4a00 0.99%,#ff3400 1.91%,#ff2100 2.43%,#ff1900 3.36%,#ff1b00 4.49%,#ff4900 4.80%,#ff6900 5.10%,#ff7800 5.21%,#ffe900 5.62%,#faff00 5.72%,#cfff00 5.93%,#7fff00 6.65%,#31ff00 7.47%,#10ff00 7.78%,#00ff02 8.40%,#00ff0f 8.81%,#00ff1a 8.91%,#00ff5a 9.22%,#00ff6a 9.32%,#00ff8e 10.05%,#00ffa2 12.72%,#00ff46 13.34%,#00ff3b 13.44%,#00ff3c 13.96%,#00ff99 14.57%,#00ffa5 14.68%,#00ffc2 16.22%,#00ffdd 16.43%,#00faff 16.63%,#00e9ff 16.84%,#00cbff 19.00%,#00e1ff 19.10%,#00fff8 19.21%,#00ff92 19.51%,#00ff3b 20.13%,#00ff34 20.96%,#00ff59 21.16%,#00ff92 21.37%,#00ffa2 21.47%,#00ffd3 22.50%,#00ffe9 22.81%,#00fffa 22.91%,#00e9ff 23.12%,#00deff 23.22%,#00c5ff 24.15%,#00bfff 26.10%,#00d3ff 26.82%,#00e1ff 27.34%,#00daff 27.75%,#00b4ff 28.67%,#00aaff 29.70%,#00b2ff 30.42%,#00ccff 30.94%,#00f5ff 31.56%,#00fcff 31.86%,#00f2ff 32.17%,#009fff 33.20%,#008bff 33.72%,#007cff 35.36%,#0077ff 37.11%,#0084ff 38.35%,#0076ff 38.86%,#005dff 39.58%,#0052ff 41.44%,#0042ff 49.67%,#0072ff 58.21%,#009aff 61.30%,#00e0ff 65.42%,#00fffc 68.09%,#00ffc6 71.18%,#00ff9e 72.73%,#00ff6a 73.96%,#00ff36 74.78%,#00ff01 75.40%,#44ff00 76.02%,#a9ff00 76.74%,#fbff00 77.25%,#ffa800 77.87%,#ff6a00 78.39%,#ff4a00 78.80%,#ff3900 79.31%,#ff3d00 79.93%,#ff5000 80.34%,#ff7f00 80.86%,#fff700 81.78%,#f8ff00 81.89%,#8aff00 82.71%,#34ff00 83.53%,#00ff00 84.15%,#00ff73 85.80%,#00ffb1 86.93%,#00ffd9 88.06%,#00fff5 89.60%,#00fbff 91.05%,#00d4ff 95.99%,#00bfff 97.32%,#0094ff 98.56%,#0080ff 100.00%)"></div><div style="top:74.4px;height:2.5px;background:linear-gradient(90deg,#ff7a00 0.16%,#ff4b00 1.09%,#ff3600 1.91%,#ff2100 2.43%,#ff1900 3.36%,#ff1b00 4.49%,#ff4500 4.80%,#ff6100 5.10%,#ff7000 5.21%,#fffc00 5.72%,#d6ff00 5.93%,#8dff00 6.55%,#42ff00 7.37%,#12ff00 7.78%,#00ff01 8.40%,#00ff0e 8.81%,#00ff1a 8.91%,#00ff5a 9.22%,#00ff69 9.32%,#00ff8e 10.05%,#00ffa2 12.72%,#00ff45 13.34%,#00ff3b 13.44%,#00ff3d 13.96%,#00ff9b 14.57%,#00ffa6 14.68%,#00ffc4 16.22%,#00ffe0 16.43%,#00fff5 16.53%,#00f6ff 16.63%,#00e7ff 16.84%,#00c9ff 19.00%,#00deff 19.10%,#00fffc 19.21%,#00ff98 19.51%,#00ff3c 20.13%,#00ff35 20.96%,#00ff5c 21.16%,#00ff96 21.37%,#00ffa4 21.47%,#00ffd9 22.50%,#00fff0 22.81%,#00feff 22.91%,#00d9ff 23.22%,#00c1ff 24.15%,#00bbff 26.10%,#00cfff 26.82%,#00deff 27.34%,#00d7ff 27.75%,#00b1ff 28.67%,#00a7ff 29.70%,#00aeff 30.42%,#00c7ff 30.94%,#00f7ff 31.66%,#00fbff 31.97%,#00eeff 32.28%,#00a0ff 33.20%,#008bff 33.72%,#007dff 35.16%,#0076ff 37.01%,#0083ff 38.35%,#0074ff 38.86%,#005aff 39.58%,#0050ff 41.75%,#0041ff 49.67%,#0072ff 58.32%,#0096ff 61.20%,#00dbff 65.31%,#00fffc 68.40%,#00ffc5 71.49%,#00ff9d 72.93%,#00ff6a 74.06%,#00ff34 74.89%,#00ff06 75.40%,#05ff00 75.50%,#5bff00 76.22%,#c7ff00 76.95%,#faff00 77.25%,#ffe400 77.46%,#ff8c00 78.08%,#ff5600 78.59%,#ff3e00 79.00%,#ff3600 79.52%,#ff3e00 80.03%,#ff5600 80.44%,#ff8b00 80.96%,#fff900 81.78%,#e6ff00 81.99%,#86ff00 82.71%,#39ff00 83.43%,#04ff00 84.05%,#00ff14 84.36%,#00ff85 86.00%,#00ffbc 87.03%,#00ffe2 88.16%,#00fffd 89.81%,#00d0ff 95.99%,#00bcff 97.32%,#0090ff 98.56%,#007dff 100.00%)"></div><div style="top:76.4px;height:2.5px;background:linear-gradient(90deg,#ff7c00 0.16%,#ff4f00 1.09%,#ff3800 1.91%,#ff2200 2.43%,#ff1900 3.25%,#ff1b00 4.49%,#ff4900 4.90%,#ff5a00 5.10%,#ff6700 5.21%,#fff400 5.72%,#f2ff00 5.83%,#ddff00 5.93%,#93ff00 6.55%,#47ff00 7.37%,#13ff00 7.78%,#00ff04 8.50%,#00ff0e 8.81%,#00ff1b 8.91%,#00ff59 9.22%,#00ff68 9.32%,#00ff8f 10.05%,#00ffa3 12.72%,#00ff5f 13.13%,#00ff3c 13.44%,#00ff3d 13.96%,#00ff83 14.37%,#00ffa7 14.68%,#00ffc6 16.22%,#00ffe4 16.43%,#00fff8 16.53%,#00f2ff 16.63%,#00e4ff 16.84%,#00c8ff 19.00%,#00daff 19.10%,#00feff 19.21%,#00ff9e 19.51%,#00ff3c 20.13%,#00ff33 20.85%,#00ff35 20.96%,#00ff60 21.16%,#00ff99 21.37%,#00ffa7 21.47%,#00ffde 22.50%,#00fff7 22.81%,#00f7ff 22.91%,#00d5ff 23.22%,#00bcff 24.15%,#00b8ff 26.10%,#00cbff 26.82%,#00dbff 27.34%,#00d5ff 27.75%,#00aeff 28.67%,#00a5ff 29.70%,#00abff 30.42%,#00c3ff 30.94%,#00f5ff 31.66%,#00fbff 31.97%,#00efff 32.28%,#00a1ff 33.20%,#008bff 33.72%,#007dff 34.95%,#0076ff 37.01%,#0082ff 38.25%,#007aff 38.66%,#005aff 39.48%,#0050ff 41.03%,#0041ff 49.67%,#0071ff 58.32%,#0093ff 61.10%,#00d6ff 65.21%,#00fffc 68.71%,#00ffc3 71.80%,#00ff9a 73.14%,#00ff6a 74.17%,#00ff30 74.99%,#00ff00 75.50%,#57ff00 76.22%,#c5ff00 76.95%,#f9ff00 77.25%,#fff400 77.36%,#ff8b00 78.08%,#ff5400 78.59%,#ff3c00 79.00%,#ff3400 79.52%,#ff3d00 80.03%,#ff5500 80.44%,#ff8b00 80.96%,#fffc00 81.78%,#9cff00 82.50%,#49ff00 83.22%,#00ff00 84.05%,#00ff7e 85.80%,#00ffb9 86.83%,#00ffe3 87.96%,#00fffe 89.40%,#00d9ff 94.55%,#00c3ff 96.71%,#00b9ff 97.32%,#008cff 98.56%,#0079ff 100.00%)"></div><div style="top:78.4px;height:2.5px;background:linear-gradient(90deg,#ff7d00 0.16%,#ff5200 1.09%,#ff3a00 1.91%,#ff2200 2.43%,#ff1900 3.25%,#ff1b00 4.49%,#ff4300 4.90%,#ff5200 5.10%,#ff5f00 5.21%,#ffd200 5.62%,#ffec00 5.72%,#faff00 5.83%,#e4ff00 5.93%,#98ff00 6.55%,#4bff00 7.37%,#15ff00 7.78%,#00ff03 8.50%,#00ff0e 8.81%,#00ff1b 8.91%,#00ff59 9.22%,#00ff66 9.32%,#00ff90 10.05%,#00ffa3 12.72%,#00ff5b 13.13%,#00ff3c 13.44%,#00ff3e 13.96%,#00ff88 14.37%,#00ffa8 14.68%,#00ffc8 16.22%,#00ffe8 16.43%,#00fffc 16.53%,#00eeff 16.63%,#00e2ff 16.84%,#00c6ff 19.00%,#00d7ff 19.10%,#00faff 19.21%,#00ffc3 19.41%,#00ffa5 19.51%,#00ff3c 20.13%,#00ff33 20.85%,#00ff36 20.96%,#00ff63 21.16%,#00ff9d 21.37%,#00ffaa 21.47%,#00ffe4 22.50%,#00fffe 22.81%,#00daff 23.12%,#00ceff 23.32%,#00b8ff 24.15%,#00b4ff 26.10%,#00c3ff 26.72%,#00d7ff 27.34%,#00d2ff 27.75%,#00acff 28.67%,#00a2ff 29.70%,#00a7ff 30.42%,#00beff 30.94%,#00f2ff 31.66%,#00fbff 31.97%,#00f1ff 32.28%,#00a3ff 33.20%,#008bff 33.72%,#007dff 34.85%,#0076ff 37.01%,#0082ff 38.14%,#0077ff 38.66%,#0058ff 39.48%,#004eff 41.33%,#0040ff 49.67%,#0071ff 58.42%,#008fff 60.99%,#00d2ff 65.21%,#00fffc 69.02%,#00ffc3 72.00%,#00ff97 73.34%,#00ff63 74.37%,#00ff23 75.20%,#00ff04 75.50%,#12ff00 75.71%,#62ff00 76.33%,#e6ff00 77.15%,#f8ff00 77.25%,#fff500 77.36%,#ff8a00 78.08%,#ff5b00 78.49%,#ff3e00 78.90%,#ff3200 79.42%,#ff3700 79.93%,#ff4c00 80.34%,#ff7e00 80.86%,#fffe00 81.78%,#8bff00 82.61%,#3bff00 83.33%,#04ff00 83.94%,#00ff14 84.25%,#00ff90 86.00%,#00ffc4 86.93%,#00ffec 88.06%,#00fdff 89.19%,#00d8ff 93.93%,#00c5ff 96.29%,#00b7ff 97.32%,#0087ff 98.56%,#0076ff 100.00%)"></div><div style="top:80.4px;height:2.5px;background:linear-gradient(90deg,#ff7f00 0.16%,#ff5500 1.09%,#ff3c00 1.91%,#ff2300 2.43%,#ff1900 3.25%,#ff1b00 4.49%,#ff3e00 4.90%,#ff4a00 5.10%,#ff5600 5.21%,#ffca00 5.62%,#fffc00 5.83%,#ebff00 5.93%,#9dff00 6.55%,#4fff00 7.37%,#17ff00 7.78%,#00ff02 8.50%,#00ff0d 8.81%,#00ff2f 9.02%,#00ff58 9.22%,#00ff6c 9.43%,#00ff90 10.05%,#00ffa4 12.72%,#00ff57 13.13%,#00ff3c 13.44%,#00ff3f 13.96%,#00ff8d 14.37%,#00ffaa 14.68%,#00ffca 16.22%,#00feff 16.53%,#00eaff 16.63%,#00deff 16.94%,#00c5ff 19.00%,#00d4ff 19.10%,#00f6ff 19.21%,#00ffe8 19.31%,#00ffab 19.51%,#00ff3d 20.13%,#00ff33 20.85%,#00ff36 20.96%,#00ff66 21.16%,#00ffa0 21.37%,#00ffad 21.47%,#00ffea 22.50%,#00fffb 22.70%,#00f9ff 22.81%,#00deff 23.01%,#00cdff 23.22%,#00b4ff 24.15%,#00b0ff 26.10%,#00c0ff 26.72%,#00d4ff 27.34%,#00cfff 27.75%,#00a9ff 28.67%,#009fff 29.70%,#00a4ff 30.42%,#00baff 30.94%,#00f5ff 31.76%,#00faff 32.07%,#00ecff 32.38%,#009dff 33.31%,#0088ff 33.82%,#007aff 35.36%,#0076ff 37.01%,#0083ff 38.04%,#0079ff 38.55%,#0058ff 39.38%,#004fff 40.61%,#003eff 49.57%,#0071ff 58.52%,#008dff 60.99%,#00cbff 65.01%,#00fdff 69.02%,#00ffd2 71.59%,#00ffa9 73.03%,#00ff75 74.17%,#00ff3a 74.99%,#02ff00 75.61%,#50ff00 76.22%,#c1ff00 76.95%,#f6ff00 77.25%,#fff600 77.36%,#ff8900 78.08%,#ff5a00 78.49%,#ff3c00 78.90%,#ff3000 79.42%,#ff3500 79.93%,#ff4b00 80.34%,#ff7e00 80.86%,#feff00 81.78%,#95ff00 82.50%,#41ff00 83.22%,#00ff00 83.94%,#00ff88 85.80%,#00ffc5 86.83%,#00ffef 87.96%,#00fdff 88.78%,#00ebff 90.63%,#00c3ff 96.19%,#00b4ff 97.32%,#0083ff 98.56%,#0073ff 100.00%)"></div><div style="top:82.4px;height:2.5px;background:linear-gradient(90deg,#ff8100 0.16%,#ff5500 1.19%,#ff3d00 1.91%,#ff2300 2.43%,#ff1900 3.25%,#ff1b00 4.49%,#ff3d00 5.00%,#ff4e00 5.21%,#ffc200 5.62%,#fff500 5.83%,#f2ff00 5.93%,#a2ff00 6.55%,#54ff00 7.37%,#18ff00 7.78%,#00ff01 8.50%,#00ff0d 8.81%,#00ff30 9.02%,#00ff58 9.22%,#00ff6b 9.43%,#00ff91 10.05%,#00ffa4 12.72%,#00ff53 13.13%,#00ff3d 13.44%,#00ff3f 13.96%,#00ff92 14.37%,#00ffab 14.68%,#00ffcc 16.22%,#00ffef 16.43%,#00faff 16.53%,#00e6ff 16.63%,#00dcff 16.94%,#00c4ff 19.00%,#00d0ff 19.10%,#00f1ff 19.21%,#00ffed 19.31%,#00ffb1 19.51%,#00ff3d 20.13%,#00ff34 20.85%,#00ff37 20.96%,#00ff69 21.16%,#00ffa4 21.37%,#00ffb5 21.57%,#00ffef 22.50%,#00fcff 22.70%,#00d8ff 23.01%,#00c5ff 23.32%,#00afff 24.15%,#00acff 26.10%,#00bcff 26.72%,#00d1ff 27.34%,#00ccff 27.75%,#00a7ff 28.67%,#009dff 29.70%,#00a1ff 30.42%,#00b5ff 30.94%,#00f2ff 31.76%,#00faff 32.07%,#00eeff 32.38%,#009fff 33.31%,#0088ff 33.82%,#007bff 35.16%,#0075ff 36.91%,#0082ff 38.04%,#0072ff 38.66%,#0056ff 39.38%,#004dff 40.92%,#003dff 49.57%,#0072ff 58.73%,#008bff 60.99%,#00c5ff 64.80%,#00f8ff 69.02%,#00fffa 69.74%,#00ffc6 72.31%,#00ff9a 73.55%,#00ff67 74.48%,#00ff2d 75.20%,#00ff02 75.61%,#3eff00 76.12%,#adff00 76.84%,#f5ff00 77.25%,#fff700 77.36%,#ff8800 78.08%,#ff5800 78.49%,#ff3a00 78.90%,#ff2e00 79.31%,#ff3000 79.83%,#ff4200 80.24%,#ff6600 80.65%,#ffb600 81.27%,#fbff00 81.78%,#91ff00 82.50%,#3dff00 83.22%,#04ff00 83.84%,#00ff15 84.15%,#00ffa2 86.11%,#00ffd0 86.93%,#00fff8 88.06%,#00faff 88.58%,#00e7ff 90.22%,#00bfff 96.19%,#00b1ff 97.32%,#007fff 98.56%,#006fff 100.00%)"></div><div style="top:84.4px;height:2.5px;background:linear-gradient(90deg,#ff8200 0.16%,#ff5500 1.30%,#ff3f00 1.91%,#ff2300 2.43%,#ff1900 3.25%,#ff1b00 4.49%,#ff3b00 5.10%,#ff4600 5.21%,#ffba00 5.62%,#ffee00 5.83%,#f9ff00 5.93%,#a7ff00 6.55%,#58ff00 7.37%,#1aff00 7.78%,#00ff01 8.50%,#00ff0d 8.81%,#00ff57 9.22%,#00ff70 9.53%,#00ff92 10.05%,#00ffa5 12.72%,#00ff4f 13.13%,#00ff3d 13.44%,#00ff40 13.96%,#00ff96 14.37%,#00ffac 14.68%,#00ffcf 16.22%,#00fff3 16.43%,#00f6ff 16.53%,#00e2ff 16.63%,#00d8ff 17.04%,#00c2ff 19.00%,#00cdff 19.10%,#00edff 19.21%,#00fff2 19.31%,#00ffb7 19.51%,#00ff3d 20.13%,#00ff34 20.85%,#00ff37 20.96%,#00ffa7 21.37%,#00ffbf 21.68%,#00fff5 22.50%,#00ffff 22.60%,#00d2ff 23.01%,#00c1ff 23.32%,#00abff 24.15%,#00a9ff 26.10%,#00b8ff 26.72%,#00cdff 27.34%,#00c9ff 27.75%,#00a4ff 28.67%,#009aff 29.70%,#00a0ff 30.53%,#00b8ff 31.04%,#00f0ff 31.76%,#00faff 32.07%,#00f0ff 32.38%,#00a0ff 33.31%,#0088ff 33.82%,#007bff 35.06%,#0075ff 36.91%,#0083ff 37.94%,#0073ff 38.55%,#0056ff 39.28%,#004dff 40.41%,#003dff 49.57%,#0073ff 58.93%,#0089ff 60.99%,#00c0ff 64.70%,#00f2ff 68.92%,#00fffb 69.95%,#00ffc9 72.42%,#00ff9b 73.65%,#00ff65 74.58%,#00ff28 75.30%,#00ff07 75.61%,#05ff00 75.71%,#58ff00 76.33%,#cfff00 77.05%,#f4ff00 77.25%,#fff800 77.36%,#ff8700 78.08%,#ff5600 78.49%,#ff3800 78.90%,#ff2c00 79.31%,#ff2e00 79.83%,#ff4100 80.24%,#ff6500 80.65%,#ffb700 81.27%,#fff500 81.68%,#f9ff00 81.78%,#8dff00 82.50%,#38ff00 83.22%,#00ff00 83.84%,#00ff93 85.80%,#00ffcc 86.72%,#00fff9 87.86%,#00faff 88.27%,#00e5ff 89.71%,#00bbff 96.19%,#00aeff 97.32%,#007bff 98.56%,#006cff 100.00%)"></div><div style="top:86.4px;height:2.5px;background:linear-gradient(90deg,#ff8400 0.16%,#ff5200 1.50%,#ff4100 1.91%,#ff2700 2.33%,#ff1900 3.15%,#ff1b00 4.49%,#ff3400 5.10%,#ff3d00 5.21%,#ffb200 5.62%,#ffff00 5.93%,#acff00 6.55%,#5dff00 7.37%,#1bff00 7.78%,#00ff00 8.50%,#00ff0c 8.81%,#00ff57 9.22%,#00ff92 10.05%,#00ffa5 12.72%,#00ff4b 13.13%,#00ff3e 13.44%,#00ff40 13.96%,#00ff9b 14.37%,#00ffaf 14.78%,#00ffd1 16.22%,#00fff6 16.43%,#00f2ff 16.53%,#00deff 16.63%,#00d3ff 17.25%,#00c1ff 19.00%,#00caff 19.10%,#00e9ff 19.21%,#00fff7 19.31%,#00ffbd 19.51%,#00ff3e 20.13%,#00ff35 20.85%,#00ff38 20.96%,#00ffab 21.37%,#00fffb 22.50%,#00eeff 22.70%,#00ccff 23.01%,#00baff 23.43%,#00a7ff 24.15%,#00a5ff 26.10%,#00b4ff 26.72%,#00caff 27.34%,#00c6ff 27.75%,#00a2ff 28.67%,#0098ff 29.70%,#009dff 30.53%,#00b3ff 31.04%,#00f3ff 31.86%,#00f9ff 32.17%,#00ecff 32.48%,#00a1ff 33.31%,#0088ff 33.82%,#007bff 34.95%,#0074ff 36.81%,#0083ff 37.94%,#0071ff 38.55%,#0054ff 39.28%,#004bff 40.51%,#003cff 49.57%,#0074ff 59.24%,#008aff 61.20%,#00bbff 64.59%,#00edff 68.92%,#00fffd 70.15%,#00ffce 72.42%,#00ffa1 73.65%,#00ff6a 74.58%,#00ff2d 75.30%,#01ff00 75.71%,#54ff00 76.33%,#cdff00 77.05%,#f2ff00 77.25%,#fff900 77.36%,#ff8700 78.08%,#ff5500 78.49%,#ff3500 78.90%,#ff2900 79.31%,#ff2c00 79.83%,#ff3f00 80.24%,#ff6500 80.65%,#ffb800 81.27%,#fff800 81.68%,#f6ff00 81.78%,#89ff00 82.50%,#34ff00 83.22%,#04ff00 83.74%,#00ff1e 84.15%,#00ffb4 86.21%,#00ffe1 87.03%,#00ffff 87.86%,#00e5ff 89.09%,#00c4ff 94.55%,#00abff 97.32%,#0077ff 98.56%,#0068ff 100.00%)"></div><div style="top:88.4px;height:2.5px;background:linear-gradient(90deg,#ff8600 0.16%,#ff4300 1.91%,#ff2700 2.33%,#ff1900 3.15%,#ff1f00 4.59%,#ff2c00 5.10%,#ff3500 5.21%,#ffab00 5.62%,#fff800 5.93%,#f8ff00 6.03%,#b1ff00 6.55%,#61ff00 7.37%,#1dff00 7.78%,#00ff03 8.60%,#00ff0c 8.81%,#00ff56 9.22%,#00ff93 10.05%,#00ffa6 12.72%,#00ff47 13.13%,#00ff3e 13.54%,#00ff41 13.96%,#00ffa0 14.37%,#00ffb3 14.88%,#00ffd3 16.22%,#00fffa 16.43%,#00daff 16.63%,#00bfff 19.00%,#00c6ff 19.10%,#00fffb 19.31%,#00ffc4 19.51%,#00ff3e 20.13%,#00ff35 20.85%,#00ff39 20.96%,#00ffae 21.37%,#00fdff 22.50%,#00c6ff 23.01%,#00a2ff 24.04%,#00a1ff 26.10%,#00b0ff 26.72%,#00c6ff 27.34%,#00c4ff 27.75%,#009fff 28.67%,#0095ff 29.70%,#009aff 30.53%,#00afff 31.04%,#00f0ff 31.86%,#00f9ff 32.17%,#00eeff 32.48%,#009cff 33.41%,#0085ff 33.92%,#0078ff 35.47%,#0074ff 36.81%,#0083ff 37.83%,#0072ff 38.45%,#0054ff 39.17%,#004aff 40.20%,#003bff 49.57%,#0077ff 59.86%,#00b8ff 64.70%,#00e6ff 68.81%,#00fffc 70.46%,#00ffd1 72.52%,#00ffa6 73.65%,#00ff70 74.58%,#00ff32 75.30%,#00ff04 75.71%,#16ff00 75.92%,#71ff00 76.53%,#f1ff00 77.25%,#fffb00 77.36%,#ff8600 78.08%,#ff5300 78.49%,#ff3300 78.90%,#ff2700 79.31%,#ff2a00 79.83%,#ff3e00 80.24%,#ff6400 80.65%,#ffba00 81.27%,#fffa00 81.68%,#e2ff00 81.89%,#77ff00 82.61%,#25ff00 83.33%,#00ff01 83.74%,#00ff9d 85.80%,#00ffd9 86.72%,#00ffff 87.65%,#00e3ff 88.78%,#00d6ff 90.53%,#00b2ff 96.50%,#00a8ff 97.32%,#0073ff 98.56%,#0065ff 100.00%)"></div><div style="top:90.4px;height:2.5px;background:linear-gradient(90deg,#ff8700 0.16%,#ff4c00 1.81%,#ff2800 2.33%,#ff1800 3.15%,#ff1f00 4.69%,#ff2400 5.10%,#ff2c00 5.21%,#ffa300 5.62%,#fff200 5.93%,#feff00 6.03%,#b6ff00 6.55%,#65ff00 7.37%,#1fff00 7.78%,#00ff03 8.60%,#00ff0c 8.81%,#00ff56 9.22%,#00ff94 10.05%,#00ffa6 12.72%,#00ff43 13.13%,#00ff3f 13.85%,#00ff42 13.96%,#00ffa5 14.37%,#00ffce 16.01%,#00ffd5 16.22%,#00fffe 16.43%,#00d6ff 16.63%,#00beff 19.00%,#00c3ff 19.10%,#00feff 19.31%,#00ff9a 19.72%,#00ff3f 20.13%,#00ff35 20.85%,#00ff39 20.96%,#00ffb2 21.37%,#00fffb 22.40%,#00e0ff 22.70%,#00c7ff 22.91%,#00b4ff 23.32%,#009eff 24.15%,#009dff 26.10%,#00adff 26.72%,#00c3ff 27.34%,#00c1ff 27.75%,#009aff 28.78%,#0093ff 30.01%,#009cff 30.73%,#00b1ff 31.14%,#00edff 31.86%,#00f9ff 32.17%,#00f0ff 32.48%,#00b7ff 33.10%,#0096ff 33.51%,#0083ff 34.03%,#0073ff 36.39%,#007aff 37.11%,#0083ff 37.83%,#006fff 38.45%,#0052ff 39.17%,#0049ff 40.30%,#003aff 49.57%,#0079ff 60.27%,#00b3ff 64.49%,#00e0ff 68.71%,#00fffd 70.67%,#00ffd6 72.52%,#00ffac 73.65%,#00ff75 74.58%,#00ff37 75.30%,#00ff09 75.71%,#04ff00 75.81%,#5dff00 76.43%,#dcff00 77.15%,#fffc00 77.36%,#ff8500 78.08%,#ff5100 78.49%,#ff3100 78.90%,#ff2500 79.31%,#ff2800 79.83%,#ff3c00 80.24%,#ff6400 80.65%,#ffbb00 81.27%,#fffc00 81.68%,#81ff00 82.50%,#36ff00 83.12%,#04ff00 83.64%,#00ff27 84.15%,#00ffcd 86.41%,#00fffa 87.34%,#00f2ff 87.86%,#00d9ff 89.09%,#00adff 96.60%,#00a5ff 97.32%,#006fff 98.56%,#0062ff 100.00%)"></div><div style="top:92.4px;height:2.5px;background:linear-gradient(90deg,#ff8900 0.16%,#ff4e00 1.81%,#ff2800 2.33%,#ff1800 3.15%,#ff1d00 5.10%,#ff2400 5.21%,#ff9b00 5.62%,#ffec00 5.93%,#fffa00 6.03%,#e6ff00 6.24%,#bbff00 6.55%,#6aff00 7.37%,#20ff00 7.78%,#00ff02 8.60%,#00ff0c 8.81%,#00ff55 9.22%,#00ff94 10.05%,#00ffa7 12.72%,#00ff3f 13.13%,#00ff42 13.96%,#00ffaa 14.37%,#00ffd7 16.22%,#00fdff 16.43%,#00d2ff 16.63%,#00bcff 19.00%,#00c0ff 19.10%,#00f9ff 19.31%,#00ffea 19.41%,#00ff54 20.03%,#00ff3f 20.13%,#00ff36 20.85%,#00ff3a 20.96%,#00ff99 21.26%,#00ffb5 21.37%,#00feff 22.40%,#00c1ff 22.91%,#00adff 23.43%,#009aff 24.15%,#009bff 26.20%,#00b1ff 26.92%,#00c1ff 27.44%,#00bbff 27.85%,#0098ff 28.78%,#0090ff 30.01%,#0099ff 30.73%,#00adff 31.14%,#00f1ff 31.97%,#00f8ff 32.28%,#00ebff 32.59%,#009fff 33.41%,#0086ff 33.92%,#0079ff 35.06%,#0073ff 36.70%,#0084ff 37.73%,#007aff 38.14%,#004fff 39.17%,#0047ff 40.51%,#0039ff 49.46%,#007aff 60.48%,#00afff 64.39%,#00d9ff 68.61%,#00fffd 70.87%,#00ffdc 72.52%,#00ffb2 73.65%,#00ff7a 74.58%,#00ff3c 75.30%,#00ff00 75.81%,#5aff00 76.43%,#daff00 77.15%,#fffd00 77.36%,#ff8400 78.08%,#ff5000 78.49%,#ff2f00 78.90%,#ff2300 79.31%,#ff2600 79.83%,#ff3b00 80.24%,#ff6400 80.65%,#ffbd00 81.27%,#ffff00 81.68%,#8bff00 82.40%,#3cff00 83.02%,#00ff01 83.64%,#00ff98 85.59%,#00ffe5 86.72%,#00feff 87.34%,#00deff 88.37%,#00cdff 89.81%,#00acff 96.29%,#00a2ff 97.32%,#006bff 98.56%,#005eff 100.00%)"></div><div style="top:94.4px;height:2.5px;background:linear-gradient(90deg,#ff8d00 0.16%,#ff5000 1.81%,#ff2b00 2.33%,#ff1a00 3.15%,#ff1d00 5.10%,#ff2400 5.21%,#ff9900 5.62%,#ffe900 5.93%,#fff800 6.03%,#f7ff00 6.13%,#bbff00 6.55%,#67ff00 7.37%,#1fff00 7.78%,#00ff00 8.50%,#00ff10 8.81%,#00ff57 9.22%,#00ff95 10.05%,#00ffa7 12.72%,#00ff3f 13.13%,#00ff40 13.85%,#00ff44 13.96%,#00ffaa 14.37%,#00ffda 16.22%,#00fbff 16.43%,#00d2ff 16.63%,#00bcff 19.00%,#00c0ff 19.10%,#00f8ff 19.31%,#00ffea 19.41%,#00ff54 20.03%,#00ff3f 20.13%,#00ff36 20.85%,#00ff3a 20.96%,#00ff99 21.26%,#00ffb4 21.37%,#00fcff 22.40%,#00c1ff 22.91%,#00a9ff 23.53%,#0099ff 24.15%,#009aff 26.20%,#00b0ff 26.92%,#00c0ff 27.44%,#00baff 27.85%,#0096ff 28.78%,#008fff 30.01%,#0095ff 30.73%,#00a7ff 31.14%,#00f2ff 32.07%,#00f7ff 32.38%,#00e6ff 32.69%,#009aff 33.51%,#0082ff 34.03%,#0075ff 35.47%,#0073ff 36.81%,#0083ff 37.73%,#0078ff 38.14%,#0050ff 39.07%,#0046ff 40.10%,#0038ff 49.46%,#0078ff 60.48%,#00adff 64.49%,#00d8ff 68.71%,#00fffc 71.08%,#00ffdb 72.62%,#00ffaf 73.75%,#00ff7d 74.58%,#00ff3e 75.30%,#00ff02 75.81%,#37ff00 76.22%,#9fff00 76.84%,#fffe00 77.36%,#ff8400 78.08%,#ff4f00 78.49%,#ff2e00 78.90%,#ff2200 79.31%,#ff2600 79.83%,#ff3b00 80.24%,#ff6400 80.65%,#ffbd00 81.27%,#feff00 81.68%,#8aff00 82.40%,#3cff00 83.02%,#00ff01 83.64%,#00ffa7 85.80%,#00ffe5 86.72%,#00fdff 87.34%,#00dcff 88.37%,#00ccff 89.71%,#00acff 96.29%,#00a2ff 97.32%,#006aff 98.56%,#005eff 100.00%)"></div><div style="top:96.4px;height:2.5px;background:linear-gradient(90deg,#ff9000 0.16%,#ff5200 1.81%,#ff2e00 2.33%,#ff1b00 3.15%,#ff1d00 5.10%,#ff2400 5.21%,#ffb200 5.72%,#ffe700 5.93%,#fff600 6.03%,#f8ff00 6.13%,#bcff00 6.55%,#64ff00 7.37%,#1eff00 7.78%,#00ff03 8.50%,#00ff14 8.81%,#00ff5a 9.22%,#00ff96 10.05%,#00ffa8 12.72%,#00ff3e 13.13%,#00ff41 13.85%,#00ff46 13.96%,#00ff94 14.27%,#00ffaa 14.37%,#00ffdd 16.22%,#00f9ff 16.43%,#00d1ff 16.63%,#00bbff 19.00%,#00bfff 19.10%,#00f8ff 19.31%,#00ffea 19.41%,#00ff54 20.03%,#00ff3f 20.13%,#00ff36 20.85%,#00ff3a 20.96%,#00ffb3 21.37%,#00fffb 22.29%,#00fbff 22.40%,#00c1ff 22.91%,#00a5ff 23.63%,#0098ff 24.15%,#0098ff 26.20%,#00aeff 26.92%,#00beff 27.44%,#00b9ff 27.85%,#0095ff 28.78%,#008dff 30.01%,#0094ff 30.84%,#00a7ff 31.25%,#00edff 32.07%,#00f6ff 32.38%,#00eaff 32.69%,#009cff 33.51%,#0085ff 33.92%,#0077ff 34.75%,#0070ff 36.70%,#0082ff 37.63%,#007bff 38.04%,#0050ff 38.97%,#0046ff 39.79%,#0038ff 49.46%,#0077ff 60.48%,#00aaff 64.49%,#00d6ff 68.71%,#00fffd 71.18%,#00ffda 72.73%,#00ffb2 73.75%,#00ff7f 74.58%,#00ff40 75.30%,#00ff05 75.81%,#17ff00 76.02%,#79ff00 76.64%,#fffe00 77.36%,#ff8400 78.08%,#ff4f00 78.49%,#ff2e00 78.90%,#ff2200 79.31%,#ff2500 79.83%,#ff3b00 80.24%,#ff6400 80.65%,#ffbe00 81.27%,#fdff00 81.68%,#89ff00 82.40%,#3bff00 83.02%,#00ff02 83.64%,#00ffb6 86.00%,#00ffe5 86.72%,#00fcff 87.34%,#00dbff 88.37%,#00caff 89.71%,#00aaff 96.40%,#00a1ff 97.32%,#006aff 98.56%,#005dff 100.00%)"></div><div style="top:98.4px;height:2.5px;background:linear-gradient(90deg,#ff9300 0.16%,#ff4d00 1.91%,#ff3100 2.33%,#ff1c00 3.25%,#ff1d00 5.10%,#ff2400 5.21%,#ffcb00 5.83%,#ffe500 5.93%,#f9ff00 6.13%,#bcff00 6.55%,#61ff00 7.37%,#1dff00 7.78%,#01ff00 8.40%,#00ff18 8.81%,#00ff5c 9.22%,#00ff97 10.05%,#00ffa8 12.72%,#00ff3e 13.13%,#00ff3e 13.75%,#00ff48 13.96%,#00ff95 14.27%,#00ffab 14.37%,#00ffca 15.50%,#00ffe0 16.22%,#00fff3 16.32%,#00f7ff 16.43%,#00d1ff 16.63%,#00bbff 19.00%,#00bfff 19.10%,#00f8ff 19.31%,#00ffeb 19.41%,#00ff54 20.03%,#00ff3f 20.13%,#00ff36 20.85%,#00ff3a 20.96%,#00ffb3 21.37%,#00fffc 22.29%,#00faff 22.40%,#00c1ff 22.91%,#009aff 23.94%,#0096ff 26.10%,#00a4ff 26.72%,#00bdff 27.44%,#00b8ff 27.85%,#0094ff 28.78%,#008cff 30.01%,#0091ff 30.84%,#00a2ff 31.25%,#00eeff 32.17%,#00f4ff 32.48%,#00e5ff 32.79%,#0097ff 33.61%,#007fff 34.13%,#0070ff 35.47%,#006eff 36.70%,#0082ff 37.63%,#0079ff 38.04%,#004eff 38.97%,#0044ff 39.89%,#0038ff 49.46%,#0077ff 60.58%,#00a9ff 64.59%,#00d3ff 68.71%,#00fffc 71.39%,#00ffda 72.83%,#00ffaf 73.86%,#00ff7a 74.68%,#00ff38 75.40%,#00ff07 75.81%,#07ff00 75.92%,#65ff00 76.53%,#ffff00 77.36%,#ff8400 78.08%,#ff4f00 78.49%,#ff2d00 78.90%,#ff2100 79.31%,#ff2500 79.83%,#ff3a00 80.24%,#ff6400 80.65%,#ffbf00 81.27%,#fbff00 81.68%,#88ff00 82.40%,#3aff00 83.02%,#00ff02 83.64%,#00ffc5 86.21%,#00fff0 86.93%,#00fbff 87.34%,#00d9ff 88.37%,#00c8ff 89.71%,#00aaff 96.40%,#00a1ff 97.32%,#0069ff 98.56%,#005dff 100.00%)"></div><div style="top:100.4px;height:2.5px;background:linear-gradient(90deg,#ff9700 0.16%,#ff4f00 1.91%,#ff3100 2.43%,#ff1d00 3.25%,#ff1d00 4.80%,#ff1d00 5.10%,#ff2400 5.21%,#ffe300 5.93%,#fbff00 6.13%,#bcff00 6.55%,#5fff00 7.37%,#1cff00 7.78%,#00ff01 8.40%,#00ff1c 8.81%,#00ff5e 9.22%,#00ff98 10.05%,#00ffa9 12.72%,#00ff3d 13.13%,#00ff3e 13.75%,#00ff4b 13.96%,#00ff97 14.27%,#00ffab 14.37%,#00ffc8 15.40%,#00ffe3 16.22%,#00fff6 16.32%,#00f5ff 16.43%,#00d0ff 16.63%,#00baff 19.00%,#00beff 19.10%,#00f8ff 19.31%,#00ffeb 19.41%,#00ff54 20.03%,#00ff3f 20.13%,#00ff36 20.85%,#00ff3a 20.96%,#00ffb2 21.37%,#00fff6 22.19%,#00fffd 22.29%,#00eeff 22.50%,#00c1ff 22.91%,#0096ff 24.04%,#0096ff 26.20%,#00abff 26.92%,#00bcff 27.44%,#00b7ff 27.85%,#0093ff 28.78%,#008aff 30.01%,#0090ff 30.94%,#00a2ff 31.35%,#00e9ff 32.17%,#00f4ff 32.48%,#00e9ff 32.79%,#0092ff 33.72%,#007bff 34.23%,#006cff 35.88%,#006eff 36.81%,#0080ff 37.53%,#007cff 37.94%,#004eff 38.86%,#0044ff 39.58%,#0038ff 49.46%,#0075ff 60.58%,#00a6ff 64.59%,#00d2ff 68.81%,#00fffd 71.49%,#00ffd9 72.93%,#00ffac 73.96%,#00ff74 74.78%,#00ff2f 75.50%,#00ff09 75.81%,#05ff00 75.92%,#64ff00 76.53%,#feff00 77.36%,#ff8400 78.08%,#ff4e00 78.49%,#ff2d00 78.90%,#ff2100 79.31%,#ff2400 79.83%,#ff3a00 80.24%,#ff6500 80.65%,#ffc000 81.27%,#fff300 81.58%,#faff00 81.68%,#95ff00 82.30%,#44ff00 82.91%,#07ff00 83.53%,#00ff02 83.64%,#00ffd3 86.41%,#00ffff 87.24%,#00daff 88.27%,#00c7ff 89.50%,#00a8ff 96.60%,#00a0ff 97.32%,#0069ff 98.56%,#005cff 100.00%)"></div><div style="top:102.4px;height:2.5px;background:linear-gradient(90deg,#ff9a00 0.16%,#ff5100 1.91%,#ff3400 2.43%,#ff1e00 3.25%,#ff1b00 4.38%,#ff1e00 5.10%,#ff2400 5.21%,#ff5800 5.41%,#ffe100 5.93%,#fcff00 6.13%,#bcff00 6.55%,#5cff00 7.37%,#1bff00 7.78%,#00ff03 8.40%,#00ff20 8.81%,#00ff61 9.22%,#00ff93 9.94%,#00ff9a 10.15%,#00ffa9 12.72%,#00ff3d 13.13%,#00ff3e 13.75%,#00ff4d 13.96%,#00ff82 14.16%,#00ffab 14.37%,#00ffc4 15.29%,#00ffde 16.01%,#00ffe6 16.22%,#00fff8 16.32%,#00f4ff 16.43%,#00d0ff 16.63%,#00baff 19.00%,#00beff 19.10%,#00f8ff 19.31%,#00ffeb 19.41%,#00ff54 20.03%,#00ff3f 20.13%,#00ff36 20.85%,#00ff3a 20.96%,#00ffb1 21.37%,#00fff7 22.19%,#00fffe 22.29%,#00cbff 22.81%,#00baff 23.01%,#0095ff 24.04%,#0094ff 26.20%,#00a5ff 26.82%,#00baff 27.44%,#00b6ff 27.85%,#0091ff 28.78%,#0089ff 29.91%,#008dff 30.94%,#009dff 31.35%,#00c7ff 31.86%,#00eaff 32.28%,#00f2ff 32.59%,#00e4ff 32.89%,#0095ff 33.72%,#007eff 34.13%,#0070ff 34.95%,#0069ff 36.60%,#0080ff 37.53%,#007aff 37.94%,#004fff 38.76%,#0043ff 39.48%,#0037ff 49.46%,#0073ff 60.58%,#00a5ff 64.70%,#00cfff 68.81%,#00fffd 71.59%,#00ffdb 72.93%,#00ffae 73.96%,#00ff77 74.78%,#00ff31 75.50%,#03ff00 75.92%,#62ff00 76.53%,#fdff00 77.36%,#ff8400 78.08%,#ff4e00 78.49%,#ff2c00 78.90%,#ff2000 79.31%,#ff2400 79.83%,#ff3a00 80.24%,#ff6500 80.65%,#ffc100 81.27%,#fff400 81.58%,#f9ff00 81.68%,#94ff00 82.30%,#44ff00 82.91%,#06ff00 83.53%,#00ff03 83.64%,#00ffda 86.52%,#00feff 87.24%,#00d9ff 88.27%,#00c5ff 89.50%,#00a7ff 96.60%,#00a0ff 97.32%,#0068ff 98.56%,#005cff 100.00%)"></div><div style="top:104.4px;height:2.5px;background:linear-gradient(90deg,#ff9d00 0.16%,#ff5300 1.91%,#ff3600 2.43%,#ff1f00 3.25%,#ff1b00 4.28%,#ff1e00 5.10%,#ff2400 5.21%,#ff5600 5.41%,#ffdf00 5.93%,#fdff00 6.13%,#bcff00 6.55%,#59ff00 7.37%,#19ff00 7.78%,#03ff00 8.30%,#00ff24 8.81%,#00ff63 9.22%,#00ff8f 9.84%,#00ff9a 10.05%,#00ffa9 12.72%,#00ff3c 13.13%,#00ff3d 13.75%,#00ff4f 13.96%,#00ff84 14.16%,#00ffab 14.37%,#00ffc6 15.29%,#00ffdb 15.81%,#00ffe9 16.22%,#00fffa 16.32%,#00e0ff 16.53%,#00d0ff 16.63%,#00b9ff 19.00%,#00bdff 19.10%,#00f7ff 19.31%,#00ffeb 19.41%,#00ff54 20.03%,#00ff3f 20.13%,#00ff36 20.85%,#00ff3a 20.96%,#00ffb0 21.37%,#00fff1 22.09%,#00ffff 22.29%,#00c0ff 22.91%,#0094ff 24.04%,#0093ff 26.20%,#00a3ff 26.82%,#00b9ff 27.44%,#00b4ff 27.85%,#0090ff 28.78%,#0087ff 29.91%,#008aff 30.94%,#0097ff 31.35%,#00b6ff 31.76%,#00e5ff 32.28%,#00f1ff 32.59%,#00e7ff 32.89%,#00b5ff 33.41%,#008fff 33.82%,#0077ff 34.34%,#0068ff 35.88%,#0069ff 36.70%,#007fff 37.53%,#0077ff 37.94%,#004dff 38.76%,#0041ff 39.48%,#0037ff 49.46%,#0072ff 60.58%,#00a2ff 64.70%,#00cdff 68.81%,#00fffc 71.80%,#00ffd6 73.14%,#00ffa5 74.17%,#00ff71 74.89%,#00ff33 75.50%,#01ff00 75.92%,#60ff00 76.53%,#fcff00 77.36%,#ff8400 78.08%,#ff4e00 78.49%,#ff2c00 78.90%,#ff2000 79.31%,#ff2300 79.83%,#ff3a00 80.24%,#ff6500 80.65%,#ffc200 81.27%,#fff500 81.58%,#f8ff00 81.68%,#93ff00 82.30%,#43ff00 82.91%,#06ff00 83.53%,#00ff0c 83.74%,#00ffe1 86.62%,#00feff 87.24%,#00d8ff 88.27%,#00c4ff 89.50%,#00a6ff 96.71%,#009fff 97.32%,#0068ff 98.56%,#005bff 100.00%)"></div><div style="top:106.4px;height:2.5px;background:linear-gradient(90deg,#ffa100 0.16%,#ff5500 1.91%,#ff3900 2.43%,#ff2000 3.25%,#ff1b00 4.18%,#ff1e00 5.10%,#ff2300 5.21%,#ff5400 5.41%,#ffc300 5.83%,#ffdd00 5.93%,#ffff00 6.13%,#bdff00 6.55%,#56ff00 7.37%,#18ff00 7.78%,#01ff00 8.30%,#00ff28 8.81%,#00ff65 9.22%,#00ff8b 9.74%,#00ff9b 10.05%,#00ffaa 12.72%,#00ff3c 13.13%,#00ff3d 13.75%,#00ff51 13.96%,#00ff87 14.16%,#00ffac 14.37%,#00ffc7 15.29%,#00ffde 15.81%,#00ffec 16.22%,#00fffd 16.32%,#00cfff 16.63%,#00b9ff 19.00%,#00bdff 19.10%,#00f7ff 19.31%,#00ffeb 19.41%,#00ff54 20.03%,#00ff3f 20.13%,#00ff36 20.85%,#00ff39 20.96%,#00ffaf 21.37%,#00fff2 22.09%,#00feff 22.29%,#00baff 23.01%,#0093ff 24.04%,#0092ff 26.20%,#00a2ff 26.82%,#00b7ff 27.44%,#00b3ff 27.85%,#008fff 28.78%,#0086ff 29.91%,#0089ff 31.04%,#0098ff 31.45%,#00c2ff 31.97%,#00e6ff 32.38%,#00f0ff 32.69%,#00e3ff 33.00%,#0092ff 33.82%,#007aff 34.23%,#006cff 35.06%,#0065ff 36.50%,#0075ff 37.11%,#007eff 37.63%,#006fff 38.04%,#004eff 38.66%,#0041ff 39.28%,#0037ff 49.46%,#0070ff 60.58%,#00a0ff 64.80%,#00ccff 68.92%,#00fffc 71.90%,#00ffd5 73.24%,#00ffa7 74.17%,#00ff73 74.89%,#00ff35 75.50%,#00ff02 75.92%,#4dff00 76.43%,#d2ff00 77.15%,#fbff00 77.36%,#ffb800 77.77%,#ff6700 78.28%,#ff3a00 78.69%,#ff2300 79.11%,#ff1f00 79.62%,#ff2c00 80.03%,#ff4d00 80.44%,#ff9100 80.96%,#fff600 81.58%,#f6ff00 81.68%,#92ff00 82.30%,#42ff00 82.91%,#05ff00 83.53%,#00ff0c 83.74%,#00ffe1 86.62%,#00fdff 87.24%,#00d6ff 88.27%,#00c2ff 89.50%,#00b0ff 94.55%,#00a2ff 97.22%,#0067ff 98.56%,#005bff 100.00%)"></div><div style="top:108.4px;height:2.5px;background:linear-gradient(90deg,#ffa400 0.16%,#ff5100 2.02%,#ff3c00 2.43%,#ff2000 3.36%,#ff1a00 4.08%,#ff1e00 5.10%,#ff2300 5.21%,#ff3800 5.31%,#ffdb00 5.93%,#fffe00 6.13%,#afff00 6.65%,#54ff00 7.37%,#25ff00 7.68%,#17ff00 7.78%,#00ff00 8.30%,#00ff2c 8.81%,#00ff68 9.22%,#00ff8d 9.74%,#00ff9c 10.05%,#00ffaa 12.72%,#00ff3c 13.13%,#00ff3d 13.75%,#00ff53 13.96%,#00ff89 14.16%,#00ffac 14.37%,#00ffc2 15.19%,#00ffdd 15.71%,#00ffef 16.22%,#00ffff 16.32%,#00cfff 16.63%,#00c0ff 17.97%,#00b8ff 19.00%,#00bcff 19.10%,#00f7ff 19.31%,#00ffeb 19.41%,#00ff54 20.03%,#00ff3f 20.13%,#00ff36 20.85%,#00ff39 20.96%,#00ffae 21.37%,#00fff3 22.09%,#00fcff 22.29%,#00b9ff 23.01%,#0092ff 24.04%,#0090ff 26.20%,#00a0ff 26.82%,#00b6ff 27.44%,#00b2ff 27.85%,#008eff 28.78%,#0084ff 29.91%,#0086ff 31.04%,#0098ff 31.56%,#00c4ff 32.07%,#00e7ff 32.48%,#00eeff 32.79%,#00deff 33.10%,#008dff 33.92%,#0077ff 34.34%,#0068ff 35.26%,#0063ff 36.50%,#0074ff 37.11%,#007eff 37.53%,#0078ff 37.83%,#004fff 38.55%,#0040ff 39.17%,#0037ff 49.46%,#0070ff 60.68%,#00a0ff 65.01%,#00cbff 69.02%,#00fffc 72.00%,#00ffd8 73.24%,#00ffaa 74.17%,#00ff76 74.89%,#00ff38 75.50%,#00ff04 75.92%,#1aff00 76.12%,#81ff00 76.74%,#faff00 77.36%,#ffdd00 77.56%,#ff7500 78.18%,#ff4200 78.59%,#ff2600 79.00%,#ff1e00 79.52%,#ff2600 79.93%,#ff4300 80.34%,#ff7400 80.75%,#fff700 81.58%,#f5ff00 81.68%,#90ff00 82.30%,#41ff00 82.91%,#05ff00 83.53%,#00ff0d 83.74%,#00ffe1 86.62%,#00fdff 87.24%,#00d5ff 88.27%,#00c0ff 89.50%,#00afff 94.34%,#00a2ff 97.22%,#0067ff 98.56%,#005aff 100.00%)"></div><div style="top:110.4px;height:2.5px;background:linear-gradient(90deg,#ffa800 0.16%,#ff5300 2.02%,#ff3f00 2.43%,#ff2100 3.36%,#ff1a00 4.08%,#ff1e00 5.10%,#ff2300 5.21%,#ff3600 5.31%,#ffd900 5.93%,#fffd00 6.13%,#afff00 6.65%,#51ff00 7.37%,#23ff00 7.68%,#16ff00 7.78%,#00ff01 8.30%,#00ff30 8.81%,#00ff6a 9.22%,#00ff8e 9.74%,#00ff9d 10.05%,#00ffab 12.72%,#00ff3b 13.13%,#00ff3c 13.75%,#00ff55 13.96%,#00ff8b 14.16%,#00ffac 14.37%,#00ffc2 15.19%,#00ffe0 15.71%,#00fff2 16.22%,#00fcff 16.32%,#00ceff 16.63%,#00c3ff 17.56%,#00b8ff 19.00%,#00bcff 19.10%,#00f7ff 19.31%,#00ffeb 19.41%,#00ff54 20.03%,#00ff3f 20.13%,#00ff36 20.85%,#00ff39 20.96%,#00ffad 21.37%,#00ffed 21.98%,#00fbff 22.29%,#00b9ff 23.01%,#0091ff 24.04%,#008fff 26.20%,#009fff 26.82%,#00b4ff 27.44%,#00b1ff 27.85%,#008dff 28.78%,#0083ff 29.81%,#0085ff 31.14%,#0093ff 31.56%,#00b2ff 31.97%,#00e2ff 32.48%,#00edff 32.79%,#00e2ff 33.10%,#008fff 33.92%,#0077ff 34.34%,#0068ff 35.06%,#0061ff 36.50%,#0074ff 37.11%,#007dff 37.53%,#0075ff 37.83%,#004cff 38.55%,#003fff 39.17%,#0036ff 49.46%,#006eff 60.68%,#009eff 65.11%,#00caff 69.12%,#00fffd 72.11%,#00ffd6 73.34%,#00ffa6 74.27%,#00ff6f 74.99%,#00ff2e 75.61%,#00ff06 75.92%,#09ff00 76.02%,#6dff00 76.64%,#f9ff00 77.36%,#ffde00 77.56%,#ff7500 78.18%,#ff4200 78.59%,#ff2500 79.00%,#ff1d00 79.52%,#ff2600 79.93%,#ff4300 80.34%,#ff7400 80.75%,#fff800 81.58%,#f4ff00 81.68%,#8fff00 82.30%,#40ff00 82.91%,#04ff00 83.53%,#00ff15 83.84%,#00ffe7 86.72%,#00fcff 87.24%,#00d4ff 88.27%,#00beff 89.50%,#00aeff 94.13%,#00a1ff 97.22%,#0066ff 98.56%,#005aff 100.00%)"></div><div style="top:112.4px;height:2.5px;background:linear-gradient(90deg,#ffab00 0.16%,#ff4a00 2.22%,#ff2100 3.36%,#ff1a00 4.08%,#ff1e00 5.10%,#ff2300 5.21%,#ff3500 5.31%,#ffd700 5.93%,#fffc00 6.13%,#a0ff00 6.75%,#4eff00 7.37%,#2eff00 7.58%,#15ff00 7.78%,#00ff03 8.30%,#00ff34 8.81%,#00ff6c 9.22%,#00ff90 9.74%,#00ff9f 10.15%,#00ffab 12.72%,#00ff3b 13.13%,#00ff3c 13.75%,#00ff57 13.96%,#00ff8d 14.16%,#00ffad 14.37%,#00ffc3 15.19%,#00ffe2 15.71%,#00fff5 16.22%,#00faff 16.32%,#00ceff 16.63%,#00c4ff 17.35%,#00b7ff 19.00%,#00bbff 19.10%,#00f6ff 19.31%,#00ffeb 19.41%,#00ff54 20.03%,#00ff3f 20.13%,#00ff36 20.85%,#00ff39 20.96%,#00ffad 21.37%,#00ffef 21.98%,#00fffd 22.19%,#00e8ff 22.50%,#00b9ff 23.01%,#0090ff 24.04%,#008eff 26.20%,#009dff 26.82%,#00b3ff 27.44%,#00b0ff 27.85%,#0089ff 28.88%,#0080ff 30.42%,#0083ff 31.25%,#0093ff 31.66%,#00bfff 32.17%,#00e3ff 32.59%,#00ecff 32.89%,#00ddff 33.20%,#008aff 34.03%,#0073ff 34.44%,#0064ff 35.26%,#0060ff 36.50%,#0073ff 37.11%,#007bff 37.53%,#0073ff 37.83%,#004eff 38.45%,#003eff 39.07%,#0036ff 49.46%,#0052ff 55.43%,#006dff 60.68%,#009eff 65.42%,#00c9ff 69.23%,#00fffd 72.21%,#00ffd4 73.45%,#00ffa2 74.37%,#00ff68 75.09%,#00ff23 75.71%,#00ff08 75.92%,#07ff00 76.02%,#6bff00 76.64%,#f8ff00 77.36%,#fff200 77.46%,#ff8400 78.08%,#ff4c00 78.49%,#ff2a00 78.90%,#ff1d00 79.31%,#ff2200 79.83%,#ff3900 80.24%,#ff6700 80.65%,#ffc600 81.27%,#fffa00 81.58%,#e0ff00 81.78%,#7fff00 82.40%,#34ff00 83.02%,#03ff00 83.53%,#00ff34 84.25%,#00ffe7 86.72%,#00fcff 87.24%,#00d2ff 88.27%,#00bdff 89.40%,#00adff 93.72%,#00a1ff 97.22%,#0065ff 98.56%,#0059ff 100.00%)"></div><div style="top:114.4px;height:2.5px;background:linear-gradient(90deg,#ffae00 0.16%,#ff4500 2.43%,#ff3100 2.94%,#ff2000 3.46%,#ff1a00 3.97%,#ff1f00 5.10%,#ff2300 5.21%,#ff3300 5.31%,#ffd500 5.93%,#fffb00 6.13%,#ceff00 6.44%,#67ff00 7.16%,#2cff00 7.58%,#14ff00 7.78%,#01ff00 8.19%,#00ff0e 8.40%,#00ff46 8.91%,#00ff6e 9.22%,#00ff92 9.74%,#00ffa0 10.15%,#00ffac 12.72%,#00ff3a 13.13%,#00ff3c 13.75%,#00ff59 13.96%,#00ff8f 14.16%,#00ffad 14.37%,#00ffc3 15.19%,#00ffe1 15.60%,#00fff9 16.22%,#00f7ff 16.32%,#00cdff 16.63%,#00c4ff 17.25%,#00b7ff 19.00%,#00bbff 19.10%,#00f6ff 19.31%,#00ffeb 19.41%,#00ff54 20.03%,#00ff3f 20.13%,#00ff36 20.85%,#00ff39 20.96%,#00ffac 21.37%,#00fff0 21.98%,#00fffe 22.19%,#00ddff 22.60%,#00b9ff 23.01%,#008fff 24.04%,#008dff 26.20%,#009bff 26.82%,#00b1ff 27.44%,#00afff 27.85%,#0088ff 28.88%,#007eff 30.32%,#0082ff 31.35%,#0094ff 31.76%,#00c1ff 32.28%,#00e4ff 32.69%,#00eaff 33.00%,#00d8ff 33.31%,#008cff 34.03%,#0073ff 34.44%,#0063ff 35.16%,#005dff 36.39%,#006eff 37.01%,#007aff 37.42%,#0075ff 37.73%,#004bff 38.45%,#003cff 39.07%,#0036ff 49.46%,#004eff 54.41%,#006bff 60.68%,#00a1ff 65.93%,#00c9ff 69.43%,#00fffd 72.31%,#00ffd7 73.45%,#00ffa4 74.37%,#00ff6a 75.09%,#00ff26 75.71%,#04ff00 76.02%,#6aff00 76.64%,#f7ff00 77.36%,#fff200 77.46%,#ff8400 78.08%,#ff4c00 78.49%,#ff2900 78.90%,#ff1d00 79.31%,#ff2100 79.83%,#ff3900 80.24%,#ff6700 80.65%,#ffc700 81.27%,#fffb00 81.58%,#cdff00 81.89%,#70ff00 82.50%,#28ff00 83.12%,#03ff00 83.53%,#00ffe7 86.72%,#00fffe 87.13%,#00d1ff 88.27%,#00bbff 89.40%,#00acff 93.52%,#00a3ff 96.50%,#00a0ff 97.22%,#0065ff 98.56%,#0059ff 100.00%)"></div><div style="top:116.4px;height:2.5px;background:linear-gradient(90deg,#ffb200 0.16%,#ff4800 2.43%,#ff3800 2.84%,#ff2300 3.36%,#ff1a00 3.97%,#ff1f00 5.10%,#ff2300 5.21%,#ff3200 5.31%,#ffd300 5.93%,#fff900 6.13%,#e0ff00 6.34%,#81ff00 6.96%,#49ff00 7.37%,#2aff00 7.58%,#13ff00 7.78%,#00ff00 8.19%,#00ff10 8.40%,#00ff57 9.02%,#00ff71 9.22%,#00ff90 9.63%,#00ffa1 10.15%,#00ffac 12.72%,#00ff3a 13.13%,#00ff3b 13.75%,#00ff5b 13.96%,#00ff92 14.16%,#00ffad 14.37%,#00ffc4 15.19%,#00ffe4 15.60%,#00fffc 16.22%,#00cdff 16.63%,#00c3ff 17.15%,#00b6ff 19.00%,#00baff 19.10%,#00f6ff 19.31%,#00ffeb 19.41%,#00ff54 20.03%,#00ff3f 20.13%,#00ff36 20.85%,#00ff39 20.96%,#00ffab 21.37%,#00fff1 21.98%,#00ffff 22.19%,#00b9ff 23.01%,#008eff 24.04%,#008bff 26.20%,#009aff 26.82%,#00b0ff 27.44%,#00aeff 27.85%,#0087ff 28.88%,#007dff 30.32%,#007fff 31.35%,#008eff 31.76%,#00afff 32.17%,#00dfff 32.69%,#00eaff 33.00%,#00dbff 33.31%,#0087ff 34.13%,#006fff 34.54%,#005fff 35.36%,#005bff 36.39%,#006eff 37.01%,#0079ff 37.42%,#0073ff 37.73%,#0048ff 38.45%,#003bff 39.07%,#0036ff 49.46%,#004bff 53.79%,#0069ff 60.68%,#00bfff 68.92%,#00fcff 72.21%,#00ffe9 73.03%,#00ffba 74.06%,#00ff7f 74.89%,#00ff41 75.50%,#02ff00 76.02%,#68ff00 76.64%,#f6ff00 77.36%,#fff300 77.46%,#ff8400 78.08%,#ff4c00 78.49%,#ff2900 78.90%,#ff1c00 79.31%,#ff2100 79.83%,#ff3900 80.24%,#ff6700 80.65%,#ffc800 81.27%,#fffc00 81.58%,#8bff00 82.30%,#3dff00 82.91%,#02ff00 83.53%,#00ffe7 86.72%,#00fffe 87.13%,#00d3ff 88.16%,#00bbff 89.30%,#00acff 92.80%,#00a5ff 95.99%,#00a0ff 97.22%,#0064ff 98.56%,#0058ff 100.00%)"></div><div style="top:118.4px;height:2.5px;background:linear-gradient(90deg,#ffb500 0.16%,#ff6a00 1.71%,#ff4800 2.53%,#ff2400 3.36%,#ff1a00 3.97%,#ff2300 5.21%,#ff3000 5.31%,#ff6600 5.52%,#ffd000 5.93%,#fff800 6.13%,#f3ff00 6.24%,#8eff00 6.85%,#46ff00 7.37%,#28ff00 7.58%,#12ff00 7.78%,#00ff02 8.19%,#00ff07 8.30%,#00ff73 9.22%,#00ff93 9.63%,#00ffa2 10.15%,#00ffac 12.72%,#00ff39 13.13%,#00ff3b 13.75%,#00ff5d 13.96%,#00ff94 14.16%,#00ffad 14.37%,#00ffc5 15.19%,#00ffe6 15.60%,#00ffff 16.22%,#00ccff 16.63%,#00c3ff 17.04%,#00b6ff 19.00%,#00baff 19.10%,#00f6ff 19.31%,#00ffec 19.41%,#00ff54 20.03%,#00ff3f 20.13%,#00ff36 20.85%,#00ff39 20.96%,#00ffaa 21.37%,#00fff2 21.98%,#00fdff 22.19%,#00b9ff 23.01%,#008dff 24.04%,#008bff 26.31%,#00a1ff 27.03%,#00b0ff 27.54%,#00aaff 27.95%,#0085ff 28.88%,#007cff 30.22%,#007cff 31.35%,#0089ff 31.76%,#00a7ff 32.17%,#00e0ff 32.79%,#00e8ff 33.10%,#00d6ff 33.41%,#008aff 34.13%,#006fff 34.54%,#005eff 35.26%,#005aff 36.39%,#006dff 37.01%,#0078ff 37.42%,#0070ff 37.73%,#0049ff 38.35%,#003aff 38.97%,#0036ff 49.46%,#0049ff 53.48%,#0068ff 60.68%,#00bdff 68.92%,#00f9ff 72.21%,#00fff9 72.62%,#00ffcd 73.75%,#00ff9b 74.58%,#00ff5a 75.30%,#00ff0f 75.92%,#00ff00 76.02%,#66ff00 76.64%,#f6ff00 77.36%,#fff400 77.46%,#ff8400 78.08%,#ff4b00 78.49%,#ff2800 78.90%,#ff1c00 79.31%,#ff2000 79.83%,#ff3900 80.24%,#ff6800 80.65%,#ffc900 81.27%,#fffd00 81.58%,#8aff00 82.30%,#3cff00 82.91%,#02ff00 83.53%,#00ffe7 86.72%,#00fffe 87.13%,#00d2ff 88.16%,#00b9ff 89.30%,#00aaff 92.49%,#00a4ff 95.88%,#009fff 97.22%,#0064ff 98.56%,#0057ff 100.00%)"></div><div style="top:120.4px;height:2.5px;background:linear-gradient(90deg,#ffb800 0.16%,#ff6b00 1.71%,#ff4b00 2.53%,#ff2500 3.36%,#ff1900 3.97%,#ff2200 5.21%,#ff2f00 5.31%,#ff4700 5.41%,#ffb500 5.83%,#ffe300 6.03%,#fff700 6.13%,#f4ff00 6.24%,#8dff00 6.85%,#31ff00 7.47%,#11ff00 7.78%,#00ff03 8.19%,#00ff08 8.30%,#00ff75 9.22%,#00ff95 9.63%,#00ffa3 10.15%,#00ffad 12.72%,#00ff39 13.13%,#00ff3b 13.75%,#00ff5f 13.96%,#00ff96 14.16%,#00ffae 14.37%,#00ffc5 15.19%,#00ffe9 15.60%,#00fcff 16.22%,#00ccff 16.63%,#00c2ff 17.04%,#00b5ff 19.00%,#00b9ff 19.10%,#00f6ff 19.31%,#00ffec 19.41%,#00ff54 20.03%,#00ff3f 20.13%,#00ff36 20.85%,#00ff39 20.96%,#00ffa9 21.37%,#00fff4 21.98%,#00fcff 22.19%,#00b9ff 23.01%,#008cff 24.04%,#008aff 26.31%,#009fff 27.03%,#00afff 27.54%,#00a9ff 27.95%,#0084ff 28.88%,#007aff 30.22%,#007bff 31.45%,#0089ff 31.86%,#00a9ff 32.28%,#00dbff 32.79%,#00e7ff 33.10%,#00daff 33.41%,#0084ff 34.23%,#006bff 34.64%,#005aff 35.47%,#0058ff 36.39%,#006dff 37.01%,#0076ff 37.32%,#0072ff 37.63%,#0046ff 38.35%,#0038ff 38.97%,#0036ff 49.57%,#0048ff 53.27%,#0066ff 60.68%,#00b9ff 68.81%,#00f2ff 72.00%,#00fffc 72.62%,#00ffd0 73.75%,#00ff9d 74.58%,#00ff5d 75.30%,#00ff11 75.92%,#00ff02 76.02%,#40ff00 76.43%,#b5ff00 77.05%,#f5ff00 77.36%,#fff500 77.46%,#ff8400 78.08%,#ff4b00 78.49%,#ff2e00 78.80%,#ff1d00 79.21%,#ff1d00 79.72%,#ff3000 80.14%,#ff5a00 80.55%,#ffa700 81.06%,#fffe00 81.58%,#98ff00 82.19%,#52ff00 82.71%,#13ff00 83.33%,#01ff00 83.53%,#00ffe7 86.72%,#00ffff 87.13%,#00d1ff 88.16%,#00b7ff 89.30%,#00a9ff 92.18%,#00a4ff 95.88%,#009fff 97.22%,#0063ff 98.56%,#0057ff 100.00%)"></div><div style="top:122.4px;height:2.5px;background:linear-gradient(90deg,#ffbc00 0.16%,#ff6d00 1.71%,#ff4d00 2.53%,#ff2600 3.36%,#ff1900 3.97%,#ff2200 5.21%,#ff2d00 5.31%,#ff4500 5.41%,#ffb300 5.83%,#fff600 6.13%,#f5ff00 6.24%,#8cff00 6.85%,#2eff00 7.47%,#0fff00 7.78%,#01ff00 8.09%,#00ff09 8.30%,#00ff78 9.22%,#00ff97 9.63%,#00ffa4 10.15%,#00ffad 12.72%,#00ff38 13.13%,#00ff3a 13.75%,#00ff61 13.96%,#00ff98 14.16%,#00ffae 14.37%,#00ffc6 15.19%,#00ffeb 15.60%,#00feff 16.12%,#00f9ff 16.22%,#00ccff 16.63%,#00c2ff 17.04%,#00b5ff 19.00%,#00b9ff 19.10%,#00f5ff 19.31%,#00ffec 19.41%,#00ff54 20.03%,#00ff3f 20.13%,#00ff36 20.85%,#00ff39 20.96%,#00ffa8 21.37%,#00fff5 21.98%,#00fbff 22.19%,#00b9ff 23.01%,#008bff 24.04%,#0088ff 26.31%,#009dff 27.03%,#00adff 27.54%,#00a8ff 27.95%,#0083ff 28.88%,#0079ff 30.12%,#0078ff 31.45%,#008aff 31.97%,#00acff 32.38%,#00dcff 32.89%,#00e5ff 33.20%,#00d5ff 33.51%,#007eff 34.34%,#0067ff 34.75%,#0057ff 35.57%,#0057ff 36.39%,#0075ff 37.32%,#006fff 37.63%,#0043ff 38.35%,#0036ff 38.97%,#0036ff 49.57%,#0047ff 53.07%,#0064ff 60.68%,#00b6ff 68.81%,#00efff 72.00%,#00fffb 72.73%,#00ffd3 73.75%,#00ffa0 74.58%,#00ff5f 75.30%,#00ff13 75.92%,#00ff04 76.02%,#1bff00 76.22%,#8aff00 76.84%,#f4ff00 77.36%,#fff500 77.46%,#ff8400 78.08%,#ff4b00 78.49%,#ff2e00 78.80%,#ff1c00 79.21%,#ff1c00 79.72%,#ff3000 80.14%,#ff5b00 80.55%,#ffa800 81.06%,#feff00 81.58%,#96ff00 82.19%,#51ff00 82.71%,#12ff00 83.33%,#01ff00 83.53%,#00ffd3 86.41%,#00ffff 87.13%,#00d0ff 88.16%,#00b5ff 89.30%,#00a8ff 91.87%,#00a3ff 95.88%,#009eff 97.22%,#0063ff 98.56%,#0056ff 100.00%)"></div><div style="top:124.4px;height:2.5px;background:linear-gradient(90deg,#ffbf00 0.16%,#ff7200 1.61%,#ff4700 2.74%,#ff2600 3.36%,#ff1900 3.97%,#ff2200 5.21%,#ff2c00 5.31%,#ff4300 5.41%,#ffb100 5.83%,#fff500 6.13%,#f6ff00 6.24%,#7bff00 6.96%,#2cff00 7.47%,#0eff00 7.78%,#00ff01 8.09%,#00ff0b 8.30%,#00ff64 9.02%,#00ff82 9.32%,#00ff99 9.63%,#00ffa5 10.25%,#00ffae 12.72%,#00ff38 13.13%,#00ff3a 13.75%,#00ff63 13.96%,#00ff9a 14.16%,#00ffae 14.37%,#00ffc7 15.19%,#00ffed 15.60%,#00ffff 16.01%,#00f6ff 16.22%,#00cbff 16.63%,#00c1ff 17.04%,#00b4ff 19.00%,#00b8ff 19.10%,#00f5ff 19.31%,#00ffec 19.41%,#00ff54 20.03%,#00ff3f 20.13%,#00ff36 20.85%,#00ff39 20.96%,#00ffa8 21.37%,#00fff6 21.98%,#00faff 22.19%,#00b9ff 23.01%,#008aff 24.04%,#0087ff 26.31%,#0097ff 26.92%,#00acff 27.54%,#00a7ff 27.95%,#0082ff 28.88%,#0077ff 30.12%,#0077ff 31.56%,#0084ff 31.97%,#00a4ff 32.38%,#00d7ff 32.89%,#00e4ff 33.20%,#00d8ff 33.51%,#0081ff 34.34%,#0067ff 34.75%,#0057ff 35.47%,#0054ff 36.29%,#0067ff 36.91%,#0074ff 37.32%,#006dff 37.63%,#0040ff 38.35%,#0035ff 38.97%,#0036ff 49.57%,#0047ff 52.96%,#0063ff 60.68%,#00b2ff 68.71%,#00eaff 71.90%,#00fffe 72.73%,#00ffd5 73.75%,#00ffa2 74.58%,#00ff62 75.30%,#00ff15 75.92%,#00ff06 76.02%,#09ff00 76.12%,#74ff00 76.74%,#f3ff00 77.36%,#fff600 77.46%,#ff8400 78.08%,#ff4a00 78.49%,#ff2d00 78.80%,#ff1b00 79.21%,#ff1c00 79.72%,#ff3000 80.14%,#ff5b00 80.55%,#ffa900 81.06%,#fdff00 81.58%,#95ff00 82.19%,#50ff00 82.71%,#11ff00 83.33%,#00ff00 83.53%,#00ffc3 86.21%,#00fff9 87.03%,#00f9ff 87.24%,#00cfff 88.16%,#00b5ff 89.19%,#00a8ff 91.15%,#00a1ff 96.09%,#009eff 97.22%,#0062ff 98.56%,#0056ff 100.00%)"></div><div style="top:126.4px;height:2.5px;background:linear-gradient(90deg,#ffc300 0.16%,#ff7400 1.61%,#ff4a00 2.74%,#ff2700 3.36%,#ff1900 3.97%,#ff2200 5.21%,#ff2b00 5.31%,#ff4100 5.41%,#ffaf00 5.83%,#fff400 6.13%,#f7ff00 6.24%,#7aff00 6.96%,#29ff00 7.47%,#0dff00 7.78%,#00ff02 8.09%,#00ff0c 8.30%,#00ff5c 8.91%,#00ff84 9.32%,#00ff9c 9.63%,#00ffa6 10.25%,#00ffae 12.72%,#00ff37 13.13%,#00ff3a 13.75%,#00ff65 13.96%,#00ff9c 14.16%,#00ffae 14.37%,#00ffc7 15.19%,#00fff0 15.60%,#00fcff 16.01%,#00f2ff 16.22%,#00cbff 16.63%,#00c1ff 16.94%,#00b4ff 19.00%,#00b8ff 19.10%,#00f5ff 19.31%,#00ffec 19.41%,#00ff54 20.03%,#00ff3f 20.13%,#00ff36 20.85%,#00ff39 20.96%,#00ffa7 21.37%,#00fff8 21.98%,#00fffe 22.09%,#00b9ff 23.01%,#0089ff 24.04%,#0086ff 26.31%,#0096ff 26.92%,#00aaff 27.54%,#00a6ff 27.95%,#0080ff 28.88%,#0076ff 30.12%,#0075ff 31.56%,#0085ff 32.07%,#00a6ff 32.48%,#00d8ff 33.00%,#00e2ff 33.31%,#00d3ff 33.61%,#007bff 34.44%,#0062ff 34.85%,#0053ff 35.67%,#0054ff 36.39%,#0072ff 37.22%,#006eff 37.53%,#003dff 38.35%,#0033ff 39.07%,#0035ff 49.57%,#0046ff 52.76%,#0061ff 60.68%,#00aeff 68.61%,#00e5ff 71.80%,#00fffd 72.83%,#00ffd2 73.86%,#00ff9d 74.68%,#00ff59 75.40%,#00ff09 76.02%,#07ff00 76.12%,#73ff00 76.74%,#f2ff00 77.36%,#fff700 77.46%,#ff8400 78.08%,#ff4a00 78.49%,#ff2d00 78.80%,#ff1b00 79.21%,#ff1b00 79.72%,#ff3000 80.14%,#ff5b00 80.55%,#ffaa00 81.06%,#fcff00 81.58%,#93ff00 82.19%,#4eff00 82.71%,#10ff00 83.33%,#00ff01 83.53%,#00ffbb 86.11%,#00fff4 86.93%,#00ffff 87.13%,#00ceff 88.16%,#00b4ff 89.19%,#00a7ff 90.94%,#00a0ff 96.09%,#009dff 97.22%,#0062ff 98.56%,#0055ff 100.00%)"></div><div style="top:128.4px;height:2.5px;background:linear-gradient(90deg,#ffc600 0.16%,#ff7600 1.61%,#ff5300 2.63%,#ff2b00 3.25%,#ff1900 3.87%,#ff2200 5.21%,#ff2900 5.31%,#ff3f00 5.41%,#ffad00 5.83%,#fff200 6.13%,#f8ff00 6.24%,#78ff00 6.96%,#26ff00 7.47%,#07ff00 7.88%,#00ff08 8.19%,#00ff0d 8.30%,#00ff55 8.81%,#00ff86 9.32%,#00ff9e 9.63%,#00ffa7 10.35%,#00ffaf 12.72%,#00ff37 13.13%,#00ff39 13.75%,#00ff68 13.96%,#00ff9f 14.16%,#00ffaf 14.37%,#00ffc8 15.19%,#00fff2 15.60%,#00feff 15.91%,#00efff 16.22%,#00caff 16.63%,#00c0ff 16.94%,#00b3ff 19.00%,#00b7ff 19.10%,#00f5ff 19.31%,#00ffec 19.41%,#00ff54 20.03%,#00ff3f 20.13%,#00ff36 20.85%,#00ff39 20.96%,#00ffa6 21.37%,#00fff9 21.98%,#00feff 22.09%,#00b9ff 23.01%,#0088ff 24.04%,#0085ff 26.31%,#0094ff 26.92%,#00a9ff 27.54%,#00a4ff 27.95%,#007fff 28.88%,#0075ff 30.01%,#0073ff 31.66%,#0080ff 32.07%,#009eff 32.48%,#00d2ff 33.00%,#00e1ff 33.31%,#00d6ff 33.61%,#00abff 34.03%,#0075ff 34.54%,#005eff 34.95%,#0050ff 35.78%,#0053ff 36.39%,#0071ff 37.22%,#006cff 37.53%,#003bff 38.35%,#0031ff 39.07%,#0035ff 49.57%,#0045ff 52.66%,#005fff 60.68%,#00acff 68.61%,#00e2ff 71.80%,#00fffc 72.93%,#00ffcf 73.96%,#00ff97 74.78%,#00ff5b 75.40%,#00ff0b 76.02%,#05ff00 76.12%,#71ff00 76.74%,#f1ff00 77.36%,#fff800 77.46%,#ff8400 78.08%,#ff4900 78.49%,#ff2c00 78.80%,#ff1a00 79.21%,#ff1b00 79.72%,#ff3000 80.14%,#ff5c00 80.55%,#ffab00 81.06%,#fff200 81.47%,#faff00 81.58%,#92ff00 82.19%,#4dff00 82.71%,#10ff00 83.33%,#00ff01 83.53%,#00ffab 85.90%,#00ffee 86.83%,#00feff 87.13%,#00cdff 88.16%,#00b2ff 89.19%,#00a6ff 90.84%,#009fff 96.19%,#009cff 97.22%,#0061ff 98.56%,#0055ff 100.00%)"></div><div style="top:130.4px;height:2.5px;background:linear-gradient(90deg,#ffc900 0.16%,#ff7800 1.61%,#ff5600 2.63%,#ff2c00 3.25%,#ff1900 3.87%,#ff2200 5.21%,#ff2800 5.31%,#ff3d00 5.41%,#ff9200 5.72%,#fff100 6.13%,#f9ff00 6.24%,#77ff00 6.96%,#23ff00 7.47%,#06ff00 7.88%,#00ff04 8.09%,#00ff0f 8.30%,#00ff59 8.81%,#00ff91 9.43%,#00ffa0 9.63%,#00ffa9 10.56%,#00ffb2 12.62%,#00ffaf 12.72%,#00ff37 13.13%,#00ff39 13.75%,#00ff6a 13.96%,#00ffa1 14.16%,#00ffb2 14.47%,#00ffc8 15.19%,#00fff5 15.60%,#00fbff 15.91%,#00e3ff 16.32%,#00c5ff 16.74%,#00beff 17.15%,#00b3ff 19.00%,#00b7ff 19.10%,#00f4ff 19.31%,#00ffec 19.41%,#00ff54 20.03%,#00ff3f 20.13%,#00ff36 20.85%,#00ff39 20.96%,#00ffa5 21.37%,#00fffa 21.98%,#00f6ff 22.19%,#00b9ff 23.01%,#0087ff 24.04%,#0083ff 26.31%,#0093ff 26.92%,#00a8ff 27.54%,#00a3ff 27.95%,#007eff 28.88%,#0073ff 30.01%,#0071ff 31.66%,#0080ff 32.17%,#00a0ff 32.59%,#00d4ff 33.10%,#00dfff 33.41%,#00d1ff 33.72%,#0078ff 34.54%,#005eff 34.95%,#004fff 35.67%,#0050ff 36.29%,#006fff 37.22%,#0069ff 37.53%,#003cff 38.25%,#0030ff 38.86%,#0035ff 49.57%,#0045ff 52.55%,#005eff 60.68%,#00a8ff 68.51%,#00deff 71.70%,#00ffff 72.93%,#00ffd2 73.96%,#00ff9a 74.78%,#00ff5e 75.40%,#03ff00 76.12%,#5cff00 76.64%,#f0ff00 77.36%,#fff900 77.46%,#ff8400 78.08%,#ff4900 78.49%,#ff2c00 78.80%,#ff1a00 79.21%,#ff1a00 79.72%,#ff2f00 80.14%,#ff5c00 80.55%,#ffac00 81.06%,#fff300 81.47%,#f9ff00 81.58%,#90ff00 82.19%,#4cff00 82.71%,#0fff00 83.33%,#00ff02 83.53%,#00ffaa 85.90%,#00ffee 86.83%,#00feff 87.13%,#00ccff 88.16%,#00b0ff 89.19%,#00a4ff 90.84%,#009fff 96.19%,#009cff 97.22%,#0061ff 98.56%,#0054ff 100.00%)"></div><div style="top:132.4px;height:2.5px;background:linear-gradient(90deg,#ffcd00 0.16%,#ff7f00 1.50%,#ff5900 2.63%,#ff2d00 3.25%,#ff1800 3.87%,#ff2200 5.21%,#ff2600 5.31%,#ff3b00 5.41%,#ff9000 5.72%,#fff000 6.13%,#faff00 6.24%,#75ff00 6.96%,#21ff00 7.47%,#05ff00 7.88%,#00ff06 8.09%,#00ff10 8.30%,#00ff5d 8.81%,#00ff9b 9.53%,#00ffa2 9.63%,#00ffae 11.49%,#00ffb0 12.72%,#00ff36 13.13%,#00ff39 13.75%,#00ffa3 14.16%,#00ffb2 14.47%,#00ffc9 15.19%,#00fff7 15.60%,#00f8ff 15.91%,#00e1ff 16.32%,#00c5ff 16.74%,#00bdff 17.15%,#00b2ff 19.00%,#00b7ff 19.10%,#00f4ff 19.31%,#00ffec 19.41%,#00ff54 20.03%,#00ff3f 20.13%,#00ff36 20.85%,#00ff39 20.96%,#00ffa4 21.37%,#00fffb 21.98%,#00e6ff 22.40%,#00b4ff 23.12%,#0086ff 24.04%,#0082ff 26.31%,#0091ff 26.92%,#00a6ff 27.54%,#00a2ff 27.95%,#007dff 28.88%,#0072ff 30.01%,#006fff 31.76%,#007bff 32.17%,#0099ff 32.59%,#00d5ff 33.20%,#00ddff 33.51%,#00ccff 33.82%,#007bff 34.54%,#005eff 34.95%,#004eff 35.57%,#004eff 36.29%,#006cff 37.11%,#006aff 37.42%,#0039ff 38.25%,#002fff 38.97%,#0035ff 49.57%,#0045ff 52.45%,#005dff 60.79%,#00a5ff 68.51%,#00dbff 71.70%,#00fffe 73.03%,#00ffcf 74.06%,#00ff9c 74.78%,#00ff60 75.40%,#00ff0f 76.02%,#01ff00 76.12%,#5aff00 76.64%,#efff00 77.36%,#fff900 77.46%,#ff8400 78.08%,#ff4900 78.49%,#ff2b00 78.80%,#ff1900 79.21%,#ff1a00 79.72%,#ff2f00 80.14%,#ff5c00 80.55%,#ffad00 81.06%,#fff400 81.47%,#f7ff00 81.58%,#8fff00 82.19%,#4bff00 82.71%,#0eff00 83.33%,#00ff03 83.53%,#00ffa2 85.80%,#00ffed 86.83%,#00feff 87.13%,#00cbff 88.16%,#00afff 89.19%,#00a2ff 90.74%,#00a2ff 94.65%,#009bff 97.22%,#0060ff 98.56%,#0054ff 100.00%)"></div><div style="top:134.4px;height:2.5px;background:linear-gradient(90deg,#ffd000 0.16%,#ff8700 1.40%,#ff7200 1.91%,#ff5b00 2.63%,#ff2e00 3.25%,#ff1800 3.87%,#ff2100 5.21%,#ff2500 5.31%,#ff3900 5.41%,#ff8e00 5.72%,#ffef00 6.13%,#fbff00 6.24%,#74ff00 6.96%,#1eff00 7.47%,#04ff00 7.88%,#00ff11 8.30%,#00ff61 8.81%,#00ffa5 9.63%,#00ffb3 12.62%,#00ffb0 12.72%,#00ff36 13.13%,#00ff39 13.75%,#00ffa5 14.16%,#00ffbc 14.78%,#00ffca 15.19%,#00fffa 15.60%,#00faff 15.81%,#00d7ff 16.43%,#00bfff 16.84%,#00b2ff 19.00%,#00b6ff 19.10%,#00f4ff 19.31%,#00ffec 19.41%,#00ff54 20.03%,#00ff3f 20.13%,#00ff36 20.85%,#00ff39 20.96%,#00ffa3 21.37%,#00fffd 21.98%,#00b3ff 23.12%,#0085ff 24.04%,#0081ff 26.31%,#008fff 26.92%,#00a5ff 27.54%,#00a1ff 27.95%,#007cff 28.88%,#0071ff 29.91%,#006dff 31.76%,#007bff 32.28%,#009bff 32.69%,#00cfff 33.20%,#00dcff 33.51%,#00cfff 33.82%,#0074ff 34.64%,#005aff 35.06%,#004bff 35.67%,#004dff 36.29%,#006bff 37.11%,#0067ff 37.42%,#0036ff 38.25%,#002dff 38.97%,#0034ff 49.57%,#0044ff 52.45%,#005bff 60.79%,#00a0ff 68.30%,#00c8ff 70.77%,#00ecff 72.52%,#00fffd 73.14%,#00ffd1 74.06%,#00ff9f 74.78%,#00ff63 75.40%,#00ff11 76.02%,#00ff02 76.12%,#45ff00 76.53%,#c1ff00 77.15%,#eeff00 77.36%,#fffa00 77.46%,#ff8400 78.08%,#ff4800 78.49%,#ff2b00 78.80%,#ff1900 79.21%,#ff1900 79.72%,#ff2f00 80.14%,#ff5d00 80.55%,#ffae00 81.06%,#fff600 81.47%,#f6ff00 81.58%,#8dff00 82.19%,#49ff00 82.71%,#0dff00 83.33%,#00ff03 83.53%,#00ffa2 85.80%,#00ffed 86.83%,#00feff 87.13%,#00caff 88.16%,#00adff 89.19%,#00a1ff 90.63%,#00a0ff 94.24%,#009bff 97.22%,#0060ff 98.56%,#0053ff 100.00%)"></div><div style="top:136.4px;height:2.5px;background:linear-gradient(90deg,#ffd300 0.16%,#ff8e00 1.30%,#ff7a00 1.71%,#ff5e00 2.63%,#ff2f00 3.25%,#ff1800 3.87%,#ff2300 5.31%,#ff3700 5.41%,#ff8c00 5.72%,#ffee00 6.13%,#fcff00 6.24%,#72ff00 6.96%,#1bff00 7.47%,#03ff00 7.88%,#00ff13 8.30%,#00ff66 8.81%,#00ffa7 9.63%,#00ffb3 12.62%,#00ffb0 12.72%,#00ff35 13.13%,#00ff38 13.75%,#00ffa7 14.16%,#00ffca 15.19%,#00fffc 15.60%,#00d5ff 16.43%,#00beff 16.84%,#00b1ff 19.00%,#00b6ff 19.10%,#00f4ff 19.31%,#00ffec 19.41%,#00ff6d 19.93%,#00ff3f 20.13%,#00ff36 20.85%,#00ff39 20.96%,#00ffa2 21.37%,#00fffe 21.98%,#00b3ff 23.12%,#0084ff 24.04%,#007fff 26.31%,#008eff 26.92%,#00a3ff 27.54%,#00a0ff 27.95%,#0078ff 28.98%,#006dff 30.53%,#006dff 31.97%,#007bff 32.38%,#009dff 32.79%,#00d0ff 33.31%,#00daff 33.61%,#00caff 33.92%,#006eff 34.75%,#0055ff 35.16%,#0048ff 35.78%,#004cff 36.29%,#006aff 37.11%,#0064ff 37.42%,#0033ff 38.25%,#002cff 39.07%,#0034ff 49.57%,#0044ff 52.35%,#005aff 60.79%,#009bff 68.09%,#00c3ff 70.67%,#00eaff 72.52%,#00ffff 73.14%,#00ffd4 74.06%,#00ffa1 74.78%,#00ff65 75.40%,#00ff14 76.02%,#00ff04 76.12%,#1eff00 76.33%,#94ff00 76.95%,#edff00 77.36%,#fffb00 77.46%,#ff8400 78.08%,#ff4800 78.49%,#ff2a00 78.80%,#ff1800 79.21%,#ff1900 79.72%,#ff2700 80.03%,#ff4f00 80.44%,#ff9d00 80.96%,#fff700 81.47%,#f4ff00 81.58%,#8cff00 82.19%,#48ff00 82.71%,#0cff00 83.33%,#00ff04 83.53%,#00ff99 85.69%,#00ffed 86.83%,#00feff 87.13%,#00c9ff 88.16%,#00acff 89.19%,#009fff 90.63%,#009eff 94.24%,#009aff 97.22%,#005fff 98.56%,#0053ff 100.00%)"></div><div style="top:138.4px;height:2.5px;background:linear-gradient(90deg,#ffd700 0.16%,#ff9000 1.30%,#ff7c00 1.71%,#ff6100 2.63%,#ff3000 3.25%,#ff1800 3.87%,#ff2200 5.31%,#ff3500 5.41%,#ff8a00 5.72%,#ffec00 6.13%,#fdff00 6.24%,#71ff00 6.96%,#19ff00 7.47%,#01ff00 7.88%,#00ff14 8.30%,#00ff6a 8.81%,#00ffa9 9.63%,#00ffb4 12.62%,#00ffb1 12.72%,#00ff35 13.13%,#00ff38 13.75%,#00ffa9 14.16%,#00ffcb 15.19%,#00ffff 15.60%,#00bdff 16.84%,#00b1ff 19.00%,#00b5ff 19.10%,#00f3ff 19.31%,#00ffed 19.41%,#00ff6d 19.93%,#00ff3f 20.13%,#00ff36 20.85%,#00ff39 20.96%,#00ffa2 21.37%,#00ffff 21.98%,#00b3ff 23.12%,#0083ff 24.04%,#007eff 26.31%,#008cff 26.92%,#00a2ff 27.54%,#009fff 27.95%,#0077ff 28.98%,#006cff 30.42%,#006aff 31.97%,#0076ff 32.38%,#0095ff 32.79%,#00c9ff 33.31%,#00d8ff 33.61%,#00cdff 33.92%,#00a0ff 34.34%,#0071ff 34.75%,#0055ff 35.16%,#0047ff 35.78%,#004bff 36.29%,#0067ff 37.01%,#0065ff 37.32%,#0031ff 38.25%,#002aff 39.17%,#0034ff 49.57%,#0044ff 52.35%,#0058ff 60.79%,#0096ff 67.89%,#00beff 70.56%,#00e7ff 72.52%,#00fffe 73.24%,#00ffd1 74.17%,#00ff9b 74.89%,#00ff5b 75.50%,#00ff16 76.02%,#00ff06 76.12%,#0bff00 76.22%,#69ff00 76.74%,#fffc00 77.46%,#ff8400 78.08%,#ff4800 78.49%,#ff2a00 78.80%,#ff1700 79.21%,#ff1800 79.72%,#ff2700 80.03%,#ff5000 80.44%,#ff9e00 80.96%,#fff800 81.47%,#f3ff00 81.58%,#8aff00 82.19%,#47ff00 82.71%,#0cff00 83.33%,#00ff04 83.53%,#00ff99 85.69%,#00ffed 86.83%,#00feff 87.13%,#00c8ff 88.16%,#00aaff 89.19%,#009dff 90.63%,#009dff 94.13%,#009aff 97.22%,#005eff 98.56%,#0052ff 100.00%)"></div><div style="top:140.4px;height:2.5px;background:linear-gradient(90deg,#ffd900 0.16%,#ff8000 1.61%,#ff6300 2.63%,#ff3300 3.25%,#ff1900 3.87%,#ff2200 5.31%,#ff3400 5.41%,#ff9f00 5.83%,#fffe00 6.24%,#62ff00 7.06%,#1aff00 7.47%,#02ff00 7.88%,#00ff15 8.30%,#00ff6a 8.81%,#00ffa9 9.63%,#00ffb6 12.62%,#00ffb2 12.72%,#00ff39 13.13%,#00ff39 13.65%,#00ff3d 13.75%,#00ffad 14.16%,#00ffcf 15.19%,#00fff6 15.50%,#00fcff 15.60%,#00bcff 16.84%,#00b3ff 19.00%,#00b7ff 19.10%,#00f4ff 19.31%,#00ffed 19.41%,#00ff55 20.03%,#00ff40 20.13%,#00ff36 20.85%,#00ff39 20.96%,#00ff9e 21.37%,#00fffe 21.98%,#00a2ff 23.43%,#0083ff 24.04%,#007cff 26.31%,#008bff 26.92%,#00a0ff 27.54%,#009bff 27.95%,#0076ff 28.88%,#006bff 30.01%,#0067ff 31.97%,#0076ff 32.48%,#0097ff 32.89%,#00caff 33.41%,#00d6ff 33.72%,#00c8ff 34.03%,#006bff 34.85%,#0052ff 35.26%,#0046ff 35.88%,#004eff 36.39%,#0067ff 37.01%,#0063ff 37.32%,#0033ff 38.14%,#002aff 38.76%,#0034ff 49.57%,#0044ff 52.35%,#0058ff 60.79%,#0094ff 67.79%,#00bbff 70.46%,#00e4ff 72.42%,#00fffe 73.24%,#00ffd1 74.17%,#00ff9b 74.89%,#00ff5b 75.50%,#00ff16 76.02%,#00ff06 76.12%,#0bff00 76.22%,#69ff00 76.74%,#ecff00 77.36%,#fffb00 77.46%,#ff8400 78.08%,#ff4800 78.49%,#ff2a00 78.80%,#ff1800 79.21%,#ff1900 79.72%,#ff2800 80.03%,#ff5000 80.44%,#ff9f00 80.96%,#fff900 81.47%,#dfff00 81.68%,#89ff00 82.19%,#46ff00 82.71%,#0aff00 83.33%,#02ff00 83.43%,#00ff92 85.59%,#00ffee 86.83%,#00fdff 87.13%,#00c7ff 88.16%,#00a8ff 89.19%,#009bff 90.63%,#009bff 94.24%,#0098ff 97.22%,#005eff 98.56%,#0052ff 100.00%)"></div><div style="top:142.4px;height:2.5px;background:linear-gradient(90deg,#ffdb00 0.16%,#ff8100 1.61%,#ff6400 2.63%,#ff3600 3.25%,#ff1a00 3.87%,#ff2200 5.31%,#ff3300 5.41%,#ffb400 5.93%,#fff900 6.24%,#f1ff00 6.34%,#65ff00 7.06%,#1dff00 7.47%,#02ff00 7.88%,#00ff16 8.30%,#00ff6a 8.81%,#00ffa7 9.63%,#00ffb5 11.28%,#00ffb8 12.62%,#00ffb4 12.72%,#00ff3f 13.13%,#00ff3f 13.65%,#00ff43 13.75%,#00ffb1 14.16%,#00ffd3 15.19%,#00fffb 15.50%,#00edff 15.81%,#00baff 16.84%,#00b2ff 18.59%,#00baff 19.10%,#00f4ff 19.31%,#00ffee 19.41%,#00ff56 20.03%,#00ff41 20.13%,#00ff37 20.85%,#00ff39 20.96%,#00ff99 21.37%,#00ffef 21.88%,#00fffd 21.98%,#0097ff 23.63%,#0083ff 24.04%,#0079ff 26.10%,#0086ff 26.82%,#009dff 27.54%,#0097ff 27.95%,#0073ff 28.88%,#0068ff 30.32%,#0066ff 32.07%,#0071ff 32.48%,#008eff 32.89%,#00cbff 33.51%,#00d4ff 33.82%,#00c3ff 34.13%,#0070ff 34.85%,#0053ff 35.26%,#0046ff 35.78%,#004bff 36.29%,#0067ff 37.01%,#0062ff 37.32%,#0032ff 38.14%,#002aff 38.76%,#0034ff 49.57%,#0043ff 52.35%,#0057ff 60.79%,#0093ff 67.68%,#00bbff 70.46%,#00e4ff 72.42%,#00fffe 73.24%,#00ffd0 74.17%,#00ff9a 74.89%,#00ff5b 75.50%,#00ff15 76.02%,#00ff05 76.12%,#1dff00 76.33%,#94ff00 76.95%,#edff00 77.36%,#fffb00 77.46%,#ff8400 78.08%,#ff4800 78.49%,#ff2a00 78.80%,#ff1900 79.21%,#ff1a00 79.72%,#ff2900 80.03%,#ff5200 80.44%,#ffa000 80.96%,#fffb00 81.47%,#cbff00 81.78%,#79ff00 82.30%,#39ff00 82.81%,#01ff00 83.43%,#00ff9a 85.69%,#00ffef 86.83%,#00fcff 87.13%,#00c5ff 88.16%,#00a7ff 89.19%,#0099ff 90.63%,#0099ff 94.34%,#0095ff 97.22%,#005eff 98.56%,#0052ff 100.00%)"></div><div style="top:144.4px;height:2.5px;background:linear-gradient(90deg,#ffdc00 0.16%,#ff9400 1.30%,#ff7e00 1.71%,#ff6500 2.63%,#ff3900 3.25%,#ff1b00 3.87%,#ff2100 5.31%,#ff3200 5.41%,#ffe000 6.13%,#fff500 6.24%,#f5ff00 6.34%,#69ff00 7.06%,#20ff00 7.47%,#03ff00 7.88%,#00ff17 8.30%,#00ff6a 8.81%,#00ffa6 9.63%,#00ffb7 10.97%,#00ffba 12.62%,#00ffb6 12.72%,#00ff5d 13.03%,#00ff44 13.13%,#00ff44 13.65%,#00ff49 13.75%,#00ff9d 14.06%,#00ffb5 14.16%,#00ffd2 15.09%,#00ffd8 15.19%,#00ffff 15.50%,#00f3ff 15.60%,#00b7ff 16.94%,#00b2ff 18.59%,#00bdff 19.10%,#00f5ff 19.31%,#00ffee 19.41%,#00ff57 20.03%,#00ff41 20.13%,#00ff37 20.85%,#00ff3a 20.96%,#00ff94 21.37%,#00ffe0 21.78%,#00fffb 21.98%,#00efff 22.29%,#0097ff 23.63%,#0083ff 24.04%,#0077ff 26.00%,#0082ff 26.72%,#009aff 27.44%,#0096ff 27.85%,#0072ff 28.78%,#0068ff 30.01%,#0064ff 32.17%,#0070ff 32.59%,#008fff 33.00%,#00c3ff 33.51%,#00d2ff 33.82%,#00cdff 34.03%,#00b2ff 34.34%,#006aff 34.95%,#004fff 35.36%,#0045ff 35.88%,#004fff 36.39%,#0066ff 37.01%,#0060ff 37.32%,#0032ff 38.14%,#002aff 38.86%,#0033ff 49.57%,#0043ff 52.35%,#0057ff 60.79%,#0092ff 67.68%,#00bbff 70.46%,#00e4ff 72.42%,#00fffe 73.24%,#00ffd0 74.17%,#00ff9a 74.89%,#00ff5a 75.50%,#00ff14 76.02%,#00ff04 76.12%,#1eff00 76.33%,#95ff00 76.95%,#edff00 77.36%,#fffa00 77.46%,#ff8400 78.08%,#ff4800 78.49%,#ff2b00 78.80%,#ff1900 79.21%,#ff1b00 79.72%,#ff2a00 80.03%,#ff5300 80.44%,#ffa100 80.96%,#fffc00 81.47%,#86ff00 82.19%,#43ff00 82.71%,#07ff00 83.33%,#00ff01 83.43%,#00ffa3 85.80%,#00fff6 86.93%,#00fbff 87.13%,#00c4ff 88.16%,#00a5ff 89.19%,#0097ff 90.63%,#0097ff 94.44%,#0093ff 97.22%,#005fff 98.56%,#0052ff 100.00%)"></div><div style="top:146.4px;height:2.5px;background:linear-gradient(90deg,#ffde00 0.16%,#ffa600 1.09%,#ff8200 1.61%,#ff6600 2.63%,#ff3900 3.36%,#ff1c00 3.87%,#ff2100 5.31%,#ff3100 5.41%,#fff100 6.24%,#faff00 6.34%,#59ff00 7.16%,#23ff00 7.47%,#04ff00 7.88%,#00ff10 8.19%,#00ff17 8.30%,#00ff6a 8.81%,#00ffa5 9.63%,#00ffba 10.87%,#00ffbf 12.52%,#00ffb7 12.72%,#00ff61 13.03%,#00ff4a 13.13%,#00ff4a 13.65%,#00ff50 13.75%,#00ffa2 14.06%,#00ffb8 14.16%,#00ffd6 15.09%,#00ffdd 15.19%,#00fff8 15.40%,#00faff 15.50%,#00efff 15.60%,#00b6ff 16.94%,#00afff 18.48%,#00c0ff 19.10%,#00f6ff 19.31%,#00ffee 19.41%,#00ff58 20.03%,#00ff42 20.13%,#00ff38 20.85%,#00ff3a 20.96%,#00ffcc 21.68%,#00ffed 21.88%,#00fffa 21.98%,#00f8ff 22.19%,#00bbff 23.12%,#009cff 23.53%,#0083ff 24.04%,#0075ff 25.90%,#007eff 26.62%,#0097ff 27.44%,#0092ff 27.85%,#006fff 28.78%,#0065ff 30.42%,#0063ff 32.28%,#0070ff 32.69%,#0091ff 33.10%,#00c4ff 33.61%,#00d0ff 33.92%,#00c1ff 34.23%,#0065ff 35.06%,#004cff 35.47%,#0045ff 35.98%,#0054ff 36.50%,#0066ff 37.01%,#005fff 37.32%,#0031ff 38.14%,#002aff 38.97%,#0033ff 49.57%,#0043ff 52.35%,#0057ff 60.79%,#0092ff 67.68%,#00bbff 70.46%,#00e4ff 72.42%,#00fffd 73.24%,#00ffcf 74.17%,#00ff99 74.89%,#00ff59 75.50%,#00ff03 76.12%,#31ff00 76.43%,#abff00 77.05%,#eeff00 77.36%,#fffa00 77.46%,#ff8400 78.08%,#ff4800 78.49%,#ff2b00 78.80%,#ff1a00 79.21%,#ff1c00 79.72%,#ff2b00 80.03%,#ff5400 80.44%,#ffa200 80.96%,#fffd00 81.47%,#85ff00 82.19%,#41ff00 82.71%,#06ff00 83.33%,#00ff0a 83.53%,#00ff9c 85.69%,#00fff7 86.93%,#00faff 87.13%,#00c3ff 88.16%,#00a3ff 89.19%,#0095ff 90.53%,#0094ff 94.24%,#008dff 97.32%,#005fff 98.56%,#0052ff 100.00%)"></div><div style="top:148.4px;height:2.5px;background:linear-gradient(90deg,#ffe000 0.16%,#ffa900 1.09%,#ff8900 1.50%,#ff7000 2.33%,#ff6800 2.63%,#ff3c00 3.36%,#ff2900 3.66%,#ff1c00 3.87%,#ff1e00 4.90%,#ff2100 5.31%,#ff3000 5.41%,#ffec00 6.24%,#feff00 6.34%,#49ff00 7.27%,#25ff00 7.47%,#05ff00 7.88%,#00ff09 8.09%,#00ff18 8.30%,#00ff5c 8.71%,#00ff6a 8.81%,#00ffa3 9.63%,#00ffbc 10.77%,#00ffc3 12.52%,#00ffb9 12.72%,#00ff66 13.03%,#00ff4f 13.13%,#00ff4f 13.65%,#00ff56 13.75%,#00ffa7 14.06%,#00ffbc 14.16%,#00ffdb 15.09%,#00ffe2 15.19%,#00fffd 15.40%,#00ebff 15.60%,#00b4ff 16.94%,#00aeff 18.48%,#00c2ff 19.10%,#00f6ff 19.31%,#00ffef 19.41%,#00ff59 20.03%,#00ff43 20.13%,#00ff38 20.85%,#00ff3a 20.96%,#00ffdf 21.78%,#00fff8 21.98%,#00faff 22.19%,#00bdff 23.12%,#00a1ff 23.43%,#0083ff 24.04%,#0073ff 25.79%,#007aff 26.51%,#0095ff 27.44%,#008eff 27.85%,#006fff 28.67%,#0064ff 30.01%,#0060ff 32.28%,#006bff 32.69%,#0088ff 33.10%,#00c5ff 33.72%,#00ceff 34.03%,#00bcff 34.34%,#0069ff 35.06%,#004eff 35.47%,#0045ff 35.88%,#0050ff 36.39%,#0064ff 36.91%,#0062ff 37.22%,#0034ff 38.04%,#002aff 38.55%,#0033ff 49.57%,#0043ff 52.35%,#0057ff 60.79%,#0091ff 67.58%,#00b9ff 70.36%,#00e4ff 72.42%,#00fffd 73.24%,#00ffce 74.17%,#00ff99 74.89%,#00ff58 75.50%,#00ff02 76.12%,#45ff00 76.53%,#d8ff00 77.25%,#efff00 77.36%,#fff900 77.46%,#ff8400 78.08%,#ff4900 78.49%,#ff2c00 78.80%,#ff1b00 79.21%,#ff1d00 79.72%,#ff2c00 80.03%,#ff5500 80.44%,#ffa300 80.96%,#fffe00 81.47%,#94ff00 82.09%,#4cff00 82.61%,#0dff00 83.22%,#00ff04 83.43%,#00ffa5 85.80%,#00fff7 86.93%,#00f9ff 87.13%,#00c1ff 88.16%,#00a4ff 89.09%,#0093ff 90.43%,#0091ff 94.03%,#008bff 97.32%,#005fff 98.56%,#0052ff 100.00%)"></div><div style="top:150.4px;height:2.5px;background:linear-gradient(90deg,#ffe100 0.16%,#ffb400 0.99%,#ff8a00 1.50%,#ff7300 2.22%,#ff6900 2.63%,#ff3f00 3.36%,#ff3300 3.56%,#ff1d00 3.87%,#ff1d00 4.69%,#ff2100 5.31%,#ff3000 5.41%,#ffe800 6.24%,#fffc00 6.34%,#5fff00 7.16%,#28ff00 7.47%,#05ff00 7.88%,#00ff09 8.09%,#00ff19 8.30%,#00ff5c 8.71%,#00ff6a 8.81%,#00ffa2 9.63%,#00ffbf 10.77%,#00ffc6 12.52%,#00ffbb 12.72%,#00ff6a 13.03%,#00ff55 13.13%,#00ff55 13.65%,#00ff5c 13.75%,#00ffac 14.06%,#00ffc0 14.16%,#00ffd8 14.99%,#00ffe6 15.19%,#00fbff 15.40%,#00e7ff 15.60%,#00b3ff 16.94%,#00acff 18.48%,#00bfff 18.90%,#00c5ff 19.10%,#00f7ff 19.31%,#00ffef 19.41%,#00ff44 20.13%,#00ff39 20.85%,#00ff3a 20.96%,#00ff9b 21.47%,#00ffde 21.78%,#00fff6 21.98%,#00fcff 22.19%,#00c9ff 23.01%,#00a0ff 23.43%,#0083ff 24.04%,#0071ff 25.79%,#0078ff 26.51%,#0092ff 27.34%,#008dff 27.75%,#006cff 28.67%,#0061ff 30.42%,#005eff 32.38%,#006aff 32.79%,#0089ff 33.20%,#00beff 33.72%,#00ccff 34.03%,#00c7ff 34.23%,#00acff 34.54%,#0064ff 35.16%,#004bff 35.57%,#0045ff 35.98%,#0055ff 36.50%,#0064ff 36.91%,#0060ff 37.22%,#0033ff 38.04%,#002aff 38.66%,#0033ff 49.57%,#0042ff 52.35%,#0056ff 60.79%,#0090ff 67.58%,#00b8ff 70.36%,#00e4ff 72.42%,#00fffd 73.24%,#00ffce 74.17%,#00ff98 74.89%,#00ff58 75.50%,#00ff02 76.12%,#45ff00 76.53%,#d9ff00 77.25%,#efff00 77.36%,#fff900 77.46%,#ff8400 78.08%,#ff4900 78.49%,#ff2c00 78.80%,#ff1c00 79.21%,#ff1e00 79.72%,#ff2d00 80.03%,#ff5600 80.44%,#ffa500 80.96%,#ffff00 81.47%,#92ff00 82.09%,#4bff00 82.61%,#0cff00 83.22%,#00ff05 83.43%,#00ffa6 85.80%,#00ffff 87.03%,#00c4ff 88.06%,#00a4ff 88.99%,#0092ff 90.22%,#008eff 93.31%,#008bff 97.22%,#005fff 98.56%,#0052ff 100.00%)"></div><div style="top:152.4px;height:2.5px;background:linear-gradient(90deg,#ffe300 0.16%,#ffb800 0.99%,#ff9000 1.40%,#ff7b00 1.91%,#ff6a00 2.63%,#ff4200 3.36%,#ff3600 3.56%,#ff1e00 3.87%,#ff1c00 4.59%,#ff2100 5.31%,#ff2f00 5.41%,#ff8700 5.83%,#ffe400 6.24%,#fff700 6.34%,#f2ff00 6.44%,#4fff00 7.27%,#2bff00 7.47%,#06ff00 7.88%,#00ff02 7.99%,#00ff1a 8.30%,#00ff5c 8.71%,#00ff6a 8.81%,#00ffa1 9.63%,#00ffb6 10.35%,#00ffc2 10.77%,#00ffc9 12.52%,#00ffbc 12.72%,#00ff85 12.93%,#00ff5a 13.13%,#00ff5a 13.65%,#00ff62 13.75%,#00ffb1 14.06%,#00ffc4 14.16%,#00ffdc 14.99%,#00ffeb 15.19%,#00fff9 15.29%,#00ecff 15.50%,#00dfff 15.71%,#00b1ff 16.94%,#00abff 18.48%,#00c2ff 18.90%,#00c8ff 19.10%,#00f7ff 19.31%,#00fff0 19.41%,#00ff45 20.13%,#00ff3b 20.96%,#00ff97 21.47%,#00ffdd 21.78%,#00fff5 21.98%,#00feff 22.19%,#00ccff 23.01%,#00a0ff 23.43%,#0083ff 24.04%,#006fff 25.69%,#0077ff 26.51%,#008fff 27.34%,#0089ff 27.75%,#006bff 28.57%,#0060ff 30.01%,#005cff 32.38%,#006aff 32.89%,#008aff 33.31%,#00bfff 33.82%,#00cbff 34.13%,#00c4ff 34.34%,#00a6ff 34.64%,#0068ff 35.16%,#004cff 35.57%,#0046ff 35.98%,#0056ff 36.50%,#0064ff 36.91%,#005eff 37.22%,#0032ff 38.04%,#002aff 38.66%,#0032ff 49.57%,#0042ff 52.35%,#0056ff 60.79%,#008fff 67.48%,#00b6ff 70.26%,#00e4ff 72.42%,#00fffc 73.24%,#00ffcd 74.17%,#00ff97 74.89%,#00ff57 75.50%,#00ff01 76.12%,#5aff00 76.64%,#f0ff00 77.36%,#fff800 77.46%,#ff8400 78.08%,#ff4900 78.49%,#ff2d00 78.80%,#ff1c00 79.21%,#ff1e00 79.72%,#ff2e00 80.03%,#ff5700 80.44%,#ffa600 80.96%,#fdff00 81.47%,#91ff00 82.09%,#49ff00 82.61%,#0aff00 83.22%,#02ff00 83.33%,#00ffa6 85.80%,#00fff9 86.93%,#00feff 87.03%,#00c3ff 88.06%,#00a3ff 88.99%,#0090ff 90.22%,#008cff 93.31%,#0089ff 97.22%,#005fff 98.56%,#0052ff 100.00%)"></div><div style="top:154.4px;height:2.5px;background:linear-gradient(90deg,#ffe500 0.16%,#ffbb00 0.99%,#ff9100 1.40%,#ff7c00 1.91%,#ff6c00 2.63%,#ff4500 3.36%,#ff4200 3.46%,#ff2400 3.77%,#ff1c00 4.08%,#ff1e00 4.90%,#ff2100 5.31%,#ff2e00 5.41%,#ff6a00 5.72%,#ffdf00 6.24%,#fff300 6.34%,#f6ff00 6.44%,#52ff00 7.27%,#2eff00 7.47%,#07ff00 7.88%,#00ff01 7.99%,#00ff1b 8.30%,#00ff50 8.60%,#00ff6a 8.81%,#00ffa0 9.63%,#00ffb2 10.25%,#00ffc5 10.66%,#00ffcc 12.52%,#00ffbe 12.72%,#00ff88 12.93%,#00ff5f 13.13%,#00ff5f 13.65%,#00ff69 13.75%,#00ff9f 13.96%,#00ffc8 14.16%,#00ffdf 14.99%,#00fff0 15.19%,#00fffe 15.29%,#00e7ff 15.50%,#00dbff 15.71%,#00b0ff 16.94%,#00aaff 18.48%,#00c4ff 18.90%,#00cbff 19.10%,#00f8ff 19.31%,#00fff0 19.41%,#00ff46 20.13%,#00ff3b 20.96%,#00ff7d 21.37%,#00ffdd 21.78%,#00fff3 21.98%,#00ffff 22.19%,#00cfff 23.01%,#00a0ff 23.43%,#0081ff 24.15%,#006cff 25.69%,#0073ff 26.41%,#008cff 27.23%,#0088ff 27.65%,#0068ff 28.57%,#005dff 30.63%,#005aff 32.48%,#0065ff 32.89%,#0081ff 33.31%,#00bfff 33.92%,#00c9ff 34.13%,#00c6ff 34.34%,#00acff 34.64%,#0063ff 35.26%,#004eff 35.57%,#0046ff 35.98%,#0057ff 36.50%,#0063ff 36.91%,#005dff 37.22%,#0034ff 37.94%,#002aff 38.45%,#0032ff 49.57%,#0042ff 52.35%,#0056ff 60.79%,#008fff 67.48%,#00b6ff 70.26%,#00e4ff 72.42%,#00fffc 73.24%,#00ffcd 74.17%,#00ff97 74.89%,#00ff56 75.50%,#00ff00 76.12%,#5bff00 76.64%,#f1ff00 77.36%,#fff800 77.46%,#ff8400 78.08%,#ff4900 78.49%,#ff2d00 78.80%,#ff1d00 79.21%,#ff1f00 79.72%,#ff2f00 80.03%,#ff5800 80.44%,#ffa700 80.96%,#fcff00 81.47%,#90ff00 82.09%,#48ff00 82.61%,#09ff00 83.22%,#00ff00 83.33%,#00ff60 84.77%,#00ffce 86.31%,#00feff 87.03%,#00c2ff 88.06%,#00a1ff 88.99%,#008eff 90.22%,#0089ff 93.31%,#0086ff 97.22%,#005fff 98.56%,#0052ff 100.00%)"></div><div style="top:156.4px;height:2.5px;background:linear-gradient(90deg,#ffe600 0.16%,#ffbe00 0.99%,#ff9200 1.40%,#ff7d00 1.91%,#ff6700 2.74%,#ff4900 3.36%,#ff4500 3.46%,#ff2500 3.77%,#ff1b00 4.18%,#ff2100 5.31%,#ff2d00 5.41%,#ff6600 5.72%,#ffdb00 6.24%,#fbff00 6.44%,#55ff00 7.27%,#30ff00 7.47%,#08ff00 7.88%,#00ff01 7.99%,#00ff1c 8.30%,#00ff51 8.60%,#00ff6a 8.81%,#00ff9e 9.63%,#00ffaf 10.15%,#00ffc8 10.66%,#00ffcf 12.52%,#00ffc0 12.72%,#00ff8b 12.93%,#00ff65 13.13%,#00ff65 13.65%,#00ff6f 13.75%,#00ffa5 13.96%,#00ffcb 14.16%,#00ffe3 14.99%,#00fbff 15.29%,#00ecff 15.40%,#00daff 15.60%,#00aeff 16.94%,#00a9ff 18.48%,#00c7ff 18.90%,#00cdff 19.10%,#00f8ff 19.31%,#00fff1 19.41%,#00ffa9 19.72%,#00ff47 20.13%,#00ff3b 20.96%,#00ff78 21.37%,#00ffdc 21.78%,#00fff2 21.98%,#00fcff 22.29%,#00d2ff 23.01%,#009fff 23.43%,#0081ff 24.15%,#006aff 25.69%,#0072ff 26.41%,#0089ff 27.23%,#0084ff 27.65%,#0065ff 28.57%,#0057ff 32.17%,#005dff 32.79%,#0071ff 33.20%,#00c0ff 34.03%,#00c7ff 34.23%,#00c2ff 34.44%,#00a6ff 34.75%,#0068ff 35.26%,#0050ff 35.57%,#0047ff 35.88%,#004eff 36.29%,#0062ff 36.81%,#005fff 37.11%,#0033ff 37.94%,#002aff 38.45%,#0032ff 49.57%,#0042ff 52.35%,#0056ff 60.79%,#008eff 67.48%,#00b6ff 70.26%,#00e4ff 72.42%,#00fffc 73.24%,#00ffcc 74.17%,#00ff96 74.89%,#00ff55 75.50%,#01ff00 76.12%,#6fff00 76.74%,#f1ff00 77.36%,#fff700 77.46%,#ff8400 78.08%,#ff4a00 78.49%,#ff2e00 78.80%,#ff1e00 79.21%,#ff2000 79.72%,#ff3000 80.03%,#ff5900 80.44%,#ffa800 80.96%,#fff100 81.37%,#fbff00 81.47%,#8eff00 82.09%,#47ff00 82.61%,#08ff00 83.22%,#00ff01 83.33%,#00ff55 84.56%,#00ffb7 86.00%,#00fffa 86.93%,#00f6ff 87.13%,#00bcff 88.16%,#009dff 89.09%,#008bff 90.43%,#0088ff 94.44%,#0081ff 97.32%,#005fff 98.56%,#0052ff 100.00%)"></div><div style="top:158.4px;height:2.5px;background:linear-gradient(90deg,#ffe800 0.16%,#ffc100 0.99%,#ff9200 1.40%,#ff7e00 1.91%,#ff6900 2.74%,#ff4c00 3.36%,#ff4900 3.46%,#ff2600 3.77%,#ff1b00 4.18%,#ff2100 5.31%,#ff3d00 5.52%,#ff6200 5.72%,#ffd700 6.24%,#ffff00 6.44%,#58ff00 7.27%,#33ff00 7.47%,#08ff00 7.88%,#00ff00 7.99%,#00ff1d 8.30%,#00ff52 8.60%,#00ff6a 8.81%,#00ff9d 9.63%,#00ffab 10.05%,#00ffcb 10.66%,#00ffd2 12.52%,#00ffc1 12.72%,#00ff8d 12.93%,#00ff6a 13.13%,#00ff6a 13.65%,#00ff75 13.75%,#00ffab 13.96%,#00ffcf 14.16%,#00ffe6 14.99%,#00fff9 15.19%,#00e6ff 15.40%,#00d6ff 15.60%,#00adff 16.94%,#00a7ff 18.48%,#00c9ff 18.90%,#00d0ff 19.10%,#00f9ff 19.31%,#00fff1 19.41%,#00ffc4 19.62%,#00ff5e 20.03%,#00ff48 20.13%,#00ff3c 20.96%,#00ff74 21.37%,#00ffa7 21.57%,#00ffdc 21.78%,#00fff0 21.98%,#00feff 22.29%,#00d5ff 23.01%,#009fff 23.43%,#0080ff 24.15%,#0068ff 25.59%,#0070ff 26.41%,#0087ff 27.23%,#007cff 27.75%,#0064ff 28.47%,#0058ff 30.94%,#0057ff 32.69%,#0064ff 33.10%,#0084ff 33.51%,#00b9ff 34.03%,#00c5ff 34.23%,#00c4ff 34.44%,#00acff 34.75%,#0062ff 35.36%,#004dff 35.67%,#0048ff 35.98%,#0058ff 36.50%,#0062ff 36.91%,#0059ff 37.22%,#0032ff 37.94%,#002aff 38.55%,#0032ff 49.57%,#0042ff 52.35%,#0056ff 60.79%,#008dff 67.37%,#00b6ff 70.26%,#00e5ff 72.42%,#00fffc 73.24%,#00ffcc 74.17%,#00ff95 74.89%,#00ff55 75.50%,#02ff00 76.12%,#70ff00 76.74%,#f2ff00 77.36%,#fff700 77.46%,#ff8300 78.08%,#ff4a00 78.49%,#ff2e00 78.80%,#ff1f00 79.21%,#ff2100 79.72%,#ff3900 80.14%,#ff6800 80.55%,#ffcd00 81.17%,#fff200 81.37%,#faff00 81.47%,#8dff00 82.09%,#45ff00 82.61%,#06ff00 83.22%,#00ff02 83.33%,#00ff56 84.56%,#00ffb8 86.00%,#00fffb 86.93%,#00e7ff 87.34%,#00b2ff 88.37%,#0095ff 89.40%,#0087ff 90.94%,#0081ff 97.22%,#005fff 98.56%,#0052ff 100.00%)"></div><div style="top:160.4px;height:2.5px;background:linear-gradient(90deg,#ffea00 0.16%,#ffc400 0.99%,#ff9300 1.40%,#ff7e00 1.91%,#ff6a00 2.74%,#ff4c00 3.46%,#ff2700 3.77%,#ff1c00 4.18%,#ff2100 5.31%,#ff3b00 5.52%,#ff5e00 5.72%,#ffd200 6.24%,#fffb00 6.44%,#c5ff00 6.75%,#5bff00 7.27%,#36ff00 7.47%,#09ff00 7.88%,#00ff00 7.99%,#00ff1e 8.30%,#00ff53 8.60%,#00ff69 8.81%,#00ff9c 9.63%,#00ffab 10.05%,#00ffce 10.66%,#00ffd6 12.52%,#00ffc3 12.72%,#00ff90 12.93%,#00ff70 13.13%,#00ff70 13.65%,#00ff7b 13.75%,#00ffb0 13.96%,#00ffd3 14.16%,#00ffea 14.99%,#00fffe 15.19%,#00e1ff 15.40%,#00cfff 15.71%,#00acff 16.94%,#00a6ff 18.48%,#00ccff 18.90%,#00d3ff 19.10%,#00faff 19.31%,#00fff2 19.41%,#00ffdf 19.51%,#00ff5f 20.03%,#00ff49 20.13%,#00ff3c 20.96%,#00ff6f 21.37%,#00ffa4 21.57%,#00ffdb 21.78%,#00ffef 21.98%,#00fffe 22.29%,#00d8ff 23.01%,#009eff 23.43%,#0080ff 24.15%,#0066ff 25.59%,#006cff 26.31%,#0083ff 27.13%,#007eff 27.54%,#0061ff 28.47%,#0053ff 32.48%,#005bff 33.00%,#0072ff 33.41%,#00bbff 34.13%,#00c4ff 34.34%,#00c1ff 34.54%,#00a6ff 34.85%,#0067ff 35.36%,#0050ff 35.67%,#0049ff 35.98%,#0059ff 36.50%,#0061ff 36.91%,#0051ff 37.32%,#0031ff 37.94%,#002aff 38.55%,#0031ff 49.57%,#0041ff 52.35%,#0055ff 60.79%,#008cff 67.37%,#00b3ff 70.15%,#00e2ff 72.31%,#00feff 73.14%,#00ffd2 74.06%,#00ff95 74.89%,#00ff54 75.50%,#02ff00 76.12%,#71ff00 76.74%,#f3ff00 77.36%,#fff600 77.46%,#ff8300 78.08%,#ff4a00 78.49%,#ff2f00 78.80%,#ff1f00 79.21%,#ff2200 79.72%,#ff3a00 80.14%,#ff6900 80.55%,#ffce00 81.17%,#fff300 81.37%,#f8ff00 81.47%,#8cff00 82.09%,#44ff00 82.61%,#05ff00 83.22%,#00ff0c 83.43%,#00ffb1 85.90%,#00fffc 86.93%,#00b9ff 88.16%,#0099ff 89.09%,#0087ff 90.43%,#0083ff 94.65%,#007dff 97.32%,#005fff 98.56%,#0052ff 100.00%)"></div><div style="top:162.4px;height:2.5px;background:linear-gradient(90deg,#ffeb00 0.16%,#ffc700 0.99%,#ff9400 1.40%,#ff7f00 1.91%,#ff6c00 2.74%,#ff4f00 3.46%,#ff2800 3.77%,#ff1a00 4.28%,#ff2100 5.31%,#ff3900 5.52%,#ff5a00 5.72%,#ffce00 6.24%,#fff700 6.44%,#f3ff00 6.55%,#5dff00 7.27%,#39ff00 7.47%,#0aff00 7.88%,#00ff00 7.99%,#00ff1f 8.30%,#00ff54 8.60%,#00ff69 8.81%,#00ff9a 9.63%,#00ffa5 9.94%,#00ffd1 10.66%,#00ffd9 12.52%,#00ffc5 12.72%,#00ff93 12.93%,#00ff75 13.13%,#00ff75 13.65%,#00ff82 13.75%,#00ffb6 13.96%,#00ffd7 14.16%,#00ffed 14.99%,#00fbff 15.19%,#00dcff 15.40%,#00cbff 15.71%,#00aaff 16.94%,#00a5ff 18.48%,#00ceff 18.90%,#00d6ff 19.10%,#00faff 19.31%,#00ffe0 19.51%,#00ff5f 20.03%,#00ff4a 20.13%,#00ff3c 20.96%,#00ff6a 21.37%,#00ffa2 21.57%,#00ffdb 21.78%,#00fff2 22.09%,#00fcff 22.40%,#00daff 23.01%,#009eff 23.43%,#0080ff 24.15%,#0064ff 25.59%,#006bff 26.31%,#0081ff 27.13%,#0077ff 27.65%,#0060ff 28.37%,#0054ff 31.35%,#0053ff 32.79%,#0063ff 33.31%,#0087ff 33.72%,#00b4ff 34.13%,#00c3ff 34.44%,#00bdff 34.64%,#00a0ff 34.95%,#0062ff 35.47%,#004eff 35.78%,#004bff 36.08%,#0061ff 36.81%,#005aff 37.11%,#0034ff 37.83%,#002aff 38.45%,#0031ff 49.57%,#0041ff 52.35%,#0056ff 60.89%,#008cff 67.37%,#00b3ff 70.15%,#00e2ff 72.31%,#00ffff 73.14%,#00ffd1 74.06%,#00ff94 74.89%,#00ff53 75.50%,#03ff00 76.12%,#72ff00 76.74%,#f3ff00 77.36%,#fff600 77.46%,#ff8300 78.08%,#ff4b00 78.49%,#ff2f00 78.80%,#ff2000 79.21%,#ff2300 79.72%,#ff3b00 80.14%,#ff6a00 80.55%,#ffcf00 81.17%,#fff400 81.37%,#f7ff00 81.47%,#8aff00 82.09%,#43ff00 82.61%,#03ff00 83.22%,#00ff4c 84.36%,#00ffab 85.80%,#00fffd 86.93%,#00b8ff 88.16%,#0098ff 89.09%,#0085ff 90.43%,#007aff 97.32%,#005eff 98.66%,#0052ff 100.00%)"></div><div style="top:164.4px;height:2.5px;background:linear-gradient(90deg,#ffed00 0.16%,#ffca00 0.99%,#ff9500 1.40%,#ff8000 1.91%,#ff6e00 2.74%,#ff5300 3.46%,#ff2a00 3.77%,#ff1900 4.28%,#ff2000 5.31%,#ff3700 5.52%,#ff5600 5.72%,#ffca00 6.24%,#fff300 6.44%,#f7ff00 6.55%,#60ff00 7.27%,#3bff00 7.47%,#0bff00 7.88%,#01ff00 7.99%,#00ff1f 8.30%,#00ff55 8.60%,#00ff6f 8.91%,#00ff9c 9.74%,#00ffbe 10.35%,#00ffd4 10.66%,#00ffdc 12.52%,#00ffc6 12.72%,#00ff96 12.93%,#00ff7b 13.13%,#00ff7b 13.65%,#00ff88 13.75%,#00ffbc 13.96%,#00ffdb 14.16%,#00fff1 14.99%,#00fffc 15.09%,#00f6ff 15.19%,#00d6ff 15.40%,#00c7ff 15.71%,#00a9ff 16.94%,#00a4ff 18.48%,#00d0ff 18.90%,#00d8ff 19.10%,#00fbff 19.31%,#00ffe1 19.51%,#00ff60 20.03%,#00ff4a 20.13%,#00ff3c 20.96%,#00ff66 21.37%,#00ff9f 21.57%,#00ffda 21.78%,#00fff1 22.09%,#00ffff 22.40%,#00ddff 23.01%,#009dff 23.43%,#0080ff 24.15%,#0062ff 25.59%,#006aff 26.31%,#007dff 27.03%,#0076ff 27.54%,#005dff 28.37%,#0050ff 32.69%,#0059ff 33.20%,#0074ff 33.61%,#00b5ff 34.23%,#00c0ff 34.44%,#00bfff 34.64%,#00a6ff 34.95%,#0067ff 35.47%,#0051ff 35.78%,#004dff 36.08%,#0060ff 36.81%,#0058ff 37.11%,#0033ff 37.83%,#002aff 38.45%,#0031ff 49.57%,#0041ff 52.35%,#0056ff 60.89%,#008cff 67.37%,#00b3ff 70.15%,#00e2ff 72.31%,#00ffff 73.14%,#00ffd1 74.06%,#00ff93 74.89%,#00ff53 75.50%,#00ff0c 76.02%,#04ff00 76.12%,#73ff00 76.74%,#f4ff00 77.36%,#fff500 77.46%,#ff8300 78.08%,#ff4b00 78.49%,#ff3000 78.80%,#ff2100 79.21%,#ff2400 79.72%,#ff3c00 80.14%,#ff6c00 80.55%,#ffd100 81.17%,#fff500 81.37%,#f6ff00 81.47%,#89ff00 82.09%,#41ff00 82.61%,#02ff00 83.22%,#00ff5a 84.56%,#00ffbb 86.00%,#00fffe 86.93%,#00bbff 88.06%,#0098ff 88.99%,#0084ff 90.22%,#007eff 93.21%,#0078ff 97.32%,#005eff 98.66%,#0052ff 100.00%)"></div><div style="top:166.4px;height:2.5px;background:linear-gradient(90deg,#ffef00 0.16%,#ffcd00 0.99%,#ff9500 1.40%,#ff8100 1.91%,#ff6f00 2.74%,#ff5600 3.46%,#ff2b00 3.77%,#ff1900 4.28%,#ff2000 5.31%,#ff4100 5.62%,#ff5200 5.72%,#ffda00 6.34%,#fcff00 6.55%,#63ff00 7.27%,#30ff00 7.58%,#0bff00 7.88%,#01ff00 7.99%,#00ff20 8.30%,#00ff56 8.60%,#00ff6f 8.91%,#00ff9b 9.74%,#00ffb8 10.25%,#00ffd7 10.66%,#00ffdf 12.52%,#00ffc8 12.72%,#00ff99 12.93%,#00ff80 13.13%,#00ff80 13.65%,#00ff8e 13.75%,#00ffc2 13.96%,#00ffde 14.16%,#00fff4 14.99%,#00feff 15.09%,#00d1ff 15.40%,#00c3ff 15.71%,#00a7ff 17.04%,#00a3ff 18.48%,#00d3ff 18.90%,#00dbff 19.10%,#00fbff 19.31%,#00ffe3 19.51%,#00ff61 20.03%,#00ff4b 20.13%,#00ff3d 20.96%,#00ff61 21.37%,#00ff7b 21.47%,#00ffda 21.78%,#00ffef 22.09%,#00fcff 22.50%,#00e0ff 23.01%,#009dff 23.43%,#007dff 24.25%,#0060ff 25.59%,#0068ff 26.31%,#007bff 27.03%,#0072ff 27.54%,#005aff 28.37%,#004fff 32.89%,#005dff 33.41%,#0080ff 33.82%,#00b6ff 34.34%,#00c0ff 34.54%,#00bcff 34.75%,#00a0ff 35.06%,#0063ff 35.57%,#0050ff 35.88%,#0050ff 36.19%,#005fff 36.70%,#005bff 37.01%,#0032ff 37.83%,#002aff 38.55%,#0031ff 49.57%,#0041ff 52.35%,#0055ff 60.89%,#008aff 67.27%,#00b3ff 70.15%,#00e2ff 72.31%,#00ffff 73.14%,#00ffd0 74.06%,#00ff93 74.89%,#00ff52 75.50%,#00ff0b 76.02%,#05ff00 76.12%,#74ff00 76.74%,#f4ff00 77.36%,#fff400 77.46%,#ff8300 78.08%,#ff4b00 78.49%,#ff3000 78.80%,#ff2200 79.21%,#ff2500 79.72%,#ff3d00 80.14%,#ff6d00 80.55%,#ffd200 81.17%,#fff600 81.37%,#f5ff00 81.47%,#88ff00 82.09%,#40ff00 82.61%,#00ff00 83.22%,#00ff48 84.25%,#00ffac 85.80%,#00fffe 86.93%,#00baff 88.06%,#0097ff 88.99%,#0083ff 90.22%,#007cff 93.21%,#0076ff 97.32%,#005fff 98.66%,#0052ff 100.00%)"></div><div style="top:168.4px;height:2.5px;background:linear-gradient(90deg,#fff000 0.16%,#ffd100 0.99%,#ff9600 1.40%,#ff8100 1.91%,#ff6d00 2.84%,#ff5900 3.46%,#ff2c00 3.77%,#ff1900 4.28%,#ff2000 5.31%,#ff3e00 5.62%,#ff4e00 5.72%,#ffd600 6.34%,#fffe00 6.55%,#a9ff00 6.96%,#66ff00 7.27%,#32ff00 7.58%,#0cff00 7.88%,#02ff00 7.99%,#00ff21 8.30%,#00ff57 8.60%,#00ff6f 8.91%,#00ff9a 9.74%,#00ffb9 10.25%,#00ffda 10.66%,#00ffe2 12.52%,#00ffc9 12.72%,#00ff9c 12.93%,#00ff86 13.13%,#00ff86 13.65%,#00ff95 13.75%,#00ffc7 13.96%,#00ffe2 14.16%,#00fff8 14.99%,#00faff 15.09%,#00ccff 15.40%,#00bdff 15.81%,#00a5ff 17.04%,#00a1ff 18.48%,#00d5ff 18.90%,#00deff 19.10%,#00fcff 19.31%,#00ffe4 19.51%,#00ff62 20.03%,#00ff4c 20.13%,#00ff3d 20.96%,#00ff5c 21.37%,#00ff77 21.47%,#00ffd9 21.78%,#00ffed 22.09%,#00feff 22.50%,#00e3ff 23.01%,#009dff 23.43%,#007dff 24.25%,#005eff 25.59%,#0067ff 26.31%,#0078ff 27.03%,#006dff 27.54%,#0059ff 28.26%,#004dff 32.89%,#0058ff 33.41%,#0077ff 33.82%,#00afff 34.34%,#00bdff 34.54%,#00bdff 34.75%,#00a6ff 35.06%,#0068ff 35.57%,#0053ff 35.88%,#0052ff 36.19%,#005fff 36.70%,#0059ff 37.01%,#0034ff 37.73%,#002aff 38.35%,#0031ff 49.57%,#0040ff 52.35%,#0055ff 60.89%,#008aff 67.27%,#00b3ff 70.15%,#00e2ff 72.31%,#00fffe 73.14%,#00ffd0 74.06%,#00ff92 74.89%,#00ff51 75.50%,#00ff0a 76.02%,#06ff00 76.12%,#74ff00 76.74%,#f5ff00 77.36%,#fff400 77.46%,#ff8300 78.08%,#ff4b00 78.49%,#ff3100 78.80%,#ff2200 79.21%,#ff2600 79.72%,#ff3e00 80.14%,#ff6e00 80.55%,#ffd300 81.17%,#fff800 81.37%,#f3ff00 81.47%,#87ff00 82.09%,#3fff00 82.61%,#08ff00 83.12%,#00ff01 83.22%,#00ff43 84.15%,#00ffad 85.80%,#00ffff 86.93%,#00beff 87.96%,#0098ff 88.88%,#0081ff 90.12%,#007aff 92.49%,#0072ff 97.43%,#005fff 98.66%,#0052ff 100.00%)"></div><div style="top:170.4px;height:2.5px;background:linear-gradient(90deg,#fff200 0.16%,#ffd400 0.99%,#ff9700 1.40%,#ff8200 1.91%,#ff6f00 2.84%,#ff5c00 3.46%,#ff2d00 3.77%,#ff1900 4.28%,#ff2000 5.31%,#ff3a00 5.62%,#ff4a00 5.72%,#ffd200 6.34%,#fffa00 6.55%,#daff00 6.75%,#69ff00 7.27%,#35ff00 7.58%,#0dff00 7.88%,#02ff00 7.99%,#00ff14 8.19%,#00ff58 8.60%,#00ff6f 8.91%,#00ff98 9.74%,#00ffb2 10.15%,#00ffdd 10.66%,#00ffe5 12.52%,#00ffcb 12.72%,#00ff9f 12.93%,#00ff8b 13.13%,#00ff8b 13.65%,#00ff9b 13.75%,#00ffcd 13.96%,#00ffe6 14.16%,#00fffb 14.99%,#00e7ff 15.19%,#00c7ff 15.40%,#00b9ff 15.81%,#00a4ff 17.04%,#00a0ff 18.48%,#00d8ff 18.90%,#00e1ff 19.10%,#00fcff 19.31%,#00ffe6 19.51%,#00ff63 20.03%,#00ff4d 20.13%,#00ff3d 20.96%,#00ff58 21.37%,#00ff74 21.47%,#00ffba 21.68%,#00ffd8 21.78%,#00fff0 22.19%,#00fcff 22.60%,#00e6ff 23.01%,#009cff 23.43%,#007cff 24.25%,#005bff 25.48%,#0063ff 26.20%,#0075ff 26.92%,#006dff 27.44%,#0057ff 28.26%,#004bff 33.00%,#0058ff 33.51%,#0079ff 33.92%,#00b1ff 34.44%,#00bcff 34.64%,#00baff 34.85%,#009fff 35.16%,#0064ff 35.67%,#0054ff 35.98%,#0059ff 36.39%,#005eff 36.81%,#004dff 37.22%,#0033ff 37.73%,#002aff 38.45%,#0030ff 49.57%,#0040ff 52.35%,#0055ff 60.89%,#008aff 67.27%,#00b2ff 70.15%,#00e2ff 72.31%,#00fffe 73.14%,#00ffcf 74.06%,#00ff92 74.89%,#00ff50 75.50%,#00ff0a 76.02%,#07ff00 76.12%,#75ff00 76.74%,#f6ff00 77.36%,#fff300 77.46%,#ff8300 78.08%,#ff4c00 78.49%,#ff3100 78.80%,#ff2300 79.21%,#ff2700 79.72%,#ff3f00 80.14%,#ff6f00 80.55%,#ffd400 81.17%,#fff900 81.37%,#f2ff00 81.47%,#85ff00 82.09%,#3dff00 82.61%,#07ff00 83.12%,#00ff02 83.22%,#00ff45 84.15%,#00ffae 85.80%,#00feff 86.93%,#00bdff 87.96%,#0096ff 88.88%,#0080ff 90.12%,#0078ff 92.49%,#0070ff 97.43%,#005eff 98.76%,#0052ff 100.00%)"></div><div style="top:172.4px;height:2.5px;background:linear-gradient(90deg,#fff400 0.16%,#ffd700 0.99%,#ff9800 1.40%,#ff8300 1.91%,#ff7100 2.84%,#ff6000 3.46%,#ff2e00 3.77%,#ff1900 4.28%,#ff2000 5.31%,#ff3700 5.62%,#ff4600 5.72%,#ffce00 6.34%,#fff600 6.55%,#f4ff00 6.65%,#98ff00 7.06%,#6cff00 7.27%,#37ff00 7.58%,#0dff00 7.88%,#02ff00 7.99%,#00ff14 8.19%,#00ff59 8.60%,#00ff74 9.02%,#00ffa3 9.94%,#00ffe0 10.66%,#00ffe8 12.52%,#00ffcd 12.72%,#00ffa2 12.93%,#00ff91 13.13%,#00ff91 13.65%,#00ffa1 13.75%,#00ffd3 13.96%,#00ffea 14.16%,#00ffff 14.99%,#00c1ff 15.40%,#00b4ff 15.91%,#00a2ff 17.15%,#009fff 18.48%,#00daff 18.90%,#00e4ff 19.10%,#00fdff 19.31%,#00ffe7 19.51%,#00ff64 20.03%,#00ff4e 20.13%,#00ff3e 20.96%,#00ff53 21.37%,#00ff70 21.47%,#00ffb9 21.68%,#00ffd8 21.78%,#00fff3 22.29%,#00feff 22.60%,#00e9ff 23.01%,#009cff 23.43%,#0079ff 24.35%,#0059ff 25.48%,#0061ff 26.20%,#0072ff 26.92%,#0068ff 27.44%,#0055ff 28.16%,#0049ff 33.00%,#0055ff 33.51%,#0073ff 33.92%,#00abff 34.44%,#00b9ff 34.64%,#00b9ff 34.85%,#00a1ff 35.16%,#0067ff 35.67%,#0056ff 35.98%,#005cff 36.50%,#005aff 36.91%,#0032ff 37.73%,#002aff 38.45%,#0030ff 49.57%,#0040ff 52.35%,#0055ff 60.89%,#0088ff 67.17%,#00b0ff 70.05%,#00e2ff 72.31%,#00fffe 73.14%,#00ffcf 74.06%,#00ff91 74.89%,#00ff50 75.50%,#00ff09 76.02%,#07ff00 76.12%,#76ff00 76.74%,#f6ff00 77.36%,#fff300 77.46%,#ff8300 78.08%,#ff4c00 78.49%,#ff3200 78.80%,#ff2400 79.21%,#ff2800 79.72%,#ff4000 80.14%,#ff7000 80.55%,#ffd500 81.17%,#fffa00 81.37%,#ddff00 81.58%,#74ff00 82.19%,#30ff00 82.71%,#05ff00 83.12%,#00ff0c 83.33%,#00ff59 84.46%,#00ffb6 85.90%,#00fdff 86.93%,#00bbff 87.96%,#0095ff 88.88%,#007fff 90.02%,#0076ff 92.18%,#006dff 97.43%,#005eff 98.87%,#0053ff 100.00%)"></div><div style="top:174.4px;height:2.5px;background:linear-gradient(90deg,#fff600 0.16%,#ffda00 0.99%,#ff9800 1.40%,#ff8400 1.91%,#ff7000 2.94%,#ff6300 3.46%,#ff2f00 3.77%,#ff1900 4.28%,#ff2000 5.31%,#ff3400 5.62%,#ff4200 5.72%,#ffdf00 6.44%,#fff200 6.55%,#f8ff00 6.65%,#9cff00 7.06%,#6fff00 7.27%,#29ff00 7.68%,#03ff00 7.99%,#00ff14 8.19%,#00ff5a 8.60%,#00ff7e 9.22%,#00ff9a 9.84%,#00ffd0 10.46%,#00ffe3 10.66%,#00ffec 12.52%,#00ffce 12.72%,#00ffa4 12.93%,#00ff96 13.13%,#00ff96 13.65%,#00ffa7 13.75%,#00ffd9 13.96%,#00ffee 14.16%,#00ffff 14.88%,#00fbff 14.99%,#00bcff 15.40%,#00aaff 16.32%,#00a0ff 17.35%,#009eff 18.48%,#00ddff 18.90%,#00e6ff 19.10%,#00feff 19.31%,#00ffe8 19.51%,#00ff65 20.03%,#00ff4f 20.13%,#00ff3e 20.96%,#00ff4e 21.37%,#00ff6c 21.47%,#00ffb7 21.68%,#00ffd7 21.78%,#00fffd 22.60%,#00ecff 23.01%,#009bff 23.43%,#0075ff 24.45%,#0057ff 25.48%,#0060ff 26.20%,#006fff 26.92%,#0061ff 27.54%,#0052ff 28.26%,#0048ff 33.10%,#0056ff 33.61%,#0078ff 34.03%,#00aeff 34.54%,#00b8ff 34.75%,#00b3ff 34.95%,#0098ff 35.26%,#006aff 35.67%,#0058ff 35.98%,#005dff 36.70%,#004eff 37.11%,#0031ff 37.73%,#002aff 38.55%,#0030ff 49.57%,#0040ff 52.35%,#0055ff 60.89%,#0088ff 67.17%,#00b0ff 70.05%,#00e2ff 72.31%,#00fffe 73.14%,#00ffce 74.06%,#00ff90 74.89%,#00ff4f 75.50%,#00ff08 76.02%,#08ff00 76.12%,#77ff00 76.74%,#f7ff00 77.36%,#fff200 77.46%,#ff8300 78.08%,#ff4c00 78.49%,#ff3300 78.80%,#ff2500 79.21%,#ff2800 79.72%,#ff4100 80.14%,#ff7100 80.55%,#ffd600 81.17%,#fffb00 81.37%,#c9ff00 81.68%,#73ff00 82.19%,#2eff00 82.71%,#04ff00 83.12%,#00ff1e 83.53%,#00ffb7 85.90%,#00fdff 86.93%,#00baff 87.96%,#0093ff 88.88%,#007dff 90.02%,#0074ff 92.18%,#006aff 97.53%,#0053ff 100.00%)"></div><div style="top:176.4px;height:2.5px;background:linear-gradient(90deg,#fff700 0.16%,#ffdd00 0.99%,#ff9900 1.40%,#ff8400 1.91%,#ff6d00 3.15%,#ff6600 3.46%,#ff3000 3.77%,#ff1900 4.28%,#ff2000 5.31%,#ff3000 5.62%,#ff3e00 5.72%,#ffdb00 6.44%,#fcff00 6.65%,#b8ff00 6.96%,#71ff00 7.27%,#1bff00 7.78%,#03ff00 7.99%,#00ff15 8.19%,#00ff5b 8.60%,#00ff91 9.63%,#00ff99 9.84%,#00ffd2 10.46%,#00ffe6 10.66%,#00ffef 12.52%,#00ffd0 12.72%,#00ffa7 12.93%,#00ff9c 13.13%,#00ff9c 13.65%,#00ffae 13.75%,#00ffde 13.96%,#00fff1 14.16%,#00fcff 14.88%,#00f7ff 14.99%,#00b7ff 15.40%,#00a0ff 17.04%,#009dff 18.48%,#00dfff 18.90%,#00e9ff 19.10%,#00feff 19.31%,#00ffea 19.51%,#00ff66 20.03%,#00ff50 20.13%,#00ff3e 20.96%,#00ff4a 21.37%,#00ff68 21.47%,#00ffb6 21.68%,#00ffd7 21.78%,#00ffff 22.70%,#00efff 23.01%,#009bff 23.43%,#006eff 24.66%,#0055ff 25.48%,#005eff 26.20%,#006cff 26.82%,#0063ff 27.34%,#0050ff 28.16%,#0047ff 33.20%,#0052ff 33.61%,#0072ff 34.03%,#00a8ff 34.54%,#00b4ff 34.75%,#00b2ff 34.95%,#009aff 35.26%,#0065ff 35.78%,#0059ff 36.08%,#005dff 36.70%,#0046ff 37.22%,#0030ff 37.73%,#002aff 38.76%,#0030ff 49.57%,#0040ff 52.35%,#0054ff 60.89%,#0088ff 67.17%,#00b0ff 70.05%,#00e2ff 72.31%,#00fffd 73.14%,#00ffce 74.06%,#00ff90 74.89%,#00ff4e 75.50%,#00ff07 76.02%,#09ff00 76.12%,#78ff00 76.74%,#f7ff00 77.36%,#fff200 77.46%,#ff8300 78.08%,#ff4d00 78.49%,#ff3300 78.80%,#ff2500 79.21%,#ff2900 79.72%,#ff4200 80.14%,#ff7200 80.55%,#ffd700 81.17%,#fffc00 81.37%,#81ff00 82.09%,#39ff00 82.61%,#02ff00 83.12%,#00ff4f 84.25%,#00ffb0 85.80%,#00fffb 86.83%,#00edff 87.13%,#00aeff 88.16%,#008eff 88.99%,#0079ff 90.22%,#0072ff 92.59%,#0067ff 97.63%,#0053ff 100.00%)"></div><div style="top:178.4px;height:2.5px;background:linear-gradient(90deg,#fff900 0.16%,#ffe000 0.99%,#ff9a00 1.40%,#ff8500 1.91%,#ff6a00 3.46%,#ff3100 3.77%,#ff1900 4.28%,#ff2300 5.41%,#ff2d00 5.62%,#ff3a00 5.72%,#ffd600 6.44%,#fffd00 6.65%,#bcff00 6.96%,#74ff00 7.27%,#1cff00 7.78%,#04ff00 7.99%,#00ff15 8.19%,#00ff5c 8.60%,#00ff98 9.84%,#00ffd4 10.46%,#00ffea 10.66%,#00fff2 12.52%,#00ffd2 12.72%,#00ffaa 12.93%,#00ffa1 13.24%,#00ffa1 13.65%,#00ffcc 13.85%,#00ffe4 13.96%,#00fff5 14.16%,#00fdff 14.68%,#00f4ff 14.99%,#00b1ff 15.40%,#009dff 17.25%,#009bff 18.48%,#00e2ff 18.90%,#00f5ff 19.21%,#00ffff 19.31%,#00ffeb 19.51%,#00ff67 20.03%,#00ff51 20.13%,#00ff3e 20.96%,#00ff45 21.37%,#00ff64 21.47%,#00ffb4 21.68%,#00ffd6 21.78%,#00fdff 22.81%,#00f1ff 23.01%,#009bff 23.43%,#0059ff 25.28%,#0053ff 25.59%,#0063ff 26.41%,#0069ff 26.92%,#004fff 28.06%,#0045ff 33.20%,#004fff 33.61%,#006cff 34.03%,#00abff 34.64%,#00b2ff 34.85%,#00adff 35.06%,#0086ff 35.47%,#0068ff 35.78%,#005cff 36.08%,#005cff 36.70%,#0031ff 37.63%,#002aff 38.45%,#002fff 49.57%,#003fff 52.35%,#0054ff 60.89%,#0086ff 67.06%,#00aeff 69.95%,#00dfff 72.21%,#00fffd 73.14%,#00ffcd 74.06%,#00ff8f 74.89%,#00ff4d 75.50%,#00ff06 76.02%,#0aff00 76.12%,#78ff00 76.74%,#f8ff00 77.36%,#fff200 77.46%,#ff8300 78.08%,#ff4d00 78.49%,#ff3400 78.80%,#ff2600 79.21%,#ff2a00 79.72%,#ff4300 80.14%,#ff7300 80.55%,#ffd900 81.17%,#fffd00 81.37%,#80ff00 82.09%,#38ff00 82.61%,#01ff00 83.12%,#00ff44 84.05%,#00ffb1 85.80%,#00fffc 86.83%,#00bdff 87.86%,#0093ff 88.78%,#007aff 89.91%,#0070ff 91.87%,#0065ff 97.74%,#0055ff 99.69%,#0053ff 100.00%)"></div><div style="top:180.4px;height:2.5px;background:linear-gradient(90deg,#fffb00 0.16%,#ffe300 0.99%,#ff9b00 1.40%,#ff8600 1.91%,#ff6d00 3.46%,#ff3200 3.77%,#ff1800 4.28%,#ff2200 5.41%,#ff2a00 5.62%,#ff3600 5.72%,#ffd200 6.44%,#fffa00 6.65%,#f0ff00 6.75%,#77ff00 7.27%,#1dff00 7.78%,#04ff00 7.99%,#00ff15 8.19%,#00ff5d 8.60%,#00ff97 9.84%,#00ffca 10.35%,#00ffed 10.66%,#00fff5 12.52%,#00ffad 12.93%,#00ffa7 13.24%,#00ffa7 13.65%,#00ffd2 13.85%,#00ffea 13.96%,#00fff9 14.16%,#00f9ff 14.68%,#00f0ff 14.99%,#00acff 15.40%,#009bff 17.56%,#009aff 18.48%,#00e4ff 18.90%,#00ffff 19.31%,#00ffec 19.51%,#00ff68 20.03%,#00ff52 20.13%,#00ff3f 21.06%,#00ff40 21.37%,#00ff60 21.47%,#00ffb3 21.68%,#00ffd6 21.78%,#00fcff 22.91%,#00f4ff 23.01%,#009aff 23.43%,#0051ff 25.48%,#005eff 26.31%,#0066ff 26.82%,#004cff 28.06%,#0043ff 33.20%,#0050ff 33.72%,#0070ff 34.13%,#00a6ff 34.64%,#00afff 34.85%,#00acff 35.06%,#0094ff 35.36%,#006cff 35.78%,#005eff 36.08%,#005bff 36.70%,#0030ff 37.63%,#002aff 38.55%,#002eff 49.46%,#003fff 52.24%,#0054ff 60.89%,#0086ff 67.06%,#00adff 69.95%,#00dfff 72.21%,#00fffd 73.14%,#00ffcd 74.06%,#00ff8e 74.89%,#00ff4d 75.50%,#00ff06 76.02%,#0bff00 76.12%,#79ff00 76.74%,#f9ff00 77.36%,#fff100 77.46%,#ff8300 78.08%,#ff4d00 78.49%,#ff3400 78.80%,#ff2700 79.21%,#ff2b00 79.72%,#ff4400 80.14%,#ff7400 80.55%,#ffda00 81.17%,#fffe00 81.37%,#7fff00 82.09%,#36ff00 82.61%,#00ff00 83.12%,#00ff3f 83.94%,#00ffb2 85.80%,#00fffc 86.83%,#00b1ff 88.06%,#008eff 88.88%,#0077ff 90.02%,#006dff 92.07%,#0062ff 98.04%,#0058ff 99.49%,#0053ff 100.00%)"></div><div style="top:182.4px;height:2.5px;background:linear-gradient(90deg,#fffc00 0.16%,#ffe600 0.99%,#ff9b00 1.40%,#ff8700 1.91%,#ff7000 3.46%,#ff3300 3.77%,#ff1800 4.28%,#ff2400 5.52%,#ff2600 5.62%,#ff3200 5.72%,#ffce00 6.44%,#fff600 6.65%,#f4ff00 6.75%,#8fff00 7.16%,#1eff00 7.78%,#04ff00 7.99%,#00ff16 8.19%,#00ff5e 8.60%,#00ff96 9.84%,#00ffcb 10.35%,#00fff0 10.66%,#00fff8 12.52%,#00ffb0 12.93%,#00ffac 13.65%,#00fff0 13.96%,#00fffd 14.16%,#00ecff 14.99%,#00a7ff 15.40%,#0096ff 18.38%,#0099ff 18.48%,#00e6ff 18.90%,#00fffe 19.31%,#00ffee 19.51%,#00ff69 20.03%,#00ff53 20.13%,#00ff3d 21.16%,#00ff3c 21.37%,#00ff5c 21.47%,#00ffb1 21.68%,#00ffd5 21.78%,#00ffff 22.91%,#00f7ff 23.01%,#009aff 23.43%,#004fff 25.48%,#005dff 26.31%,#0063ff 26.82%,#004bff 27.95%,#0042ff 33.31%,#004cff 33.72%,#006aff 34.13%,#00a0ff 34.64%,#00acff 34.85%,#00abff 35.06%,#0096ff 35.36%,#006fff 35.78%,#0061ff 36.08%,#005aff 36.70%,#0032ff 37.53%,#002aff 38.25%,#002eff 49.46%,#003fff 52.24%,#0054ff 60.89%,#0085ff 67.06%,#00adff 69.95%,#00dfff 72.21%,#00fffd 73.14%,#00ffcc 74.06%,#00ff8e 74.89%,#00ff4c 75.50%,#00ff05 76.02%,#1cff00 76.22%,#8eff00 76.84%,#f9ff00 77.36%,#ffdd00 77.56%,#ff8300 78.08%,#ff4d00 78.49%,#ff3500 78.80%,#ff2800 79.21%,#ff2c00 79.72%,#ff4500 80.14%,#ff7500 80.55%,#ffdb00 81.17%,#feff00 81.37%,#8eff00 81.99%,#42ff00 82.50%,#08ff00 83.02%,#00ff02 83.12%,#00ff40 83.94%,#00ffb3 85.80%,#00fffd 86.83%,#00b0ff 88.06%,#008cff 88.88%,#0075ff 90.02%,#006bff 92.07%,#005eff 98.97%,#0053ff 100.00%)"></div><div style="top:184.4px;height:2.5px;background:linear-gradient(90deg,#fffe00 0.16%,#ffea00 0.99%,#ff9c00 1.40%,#ff8700 1.91%,#ff7300 3.46%,#ff3400 3.77%,#ff1800 4.28%,#ff2300 5.62%,#ff2e00 5.72%,#ffde00 6.55%,#fff200 6.65%,#f8ff00 6.75%,#92ff00 7.16%,#1fff00 7.78%,#05ff00 7.99%,#00ff16 8.19%,#00ff5f 8.60%,#00ff95 9.84%,#00ffcd 10.35%,#00fff3 10.66%,#00fffb 12.52%,#00ffb3 12.93%,#00ffb2 13.65%,#00fff5 13.96%,#00fffe 14.06%,#00e8ff 14.99%,#00a1ff 15.40%,#0095ff 18.38%,#0098ff 18.48%,#00e9ff 18.90%,#00fffe 19.31%,#00ffef 19.51%,#00ff6a 20.03%,#00ff54 20.13%,#00ff37 21.37%,#00ff58 21.47%,#00ffb0 21.68%,#00ffd5 21.78%,#00fffc 22.91%,#00faff 23.01%,#0099ff 23.43%,#004dff 25.48%,#0060ff 26.72%,#0048ff 27.95%,#0040ff 33.31%,#004eff 33.82%,#006fff 34.23%,#00a2ff 34.75%,#00aaff 35.06%,#0098ff 35.36%,#006cff 35.88%,#0061ff 36.29%,#0059ff 36.70%,#0031ff 37.53%,#002aff 38.35%,#002eff 49.46%,#003eff 52.24%,#0054ff 60.89%,#0084ff 66.96%,#00adff 69.95%,#00e0ff 72.21%,#00fffc 73.14%,#00ffcc 74.06%,#00ff8d 74.89%,#00ff4b 75.50%,#00ff04 76.02%,#1dff00 76.22%,#8fff00 76.84%,#faff00 77.36%,#ffdc00 77.56%,#ff8300 78.08%,#ff4e00 78.49%,#ff3500 78.80%,#ff2800 79.21%,#ff2d00 79.72%,#ff4600 80.14%,#ff7700 80.55%,#ffdc00 81.17%,#fdff00 81.37%,#8dff00 81.99%,#41ff00 82.50%,#07ff00 83.02%,#00ff03 83.12%,#00ff41 83.94%,#00ffbb 85.90%,#00fffe 86.83%,#00aeff 88.06%,#008bff 88.88%,#0073ff 90.02%,#0069ff 91.97%,#005cff 99.18%,#0053ff 100.00%)"></div><div style="top:186.4px;height:2.5px;background:linear-gradient(90deg,#ffff00 0.16%,#ffeb00 0.99%,#ff9d00 1.40%,#ff8800 1.91%,#ff7500 3.46%,#ff3400 3.77%,#ff1800 4.28%,#ff2200 5.62%,#ff2c00 5.72%,#ffdc00 6.55%,#faff00 6.75%,#94ff00 7.16%,#20ff00 7.78%,#05ff00 7.99%,#00ff16 8.19%,#00ff5f 8.60%,#00ff95 9.84%,#00ffcd 10.35%,#00fff4 10.66%,#00fffd 12.52%,#00ffb4 12.93%,#00ffb4 13.65%,#00fff8 13.96%,#00feff 14.06%,#00e7ff 14.99%,#009fff 15.40%,#0094ff 18.38%,#0097ff 18.48%,#00eaff 18.90%,#00fffe 19.31%,#00fff0 19.51%,#00ff6b 20.03%,#00ff54 20.13%,#00ff35 21.37%,#00ff57 21.47%,#00ffaf 21.68%,#00ffd4 21.78%,#00fffb 22.91%,#00fbff 23.01%,#00afff 23.32%,#0099ff 23.43%,#004cff 25.48%,#005eff 26.72%,#0047ff 27.95%,#0040ff 33.41%,#004bff 33.82%,#006aff 34.23%,#009eff 34.75%,#00a8ff 35.06%,#009aff 35.36%,#0070ff 35.88%,#0063ff 36.29%,#0052ff 36.81%,#0033ff 37.42%,#002aff 38.14%,#002eff 49.46%,#003eff 52.24%,#0053ff 60.89%,#0084ff 66.96%,#00adff 69.95%,#00e0ff 72.21%,#00fffc 73.14%,#00ffcb 74.06%,#00ff8c 74.89%,#00ff4a 75.50%,#00ff03 76.02%,#30ff00 76.33%,#a5ff00 76.95%,#fbff00 77.36%,#ffc800 77.67%,#ff7300 78.18%,#ff4400 78.59%,#ff2c00 79.00%,#ff2900 79.52%,#ff3700 79.93%,#ff5c00 80.34%,#ff9600 80.75%,#fdff00 81.37%,#8cff00 81.99%,#40ff00 82.50%,#06ff00 83.02%,#00ff0d 83.22%,#00ff4f 84.15%,#00ffb4 85.80%,#00fffe 86.83%,#00aeff 88.06%,#008aff 88.88%,#0072ff 90.02%,#0068ff 91.97%,#005cff 99.18%,#0053ff 100.00%)"></div><div style="top:188.4px;height:2.5px;background:linear-gradient(90deg,#ffff00 0.16%,#ffeb00 0.99%,#ff9d00 1.40%,#ff8800 1.91%,#ff7500 3.46%,#ff3400 3.77%,#ff1800 4.28%,#ff2200 5.62%,#ff2c00 5.72%,#ffdc00 6.55%,#faff00 6.75%,#94ff00 7.16%,#20ff00 7.78%,#05ff00 7.99%,#00ff16 8.19%,#00ff5f 8.60%,#00ff95 9.84%,#00ffcd 10.35%,#00fff4 10.66%,#00fffd 12.52%,#00ffb4 12.93%,#00ffb4 13.65%,#00fff8 13.96%,#00feff 14.06%,#00e7ff 14.99%,#009fff 15.40%,#0094ff 18.38%,#0097ff 18.48%,#00eaff 18.90%,#00fffe 19.31%,#00fff0 19.51%,#00ff6b 20.03%,#00ff54 20.13%,#00ff35 21.37%,#00ff56 21.47%,#00ffaf 21.68%,#00ffd4 21.78%,#00fffb 22.91%,#00fbff 23.01%,#00afff 23.32%,#0099ff 23.43%,#004cff 25.48%,#005eff 26.62%,#0047ff 27.95%,#003fff 33.41%,#004eff 33.92%,#006fff 34.34%,#0099ff 34.75%,#00a7ff 35.06%,#009cff 35.36%,#006eff 35.98%,#0055ff 36.70%,#0031ff 37.42%,#002aff 38.25%,#002eff 49.46%,#003eff 52.24%,#0054ff 60.89%,#0084ff 66.96%,#00adff 69.95%,#00e0ff 72.21%,#00feff 73.03%,#00ffd1 73.96%,#00ff94 74.78%,#00ff55 75.40%,#00ff02 76.02%,#56ff00 76.53%,#fcff00 77.36%,#ff8200 78.08%,#ff4d00 78.49%,#ff3000 78.90%,#ff2800 79.31%,#ff2d00 79.72%,#ff4700 80.14%,#ff7700 80.55%,#ffdd00 81.17%,#fdff00 81.37%,#8cff00 81.99%,#40ff00 82.50%,#06ff00 83.02%,#00ff0d 83.22%,#00ff4f 84.15%,#00ffb3 85.80%,#00fffd 86.83%,#00afff 88.06%,#008bff 88.88%,#0072ff 90.02%,#0069ff 91.97%,#005cff 99.18%,#0053ff 100.00%)"></div><div style="top:190.4px;height:2.5px;background:linear-gradient(90deg,#ffff00 0.16%,#ffeb00 0.99%,#ff9d00 1.40%,#ff8800 1.91%,#ff7500 3.46%,#ff3400 3.77%,#ff1800 4.28%,#ff2200 5.62%,#ff2c00 5.72%,#ffdc00 6.55%,#faff00 6.75%,#94ff00 7.16%,#20ff00 7.78%,#05ff00 7.99%,#00ff16 8.19%,#00ff5f 8.60%,#00ff95 9.84%,#00ffcd 10.35%,#00fff4 10.66%,#00fffd 12.52%,#00ffb4 12.93%,#00ffb4 13.65%,#00fff8 13.96%,#00feff 14.06%,#00e7ff 14.99%,#009fff 15.40%,#0094ff 18.38%,#0097ff 18.48%,#00eaff 18.90%,#00fffd 19.31%,#00fff0 19.51%,#00ff6b 20.03%,#00ff54 20.13%,#00ff35 21.37%,#00ff56 21.47%,#00ffaf 21.68%,#00ffd4 21.78%,#00fffb 22.91%,#00fbff 23.01%,#00afff 23.32%,#0099ff 23.43%,#004cff 25.48%,#005dff 26.62%,#0047ff 27.85%,#003fff 33.41%,#004cff 33.92%,#006bff 34.34%,#009cff 34.85%,#00a5ff 35.16%,#0097ff 35.47%,#0072ff 35.98%,#004cff 36.81%,#0030ff 37.42%,#002aff 38.45%,#002eff 49.46%,#003fff 52.35%,#0054ff 60.89%,#0084ff 66.96%,#00acff 69.84%,#00e1ff 72.21%,#00ffff 73.03%,#00ffd0 73.96%,#00ff94 74.78%,#00ff54 75.40%,#00ff00 76.02%,#6bff00 76.64%,#fdff00 77.36%,#ff8100 78.08%,#ff4d00 78.49%,#ff3000 78.90%,#ff2800 79.42%,#ff3200 79.83%,#ff5100 80.24%,#ff8600 80.65%,#fcff00 81.37%,#8cff00 81.99%,#40ff00 82.50%,#06ff00 83.02%,#00ff0d 83.22%,#00ff4f 84.15%,#00ffb3 85.80%,#00fffd 86.83%,#00aaff 88.16%,#0088ff 88.99%,#0070ff 90.22%,#0069ff 92.49%,#005cff 99.18%,#0053ff 100.00%)"></div><div style="top:192.4px;height:2.5px;background:linear-gradient(90deg,#ffff00 0.16%,#ffeb00 0.99%,#ff9d00 1.40%,#ff8800 1.91%,#ff7500 3.46%,#ff3400 3.77%,#ff1800 4.28%,#ff2200 5.62%,#ff2c00 5.72%,#ffdc00 6.55%,#faff00 6.75%,#94ff00 7.16%,#20ff00 7.78%,#05ff00 7.99%,#00ff16 8.19%,#00ff5f 8.60%,#00ff95 9.84%,#00ffcd 10.35%,#00fff4 10.66%,#00fffd 12.52%,#00ffb4 12.93%,#00ffb4 13.65%,#00fff8 13.96%,#00feff 14.06%,#00e7ff 14.99%,#009fff 15.40%,#0094ff 18.38%,#0097ff 18.48%,#00eaff 18.90%,#00fffd 19.31%,#00fff0 19.51%,#00ff6b 20.03%,#00ff54 20.13%,#00ff35 21.37%,#00ff56 21.47%,#00ffaf 21.68%,#00ffd4 21.78%,#00fffb 22.91%,#00fbff 23.01%,#00afff 23.32%,#0099ff 23.43%,#004dff 25.48%,#005bff 26.62%,#0047ff 27.85%,#003fff 33.51%,#004fff 34.03%,#0070ff 34.44%,#0098ff 34.85%,#00a4ff 35.16%,#0099ff 35.47%,#0070ff 36.08%,#0031ff 37.32%,#002aff 38.14%,#002eff 49.46%,#003fff 52.35%,#0054ff 60.89%,#0084ff 66.96%,#00acff 69.84%,#00e1ff 72.21%,#00fffe 73.03%,#00ffcf 73.96%,#00ff93 74.78%,#00ff53 75.40%,#01ff00 76.02%,#6cff00 76.64%,#feff00 77.36%,#ff9000 77.97%,#ff5700 78.39%,#ff3500 78.80%,#ff2800 79.21%,#ff2d00 79.72%,#ff4700 80.14%,#ff7700 80.55%,#ffdd00 81.17%,#fcff00 81.37%,#8cff00 81.99%,#40ff00 82.50%,#06ff00 83.02%,#00ff0d 83.22%,#00ff4f 84.15%,#00ffb2 85.80%,#00fffc 86.83%,#00aaff 88.16%,#0088ff 88.99%,#0070ff 90.22%,#0069ff 92.38%,#005cff 99.18%,#0053ff 100.00%)"></div><div style="top:194.4px;height:2.5px;background:linear-gradient(90deg,#ffff00 0.16%,#ffeb00 0.99%,#ff9d00 1.40%,#ff8800 1.91%,#ff7500 3.46%,#ff3400 3.77%,#ff1800 4.28%,#ff2200 5.62%,#ff2c00 5.72%,#ffdc00 6.55%,#faff00 6.75%,#94ff00 7.16%,#20ff00 7.78%,#05ff00 7.99%,#00ff16 8.19%,#00ff5f 8.60%,#00ff95 9.84%,#00ffcd 10.35%,#00fff4 10.66%,#00fffd 12.52%,#00ffb4 12.93%,#00ffb4 13.65%,#00fff8 13.96%,#00feff 14.06%,#00e7ff 14.99%,#009fff 15.40%,#0094ff 18.38%,#0097ff 18.48%,#00eaff 18.90%,#00fffd 19.31%,#00fff0 19.51%,#00ff6b 20.03%,#00ff54 20.13%,#00ff35 21.37%,#00ff56 21.47%,#00ffaf 21.68%,#00ffd4 21.78%,#00fffb 22.91%,#00fbff 23.01%,#00afff 23.32%,#0099ff 23.43%,#004dff 25.48%,#005bff 26.51%,#0047ff 27.85%,#003fff 33.51%,#004cff 34.03%,#006bff 34.44%,#009aff 34.95%,#00a2ff 35.26%,#0095ff 35.57%,#0036ff 37.11%,#002aff 37.73%,#002eff 49.46%,#003fff 52.35%,#0054ff 60.89%,#0084ff 66.96%,#00acff 69.84%,#00e2ff 72.21%,#00fffe 73.03%,#00ffce 73.96%,#00ff92 74.78%,#00ff52 75.40%,#02ff00 76.02%,#6dff00 76.64%,#ffff00 77.36%,#ff8f00 77.97%,#ff5700 78.39%,#ff3400 78.80%,#ff2800 79.21%,#ff2d00 79.72%,#ff4700 80.14%,#ff7800 80.55%,#ffdd00 81.17%,#fcff00 81.37%,#8cff00 81.99%,#40ff00 82.50%,#06ff00 83.02%,#00ff0d 83.22%,#00ff4f 84.15%,#00ffb2 85.80%,#00fffb 86.83%,#00ddff 87.34%,#00a0ff 88.37%,#0080ff 89.30%,#006dff 90.63%,#005cff 99.18%,#0053ff 100.00%)"></div><div style="top:196.4px;height:2.5px;background:linear-gradient(90deg,#ffff00 0.16%,#ffeb00 0.99%,#ff9d00 1.40%,#ff8800 1.91%,#ff7500 3.46%,#ff3400 3.77%,#ff1800 4.28%,#ff2200 5.62%,#ff2c00 5.72%,#ffdc00 6.55%,#faff00 6.75%,#94ff00 7.16%,#20ff00 7.78%,#05ff00 7.99%,#00ff16 8.19%,#00ff5f 8.60%,#00ff95 9.84%,#00ffcd 10.35%,#00fff4 10.66%,#00fffd 12.52%,#00ffb4 12.93%,#00ffb4 13.65%,#00fff8 13.96%,#00feff 14.06%,#00e7ff 14.99%,#009fff 15.40%,#0094ff 18.38%,#0097ff 18.48%,#00eaff 18.90%,#00fffd 19.31%,#00fff0 19.51%,#00ff6b 20.03%,#00ff54 20.13%,#00ff35 21.37%,#00ff56 21.47%,#00ffaf 21.68%,#00ffd4 21.78%,#00fffb 22.91%,#00fbff 23.01%,#00afff 23.32%,#0099ff 23.43%,#004dff 25.48%,#005aff 26.51%,#0047ff 27.75%,#003fff 33.61%,#004fff 34.13%,#0071ff 34.54%,#0096ff 34.95%,#00a1ff 35.26%,#0097ff 35.57%,#0039ff 37.01%,#002bff 37.53%,#002eff 49.46%,#003fff 52.35%,#0054ff 60.89%,#0085ff 66.96%,#00acff 69.84%,#00e2ff 72.21%,#00fffd 73.03%,#00ffce 73.96%,#00ff91 74.78%,#00ff51 75.40%,#03ff00 76.02%,#6fff00 76.64%,#fffe00 77.36%,#ff8f00 77.97%,#ff5600 78.39%,#ff3400 78.80%,#ff2800 79.21%,#ff2d00 79.72%,#ff4700 80.14%,#ff7800 80.55%,#ffdd00 81.17%,#fcff00 81.37%,#8cff00 81.99%,#40ff00 82.50%,#06ff00 83.02%,#00ff0d 83.22%,#00ff4e 84.15%,#00ffb1 85.80%,#00fcff 86.93%,#00b1ff 88.06%,#008cff 88.88%,#0073ff 90.02%,#0069ff 91.97%,#005cff 99.18%,#0053ff 100.00%)"></div><div style="top:198.4px;height:2.5px;background:linear-gradient(90deg,#ffff00 0.16%,#ffeb00 0.99%,#ff9d00 1.40%,#ff8800 1.91%,#ff7500 3.46%,#ff3400 3.77%,#ff1800 4.28%,#ff2200 5.62%,#ff2c00 5.72%,#ffdc00 6.55%,#faff00 6.75%,#94ff00 7.16%,#20ff00 7.78%,#05ff00 7.99%,#00ff16 8.19%,#00ff5f 8.60%,#00ff95 9.84%,#00ffcd 10.35%,#00fff4 10.66%,#00fffd 12.52%,#00ffb4 12.93%,#00ffb4 13.65%,#00fff8 13.96%,#00feff 14.06%,#00e7ff 14.99%,#009fff 15.40%,#0094ff 18.38%,#0097ff 18.48%,#00eaff 18.90%,#00fffd 19.31%,#00fff0 19.51%,#00ff6b 20.03%,#00ff54 20.13%,#00ff35 21.37%,#00ff56 21.47%,#00ffaf 21.68%,#00ffd4 21.78%,#00fffb 22.91%,#00fbff 23.01%,#00afff 23.32%,#0099ff 23.43%,#004dff 25.48%,#0059ff 26.41%,#0047ff 27.75%,#003fff 33.61%,#004dff 34.13%,#006cff 34.54%,#0099ff 35.06%,#00a0ff 35.36%,#008dff 35.78%,#003cff 36.91%,#002cff 37.42%,#002eff 49.46%,#003fff 52.35%,#0054ff 60.89%,#0085ff 66.96%,#00adff 69.84%,#00e3ff 72.21%,#00fffd 73.03%,#00ffcd 73.96%,#00ff90 74.78%,#00ff50 75.40%,#00ff0b 75.92%,#05ff00 76.02%,#70ff00 76.64%,#fffc00 77.36%,#ff8e00 77.97%,#ff5600 78.39%,#ff3400 78.80%,#ff2800 79.21%,#ff2d00 79.72%,#ff4700 80.14%,#ff7800 80.55%,#ffdd00 81.17%,#fcff00 81.37%,#8cff00 81.99%,#40ff00 82.50%,#06ff00 83.02%,#00ff0d 83.22%,#00ff4e 84.15%,#00ffb1 85.80%,#00fcff 86.93%,#00b1ff 88.06%,#008cff 88.88%,#0073ff 90.02%,#0069ff 91.97%,#005cff 99.18%,#0053ff 100.00%)"></div><div style="top:200.4px;height:2.5px;background:linear-gradient(90deg,#ffff00 0.16%,#ffeb00 0.99%,#ff9d00 1.40%,#ff8800 1.91%,#ff7500 3.46%,#ff3400 3.77%,#ff1800 4.28%,#ff2200 5.62%,#ff2c00 5.72%,#ffdc00 6.55%,#faff00 6.75%,#94ff00 7.16%,#20ff00 7.78%,#05ff00 7.99%,#00ff16 8.19%,#00ff5f 8.60%,#00ff95 9.84%,#00ffcd 10.35%,#00fff4 10.66%,#00fffd 12.52%,#00ffb4 12.93%,#00ffb4 13.65%,#00fff8 13.96%,#00feff 14.06%,#00e7ff 14.99%,#009fff 15.40%,#0094ff 18.38%,#0097ff 18.48%,#00eaff 18.90%,#00fffd 19.31%,#00fff0 19.51%,#00ff6b 20.03%,#00ff54 20.13%,#00ff35 21.37%,#00ff56 21.47%,#00ffaf 21.68%,#00ffd4 21.78%,#00fffb 22.91%,#00fbff 23.01%,#00afff 23.32%,#0099ff 23.43%,#004dff 25.48%,#0058ff 26.41%,#0047ff 27.65%,#003fff 33.72%,#0050ff 34.23%,#0095ff 35.06%,#009fff 35.36%,#0096ff 35.67%,#0062ff 36.39%,#003aff 36.91%,#002bff 37.42%,#002eff 49.46%,#003fff 52.35%,#0054ff 60.89%,#0085ff 66.96%,#00adff 69.84%,#00e3ff 72.21%,#00fffc 73.03%,#00ffcc 73.96%,#00ff8f 74.78%,#00ff4f 75.40%,#00ff0a 75.92%,#06ff00 76.02%,#71ff00 76.64%,#eeff00 77.25%,#fffb00 77.36%,#ff8d00 77.97%,#ff5500 78.39%,#ff3400 78.80%,#ff2800 79.21%,#ff2d00 79.72%,#ff4700 80.14%,#ff7800 80.55%,#ffdd00 81.17%,#fcff00 81.37%,#8cff00 81.99%,#40ff00 82.50%,#06ff00 83.02%,#00ff0d 83.22%,#00ff4e 84.15%,#00ffb0 85.80%,#00fdff 86.93%,#00b2ff 88.06%,#008dff 88.88%,#0074ff 90.02%,#0069ff 91.87%,#005cff 99.18%,#0053ff 100.00%)"></div><div style="top:202.4px;height:2.5px;background:linear-gradient(90deg,#ffff00 0.16%,#ffeb00 0.99%,#ff9d00 1.40%,#ff8800 1.91%,#ff7500 3.46%,#ff3400 3.77%,#ff1800 4.28%,#ff2200 5.62%,#ff2c00 5.72%,#ffdc00 6.55%,#faff00 6.75%,#94ff00 7.16%,#20ff00 7.78%,#05ff00 7.99%,#00ff16 8.19%,#00ff5f 8.60%,#00ff95 9.84%,#00ffcd 10.35%,#00fff4 10.66%,#00fffd 12.52%,#00ffb4 12.93%,#00ffb4 13.65%,#00fff8 13.96%,#00feff 14.06%,#00e7ff 14.99%,#009fff 15.40%,#0094ff 18.38%,#0097ff 18.48%,#00eaff 18.90%,#00fffd 19.31%,#00fff0 19.51%,#00ff6b 20.03%,#00ff54 20.13%,#00ff35 21.37%,#00ff56 21.47%,#00ffaf 21.68%,#00ffd4 21.78%,#00fffb 22.91%,#00fbff 23.01%,#00afff 23.32%,#0099ff 23.43%,#004eff 25.48%,#0057ff 26.41%,#0047ff 27.65%,#003fff 33.72%,#004eff 34.23%,#0078ff 34.75%,#0098ff 35.16%,#009eff 35.47%,#008bff 35.88%,#003eff 36.81%,#002eff 37.22%,#002aff 38.97%,#002eff 49.46%,#003fff 52.35%,#0054ff 60.89%,#0084ff 66.86%,#00adff 69.84%,#00e4ff 72.21%,#00fffc 73.03%,#00ffcb 73.96%,#00ff8e 74.78%,#00ff4e 75.40%,#00ff08 75.92%,#07ff00 76.02%,#73ff00 76.64%,#efff00 77.25%,#fffa00 77.36%,#ff8c00 77.97%,#ff5500 78.39%,#ff3300 78.80%,#ff2800 79.21%,#ff2d00 79.72%,#ff4700 80.14%,#ff7800 80.55%,#ffdd00 81.17%,#fcff00 81.37%,#8cff00 81.99%,#40ff00 82.50%,#06ff00 83.02%,#00ff0d 83.22%,#00ff48 84.05%,#00ffb0 85.80%,#00feff 86.93%,#00b2ff 88.06%,#008dff 88.88%,#0074ff 90.02%,#0069ff 91.87%,#005cff 99.18%,#0053ff 100.00%)"></div><div style="top:204.4px;height:2.5px;background:linear-gradient(90deg,#ffff00 0.16%,#ffeb00 0.99%,#ff9d00 1.40%,#ff8800 1.91%,#ff7500 3.46%,#ff3400 3.77%,#ff1800 4.28%,#ff2200 5.62%,#ff2c00 5.72%,#ffdc00 6.55%,#faff00 6.75%,#94ff00 7.16%,#20ff00 7.78%,#05ff00 7.99%,#00ff16 8.19%,#00ff5f 8.60%,#00ff95 9.84%,#00ffcd 10.35%,#00fff4 10.66%,#00fffd 12.52%,#00ffb4 12.93%,#00ffb4 13.65%,#00fff8 13.96%,#00feff 14.06%,#00e7ff 14.99%,#009fff 15.40%,#0094ff 18.38%,#0097ff 18.48%,#00eaff 18.90%,#00fffd 19.31%,#00fff0 19.51%,#00ff6b 20.03%,#00ff54 20.13%,#00ff35 21.37%,#00ff56 21.47%,#00ffaf 21.68%,#00ffd4 21.78%,#00fffb 22.91%,#00fbff 23.01%,#00afff 23.32%,#0099ff 23.43%,#004eff 25.48%,#0056ff 26.41%,#0047ff 27.65%,#003eff 33.72%,#004cff 34.23%,#006aff 34.64%,#0095ff 35.16%,#009dff 35.47%,#0093ff 35.78%,#0069ff 36.29%,#003cff 36.81%,#002dff 37.22%,#002aff 40.41%,#002fff 49.57%,#003fff 52.35%,#0054ff 60.89%,#0084ff 66.86%,#00adff 69.84%,#00e4ff 72.21%,#00ffff 72.93%,#00ffd1 73.86%,#00ff96 74.68%,#00ff59 75.30%,#00ff07 75.92%,#09ff00 76.02%,#74ff00 76.64%,#f0ff00 77.25%,#fff900 77.36%,#ff8c00 77.97%,#ff5400 78.39%,#ff3300 78.80%,#ff2800 79.21%,#ff2d00 79.72%,#ff4800 80.14%,#ff7800 80.55%,#ffdd00 81.17%,#fcff00 81.37%,#8cff00 81.99%,#40ff00 82.50%,#06ff00 83.02%,#00ff0d 83.22%,#00ff48 84.05%,#00ffaf 85.80%,#00feff 86.93%,#00b3ff 88.06%,#008dff 88.88%,#0074ff 90.02%,#0069ff 91.87%,#005cff 99.18%,#0053ff 100.00%)"></div><div style="top:206.4px;height:2.5px;background:linear-gradient(90deg,#ffff00 0.16%,#ffeb00 0.99%,#ff9d00 1.40%,#ff8800 1.91%,#ff7500 3.46%,#ff3400 3.77%,#ff1800 4.28%,#ff2200 5.62%,#ff2c00 5.72%,#ffdc00 6.55%,#faff00 6.75%,#94ff00 7.16%,#20ff00 7.78%,#05ff00 7.99%,#00ff16 8.19%,#00ff5f 8.60%,#00ff95 9.84%,#00ffcd 10.35%,#00fff4 10.66%,#00fffd 12.52%,#00ffb4 12.93%,#00ffb4 13.65%,#00fff8 13.96%,#00feff 14.06%,#00e7ff 14.99%,#009fff 15.40%,#0094ff 18.38%,#0097ff 18.48%,#00eaff 18.90%,#00fffd 19.31%,#00fff0 19.51%,#00ff6b 20.03%,#00ff54 20.13%,#00ff35 21.37%,#00ff56 21.47%,#00ffaf 21.68%,#00ffd4 21.78%,#00fffb 22.91%,#00fbff 23.01%,#00afff 23.32%,#0099ff 23.43%,#004eff 25.48%,#0055ff 26.31%,#0047ff 27.65%,#003fff 33.82%,#0050ff 34.34%,#0092ff 35.16%,#009cff 35.47%,#0094ff 35.78%,#0068ff 36.29%,#003bff 36.81%,#002dff 37.22%,#002bff 47.51%,#0030ff 49.67%,#003fff 52.35%,#0054ff 60.89%,#0084ff 66.86%,#00acff 69.74%,#00e1ff 72.11%,#00ffff 72.93%,#00ffd0 73.86%,#00ff95 74.68%,#00ff57 75.30%,#00ff06 75.92%,#0aff00 76.02%,#75ff00 76.64%,#f1ff00 77.25%,#fff800 77.36%,#ff8b00 77.97%,#ff5400 78.39%,#ff3300 78.80%,#ff2800 79.21%,#ff2d00 79.72%,#ff4800 80.14%,#ff7800 80.55%,#ffdd00 81.17%,#fcff00 81.37%,#8cff00 81.99%,#40ff00 82.50%,#06ff00 83.02%,#00ff0d 83.22%,#00ff48 84.05%,#00ffaf 85.80%,#00ffff 86.93%,#00b3ff 88.06%,#008eff 88.88%,#0074ff 90.02%,#0069ff 91.87%,#005cff 99.18%,#0053ff 100.00%)"></div><div style="top:208.4px;height:2.5px;background:linear-gradient(90deg,#ffff00 0.16%,#ffeb00 0.99%,#ff9d00 1.40%,#ff8800 1.91%,#ff7500 3.46%,#ff3400 3.77%,#ff1800 4.28%,#ff2200 5.62%,#ff2c00 5.72%,#ffdc00 6.55%,#faff00 6.75%,#94ff00 7.16%,#20ff00 7.78%,#05ff00 7.99%,#00ff16 8.19%,#00ff5f 8.60%,#00ff95 9.84%,#00ffcd 10.35%,#00fff4 10.66%,#00fffd 12.52%,#00ffb4 12.93%,#00ffb4 13.65%,#00fff8 13.96%,#00feff 14.06%,#00e7ff 14.99%,#009fff 15.40%,#0094ff 18.38%,#0097ff 18.48%,#00eaff 18.90%,#00fffd 19.31%,#00fff0 19.51%,#00ff6b 20.03%,#00ff54 20.13%,#00ff35 21.37%,#00ff56 21.47%,#00ffaf 21.68%,#00ffd4 21.78%,#00fffb 22.91%,#00fbff 23.01%,#00afff 23.32%,#0099ff 23.43%,#004eff 25.48%,#0054ff 26.31%,#0047ff 27.65%,#003fff 33.82%,#004dff 34.34%,#0076ff 34.85%,#0095ff 35.26%,#009bff 35.57%,#008dff 35.88%,#0040ff 36.70%,#002eff 37.11%,#002aff 38.76%,#002eff 49.46%,#003fff 52.35%,#0054ff 60.89%,#0084ff 66.86%,#00acff 69.74%,#00e2ff 72.11%,#00fffe 72.93%,#00ffd0 73.86%,#00ff94 74.68%,#00ff56 75.30%,#00ff05 75.92%,#1cff00 76.12%,#8bff00 76.74%,#f3ff00 77.25%,#fff700 77.36%,#ff8a00 77.97%,#ff5300 78.39%,#ff3300 78.80%,#ff2800 79.21%,#ff2d00 79.72%,#ff4800 80.14%,#ff7800 80.55%,#ffdd00 81.17%,#fcff00 81.37%,#8cff00 81.99%,#40ff00 82.50%,#06ff00 83.02%,#00ff0d 83.22%,#00ff48 84.05%,#00ffae 85.80%,#00fffe 86.93%,#00b4ff 88.06%,#008eff 88.88%,#0074ff 90.02%,#0069ff 91.87%,#005cff 99.18%,#0053ff 100.00%)"></div><div style="top:210.4px;height:2.5px;background:linear-gradient(90deg,#ffff00 0.16%,#ffeb00 0.99%,#ff9d00 1.40%,#ff8800 1.91%,#ff7500 3.46%,#ff3400 3.77%,#ff1800 4.28%,#ff2200 5.62%,#ff2c00 5.72%,#ffdc00 6.55%,#faff00 6.75%,#94ff00 7.16%,#20ff00 7.78%,#05ff00 7.99%,#00ff16 8.19%,#00ff5f 8.60%,#00ff95 9.84%,#00ffcd 10.35%,#00fff4 10.66%,#00fffd 12.52%,#00ffb4 12.93%,#00ffb4 13.65%,#00fff8 13.96%,#00feff 14.06%,#00e7ff 14.99%,#009fff 15.40%,#0094ff 18.38%,#0097ff 18.48%,#00eaff 18.90%,#00fffd 19.31%,#00fff0 19.51%,#00ff6b 20.03%,#00ff54 20.13%,#00ff35 21.37%,#00ff56 21.47%,#00ffaf 21.68%,#00ffd4 21.78%,#00fffb 22.91%,#00fbff 23.01%,#00afff 23.32%,#0099ff 23.43%,#004eff 25.48%,#0053ff 26.31%,#0047ff 27.65%,#003eff 33.82%,#004bff 34.34%,#0072ff 34.85%,#0093ff 35.26%,#009aff 35.57%,#008eff 35.88%,#003fff 36.70%,#002eff 37.11%,#002aff 39.48%,#002eff 49.46%,#003fff 52.35%,#0054ff 60.89%,#0085ff 66.86%,#00acff 69.74%,#00e2ff 72.11%,#00fffe 72.93%,#00ffcf 73.86%,#00ff93 74.68%,#00ff55 75.30%,#00ff03 75.92%,#2eff00 76.22%,#a0ff00 76.84%,#f4ff00 77.25%,#fff600 77.36%,#ff8900 77.97%,#ff5300 78.39%,#ff3200 78.80%,#ff2800 79.21%,#ff2d00 79.72%,#ff4800 80.14%,#ff7800 80.55%,#ffdd00 81.17%,#fcff00 81.37%,#8cff00 81.99%,#40ff00 82.50%,#06ff00 83.02%,#00ff0d 83.22%,#00ff47 84.05%,#00ffae 85.80%,#00fffe 86.93%,#00aeff 88.16%,#008bff 88.99%,#0073ff 90.12%,#0069ff 92.07%,#005cff 99.18%,#0053ff 100.00%)"></div><div style="top:212.4px;height:2.5px;background:linear-gradient(90deg,#ffff00 0.16%,#ffeb00 0.99%,#ff9d00 1.40%,#ff8800 1.91%,#ff7500 3.46%,#ff3400 3.77%,#ff1800 4.28%,#ff2200 5.62%,#ff2c00 5.72%,#ffdc00 6.55%,#faff00 6.75%,#94ff00 7.16%,#20ff00 7.78%,#05ff00 7.99%,#00ff16 8.19%,#00ff5f 8.60%,#00ff95 9.84%,#00ffcd 10.35%,#00fff4 10.66%,#00fffd 12.52%,#00ffb4 12.93%,#00ffb4 13.65%,#00fff8 13.96%,#00feff 14.06%,#00e7ff 14.99%,#009fff 15.40%,#0094ff 18.38%,#0097ff 18.48%,#00eaff 18.90%,#00fffd 19.31%,#00fff0 19.51%,#00ff6b 20.03%,#00ff54 20.13%,#00ff35 21.37%,#00ff56 21.47%,#00ffaf 21.68%,#00ffd4 21.78%,#00fffb 22.91%,#00fbff 23.01%,#00afff 23.32%,#0099ff 23.43%,#004eff 25.48%,#0052ff 26.31%,#0047ff 27.65%,#003fff 33.92%,#004fff 34.44%,#0090ff 35.26%,#0099ff 35.57%,#008dff 35.88%,#003eff 36.70%,#002dff 37.11%,#002aff 40.51%,#002fff 49.57%,#003fff 52.35%,#0054ff 60.89%,#0085ff 66.86%,#00adff 69.74%,#00e3ff 72.11%,#00fffd 72.93%,#00ffce 73.86%,#00ff92 74.68%,#00ff54 75.30%,#00ff02 75.92%,#41ff00 76.33%,#cbff00 77.05%,#f5ff00 77.25%,#fff500 77.36%,#ff8900 77.97%,#ff5300 78.39%,#ff3200 78.80%,#ff2700 79.21%,#ff2d00 79.72%,#ff4800 80.14%,#ff7800 80.55%,#ffdd00 81.17%,#fcff00 81.37%,#8cff00 81.99%,#40ff00 82.50%,#06ff00 83.02%,#00ff0d 83.22%,#00ff47 84.05%,#00ffad 85.80%,#00fffd 86.93%,#00afff 88.16%,#008cff 88.99%,#0073ff 90.12%,#0069ff 92.07%,#005cff 99.18%,#0053ff 100.00%)"></div><div style="top:214.4px;height:2.5px;background:linear-gradient(90deg,#ffff00 0.16%,#ffeb00 0.99%,#ff9d00 1.40%,#ff8800 1.91%,#ff7500 3.46%,#ff3400 3.77%,#ff1800 4.28%,#ff2200 5.62%,#ff2c00 5.72%,#ffdc00 6.55%,#faff00 6.75%,#94ff00 7.16%,#20ff00 7.78%,#05ff00 7.99%,#00ff16 8.19%,#00ff5f 8.60%,#00ff95 9.84%,#00ffcd 10.35%,#00fff4 10.66%,#00fffd 12.52%,#00ffb4 12.93%,#00ffb4 13.65%,#00fff8 13.96%,#00feff 14.06%,#00e7ff 14.99%,#009fff 15.40%,#0094ff 18.38%,#0097ff 18.48%,#00eaff 18.90%,#00fffd 19.31%,#00fff0 19.51%,#00ff6b 20.03%,#00ff54 20.13%,#00ff35 21.37%,#00ff56 21.47%,#00ffaf 21.68%,#00ffd4 21.78%,#00fffb 22.91%,#00fbff 23.01%,#00afff 23.32%,#0099ff 23.43%,#004eff 25.48%,#0050ff 26.31%,#0047ff 27.75%,#003eff 33.92%,#004dff 34.44%,#0093ff 35.36%,#0097ff 35.67%,#0085ff 35.98%,#0045ff 36.60%,#0032ff 36.91%,#002aff 37.63%,#002eff 49.46%,#003fff 52.35%,#0054ff 60.89%,#0085ff 66.86%,#00adff 69.74%,#00e3ff 72.11%,#00fffc 72.93%,#00ffcd 73.86%,#00ff91 74.68%,#00ff53 75.30%,#00ff01 75.92%,#54ff00 76.43%,#f6ff00 77.25%,#fff400 77.36%,#ff8800 77.97%,#ff5200 78.39%,#ff3200 78.80%,#ff2700 79.21%,#ff2e00 79.72%,#ff4800 80.14%,#ff7800 80.55%,#ffdd00 81.17%,#fcff00 81.37%,#8cff00 81.99%,#40ff00 82.50%,#06ff00 83.02%,#00ff0d 83.22%,#00ff47 84.05%,#00ffad 85.80%,#00fffd 86.93%,#00aaff 88.27%,#0089ff 89.09%,#0071ff 90.33%,#0069ff 92.59%,#005cff 99.18%,#0053ff 100.00%)"></div><div style="top:216.4px;height:2.5px;background:linear-gradient(90deg,#ffff00 0.16%,#ffeb00 0.99%,#ff9d00 1.40%,#ff8800 1.91%,#ff7500 3.46%,#ff3400 3.77%,#ff1800 4.28%,#ff2200 5.62%,#ff2c00 5.72%,#ffdc00 6.55%,#faff00 6.75%,#94ff00 7.16%,#20ff00 7.78%,#05ff00 7.99%,#00ff16 8.19%,#00ff5f 8.60%,#00ff95 9.84%,#00ffcd 10.35%,#00fff4 10.66%,#00fffd 12.52%,#00ffb4 12.93%,#00ffb4 13.65%,#00fff8 13.96%,#00feff 14.06%,#00e7ff 14.99%,#009fff 15.40%,#0094ff 18.38%,#0097ff 18.48%,#00eaff 18.90%,#00fffd 19.31%,#00fff0 19.51%,#00ff6b 20.03%,#00ff54 20.13%,#00ff35 21.37%,#00ff56 21.47%,#00ffaf 21.68%,#00ffd4 21.78%,#00fffb 22.91%,#00fbff 23.01%,#00afff 23.32%,#0099ff 23.43%,#004eff 25.48%,#004fff 26.31%,#0046ff 28.06%,#003eff 33.92%,#004bff 34.44%,#0071ff 34.95%,#0090ff 35.36%,#0096ff 35.67%,#0084ff 35.98%,#0044ff 36.60%,#0032ff 36.91%,#002aff 37.63%,#002eff 49.46%,#003fff 52.35%,#0054ff 60.89%,#0085ff 66.86%,#00adff 69.74%,#00e4ff 72.11%,#00fffc 72.93%,#00ffcd 73.86%,#00ff90 74.68%,#00ff52 75.30%,#00ff00 75.92%,#69ff00 76.53%,#f7ff00 77.25%,#fff300 77.36%,#ff8700 77.97%,#ff5200 78.39%,#ff3200 78.80%,#ff2700 79.21%,#ff2e00 79.72%,#ff4800 80.14%,#ff7900 80.55%,#ffdd00 81.17%,#fcff00 81.37%,#8cff00 81.99%,#40ff00 82.50%,#06ff00 83.02%,#00ff0d 83.22%,#00ff47 84.05%,#00ffac 85.80%,#00fffc 86.93%,#00aaff 88.27%,#0089ff 89.09%,#0071ff 90.33%,#006aff 92.59%,#005cff 99.18%,#0053ff 100.00%)"></div><div style="top:218.4px;height:2.5px;background:linear-gradient(90deg,#ffff00 0.16%,#ffeb00 0.99%,#ff9d00 1.40%,#ff8800 1.91%,#ff7500 3.46%,#ff3400 3.77%,#ff1800 4.28%,#ff2200 5.62%,#ff2c00 5.72%,#ffdc00 6.55%,#faff00 6.75%,#94ff00 7.16%,#20ff00 7.78%,#05ff00 7.99%,#00ff16 8.19%,#00ff5f 8.60%,#00ff95 9.84%,#00ffcd 10.35%,#00fff4 10.66%,#00fffd 12.52%,#00ffb4 12.93%,#00ffb4 13.65%,#00fff8 13.96%,#00feff 14.06%,#00e7ff 14.99%,#009fff 15.40%,#0094ff 18.38%,#0097ff 18.48%,#00eaff 18.90%,#00fffd 19.31%,#00fff0 19.51%,#00ff6b 20.03%,#00ff54 20.13%,#00ff35 21.37%,#00ff56 21.47%,#00ffaf 21.68%,#00ffd4 21.78%,#00fffb 22.91%,#00fbff 23.01%,#00afff 23.32%,#0099ff 23.43%,#004eff 25.48%,#004dff 26.41%,#0042ff 30.42%,#003eff 34.03%,#004eff 34.54%,#008eff 35.36%,#0094ff 35.67%,#0083ff 35.98%,#0043ff 36.60%,#0032ff 36.91%,#002aff 37.63%,#002eff 49.46%,#003fff 52.35%,#0054ff 60.89%,#0085ff 66.86%,#00adff 69.74%,#00e4ff 72.11%,#00feff 72.83%,#00ffd2 73.75%,#00ff8f 74.68%,#00ff51 75.30%,#02ff00 75.92%,#6aff00 76.53%,#f9ff00 77.25%,#fff200 77.36%,#ff8600 77.97%,#ff5100 78.39%,#ff3100 78.80%,#ff2700 79.21%,#ff2e00 79.72%,#ff4800 80.14%,#ff7900 80.55%,#ffdd00 81.17%,#fcff00 81.37%,#8cff00 81.99%,#40ff00 82.50%,#06ff00 83.02%,#00ff0d 83.22%,#00ff47 84.05%,#00ffac 85.80%,#00fffb 86.93%,#00ddff 87.44%,#00a1ff 88.47%,#0081ff 89.40%,#006eff 90.74%,#005cff 99.18%,#0053ff 100.00%)"></div><div style="top:220.4px;height:2.5px;background:linear-gradient(90deg,#ffff00 0.16%,#ffeb00 0.99%,#ff9d00 1.40%,#ff8800 1.91%,#ff7500 3.46%,#ff3400 3.77%,#ff1800 4.28%,#ff2200 5.62%,#ff2c00 5.72%,#ffdc00 6.55%,#faff00 6.75%,#94ff00 7.16%,#20ff00 7.78%,#05ff00 7.99%,#00ff16 8.19%,#00ff5f 8.60%,#00ff95 9.84%,#00ffcd 10.35%,#00fff4 10.66%,#00fffd 12.52%,#00ffb4 12.93%,#00ffb4 13.65%,#00fff8 13.96%,#00feff 14.06%,#00e7ff 14.99%,#009fff 15.40%,#0094ff 18.38%,#0097ff 18.48%,#00eaff 18.90%,#00fffd 19.31%,#00fff0 19.51%,#00ff6b 20.03%,#00ff54 20.13%,#00ff35 21.37%,#00ff56 21.47%,#00ffaf 21.68%,#00ffd4 21.78%,#00fffb 22.91%,#00fbff 23.01%,#00afff 23.32%,#0099ff 23.43%,#004eff 25.48%,#004aff 26.62%,#003eff 34.03%,#004cff 34.54%,#0090ff 35.47%,#008fff 35.78%,#0078ff 36.08%,#0043ff 36.60%,#0032ff 36.91%,#002aff 37.63%,#002eff 49.46%,#003fff 52.35%,#0054ff 60.89%,#0085ff 66.86%,#00aeff 69.74%,#00e5ff 72.11%,#00ffff 72.83%,#00ffcb 73.86%,#00ff8e 74.68%,#00ff50 75.30%,#03ff00 75.92%,#6bff00 76.53%,#faff00 77.25%,#ffdd00 77.46%,#ff8600 77.97%,#ff5100 78.39%,#ff3100 78.80%,#ff2700 79.21%,#ff2e00 79.72%,#ff4800 80.14%,#ff7900 80.55%,#ffde00 81.17%,#fcff00 81.37%,#8cff00 81.99%,#40ff00 82.50%,#06ff00 83.02%,#00ff0d 83.22%,#00ff47 84.05%,#00ffab 85.80%,#00fcff 87.03%,#00b1ff 88.16%,#008dff 88.99%,#0074ff 90.12%,#006aff 92.07%,#005cff 99.18%,#0053ff 100.00%)"></div><div style="top:222.4px;height:2.5px;background:linear-gradient(90deg,#ffff00 0.16%,#ffeb00 0.99%,#ff9d00 1.40%,#ff8800 1.91%,#ff7500 3.46%,#ff3400 3.77%,#ff1800 4.28%,#ff2200 5.62%,#ff2c00 5.72%,#ffdc00 6.55%,#faff00 6.75%,#94ff00 7.16%,#20ff00 7.78%,#05ff00 7.99%,#00ff16 8.19%,#00ff5f 8.60%,#00ff95 9.84%,#00ffcd 10.35%,#00fff4 10.66%,#00fffd 12.52%,#00ffb4 12.93%,#00ffb4 13.65%,#00fff8 13.96%,#00feff 14.06%,#00e7ff 14.99%,#009fff 15.40%,#0094ff 18.38%,#0097ff 18.48%,#00eaff 18.90%,#00fffd 19.31%,#00fff0 19.51%,#00ff6b 20.03%,#00ff54 20.13%,#00ff35 21.37%,#00ff56 21.47%,#00ffaf 21.68%,#00ffd4 21.78%,#00fffb 22.91%,#00fbff 23.01%,#00afff 23.32%,#0099ff 23.43%,#004eff 25.48%,#003eff 34.03%,#004aff 34.54%,#006fff 35.06%,#008dff 35.47%,#008eff 35.78%,#0077ff 36.08%,#0043ff 36.60%,#0032ff 36.91%,#002aff 37.63%,#002eff 49.46%,#003fff 52.35%,#0054ff 60.89%,#0084ff 66.76%,#00aeff 69.74%,#00e5ff 72.11%,#00fffe 72.83%,#00ffca 73.86%,#00ff8d 74.68%,#00ff4f 75.30%,#00ff0b 75.81%,#04ff00 75.92%,#6dff00 76.53%,#fbff00 77.25%,#ffb800 77.67%,#ff6800 78.18%,#ff3e00 78.59%,#ff2a00 79.00%,#ff2800 79.52%,#ff3800 79.93%,#ff5e00 80.34%,#ffa800 80.86%,#fcff00 81.37%,#8cff00 81.99%,#40ff00 82.50%,#06ff00 83.02%,#00ff0d 83.22%,#00ff47 84.05%,#00ffab 85.80%,#00fcff 87.03%,#00b1ff 88.16%,#008dff 88.99%,#0074ff 90.12%,#006aff 92.07%,#005cff 99.18%,#0053ff 100.00%)"></div><div style="top:224.4px;height:2.5px;background:linear-gradient(90deg,#ffff00 0.16%,#ffeb00 0.99%,#ff9d00 1.40%,#ff8800 1.91%,#ff7500 3.46%,#ff3400 3.77%,#ff1800 4.28%,#ff2200 5.62%,#ff2c00 5.72%,#ffdc00 6.55%,#faff00 6.75%,#94ff00 7.16%,#20ff00 7.78%,#05ff00 7.99%,#00ff16 8.19%,#00ff5f 8.60%,#00ff95 9.84%,#00ffcd 10.35%,#00fff4 10.66%,#00fffd 12.52%,#00ffb4 12.93%,#00ffb4 13.65%,#00fff8 13.96%,#00feff 14.06%,#00e7ff 14.99%,#009fff 15.40%,#0094ff 18.38%,#0097ff 18.48%,#00eaff 18.90%,#00fffd 19.31%,#00fff0 19.51%,#00ff6b 20.03%,#00ff54 20.13%,#00ff35 21.37%,#00ff56 21.47%,#00ffaf 21.68%,#00ffd4 21.78%,#00fffb 22.91%,#00fbff 23.01%,#00afff 23.32%,#0099ff 23.43%,#004dff 25.48%,#003eff 34.13%,#004eff 34.64%,#0089ff 35.47%,#008bff 35.78%,#0076ff 36.08%,#0043ff 36.60%,#0032ff 36.91%,#002aff 37.63%,#002eff 49.46%,#003fff 52.35%,#0055ff 60.89%,#0084ff 66.76%,#00acff 69.64%,#00e6ff 72.11%,#00fffe 72.83%,#00ffca 73.86%,#00ff8d 74.68%,#00ff4e 75.30%,#00ff0a 75.81%,#05ff00 75.92%,#6eff00 76.53%,#fcff00 77.25%,#ff8400 77.97%,#ff5000 78.39%,#ff3100 78.80%,#ff2700 79.21%,#ff2e00 79.72%,#ff4800 80.14%,#ff7900 80.55%,#ffde00 81.17%,#fcff00 81.37%,#8cff00 81.99%,#40ff00 82.50%,#06ff00 83.02%,#00ff0d 83.22%,#00ff47 84.05%,#00ffaa 85.80%,#00fdff 87.03%,#00b2ff 88.16%,#008eff 88.99%,#0075ff 90.12%,#006aff 91.97%,#005cff 99.18%,#0053ff 100.00%)"></div><div style="top:226.4px;height:2.5px;background:linear-gradient(90deg,#ffff00 0.16%,#ffeb00 0.99%,#ff9d00 1.40%,#ff8800 1.91%,#ff7500 3.46%,#ff3400 3.77%,#ff1800 4.28%,#ff2200 5.62%,#ff2c00 5.72%,#ffdc00 6.55%,#faff00 6.75%,#94ff00 7.16%,#20ff00 7.78%,#05ff00 7.99%,#00ff16 8.19%,#00ff5f 8.60%,#00ff95 9.84%,#00ffcd 10.35%,#00fff4 10.66%,#00fffd 12.52%,#00ffb4 12.93%,#00ffb4 13.65%,#00fff8 13.96%,#00feff 14.06%,#00e7ff 14.99%,#009fff 15.40%,#0094ff 18.38%,#0097ff 18.48%,#00eaff 18.90%,#00fffd 19.31%,#00fff0 19.51%,#00ff6b 20.03%,#00ff54 20.13%,#00ff35 21.37%,#00ff56 21.47%,#00ffaf 21.68%,#00ffd4 21.78%,#00fffb 22.91%,#00fbff 23.01%,#00afff 23.32%,#0099ff 23.43%,#004dff 25.48%,#003eff 34.13%,#004cff 34.64%,#0086ff 35.47%,#0089ff 35.78%,#0075ff 36.08%,#003cff 36.70%,#002eff 37.11%,#002aff 39.89%,#002eff 49.46%,#003fff 52.35%,#0055ff 60.89%,#0085ff 66.76%,#00adff 69.64%,#00e6ff 72.11%,#00fffd 72.83%,#00ffc9 73.86%,#00ff8c 74.68%,#00ff4c 75.30%,#00ff09 75.81%,#07ff00 75.92%,#6fff00 76.53%,#fdff00 77.25%,#ff8400 77.97%,#ff4f00 78.39%,#ff3100 78.80%,#ff2700 79.21%,#ff2e00 79.72%,#ff4800 80.14%,#ff7900 80.55%,#ffde00 81.17%,#fcff00 81.37%,#8cff00 81.99%,#40ff00 82.50%,#06ff00 83.02%,#00ff0d 83.22%,#00ff47 84.05%,#00ffaa 85.80%,#00feff 87.03%,#00b2ff 88.16%,#008eff 88.99%,#0075ff 90.12%,#006aff 91.97%,#005cff 99.18%,#0053ff 100.00%)"></div><div style="top:228.4px;height:2.5px;background:linear-gradient(90deg,#ffff00 0.16%,#ffeb00 0.99%,#ff9d00 1.40%,#ff8800 1.91%,#ff7500 3.46%,#ff3400 3.77%,#ff1800 4.28%,#ff2200 5.62%,#ff2c00 5.72%,#ffdc00 6.55%,#faff00 6.75%,#94ff00 7.16%,#20ff00 7.78%,#05ff00 7.99%,#00ff16 8.19%,#00ff5f 8.60%,#00ff95 9.84%,#00ffcd 10.35%,#00fff4 10.66%,#00fffd 12.52%,#00ffb4 12.93%,#00ffb4 13.65%,#00fff8 13.96%,#00feff 14.06%,#00e7ff 14.99%,#009fff 15.40%,#0094ff 18.38%,#0097ff 18.48%,#00eaff 18.90%,#00fffd 19.31%,#00fff0 19.51%,#00ff6b 20.03%,#00ff54 20.13%,#00ff35 21.37%,#00ff56 21.47%,#00ffaf 21.68%,#00ffd4 21.78%,#00fffb 22.91%,#00fbff 23.01%,#00afff 23.32%,#0099ff 23.43%,#004cff 25.48%,#003dff 34.13%,#004aff 34.64%,#0074ff 35.26%,#0086ff 35.57%,#0082ff 35.88%,#0060ff 36.29%,#003dff 36.70%,#002eff 37.11%,#002aff 39.38%,#002eff 49.46%,#003fff 52.35%,#0055ff 60.89%,#0085ff 66.76%,#00adff 69.64%,#00e7ff 72.11%,#00fffd 72.83%,#00ffc8 73.86%,#00ff8b 74.68%,#00ff4b 75.30%,#00ff08 75.81%,#08ff00 75.92%,#70ff00 76.53%,#ffff00 77.25%,#ff9300 77.87%,#ff5a00 78.28%,#ff3600 78.69%,#ff2800 79.11%,#ff2a00 79.62%,#ff4000 80.03%,#ff6b00 80.44%,#ffba00 80.96%,#fcff00 81.37%,#8cff00 81.99%,#40ff00 82.50%,#06ff00 83.02%,#00ff0d 83.22%,#00ff47 84.05%,#00ffa9 85.80%,#00feff 87.03%,#00b3ff 88.16%,#008eff 88.99%,#0075ff 90.12%,#006aff 91.97%,#005cff 99.18%,#0053ff 100.00%)"></div><div style="top:230.4px;height:2.5px;background:linear-gradient(90deg,#ffff00 0.16%,#ffeb00 0.99%,#ff9d00 1.40%,#ff8800 1.91%,#ff7500 3.46%,#ff3400 3.77%,#ff1800 4.28%,#ff2200 5.62%,#ff2c00 5.72%,#ffdc00 6.55%,#faff00 6.75%,#94ff00 7.16%,#20ff00 7.78%,#05ff00 7.99%,#00ff16 8.19%,#00ff5f 8.60%,#00ff95 9.84%,#00ffcd 10.35%,#00fff4 10.66%,#00fffd 12.52%,#00ffb4 12.93%,#00ffb4 13.65%,#00fff8 13.96%,#00feff 14.06%,#00e7ff 14.99%,#009fff 15.40%,#0094ff 18.38%,#0097ff 18.48%,#00eaff 18.90%,#00fffd 19.31%,#00fff0 19.51%,#00ff6b 20.03%,#00ff54 20.13%,#00ff35 21.37%,#00ff56 21.47%,#00ffaf 21.68%,#00ffd4 21.78%,#00fffb 22.91%,#00fbff 23.01%,#00afff 23.32%,#0099ff 23.43%,#004bff 25.48%,#003eff 34.23%,#004dff 34.75%,#0082ff 35.57%,#0080ff 35.88%,#0060ff 36.29%,#0038ff 36.81%,#002bff 37.32%,#002eff 49.46%,#003fff 52.35%,#0055ff 60.89%,#0085ff 66.76%,#00adff 69.64%,#00e7ff 72.11%,#00fffc 72.83%,#00ffc8 73.86%,#00ff8a 74.68%,#00ff4a 75.30%,#00ff06 75.81%,#09ff00 75.92%,#72ff00 76.53%,#fffe00 77.25%,#ff9200 77.87%,#ff5a00 78.28%,#ff3600 78.69%,#ff2700 79.11%,#ff2a00 79.62%,#ff4000 80.03%,#ff6b00 80.44%,#ffba00 80.96%,#fcff00 81.37%,#7bff00 82.09%,#33ff00 82.61%,#06ff00 83.02%,#00ff0d 83.22%,#00ff47 84.05%,#00ffa9 85.80%,#00ffff 87.03%,#00b3ff 88.16%,#008fff 88.99%,#0075ff 90.12%,#006aff 91.97%,#005cff 99.18%,#0053ff 100.00%)"></div><div style="top:232.4px;height:0.8px;background:linear-gradient(90deg,#ffff00 0.16%,#ffeb00 0.99%,#ff9d00 1.40%,#ff8800 1.91%,#ff7500 3.46%,#ff3400 3.77%,#ff1800 4.28%,#ff2200 5.62%,#ff2c00 5.72%,#ffdc00 6.55%,#faff00 6.75%,#94ff00 7.16%,#20ff00 7.78%,#05ff00 7.99%,#00ff16 8.19%,#00ff5f 8.60%,#00ff95 9.84%,#00ffcd 10.35%,#00fff4 10.66%,#00fffd 12.52%,#00ffb4 12.93%,#00ffb4 13.65%,#00fff8 13.96%,#00feff 14.06%,#00e7ff 14.99%,#009fff 15.40%,#0094ff 18.38%,#0097ff 18.48%,#00eaff 18.90%,#00fffd 19.31%,#00ffef 19.51%,#00ff6b 20.03%,#00ff54 20.13%,#00ff35 21.37%,#00ff56 21.47%,#00ffaf 21.68%,#00ffd4 21.78%,#00fffb 22.91%,#00fbff 23.01%,#00afff 23.32%,#0099ff 23.43%,#004bff 25.48%,#003eff 34.23%,#004cff 34.75%,#007fff 35.57%,#007eff 35.88%,#0060ff 36.29%,#0038ff 36.81%,#002bff 37.32%,#002eff 49.46%,#003fff 52.35%,#0055ff 60.89%,#0085ff 66.76%,#00adff 69.64%,#00e8ff 72.11%,#00fffc 72.83%,#00ffc7 73.86%,#00ff89 74.68%,#00ff4a 75.30%,#00ff06 75.81%,#0aff00 75.92%,#73ff00 76.53%,#fffe00 77.25%,#ff9100 77.87%,#ff5900 78.28%,#ff3500 78.69%,#ff2700 79.11%,#ff2a00 79.62%,#ff4000 80.03%,#ff6b00 80.44%,#ffba00 80.96%,#fcff00 81.37%,#7bff00 82.09%,#33ff00 82.61%,#06ff00 83.02%,#00ff0d 83.22%,#00ff47 84.05%,#00ffa9 85.80%,#00ffff 87.03%,#00b4ff 88.16%,#008fff 88.99%,#0075ff 90.12%,#006aff 91.97%,#005cff 99.18%,#0053ff 100.00%)"></div></div>
<div class="cb" style="left:294.2px;top:6.7px;width:15.8px;height:231.6px"></div>
<div class="cb" style="left:637.6px;top:6.7px;width:15.3px;height:231.6px"></div>
<svg width="675" height="272" viewBox="0 0 675 272">
<rect x="44.5" y="5.6" width="242.5" height="1" fill="#000" fill-opacity="0.14"/>
<line x1="44.85" y1="5.5" x2="44.85" y2="238.3" class="ax"/>
<line x1="44.0" y1="237.8" x2="287.0" y2="237.8" class="ax"/>
<line x1="40.0" y1="5.50" x2="44.5" y2="5.50" class="tk"/>
<text x="38.0" y="9.90" class="tl yl" text-anchor="end">75</text>
<line x1="42.2" y1="28.73" x2="44.5" y2="28.73" class="tk"/>
<line x1="40.0" y1="51.96" x2="44.5" y2="51.96" class="tk"/>
<text x="38.0" y="56.36" class="tl yl" text-anchor="end">60</text>
<line x1="42.2" y1="75.19" x2="44.5" y2="75.19" class="tk"/>
<line x1="40.0" y1="98.42" x2="44.5" y2="98.42" class="tk"/>
<text x="38.0" y="102.82" class="tl yl" text-anchor="end">45</text>
<line x1="42.2" y1="121.65" x2="44.5" y2="121.65" class="tk"/>
<line x1="40.0" y1="144.88" x2="44.5" y2="144.88" class="tk"/>
<text x="38.0" y="149.28" class="tl yl" text-anchor="end">30</text>
<line x1="42.2" y1="168.11" x2="44.5" y2="168.11" class="tk"/>
<line x1="40.0" y1="191.34" x2="44.5" y2="191.34" class="tk"/>
<text x="38.0" y="195.74" class="tl yl" text-anchor="end">15</text>
<line x1="42.2" y1="214.57" x2="44.5" y2="214.57" class="tk"/>
<line x1="40.0" y1="237.80" x2="44.5" y2="237.80" class="tk"/>
<text x="38.0" y="242.20" class="tl yl" text-anchor="end">0</text>
<line x1="44.76" y1="237.8" x2="44.76" y2="240.4" class="tk"/>
<line x1="107.19" y1="237.8" x2="107.19" y2="240.4" class="tk"/>
<line x1="138.88" y1="237.8" x2="138.88" y2="240.4" class="tk"/>
<line x1="161.37" y1="237.8" x2="161.37" y2="240.4" class="tk"/>
<line x1="178.81" y1="237.8" x2="178.81" y2="240.4" class="tk"/>
<line x1="193.07" y1="237.8" x2="193.07" y2="240.4" class="tk"/>
<line x1="205.12" y1="237.8" x2="205.12" y2="240.4" class="tk"/>
<line x1="215.56" y1="237.8" x2="215.56" y2="240.4" class="tk"/>
<line x1="224.76" y1="237.8" x2="224.76" y2="240.4" class="tk"/>
<line x1="287.19" y1="237.8" x2="287.19" y2="240.4" class="tk"/>
<line x1="53.00" y1="237.8" x2="53.00" y2="242.4" class="tk"/>
<text x="53.00" y="255.00" class="tl" text-anchor="middle">1</text>
<line x1="233.00" y1="237.8" x2="233.00" y2="242.4" class="tk"/>
<text x="233.00" y="255.00" class="tl" text-anchor="middle">10</text>
<text x="170.30" y="268.10" class="at" text-anchor="middle">Wavelength(μm)</text>
<text transform="translate(19.50,128.0) rotate(-90)" class="at" style="font-size:12.2px" text-anchor="middle">Incident angle(deg)</text>
<text x="0.6" y="17.4" class="pl">(a)</text>
<text x="71.0" y="30.7" class="tt" textLength="24.4" lengthAdjust="spacingAndGlyphs">TE</text>
<rect x="390.0" y="5.6" width="242.7" height="1" fill="#000" fill-opacity="0.14"/>
<line x1="390.35" y1="5.5" x2="390.35" y2="238.3" class="ax"/>
<line x1="389.5" y1="237.8" x2="632.7" y2="237.8" class="ax"/>
<line x1="385.5" y1="5.50" x2="390.0" y2="5.50" class="tk"/>
<text x="383.5" y="9.90" class="tl yl" text-anchor="end">75</text>
<line x1="387.7" y1="28.73" x2="390.0" y2="28.73" class="tk"/>
<line x1="385.5" y1="51.96" x2="390.0" y2="51.96" class="tk"/>
<text x="383.5" y="56.36" class="tl yl" text-anchor="end">60</text>
<line x1="387.7" y1="75.19" x2="390.0" y2="75.19" class="tk"/>
<line x1="385.5" y1="98.42" x2="390.0" y2="98.42" class="tk"/>
<text x="383.5" y="102.82" class="tl yl" text-anchor="end">45</text>
<line x1="387.7" y1="121.65" x2="390.0" y2="121.65" class="tk"/>
<line x1="385.5" y1="144.88" x2="390.0" y2="144.88" class="tk"/>
<text x="383.5" y="149.28" class="tl yl" text-anchor="end">30</text>
<line x1="387.7" y1="168.11" x2="390.0" y2="168.11" class="tk"/>
<line x1="385.5" y1="191.34" x2="390.0" y2="191.34" class="tk"/>
<text x="383.5" y="195.74" class="tl yl" text-anchor="end">15</text>
<line x1="387.7" y1="214.57" x2="390.0" y2="214.57" class="tk"/>
<line x1="385.5" y1="237.80" x2="390.0" y2="237.80" class="tk"/>
<text x="383.5" y="242.20" class="tl yl" text-anchor="end">0</text>
<line x1="390.26" y1="237.8" x2="390.26" y2="240.4" class="tk"/>
<line x1="452.69" y1="237.8" x2="452.69" y2="240.4" class="tk"/>
<line x1="484.38" y1="237.8" x2="484.38" y2="240.4" class="tk"/>
<line x1="506.87" y1="237.8" x2="506.87" y2="240.4" class="tk"/>
<line x1="524.31" y1="237.8" x2="524.31" y2="240.4" class="tk"/>
<line x1="538.57" y1="237.8" x2="538.57" y2="240.4" class="tk"/>
<line x1="550.62" y1="237.8" x2="550.62" y2="240.4" class="tk"/>
<line x1="561.06" y1="237.8" x2="561.06" y2="240.4" class="tk"/>
<line x1="570.26" y1="237.8" x2="570.26" y2="240.4" class="tk"/>
<line x1="632.69" y1="237.8" x2="632.69" y2="240.4" class="tk"/>
<line x1="398.50" y1="237.8" x2="398.50" y2="242.4" class="tk"/>
<text x="398.50" y="255.00" class="tl" text-anchor="middle">1</text>
<line x1="578.50" y1="237.8" x2="578.50" y2="242.4" class="tk"/>
<text x="578.50" y="255.00" class="tl" text-anchor="middle">10</text>
<text x="515.80" y="268.10" class="at" text-anchor="middle">Wavelength(μm)</text>
<text transform="translate(365.00,128.0) rotate(-90)" class="at" style="font-size:12.2px" text-anchor="middle">Incident angle(deg)</text>
<text x="340.9" y="17.4" class="pl">(b)</text>
<text x="415.9" y="28.4" class="tt" textLength="30.3" lengthAdjust="spacingAndGlyphs">TM</text>
<text x="317.5" y="10.6" class="tl">1.0</text>
<text x="317.5" y="126.1" class="tl">0.5</text>
<text x="317.5" y="240.9" class="tl">0.0</text>
<text x="660.5" y="10.6" class="tl">1.0</text>
<text x="660.5" y="126.1" class="tl">0.5</text>
<text x="660.5" y="240.9" class="tl">0.0</text>
</svg>
</body></html>
